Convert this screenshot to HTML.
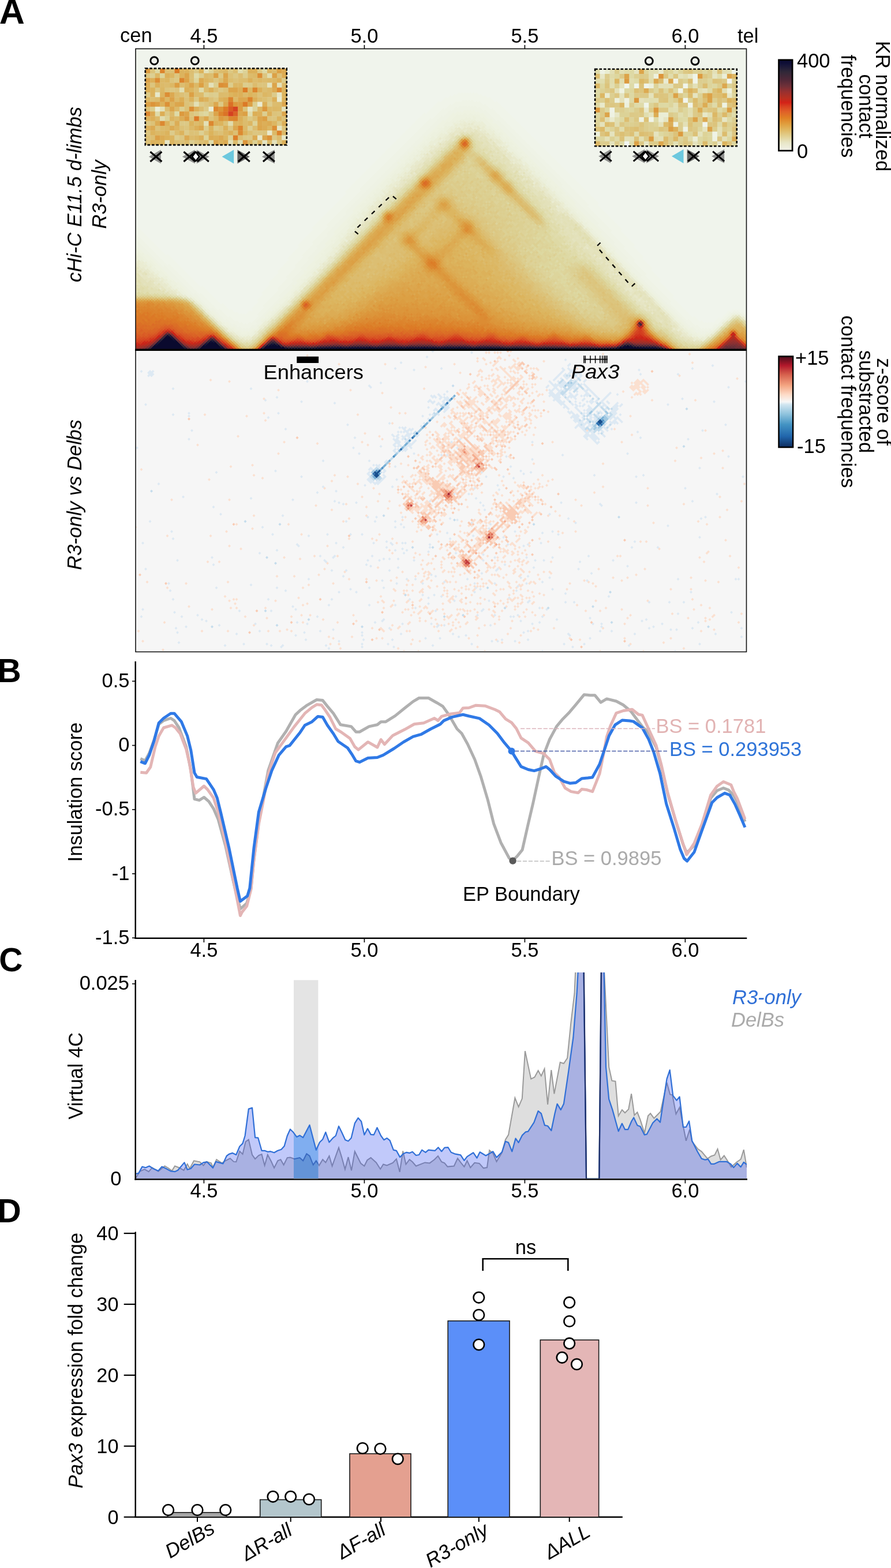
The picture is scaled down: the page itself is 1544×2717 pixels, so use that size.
<!DOCTYPE html><html><head><meta charset="utf-8"><title>Figure</title><style>html,body{margin:0;padding:0;background:#fff;}svg{display:block;}</style></head><body>
<svg width="1544" height="2717" viewBox="0 0 1544 2717" font-family="'Liberation Sans', Arial, Helvetica, sans-serif" font-size="34.5">
<defs><linearGradient id="cbA" x1="0" y1="1" x2="0" y2="0"><stop offset="0" stop-color="#f2f2ea"/><stop offset="0.09" stop-color="#e8e6c6"/><stop offset="0.16" stop-color="#e2d092"/><stop offset="0.23" stop-color="#e0b862"/><stop offset="0.29" stop-color="#e0a040"/><stop offset="0.36" stop-color="#e08024"/><stop offset="0.43" stop-color="#e06028"/><stop offset="0.49" stop-color="#d84020"/><stop offset="0.53" stop-color="#d42218"/><stop offset="0.58" stop-color="#b83020"/><stop offset="0.65" stop-color="#983030"/><stop offset="0.71" stop-color="#703038"/><stop offset="0.78" stop-color="#502838"/><stop offset="0.87" stop-color="#302838"/><stop offset="0.96" stop-color="#101038"/><stop offset="1" stop-color="#080830"/></linearGradient><linearGradient id="cbZ" x1="0" y1="1" x2="0" y2="0"><stop offset="0" stop-color="#0d2c5e"/><stop offset="0.12" stop-color="#2166ac"/><stop offset="0.25" stop-color="#4393c3"/><stop offset="0.37" stop-color="#92c5de"/><stop offset="0.47" stop-color="#d1e5f0"/><stop offset="0.5" stop-color="#f7f7f7"/><stop offset="0.58" stop-color="#fddbc7"/><stop offset="0.68" stop-color="#f4a582"/><stop offset="0.8" stop-color="#d6604d"/><stop offset="0.9" stop-color="#b2182b"/><stop offset="1" stop-color="#4a0d1c"/></linearGradient><clipPath id="clipHic"><rect x="235" y="85" width="1058" height="520"/></clipPath><clipPath id="clipZ"><rect x="235" y="608" width="1058" height="520"/></clipPath><clipPath id="clipC"><rect x="236" y="1685" width="1058" height="357"/></clipPath><clipPath id="clipEnh"><rect x="509" y="1685" width="42.4" height="357"/></clipPath></defs>
<rect width="1544" height="2717" fill="#fff"/>
<g font-weight="bold" font-size="57"><text x="-1.2" y="40.8" font-size="61">A</text><text x="-4.5" y="1182.4">B</text><text x="-1.8" y="1683">C</text><text x="-4.6" y="2117.7">D</text></g>
<g clip-path="url(#clipHic)"><g transform="matrix(0.5,0.5,0.5,-0.5,0,605.0)" shape-rendering="crispEdges"><path fill="#f0f4ec" d="M-295 750h5v10h-5zM-290 745h5v20h-5zM-285 740h5v30h-5zM-280 735h5v40h-5zM-275 730h5v50h-5zM-270 725h5v60h-5zM-265 720h5v70h-5zM-260 715h5v80h-5zM-255 710h5v90h-5zM-250 705h5v100h-5zM-245 700h5v110h-5zM-240 695h5v120h-5zM-235 690h5v130h-5zM-230 685h5v140h-5zM-225 680h5v150h-5zM-220 675h5v160h-5zM-215 670h5v170h-5zM-210 665h5v180h-5zM-205 660h5v190h-5zM-200 655h5v200h-5zM-195 650h5v210h-5zM-190 645h5v220h-5zM-185 640h5v230h-5zM-180 635h5v240h-5zM-175 630h5v250h-5zM-170 625h5v260h-5zM-165 620h5v270h-5zM-160 615h5v280h-5zM-155 610h5v290h-5zM-150 605h5v300h-5zM-145 600h5v310h-5zM-140 595h5v320h-5zM-135 590h5v330h-5zM-130 585h5v340h-5zM-125 580h5v350h-5zM-120 575h5v360h-5zM-115 570h5v370h-5zM-110 565h5v380h-5zM-105 560h5v390h-5zM-100 555h5v400h-5zM-95 550h5v410h-5zM-90 545h5v420h-5zM-85 540h5v430h-5zM-80 535h5v440h-5zM-75 530h5v450h-5zM-70 525h5v460h-5zM-65 520h5v470h-5zM-60 515h5v480h-5zM-55 510h5v490h-5zM-50 505h5v500h-5zM-45 500h5v510h-5zM-40 495h5v520h-5zM-35 490h5v530h-5zM-30 485h5v540h-5zM-25 480h5v550h-5zM-20 475h5v560h-5zM-15 470h5v570h-5zM-10 465h5v580h-5zM-5 460h5v590h-5zM0 455h5v600h-5zM5 450h5v610h-5zM10 450h5v615h-5zM15 450h5v620h-5zM20 450h5v625h-5zM25 450h5v630h-5zM30 450h5v635h-5zM35 450h5v640h-5zM40 450h5v645h-5zM45 450h5v650h-5zM50 450h5v655h-5zM55 450h5v660h-5zM60 450h5v665h-5zM65 450h5v670h-5zM70 450h5v675h-5zM75 450h5v680h-5zM80 450h5v685h-5zM85 450h5v690h-5zM90 450h5v695h-5zM95 450h5v700h-5zM100 450h5v705h-5zM105 450h5v710h-5zM110 450h5v715h-5zM115 450h5v720h-5zM120 450h5v725h-5zM125 455h5v725h-5zM130 455h5v730h-5zM135 455h5v735h-5zM140 455h5v740h-5zM145 455h5v745h-5zM150 455h5v750h-5zM155 455h5v755h-5zM160 455h5v760h-5zM165 455h5v765h-5zM170 455h5v770h-5zM175 455h5v775h-5zM180 455h5v780h-5zM185 455h5v785h-5zM190 455h5v790h-5zM195 455h5v795h-5zM200 455h5v800h-5zM205 455h5v805h-5zM210 455h5v810h-5zM215 455h5v815h-5zM220 455h5v820h-5zM225 455h5v825h-5zM230 455h5v830h-5zM235 455h5v835h-5zM240 460h5v835h-5zM245 460h5v840h-5zM250 460h5v845h-5zM255 460h5v850h-5zM260 460h5v855h-5zM265 460h5v860h-5zM270 460h5v865h-5zM275 460h5v870h-5zM280 460h5v875h-5zM285 460h5v880h-5zM290 460h5v885h-5zM295 460h5v890h-5zM300 460h5v895h-5zM305 465h5v895h-5zM310 465h5v900h-5zM315 465h5v905h-5zM320 465h5v910h-5zM325 465h5v405h-5zM325 1145h5v235h-5zM330 470h5v280h-5zM330 1190h5v195h-5zM335 470h5v225h-5zM335 1210h5v180h-5zM340 470h5v185h-5zM340 1220h5v175h-5zM345 475h5v140h-5zM345 1230h5v170h-5zM350 475h5v105h-5zM350 1240h5v165h-5zM355 480h5v70h-5zM355 1245h5v165h-5zM360 485h5v45h-5zM360 1250h5v165h-5zM365 500h5v5h-5zM365 1255h5v165h-5zM370 1260h5v165h-5zM375 1265h5v165h-5zM380 1270h5v165h-5zM385 1270h5v170h-5zM390 1275h5v170h-5zM395 1275h5v175h-5zM400 1280h5v175h-5zM405 1280h5v180h-5zM410 1285h5v180h-5zM415 1285h5v185h-5zM420 1285h5v190h-5zM425 1285h5v195h-5zM430 1290h5v195h-5zM435 1290h5v200h-5zM440 1290h5v205h-5zM445 1290h5v210h-5zM450 1290h5v215h-5zM455 1290h5v220h-5zM460 1290h5v225h-5zM465 1290h5v230h-5zM470 1290h5v235h-5zM475 1290h5v240h-5zM480 1290h5v245h-5zM485 1290h5v250h-5zM490 1290h5v255h-5zM495 1290h5v260h-5zM500 1290h5v265h-5zM505 1290h5v270h-5zM510 1290h5v275h-5zM515 1290h5v280h-5zM520 1290h5v285h-5zM525 1290h5v290h-5zM530 1290h5v295h-5zM535 1290h5v300h-5zM540 1290h5v305h-5zM545 1290h5v310h-5zM550 1290h5v315h-5zM555 1290h5v320h-5zM560 1290h5v325h-5zM565 1290h5v330h-5zM570 1290h5v335h-5zM575 1290h5v340h-5zM580 1290h5v345h-5zM585 1290h5v350h-5zM590 1290h5v355h-5zM595 1290h5v360h-5zM600 1290h5v365h-5zM605 1290h5v370h-5zM610 1290h5v375h-5zM615 1290h5v380h-5zM620 1290h5v385h-5zM625 1290h5v390h-5zM630 1290h5v395h-5zM635 1290h5v400h-5zM640 1290h5v405h-5zM645 1290h5v410h-5zM650 1290h5v415h-5zM655 1290h5v420h-5zM660 1290h5v425h-5zM665 1290h5v430h-5zM670 1290h5v435h-5zM675 1290h5v440h-5zM680 1290h5v445h-5zM685 1290h5v450h-5zM690 1290h5v455h-5zM695 1290h5v460h-5zM700 1290h5v465h-5zM705 1290h5v470h-5zM710 1290h5v475h-5zM715 1290h5v480h-5zM720 1290h5v485h-5zM725 1290h5v490h-5zM730 1290h5v495h-5zM735 1290h5v500h-5zM740 1290h5v505h-5zM745 1290h5v510h-5zM750 1290h5v515h-5zM755 1290h5v520h-5zM760 1290h5v525h-5zM765 1290h5v530h-5zM770 1290h5v535h-5zM775 1290h5v530h-5zM780 1290h5v525h-5zM785 1285h5v525h-5zM790 1285h5v520h-5zM795 1285h5v515h-5zM800 1285h5v510h-5zM805 1285h5v505h-5zM810 1285h5v500h-5zM815 1285h5v495h-5zM820 1285h5v490h-5zM825 1285h5v485h-5zM830 1285h5v480h-5zM835 1285h5v475h-5zM840 1285h5v470h-5zM845 1285h5v465h-5zM850 1285h5v460h-5zM855 1285h5v455h-5zM860 1285h5v450h-5zM865 1285h5v445h-5zM870 1280h5v445h-5zM875 1280h5v440h-5zM880 1280h5v435h-5zM885 1280h5v430h-5zM890 1280h5v425h-5zM895 1280h5v420h-5zM900 1280h5v415h-5zM905 1280h5v410h-5zM910 1280h5v405h-5zM915 1280h5v400h-5zM920 1275h5v400h-5zM925 1275h5v395h-5zM930 1275h5v390h-5zM935 1275h5v385h-5zM940 1275h5v380h-5zM945 1275h5v375h-5zM950 1275h5v370h-5zM955 1270h5v370h-5zM960 1270h5v365h-5zM965 1270h5v360h-5zM970 1270h5v355h-5zM975 1270h5v350h-5zM980 1270h5v345h-5zM985 1270h5v340h-5zM990 1265h5v340h-5zM995 1265h5v335h-5zM1000 1265h5v330h-5zM1005 1265h5v325h-5zM1010 1265h5v320h-5zM1015 1265h5v315h-5zM1020 1265h5v310h-5zM1025 1260h5v310h-5zM1030 1260h5v305h-5zM1035 1260h5v300h-5zM1040 1260h5v295h-5zM1045 1260h5v290h-5zM1050 1260h5v285h-5zM1055 1260h5v280h-5zM1060 1260h5v275h-5zM1065 1260h5v270h-5zM1070 1260h5v265h-5zM1075 1255h5v265h-5zM1080 1255h5v260h-5zM1085 1255h5v255h-5zM1090 1255h5v250h-5zM1095 1255h5v245h-5zM1100 1255h5v240h-5zM1105 1255h5v235h-5zM1110 1255h5v230h-5zM1115 1255h5v225h-5zM1120 1255h5v220h-5zM1125 1255h5v215h-5zM1130 1255h5v210h-5zM1135 1255h5v205h-5zM1140 1255h5v200h-5zM1145 1260h5v190h-5zM1150 1260h5v185h-5zM1155 1260h5v180h-5zM1160 1260h5v175h-5zM1165 1265h5v165h-5zM1170 1265h5v160h-5zM1175 1270h5v150h-5zM1180 1275h5v140h-5zM1185 1280h5v130h-5zM1190 1300h5v105h-5zM1195 1330h5v70h-5zM1200 1340h5v55h-5zM1205 1345h5v45h-5zM1210 1350h5v35h-5zM1215 1355h5v25h-5zM1220 1355h5v20h-5zM1225 1355h5v15h-5zM1230 1355h5v10h-5z"/><path fill="#f0f4e9" d="M10 445h5v5h-5zM15 440h5v10h-5zM20 435h5v15h-5zM25 430h5v20h-5zM30 430h5v20h-5zM35 435h5v15h-5zM40 435h5v15h-5zM45 435h5v15h-5zM50 435h5v15h-5zM55 435h5v15h-5zM60 435h5v15h-5zM65 435h5v15h-5zM70 435h5v15h-5zM75 435h5v15h-5zM80 435h5v15h-5zM85 435h5v15h-5zM90 435h5v15h-5zM95 435h5v15h-5zM100 435h5v15h-5zM105 435h5v15h-5zM110 435h5v15h-5zM115 435h5v15h-5zM120 435h5v15h-5zM125 435h5v20h-5zM130 435h5v20h-5zM135 435h5v20h-5zM140 435h5v20h-5zM145 440h5v15h-5zM150 440h5v15h-5zM155 440h5v15h-5zM160 440h5v15h-5zM165 440h5v15h-5zM170 440h5v15h-5zM175 440h5v15h-5zM180 440h5v15h-5zM185 440h5v15h-5zM190 440h5v15h-5zM195 440h5v15h-5zM200 440h5v15h-5zM205 440h5v15h-5zM210 440h5v15h-5zM215 440h5v15h-5zM220 440h5v15h-5zM225 440h5v15h-5zM230 440h5v15h-5zM235 440h5v15h-5zM240 440h5v20h-5zM245 440h5v20h-5zM250 445h5v15h-5zM255 445h5v15h-5zM260 445h5v15h-5zM265 445h5v15h-5zM270 445h5v15h-5zM275 445h5v15h-5zM280 445h5v15h-5zM285 445h5v15h-5zM290 445h5v15h-5zM295 445h5v15h-5zM300 445h5v15h-5zM305 445h5v20h-5zM310 450h5v15h-5zM315 450h5v15h-5zM320 450h5v15h-5zM325 450h5v15h-5zM325 870h5v275h-5zM330 450h5v20h-5zM330 750h5v440h-5zM335 450h5v20h-5zM335 695h5v515h-5zM340 455h5v15h-5zM340 655h5v565h-5zM345 455h5v20h-5zM345 615h5v285h-5zM345 1145h5v85h-5zM350 455h5v20h-5zM350 580h5v200h-5zM350 1185h5v55h-5zM355 455h5v25h-5zM355 550h5v175h-5zM355 1205h5v40h-5zM360 460h5v25h-5zM360 530h5v155h-5zM360 1220h5v30h-5zM365 460h5v40h-5zM365 505h5v150h-5zM365 1225h5v30h-5zM370 465h5v155h-5zM370 1235h5v25h-5zM375 465h5v120h-5zM375 1240h5v25h-5zM380 470h5v60h-5zM380 1245h5v25h-5zM385 480h5v25h-5zM385 1250h5v20h-5zM390 1250h5v25h-5zM395 1255h5v20h-5zM400 1260h5v20h-5zM405 1260h5v20h-5zM410 1260h5v25h-5zM415 1265h5v20h-5zM420 1265h5v20h-5zM425 1265h5v20h-5zM430 1265h5v25h-5zM435 1270h5v20h-5zM440 1270h5v20h-5zM445 1270h5v20h-5zM450 1270h5v20h-5zM455 1270h5v20h-5zM460 1270h5v20h-5zM465 1270h5v20h-5zM470 1270h5v20h-5zM475 1270h5v20h-5zM480 1270h5v20h-5zM485 1270h5v20h-5zM490 1270h5v20h-5zM495 1270h5v20h-5zM500 1270h5v20h-5zM505 1270h5v20h-5zM510 1270h5v20h-5zM515 1270h5v20h-5zM520 1270h5v20h-5zM525 1270h5v20h-5zM530 1270h5v20h-5zM535 1270h5v20h-5zM540 1270h5v20h-5zM545 1270h5v20h-5zM550 1270h5v20h-5zM555 1270h5v20h-5zM560 1270h5v20h-5zM565 1270h5v20h-5zM570 1270h5v20h-5zM575 1270h5v20h-5zM580 1270h5v20h-5zM585 1270h5v20h-5zM590 1270h5v20h-5zM595 1270h5v20h-5zM600 1270h5v20h-5zM605 1270h5v20h-5zM610 1270h5v20h-5zM615 1270h5v20h-5zM620 1270h5v20h-5zM625 1270h5v20h-5zM630 1270h5v20h-5zM635 1270h5v20h-5zM640 1270h5v20h-5zM645 1270h5v20h-5zM650 1270h5v20h-5zM655 1270h5v20h-5zM660 1270h5v20h-5zM665 1270h5v20h-5zM670 1270h5v20h-5zM675 1270h5v20h-5zM680 1270h5v20h-5zM685 1270h5v20h-5zM690 1270h5v20h-5zM695 1270h5v20h-5zM700 1270h5v20h-5zM705 1270h5v20h-5zM710 1270h5v20h-5zM715 1270h5v20h-5zM720 1270h5v20h-5zM725 1270h5v20h-5zM730 1270h5v20h-5zM735 1270h5v20h-5zM740 1270h5v20h-5zM745 1270h5v20h-5zM750 1270h5v20h-5zM755 1270h5v20h-5zM760 1270h5v20h-5zM765 1270h5v20h-5zM770 1265h5v25h-5zM775 1265h5v25h-5zM780 1265h5v25h-5zM785 1265h5v20h-5zM790 1265h5v20h-5zM795 1265h5v20h-5zM800 1265h5v20h-5zM805 1265h5v20h-5zM810 1265h5v20h-5zM815 1265h5v20h-5zM820 1265h5v20h-5zM825 1265h5v20h-5zM830 1265h5v20h-5zM835 1265h5v20h-5zM840 1265h5v20h-5zM845 1265h5v20h-5zM850 1265h5v20h-5zM855 1260h5v25h-5zM860 1260h5v25h-5zM865 1260h5v25h-5zM870 1260h5v20h-5zM875 1260h5v20h-5zM880 1260h5v20h-5zM885 1260h5v20h-5zM890 1260h5v20h-5zM895 1260h5v20h-5zM900 1260h5v20h-5zM905 1255h5v25h-5zM910 1255h5v25h-5zM915 1255h5v25h-5zM920 1255h5v20h-5zM925 1255h5v20h-5zM930 1255h5v20h-5zM935 1255h5v20h-5zM940 1255h5v20h-5zM945 1250h5v25h-5zM950 1250h5v25h-5zM955 1250h5v20h-5zM960 1250h5v20h-5zM965 1250h5v20h-5zM970 1250h5v20h-5zM975 1250h5v20h-5zM980 1250h5v20h-5zM985 1250h5v20h-5zM990 1245h5v20h-5zM995 1245h5v20h-5zM1000 1245h5v20h-5zM1005 1245h5v20h-5zM1010 1245h5v20h-5zM1015 1245h5v20h-5zM1020 1245h5v20h-5zM1025 1245h5v15h-5zM1030 1245h5v15h-5zM1035 1245h5v15h-5zM1040 1245h5v15h-5zM1045 1245h5v15h-5zM1050 1245h5v15h-5zM1055 1245h5v15h-5zM1060 1245h5v15h-5zM1065 1245h5v15h-5zM1070 1245h5v15h-5zM1075 1245h5v10h-5zM1080 1240h5v15h-5zM1085 1240h5v15h-5zM1090 1240h5v15h-5zM1095 1240h5v15h-5zM1100 1240h5v15h-5zM1105 1240h5v15h-5zM1110 1240h5v15h-5zM1115 1240h5v15h-5zM1120 1240h5v15h-5zM1125 1240h5v15h-5zM1130 1240h5v15h-5zM1135 1240h5v15h-5zM1140 1245h5v10h-5zM1145 1245h5v15h-5zM1150 1245h5v15h-5zM1155 1245h5v15h-5zM1160 1245h5v15h-5zM1165 1250h5v15h-5zM1170 1250h5v15h-5zM1175 1250h5v20h-5zM1180 1255h5v20h-5zM1185 1260h5v20h-5zM1190 1265h5v35h-5zM1195 1285h5v45h-5zM1200 1330h5v10h-5zM1205 1340h5v5h-5zM1210 1345h5v5h-5zM1215 1345h5v10h-5zM1220 1350h5v5h-5zM1225 1350h5v5h-5zM1230 1350h5v5h-5zM1235 1355h5v5h-5z"/><path fill="#eff3e6" d="M30 425h5v5h-5zM35 425h5v10h-5zM40 425h5v10h-5zM45 425h5v10h-5zM50 425h5v10h-5zM55 425h5v10h-5zM60 425h5v10h-5zM65 425h5v10h-5zM70 425h5v10h-5zM75 425h5v10h-5zM80 425h5v10h-5zM85 425h5v10h-5zM90 425h5v10h-5zM95 425h5v10h-5zM100 425h5v10h-5zM105 425h5v10h-5zM110 425h5v10h-5zM115 425h5v10h-5zM120 425h5v10h-5zM125 425h5v10h-5zM130 425h5v10h-5zM135 425h5v10h-5zM140 430h5v5h-5zM145 430h5v10h-5zM150 430h5v10h-5zM155 430h5v10h-5zM160 430h5v10h-5zM165 430h5v10h-5zM170 430h5v10h-5zM175 430h5v10h-5zM180 430h5v10h-5zM185 430h5v10h-5zM190 430h5v10h-5zM195 430h5v10h-5zM200 430h5v10h-5zM205 430h5v10h-5zM210 430h5v10h-5zM215 430h5v10h-5zM220 430h5v10h-5zM225 430h5v10h-5zM230 430h5v10h-5zM235 430h5v10h-5zM240 435h5v5h-5zM245 435h5v5h-5zM250 435h5v10h-5zM255 435h5v10h-5zM260 435h5v10h-5zM265 435h5v10h-5zM270 435h5v10h-5zM275 435h5v10h-5zM280 435h5v10h-5zM285 435h5v10h-5zM290 435h5v10h-5zM295 440h5v5h-5zM300 440h5v5h-5zM305 440h5v5h-5zM310 440h5v10h-5zM315 440h5v10h-5zM320 440h5v10h-5zM325 440h5v10h-5zM330 440h5v10h-5zM335 440h5v10h-5zM340 445h5v10h-5zM345 445h5v10h-5zM345 900h5v245h-5zM350 445h5v10h-5zM350 780h5v405h-5zM355 445h5v10h-5zM355 725h5v480h-5zM360 450h5v10h-5zM360 685h5v150h-5zM360 1170h5v50h-5zM365 450h5v10h-5zM365 655h5v110h-5zM365 1195h5v30h-5zM370 450h5v15h-5zM370 620h5v105h-5zM370 1210h5v25h-5zM375 455h5v10h-5zM375 585h5v105h-5zM375 1220h5v20h-5zM380 455h5v15h-5zM380 530h5v130h-5zM380 1225h5v20h-5zM385 460h5v20h-5zM385 505h5v120h-5zM385 1230h5v20h-5zM390 465h5v110h-5zM390 1235h5v15h-5zM395 480h5v10h-5zM395 1240h5v15h-5zM400 1245h5v15h-5zM405 1245h5v15h-5zM410 1250h5v10h-5zM415 1250h5v15h-5zM420 1250h5v15h-5zM425 1255h5v10h-5zM430 1255h5v10h-5zM435 1255h5v15h-5zM440 1255h5v15h-5zM445 1255h5v15h-5zM450 1255h5v15h-5zM455 1255h5v15h-5zM460 1255h5v15h-5zM465 1260h5v10h-5zM470 1260h5v10h-5zM475 1260h5v10h-5zM480 1260h5v10h-5zM485 1260h5v10h-5zM490 1260h5v10h-5zM495 1260h5v10h-5zM500 1260h5v10h-5zM505 1260h5v10h-5zM510 1260h5v10h-5zM515 1260h5v10h-5zM520 1260h5v10h-5zM525 1260h5v10h-5zM530 1260h5v10h-5zM535 1260h5v10h-5zM540 1260h5v10h-5zM545 1260h5v10h-5zM550 1260h5v10h-5zM555 1260h5v10h-5zM560 1260h5v10h-5zM565 1260h5v10h-5zM570 1260h5v10h-5zM575 1260h5v10h-5zM580 1260h5v10h-5zM585 1260h5v10h-5zM590 1260h5v10h-5zM595 1260h5v10h-5zM600 1260h5v10h-5zM605 1260h5v10h-5zM610 1260h5v10h-5zM615 1260h5v10h-5zM620 1260h5v10h-5zM625 1260h5v10h-5zM630 1260h5v10h-5zM635 1260h5v10h-5zM640 1260h5v10h-5zM645 1260h5v10h-5zM650 1260h5v10h-5zM655 1260h5v10h-5zM660 1260h5v10h-5zM665 1260h5v10h-5zM670 1260h5v10h-5zM675 1260h5v10h-5zM680 1260h5v10h-5zM685 1260h5v10h-5zM690 1255h5v15h-5zM695 1255h5v15h-5zM700 1255h5v15h-5zM705 1255h5v15h-5zM710 1255h5v15h-5zM715 1255h5v15h-5zM720 1255h5v15h-5zM725 1255h5v15h-5zM730 1255h5v15h-5zM735 1255h5v15h-5zM740 1255h5v15h-5zM745 1255h5v15h-5zM750 1255h5v15h-5zM755 1255h5v15h-5zM760 1255h5v15h-5zM765 1255h5v15h-5zM770 1255h5v10h-5zM775 1255h5v10h-5zM780 1255h5v10h-5zM785 1255h5v10h-5zM790 1255h5v10h-5zM795 1255h5v10h-5zM800 1255h5v10h-5zM805 1255h5v10h-5zM810 1255h5v10h-5zM815 1255h5v10h-5zM820 1250h5v15h-5zM825 1250h5v15h-5zM830 1250h5v15h-5zM835 1250h5v15h-5zM840 1250h5v15h-5zM845 1250h5v15h-5zM850 1250h5v15h-5zM855 1250h5v10h-5zM860 1250h5v10h-5zM865 1250h5v10h-5zM870 1250h5v10h-5zM875 1250h5v10h-5zM880 1245h5v15h-5zM885 1245h5v15h-5zM890 1245h5v15h-5zM895 1245h5v15h-5zM900 1245h5v15h-5zM905 1245h5v10h-5zM910 1245h5v10h-5zM915 1245h5v10h-5zM920 1245h5v10h-5zM925 1245h5v10h-5zM930 1240h5v15h-5zM935 1240h5v15h-5zM940 1240h5v15h-5zM945 1240h5v10h-5zM950 1240h5v10h-5zM955 1240h5v10h-5zM960 1240h5v10h-5zM965 1240h5v10h-5zM970 1240h5v10h-5zM975 1240h5v10h-5zM980 1240h5v10h-5zM985 1235h5v15h-5zM990 1235h5v10h-5zM995 1235h5v10h-5zM1000 1235h5v10h-5zM1005 1235h5v10h-5zM1010 1235h5v10h-5zM1015 1235h5v10h-5zM1020 1235h5v10h-5zM1025 1235h5v10h-5zM1030 1235h5v10h-5zM1035 1235h5v10h-5zM1040 1235h5v10h-5zM1045 1235h5v10h-5zM1050 1235h5v10h-5zM1055 1235h5v10h-5zM1060 1235h5v10h-5zM1065 1235h5v10h-5zM1070 1235h5v10h-5zM1075 1235h5v10h-5zM1080 1235h5v5h-5zM1085 1235h5v5h-5zM1090 1235h5v5h-5zM1095 1235h5v5h-5zM1100 1235h5v5h-5zM1105 1235h5v5h-5zM1110 1235h5v5h-5zM1115 1235h5v5h-5zM1120 1235h5v5h-5zM1125 1235h5v5h-5zM1130 1235h5v5h-5zM1135 1235h5v5h-5zM1140 1235h5v10h-5zM1145 1235h5v10h-5zM1150 1235h5v10h-5zM1155 1235h5v10h-5zM1160 1240h5v5h-5zM1165 1240h5v10h-5zM1170 1240h5v10h-5zM1175 1245h5v5h-5zM1180 1245h5v10h-5zM1185 1250h5v10h-5zM1190 1255h5v10h-5zM1195 1265h5v20h-5zM1200 1305h5v25h-5zM1205 1335h5v5h-5zM1210 1340h5v5h-5zM1220 1345h5v5h-5zM1235 1350h5v5h-5zM1240 1350h5v5h-5z"/><path fill="#eef2e4" d="M35 420h5v5h-5zM40 415h5v10h-5zM45 415h5v10h-5zM50 415h5v10h-5zM55 415h5v10h-5zM60 415h5v10h-5zM65 415h5v10h-5zM70 415h5v10h-5zM75 415h5v10h-5zM80 415h5v10h-5zM85 415h5v10h-5zM90 420h5v5h-5zM95 420h5v5h-5zM100 420h5v5h-5zM105 420h5v5h-5zM110 420h5v5h-5zM115 420h5v5h-5zM120 420h5v5h-5zM125 420h5v5h-5zM130 420h5v5h-5zM135 420h5v5h-5zM140 420h5v10h-5zM145 420h5v10h-5zM150 420h5v10h-5zM155 420h5v10h-5zM160 420h5v10h-5zM165 420h5v10h-5zM170 420h5v10h-5zM175 420h5v10h-5zM180 420h5v10h-5zM185 420h5v10h-5zM190 425h5v5h-5zM195 425h5v5h-5zM200 425h5v5h-5zM205 425h5v5h-5zM210 425h5v5h-5zM215 425h5v5h-5zM220 425h5v5h-5zM225 425h5v5h-5zM230 425h5v5h-5zM235 425h5v5h-5zM240 425h5v10h-5zM245 430h5v5h-5zM250 430h5v5h-5zM255 430h5v5h-5zM260 430h5v5h-5zM265 430h5v5h-5zM270 430h5v5h-5zM275 430h5v5h-5zM280 430h5v5h-5zM285 430h5v5h-5zM290 430h5v5h-5zM295 430h5v10h-5zM300 435h5v5h-5zM305 435h5v5h-5zM310 435h5v5h-5zM315 435h5v5h-5zM320 435h5v5h-5zM325 435h5v5h-5zM330 435h5v5h-5zM335 435h5v5h-5zM340 435h5v10h-5zM345 440h5v5h-5zM350 440h5v5h-5zM355 440h5v5h-5zM360 440h5v10h-5zM360 835h5v335h-5zM365 445h5v5h-5zM365 765h5v245h-5zM365 1015h5v5h-5zM365 1025h5v5h-5zM365 1040h5v5h-5zM365 1050h5v15h-5zM365 1070h5v30h-5zM365 1105h5v90h-5zM370 445h5v5h-5zM370 725h5v125h-5zM370 1165h5v45h-5zM375 445h5v10h-5zM375 690h5v90h-5zM375 1195h5v25h-5zM380 450h5v5h-5zM380 660h5v85h-5zM380 1205h5v20h-5zM385 450h5v10h-5zM385 625h5v75h-5zM385 1210h5v20h-5zM390 455h5v10h-5zM390 575h5v85h-5zM390 665h5v5h-5zM390 1220h5v15h-5zM395 460h5v20h-5zM395 490h5v125h-5zM395 620h5v10h-5zM395 1225h5v15h-5zM400 475h5v25h-5zM400 510h5v5h-5zM400 535h5v5h-5zM400 560h5v5h-5zM400 1230h5v15h-5zM405 1235h5v10h-5zM410 1235h5v15h-5zM415 1240h5v10h-5zM420 1240h5v10h-5zM425 1245h5v10h-5zM430 1245h5v10h-5zM435 1245h5v10h-5zM440 1245h5v10h-5zM445 1245h5v10h-5zM450 1250h5v5h-5zM455 1250h5v5h-5zM460 1245h5v10h-5zM465 1250h5v10h-5zM470 1250h5v10h-5zM475 1250h5v10h-5zM480 1250h5v10h-5zM485 1250h5v10h-5zM490 1250h5v10h-5zM495 1250h5v10h-5zM500 1250h5v10h-5zM505 1250h5v10h-5zM510 1250h5v10h-5zM515 1250h5v10h-5zM520 1250h5v10h-5zM525 1250h5v10h-5zM530 1250h5v10h-5zM535 1250h5v10h-5zM540 1250h5v10h-5zM545 1250h5v10h-5zM550 1250h5v10h-5zM555 1250h5v10h-5zM560 1250h5v10h-5zM565 1250h5v10h-5zM570 1250h5v10h-5zM575 1250h5v10h-5zM580 1250h5v10h-5zM585 1250h5v10h-5zM590 1250h5v10h-5zM595 1250h5v10h-5zM600 1250h5v10h-5zM605 1250h5v10h-5zM610 1250h5v10h-5zM615 1250h5v10h-5zM620 1250h5v10h-5zM625 1250h5v10h-5zM630 1250h5v10h-5zM635 1250h5v10h-5zM640 1250h5v10h-5zM645 1250h5v10h-5zM650 1250h5v10h-5zM655 1250h5v10h-5zM660 1250h5v10h-5zM665 1250h5v10h-5zM670 1250h5v10h-5zM675 1250h5v10h-5zM680 1250h5v10h-5zM685 1250h5v10h-5zM690 1250h5v5h-5zM695 1250h5v5h-5zM700 1250h5v5h-5zM705 1250h5v5h-5zM710 1245h5v10h-5zM715 1250h5v5h-5zM720 1250h5v5h-5zM725 1250h5v5h-5zM730 1250h5v5h-5zM735 1250h5v5h-5zM740 1250h5v5h-5zM745 1245h5v10h-5zM750 1245h5v10h-5zM755 1245h5v10h-5zM760 1245h5v10h-5zM765 1245h5v10h-5zM770 1245h5v10h-5zM775 1245h5v10h-5zM780 1245h5v10h-5zM785 1245h5v10h-5zM790 1245h5v10h-5zM795 1245h5v10h-5zM800 1245h5v10h-5zM805 1245h5v10h-5zM810 1245h5v10h-5zM815 1245h5v10h-5zM820 1245h5v5h-5zM825 1245h5v5h-5zM830 1245h5v5h-5zM835 1245h5v5h-5zM840 1240h5v10h-5zM845 1240h5v10h-5zM850 1240h5v10h-5zM855 1240h5v10h-5zM860 1240h5v10h-5zM865 1240h5v10h-5zM870 1240h5v10h-5zM875 1240h5v10h-5zM880 1240h5v5h-5zM885 1240h5v5h-5zM890 1240h5v5h-5zM895 1235h5v10h-5zM900 1235h5v10h-5zM905 1235h5v10h-5zM910 1235h5v10h-5zM915 1235h5v10h-5zM920 1235h5v10h-5zM925 1235h5v10h-5zM930 1235h5v5h-5zM935 1235h5v5h-5zM940 1235h5v5h-5zM945 1235h5v5h-5zM950 1235h5v5h-5zM955 1230h5v10h-5zM960 1230h5v10h-5zM965 1230h5v10h-5zM970 1230h5v10h-5zM975 1230h5v10h-5zM980 1230h5v10h-5zM985 1230h5v5h-5zM990 1230h5v5h-5zM995 1230h5v5h-5zM1000 1230h5v5h-5zM1005 1230h5v5h-5zM1010 1230h5v5h-5zM1015 1230h5v5h-5zM1020 1230h5v5h-5zM1025 1230h5v5h-5zM1030 1230h5v5h-5zM1035 1230h5v5h-5zM1040 1230h5v5h-5zM1045 1230h5v5h-5zM1050 1230h5v5h-5zM1055 1230h5v5h-5zM1060 1230h5v5h-5zM1065 1230h5v5h-5zM1070 1230h5v5h-5zM1075 1230h5v5h-5zM1080 1230h5v5h-5zM1085 1230h5v5h-5zM1090 1230h5v5h-5zM1095 1230h5v5h-5zM1100 1230h5v5h-5zM1105 1230h5v5h-5zM1110 1230h5v5h-5zM1115 1230h5v5h-5zM1120 1230h5v5h-5zM1125 1230h5v5h-5zM1130 1230h5v5h-5zM1135 1230h5v5h-5zM1140 1230h5v5h-5zM1145 1230h5v5h-5zM1150 1230h5v5h-5zM1155 1230h5v5h-5zM1160 1235h5v5h-5zM1165 1235h5v5h-5zM1170 1235h5v5h-5zM1175 1235h5v10h-5zM1180 1240h5v5h-5zM1185 1240h5v10h-5zM1190 1245h5v10h-5zM1195 1255h5v10h-5zM1200 1275h5v30h-5zM1205 1330h5v5h-5zM1210 1335h5v5h-5zM1215 1340h5v5h-5zM1225 1345h5v5h-5zM1230 1345h5v5h-5z"/><path fill="#eef2e1" d="M45 410h5v5h-5zM50 410h5v5h-5zM55 410h5v5h-5zM60 410h5v5h-5zM65 410h5v5h-5zM70 410h5v5h-5zM75 410h5v5h-5zM85 410h5v5h-5zM90 410h5v10h-5zM95 410h5v10h-5zM100 410h5v10h-5zM105 415h5v5h-5zM110 415h5v5h-5zM115 415h5v5h-5zM120 415h5v5h-5zM125 410h5v10h-5zM130 410h5v10h-5zM135 410h5v10h-5zM140 415h5v5h-5zM145 415h5v5h-5zM150 415h5v5h-5zM155 415h5v5h-5zM160 415h5v5h-5zM165 415h5v5h-5zM170 415h5v5h-5zM175 415h5v5h-5zM190 420h5v5h-5zM195 415h5v10h-5zM200 415h5v10h-5zM205 420h5v5h-5zM210 420h5v5h-5zM215 420h5v5h-5zM220 420h5v5h-5zM225 420h5v5h-5zM230 420h5v5h-5zM245 425h5v5h-5zM250 425h5v5h-5zM255 425h5v5h-5zM300 430h5v5h-5zM305 430h5v5h-5zM310 430h5v5h-5zM315 430h5v5h-5zM320 430h5v5h-5zM325 430h5v5h-5zM330 430h5v5h-5zM335 430h5v5h-5zM345 430h5v10h-5zM350 435h5v5h-5zM355 435h5v5h-5zM360 435h5v5h-5zM365 440h5v5h-5zM365 1010h5v5h-5zM365 1020h5v5h-5zM365 1030h5v10h-5zM365 1045h5v5h-5zM365 1065h5v5h-5zM365 1100h5v5h-5zM370 440h5v5h-5zM370 850h5v315h-5zM375 440h5v5h-5zM375 780h5v90h-5zM375 885h5v5h-5zM375 895h5v5h-5zM375 905h5v10h-5zM375 920h5v5h-5zM375 935h5v5h-5zM375 970h5v5h-5zM375 1020h5v5h-5zM375 1060h5v5h-5zM375 1070h5v5h-5zM375 1095h5v5h-5zM375 1110h5v5h-5zM375 1130h5v10h-5zM375 1145h5v50h-5zM380 445h5v5h-5zM380 745h5v75h-5zM380 830h5v5h-5zM380 850h5v5h-5zM380 860h5v5h-5zM380 1150h5v5h-5zM380 1170h5v35h-5zM385 445h5v5h-5zM385 700h5v60h-5zM385 765h5v10h-5zM385 1200h5v10h-5zM390 445h5v10h-5zM390 660h5v5h-5zM390 670h5v50h-5zM390 725h5v5h-5zM390 760h5v5h-5zM390 1205h5v15h-5zM395 450h5v10h-5zM395 615h5v5h-5zM395 630h5v65h-5zM395 1215h5v10h-5zM400 460h5v15h-5zM400 500h5v10h-5zM400 515h5v20h-5zM400 540h5v20h-5zM400 565h5v75h-5zM400 645h5v10h-5zM400 1215h5v15h-5zM405 475h5v10h-5zM405 490h5v10h-5zM405 515h5v5h-5zM405 525h5v5h-5zM405 540h5v5h-5zM405 550h5v10h-5zM405 565h5v15h-5zM405 590h5v10h-5zM405 1225h5v10h-5zM410 1225h5v10h-5zM415 1230h5v10h-5zM420 1235h5v5h-5zM425 1235h5v10h-5zM430 1235h5v10h-5zM435 1240h5v5h-5zM440 1240h5v5h-5zM445 1240h5v5h-5zM450 1240h5v10h-5zM455 1240h5v10h-5zM460 1240h5v5h-5zM465 1240h5v10h-5zM470 1240h5v10h-5zM475 1240h5v10h-5zM480 1245h5v5h-5zM485 1240h5v10h-5zM490 1245h5v5h-5zM495 1245h5v5h-5zM500 1240h5v10h-5zM505 1240h5v10h-5zM510 1245h5v5h-5zM515 1245h5v5h-5zM520 1240h5v10h-5zM525 1245h5v5h-5zM530 1245h5v5h-5zM535 1240h5v10h-5zM540 1245h5v5h-5zM545 1245h5v5h-5zM550 1240h5v10h-5zM555 1240h5v10h-5zM560 1245h5v5h-5zM565 1240h5v10h-5zM570 1240h5v10h-5zM575 1245h5v5h-5zM580 1240h5v10h-5zM585 1240h5v10h-5zM590 1245h5v5h-5zM595 1240h5v10h-5zM600 1245h5v5h-5zM605 1240h5v10h-5zM610 1245h5v5h-5zM615 1245h5v5h-5zM620 1245h5v5h-5zM625 1245h5v5h-5zM630 1240h5v10h-5zM635 1245h5v5h-5zM640 1240h5v10h-5zM645 1240h5v10h-5zM650 1245h5v5h-5zM655 1240h5v10h-5zM660 1245h5v5h-5zM665 1240h5v10h-5zM670 1240h5v10h-5zM675 1240h5v10h-5zM680 1245h5v5h-5zM685 1240h5v10h-5zM690 1240h5v10h-5zM695 1245h5v5h-5zM700 1245h5v5h-5zM705 1240h5v10h-5zM710 1240h5v5h-5zM715 1240h5v10h-5zM720 1240h5v10h-5zM725 1240h5v10h-5zM730 1240h5v10h-5zM735 1240h5v10h-5zM740 1240h5v10h-5zM745 1240h5v5h-5zM750 1240h5v5h-5zM755 1240h5v5h-5zM760 1235h5v10h-5zM765 1240h5v5h-5zM770 1240h5v5h-5zM775 1240h5v5h-5zM780 1240h5v5h-5zM785 1240h5v5h-5zM790 1235h5v10h-5zM795 1240h5v5h-5zM800 1235h5v10h-5zM805 1235h5v10h-5zM810 1235h5v10h-5zM815 1235h5v10h-5zM820 1235h5v10h-5zM825 1235h5v10h-5zM830 1235h5v10h-5zM835 1235h5v10h-5zM840 1235h5v5h-5zM845 1235h5v5h-5zM850 1235h5v5h-5zM855 1235h5v5h-5zM860 1235h5v5h-5zM865 1235h5v5h-5zM870 1235h5v5h-5zM875 1230h5v10h-5zM880 1235h5v5h-5zM885 1230h5v10h-5zM890 1235h5v5h-5zM895 1230h5v5h-5zM900 1230h5v5h-5zM905 1230h5v5h-5zM910 1230h5v5h-5zM915 1230h5v5h-5zM920 1230h5v5h-5zM925 1230h5v5h-5zM930 1230h5v5h-5zM935 1230h5v5h-5zM940 1230h5v5h-5zM945 1230h5v5h-5zM950 1230h5v5h-5zM955 1225h5v5h-5zM960 1225h5v5h-5zM970 1225h5v5h-5zM980 1225h5v5h-5zM985 1225h5v5h-5zM990 1225h5v5h-5zM995 1225h5v5h-5zM1000 1225h5v5h-5zM1005 1225h5v5h-5zM1010 1225h5v5h-5zM1015 1225h5v5h-5zM1020 1225h5v5h-5zM1025 1225h5v5h-5zM1030 1225h5v5h-5zM1035 1225h5v5h-5zM1040 1225h5v5h-5zM1045 1225h5v5h-5zM1050 1225h5v5h-5zM1055 1225h5v5h-5zM1060 1225h5v5h-5zM1065 1225h5v5h-5zM1070 1225h5v5h-5zM1075 1225h5v5h-5zM1080 1225h5v5h-5zM1085 1225h5v5h-5zM1090 1225h5v5h-5zM1095 1225h5v5h-5zM1100 1225h5v5h-5zM1105 1225h5v5h-5zM1110 1225h5v5h-5zM1115 1225h5v5h-5zM1120 1225h5v5h-5zM1125 1225h5v5h-5zM1130 1225h5v5h-5zM1135 1225h5v5h-5zM1140 1225h5v5h-5zM1145 1225h5v5h-5zM1150 1225h5v5h-5zM1155 1225h5v5h-5zM1160 1230h5v5h-5zM1165 1230h5v5h-5zM1170 1230h5v5h-5zM1180 1235h5v5h-5zM1185 1235h5v5h-5zM1190 1240h5v5h-5zM1195 1250h5v5h-5zM1200 1265h5v10h-5zM1205 1320h5v10h-5zM1235 1345h5v5h-5zM1240 1345h5v5h-5zM1245 1345h5v5h-5z"/><path fill="#edf1df" d="M50 405h5v5h-5zM55 405h5v5h-5zM60 400h5v10h-5zM65 400h5v10h-5zM70 405h5v5h-5zM75 405h5v5h-5zM80 405h5v10h-5zM85 405h5v5h-5zM90 405h5v5h-5zM95 400h5v10h-5zM100 405h5v5h-5zM105 405h5v10h-5zM110 410h5v5h-5zM115 410h5v5h-5zM120 405h5v10h-5zM130 405h5v5h-5zM140 410h5v5h-5zM145 405h5v10h-5zM150 405h5v10h-5zM155 410h5v5h-5zM165 410h5v5h-5zM170 410h5v5h-5zM180 410h5v10h-5zM185 410h5v10h-5zM190 415h5v5h-5zM195 410h5v5h-5zM205 410h5v10h-5zM210 415h5v5h-5zM215 415h5v5h-5zM220 415h5v5h-5zM225 415h5v5h-5zM230 415h5v5h-5zM235 420h5v5h-5zM240 420h5v5h-5zM260 425h5v5h-5zM265 425h5v5h-5zM270 425h5v5h-5zM275 425h5v5h-5zM280 425h5v5h-5zM285 425h5v5h-5zM300 425h5v5h-5zM305 425h5v5h-5zM315 425h5v5h-5zM340 430h5v5h-5zM350 430h5v5h-5zM365 435h5v5h-5zM370 435h5v5h-5zM375 435h5v5h-5zM375 870h5v15h-5zM375 890h5v5h-5zM375 900h5v5h-5zM375 915h5v5h-5zM375 925h5v10h-5zM375 940h5v30h-5zM375 975h5v45h-5zM375 1025h5v35h-5zM375 1065h5v5h-5zM375 1075h5v20h-5zM375 1100h5v10h-5zM375 1115h5v15h-5zM375 1140h5v5h-5zM380 440h5v5h-5zM380 820h5v10h-5zM380 835h5v15h-5zM380 855h5v5h-5zM380 865h5v50h-5zM380 920h5v40h-5zM380 965h5v5h-5zM380 990h5v15h-5zM380 1015h5v5h-5zM380 1030h5v5h-5zM380 1040h5v10h-5zM380 1055h5v10h-5zM380 1070h5v10h-5zM380 1090h5v20h-5zM380 1120h5v30h-5zM380 1155h5v15h-5zM385 440h5v5h-5zM385 760h5v5h-5zM385 775h5v60h-5zM385 845h5v5h-5zM385 860h5v5h-5zM385 895h5v10h-5zM385 1120h5v5h-5zM385 1145h5v5h-5zM385 1160h5v40h-5zM390 440h5v5h-5zM390 720h5v5h-5zM390 730h5v30h-5zM390 765h5v15h-5zM390 785h5v5h-5zM390 795h5v20h-5zM390 845h5v5h-5zM390 1165h5v10h-5zM390 1180h5v25h-5zM395 445h5v5h-5zM395 695h5v55h-5zM395 785h5v5h-5zM395 1190h5v25h-5zM400 450h5v10h-5zM400 640h5v5h-5zM400 655h5v50h-5zM400 710h5v15h-5zM400 1200h5v15h-5zM405 455h5v20h-5zM405 485h5v5h-5zM405 500h5v15h-5zM405 520h5v5h-5zM405 530h5v10h-5zM405 545h5v5h-5zM405 560h5v5h-5zM405 580h5v10h-5zM405 600h5v45h-5zM405 650h5v20h-5zM405 690h5v10h-5zM405 1210h5v15h-5zM410 585h5v5h-5zM410 1215h5v10h-5zM415 1215h5v5h-5zM415 1225h5v5h-5zM420 1225h5v10h-5zM425 1220h5v15h-5zM430 1225h5v10h-5zM435 1230h5v10h-5zM440 1230h5v10h-5zM445 1230h5v10h-5zM450 1230h5v10h-5zM455 1230h5v10h-5zM460 1235h5v5h-5zM465 1235h5v5h-5zM470 1235h5v5h-5zM475 1235h5v5h-5zM480 1235h5v10h-5zM485 1235h5v5h-5zM490 1240h5v5h-5zM495 1235h5v10h-5zM500 1235h5v5h-5zM505 1235h5v5h-5zM510 1230h5v15h-5zM515 1235h5v10h-5zM520 1230h5v5h-5zM525 1235h5v10h-5zM530 1235h5v10h-5zM535 1235h5v5h-5zM540 1235h5v10h-5zM545 1235h5v10h-5zM550 1235h5v5h-5zM555 1235h5v5h-5zM560 1235h5v10h-5zM565 1235h5v5h-5zM575 1235h5v10h-5zM580 1235h5v5h-5zM585 1235h5v5h-5zM590 1235h5v10h-5zM595 1235h5v5h-5zM600 1235h5v10h-5zM610 1240h5v5h-5zM615 1235h5v10h-5zM620 1235h5v10h-5zM625 1240h5v5h-5zM630 1235h5v5h-5zM635 1235h5v10h-5zM640 1235h5v5h-5zM645 1235h5v5h-5zM650 1240h5v5h-5zM655 1235h5v5h-5zM660 1230h5v15h-5zM665 1235h5v5h-5zM670 1235h5v5h-5zM675 1235h5v5h-5zM680 1230h5v15h-5zM685 1235h5v5h-5zM690 1235h5v5h-5zM695 1235h5v10h-5zM700 1235h5v10h-5zM705 1235h5v5h-5zM710 1235h5v5h-5zM715 1235h5v5h-5zM720 1235h5v5h-5zM725 1230h5v10h-5zM730 1235h5v5h-5zM735 1230h5v10h-5zM740 1235h5v5h-5zM745 1235h5v5h-5zM750 1235h5v5h-5zM755 1235h5v5h-5zM765 1235h5v5h-5zM770 1235h5v5h-5zM775 1230h5v10h-5zM780 1235h5v5h-5zM785 1230h5v10h-5zM790 1230h5v5h-5zM795 1235h5v5h-5zM800 1230h5v5h-5zM805 1230h5v5h-5zM810 1230h5v5h-5zM820 1230h5v5h-5zM825 1230h5v5h-5zM830 1230h5v5h-5zM835 1230h5v5h-5zM840 1230h5v5h-5zM845 1230h5v5h-5zM850 1230h5v5h-5zM855 1230h5v5h-5zM860 1230h5v5h-5zM865 1230h5v5h-5zM870 1225h5v10h-5zM880 1230h5v5h-5zM885 1225h5v5h-5zM890 1230h5v5h-5zM900 1225h5v5h-5zM905 1225h5v5h-5zM910 1225h5v5h-5zM915 1225h5v5h-5zM920 1225h5v5h-5zM925 1225h5v5h-5zM930 1225h5v5h-5zM935 1225h5v5h-5zM940 1225h5v5h-5zM945 1225h5v5h-5zM950 1225h5v5h-5zM965 1225h5v5h-5zM975 1225h5v5h-5zM1005 1220h5v5h-5zM1070 1220h5v5h-5zM1080 1220h5v5h-5zM1115 1220h5v5h-5zM1120 1220h5v5h-5zM1125 1220h5v5h-5zM1135 1220h5v5h-5zM1145 1220h5v5h-5zM1160 1225h5v5h-5zM1165 1225h5v5h-5zM1170 1225h5v5h-5zM1175 1230h5v5h-5zM1180 1230h5v5h-5zM1185 1230h5v5h-5zM1190 1235h5v5h-5zM1195 1240h5v10h-5zM1200 1255h5v10h-5zM1205 1290h5v5h-5zM1205 1305h5v15h-5zM1220 1340h5v5h-5zM1225 1340h5v5h-5z"/><path fill="#ecf0dc" d="M55 400h5v5h-5zM65 390h5v10h-5zM70 400h5v5h-5zM75 400h5v5h-5zM80 395h5v10h-5zM85 395h5v10h-5zM90 400h5v5h-5zM105 400h5v5h-5zM110 400h5v10h-5zM115 405h5v5h-5zM120 400h5v5h-5zM125 400h5v10h-5zM130 400h5v5h-5zM135 400h5v10h-5zM140 405h5v5h-5zM145 400h5v5h-5zM150 400h5v5h-5zM155 405h5v5h-5zM160 405h5v10h-5zM170 405h5v5h-5zM175 405h5v10h-5zM180 405h5v5h-5zM185 405h5v5h-5zM190 405h5v10h-5zM195 405h5v5h-5zM200 410h5v5h-5zM210 410h5v5h-5zM215 410h5v5h-5zM220 410h5v5h-5zM235 415h5v5h-5zM245 420h5v5h-5zM250 420h5v5h-5zM290 425h5v5h-5zM295 425h5v5h-5zM310 425h5v5h-5zM320 425h5v5h-5zM325 425h5v5h-5zM340 425h5v5h-5zM355 430h5v5h-5zM360 430h5v5h-5zM365 430h5v5h-5zM380 435h5v5h-5zM380 915h5v5h-5zM380 960h5v5h-5zM380 970h5v20h-5zM380 1005h5v10h-5zM380 1020h5v10h-5zM380 1035h5v5h-5zM380 1050h5v5h-5zM380 1065h5v5h-5zM380 1080h5v10h-5zM380 1110h5v10h-5zM385 435h5v5h-5zM385 835h5v10h-5zM385 850h5v10h-5zM385 865h5v30h-5zM385 905h5v30h-5zM385 940h5v10h-5zM385 955h5v15h-5zM385 975h5v15h-5zM385 995h5v15h-5zM385 1030h5v15h-5zM385 1050h5v5h-5zM385 1060h5v10h-5zM385 1075h5v5h-5zM385 1090h5v10h-5zM385 1110h5v10h-5zM385 1125h5v20h-5zM385 1150h5v10h-5zM390 780h5v5h-5zM390 790h5v5h-5zM390 815h5v25h-5zM390 850h5v10h-5zM390 870h5v10h-5zM390 890h5v10h-5zM390 905h5v5h-5zM390 920h5v5h-5zM390 930h5v5h-5zM390 975h5v5h-5zM390 1015h5v5h-5zM390 1050h5v10h-5zM390 1140h5v25h-5zM390 1175h5v5h-5zM395 440h5v5h-5zM395 750h5v35h-5zM395 790h5v15h-5zM395 815h5v5h-5zM395 855h5v5h-5zM395 1105h5v5h-5zM395 1145h5v5h-5zM395 1170h5v5h-5zM395 1180h5v10h-5zM400 445h5v5h-5zM400 705h5v5h-5zM400 725h5v25h-5zM400 755h5v20h-5zM400 820h5v5h-5zM400 1185h5v5h-5zM400 1195h5v5h-5zM405 645h5v5h-5zM405 670h5v20h-5zM405 705h5v20h-5zM405 730h5v5h-5zM405 1200h5v10h-5zM410 455h5v15h-5zM410 475h5v10h-5zM410 510h5v75h-5zM410 590h5v15h-5zM410 615h5v10h-5zM410 645h5v5h-5zM410 665h5v5h-5zM410 680h5v5h-5zM410 1200h5v15h-5zM415 1210h5v5h-5zM415 1220h5v5h-5zM420 1215h5v10h-5zM430 1220h5v5h-5zM435 1225h5v5h-5zM455 1225h5v5h-5zM460 1225h5v10h-5zM465 1230h5v5h-5zM470 1230h5v5h-5zM480 1230h5v5h-5zM485 1230h5v5h-5zM490 1230h5v10h-5zM500 1230h5v5h-5zM505 1230h5v5h-5zM520 1235h5v5h-5zM530 1225h5v10h-5zM535 1225h5v10h-5zM540 1225h5v10h-5zM545 1230h5v5h-5zM550 1230h5v5h-5zM555 1230h5v5h-5zM560 1230h5v5h-5zM565 1230h5v5h-5zM570 1235h5v5h-5zM575 1230h5v5h-5zM580 1230h5v5h-5zM585 1225h5v5h-5zM600 1230h5v5h-5zM605 1230h5v10h-5zM610 1230h5v10h-5zM615 1225h5v5h-5zM620 1230h5v5h-5zM625 1230h5v10h-5zM630 1230h5v5h-5zM640 1230h5v5h-5zM645 1230h5v5h-5zM650 1230h5v10h-5zM655 1230h5v5h-5zM665 1230h5v5h-5zM670 1230h5v5h-5zM675 1230h5v5h-5zM690 1230h5v5h-5zM695 1230h5v5h-5zM700 1230h5v5h-5zM705 1230h5v5h-5zM710 1225h5v10h-5zM715 1230h5v5h-5zM720 1230h5v5h-5zM730 1225h5v10h-5zM740 1230h5v5h-5zM745 1230h5v5h-5zM750 1225h5v10h-5zM755 1230h5v5h-5zM760 1230h5v5h-5zM765 1230h5v5h-5zM770 1230h5v5h-5zM780 1225h5v10h-5zM790 1225h5v5h-5zM795 1225h5v10h-5zM800 1225h5v5h-5zM815 1225h5v10h-5zM820 1225h5v5h-5zM825 1225h5v5h-5zM830 1225h5v5h-5zM835 1225h5v5h-5zM845 1225h5v5h-5zM850 1225h5v5h-5zM855 1225h5v5h-5zM860 1225h5v5h-5zM865 1225h5v5h-5zM875 1225h5v5h-5zM880 1220h5v10h-5zM890 1225h5v5h-5zM895 1220h5v10h-5zM915 1220h5v5h-5zM935 1220h5v5h-5zM945 1220h5v5h-5zM960 1220h5v5h-5zM965 1220h5v5h-5zM970 1220h5v5h-5zM975 1220h5v5h-5zM980 1220h5v5h-5zM985 1220h5v5h-5zM990 1220h5v5h-5zM995 1220h5v5h-5zM1010 1220h5v5h-5zM1015 1220h5v5h-5zM1020 1220h5v5h-5zM1025 1220h5v5h-5zM1030 1220h5v5h-5zM1035 1220h5v5h-5zM1040 1220h5v5h-5zM1045 1220h5v5h-5zM1050 1220h5v5h-5zM1055 1220h5v5h-5zM1060 1220h5v5h-5zM1065 1220h5v5h-5zM1075 1220h5v5h-5zM1085 1220h5v5h-5zM1090 1220h5v5h-5zM1095 1220h5v5h-5zM1100 1220h5v5h-5zM1105 1220h5v5h-5zM1110 1220h5v5h-5zM1130 1220h5v5h-5zM1140 1220h5v5h-5zM1150 1220h5v5h-5zM1155 1220h5v5h-5zM1160 1220h5v5h-5zM1165 1220h5v5h-5zM1175 1220h5v10h-5zM1180 1225h5v5h-5zM1190 1230h5v5h-5zM1200 1250h5v5h-5zM1205 1285h5v5h-5zM1205 1300h5v5h-5zM1210 1330h5v5h-5zM1215 1335h5v5h-5z"/><path fill="#ebeed7" d="M60 395h5v5h-5zM70 390h5v10h-5zM75 395h5v5h-5zM80 390h5v5h-5zM90 395h5v5h-5zM100 395h5v10h-5zM110 390h5v10h-5zM115 395h5v10h-5zM120 395h5v5h-5zM125 395h5v5h-5zM135 395h5v5h-5zM140 400h5v5h-5zM155 395h5v5h-5zM165 400h5v10h-5zM170 400h5v5h-5zM180 400h5v5h-5zM190 400h5v5h-5zM205 405h5v5h-5zM210 400h5v5h-5zM255 420h5v5h-5zM260 420h5v5h-5zM280 420h5v5h-5zM290 420h5v5h-5zM330 425h5v5h-5zM335 425h5v5h-5zM345 425h5v5h-5zM360 425h5v5h-5zM370 430h5v5h-5zM385 935h5v5h-5zM385 950h5v5h-5zM385 970h5v5h-5zM385 990h5v5h-5zM385 1010h5v20h-5zM385 1045h5v5h-5zM385 1055h5v5h-5zM385 1070h5v5h-5zM385 1080h5v10h-5zM385 1100h5v10h-5zM390 435h5v5h-5zM390 840h5v5h-5zM390 860h5v10h-5zM390 880h5v10h-5zM390 900h5v5h-5zM390 910h5v10h-5zM390 925h5v5h-5zM390 940h5v15h-5zM390 965h5v10h-5zM390 980h5v5h-5zM390 990h5v25h-5zM390 1020h5v30h-5zM390 1060h5v5h-5zM390 1070h5v25h-5zM390 1100h5v40h-5zM395 805h5v10h-5zM395 820h5v20h-5zM395 845h5v10h-5zM395 860h5v20h-5zM395 895h5v5h-5zM395 915h5v10h-5zM395 930h5v5h-5zM395 940h5v5h-5zM395 980h5v10h-5zM395 995h5v5h-5zM395 1010h5v15h-5zM395 1050h5v10h-5zM395 1065h5v5h-5zM395 1075h5v5h-5zM395 1085h5v5h-5zM395 1110h5v10h-5zM395 1130h5v15h-5zM395 1150h5v20h-5zM395 1175h5v5h-5zM400 750h5v5h-5zM400 775h5v25h-5zM400 805h5v5h-5zM400 815h5v5h-5zM400 825h5v10h-5zM400 840h5v10h-5zM400 855h5v5h-5zM400 915h5v5h-5zM400 965h5v5h-5zM400 1120h5v10h-5zM400 1145h5v5h-5zM400 1155h5v5h-5zM400 1165h5v10h-5zM400 1180h5v5h-5zM400 1190h5v5h-5zM405 450h5v5h-5zM405 700h5v5h-5zM405 725h5v5h-5zM405 735h5v20h-5zM405 760h5v5h-5zM405 785h5v5h-5zM405 815h5v5h-5zM405 1175h5v10h-5zM405 1190h5v10h-5zM410 470h5v5h-5zM410 485h5v25h-5zM410 605h5v10h-5zM410 625h5v20h-5zM410 650h5v15h-5zM410 670h5v5h-5zM410 690h5v5h-5zM410 700h5v5h-5zM410 715h5v5h-5zM410 735h5v10h-5zM410 750h5v5h-5zM410 785h5v5h-5zM410 1180h5v5h-5zM415 555h5v5h-5zM415 565h5v15h-5zM415 585h5v5h-5zM415 595h5v5h-5zM415 615h5v5h-5zM415 625h5v5h-5zM415 635h5v5h-5zM415 680h5v5h-5zM415 1200h5v10h-5zM420 1205h5v10h-5zM425 1215h5v5h-5zM430 1210h5v10h-5zM435 1215h5v10h-5zM440 1220h5v10h-5zM445 1215h5v15h-5zM450 1210h5v5h-5zM450 1225h5v5h-5zM455 1220h5v5h-5zM460 1220h5v5h-5zM465 1220h5v10h-5zM470 1220h5v10h-5zM475 1220h5v15h-5zM485 1225h5v5h-5zM490 1225h5v5h-5zM495 1225h5v10h-5zM515 1220h5v15h-5zM520 1225h5v5h-5zM525 1230h5v5h-5zM535 1220h5v5h-5zM550 1220h5v10h-5zM555 1225h5v5h-5zM560 1225h5v5h-5zM565 1225h5v5h-5zM570 1230h5v5h-5zM580 1225h5v5h-5zM585 1230h5v5h-5zM590 1230h5v5h-5zM595 1230h5v5h-5zM605 1225h5v5h-5zM615 1230h5v5h-5zM620 1225h5v5h-5zM625 1225h5v5h-5zM630 1225h5v5h-5zM635 1230h5v5h-5zM640 1225h5v5h-5zM645 1225h5v5h-5zM650 1225h5v5h-5zM655 1220h5v5h-5zM660 1225h5v5h-5zM665 1225h5v5h-5zM675 1225h5v5h-5zM680 1225h5v5h-5zM685 1225h5v10h-5zM695 1220h5v10h-5zM700 1225h5v5h-5zM705 1225h5v5h-5zM715 1225h5v5h-5zM725 1225h5v5h-5zM730 1220h5v5h-5zM735 1225h5v5h-5zM740 1225h5v5h-5zM745 1225h5v5h-5zM750 1220h5v5h-5zM755 1225h5v5h-5zM760 1225h5v5h-5zM765 1225h5v5h-5zM770 1225h5v5h-5zM775 1220h5v10h-5zM785 1225h5v5h-5zM800 1220h5v5h-5zM805 1225h5v5h-5zM810 1225h5v5h-5zM840 1225h5v5h-5zM845 1220h5v5h-5zM860 1220h5v5h-5zM865 1220h5v5h-5zM875 1220h5v5h-5zM885 1220h5v5h-5zM900 1220h5v5h-5zM905 1220h5v5h-5zM910 1220h5v5h-5zM920 1220h5v5h-5zM930 1220h5v5h-5zM940 1220h5v5h-5zM950 1220h5v5h-5zM955 1220h5v5h-5zM1000 1220h5v5h-5zM1010 1215h5v5h-5zM1115 1215h5v5h-5zM1135 1215h5v5h-5zM1140 1215h5v5h-5zM1150 1215h5v5h-5zM1155 1215h5v5h-5zM1165 1215h5v5h-5zM1170 1220h5v5h-5zM1195 1235h5v5h-5zM1200 1235h5v15h-5zM1205 1260h5v25h-5zM1205 1295h5v5h-5zM1235 1340h5v5h-5zM1245 1340h5v5h-5z"/><path fill="#e7e7c8" d="M70 385h5v5h-5zM75 380h5v5h-5zM80 375h5v5h-5zM85 380h5v5h-5zM90 370h5v5h-5zM90 380h5v5h-5zM95 380h5v5h-5zM100 375h5v5h-5zM105 380h5v5h-5zM110 370h5v5h-5zM115 370h5v5h-5zM115 385h5v5h-5zM120 385h5v5h-5zM125 380h5v10h-5zM140 385h5v5h-5zM145 385h5v10h-5zM150 385h5v5h-5zM155 380h5v5h-5zM165 385h5v5h-5zM185 385h5v5h-5zM195 390h5v10h-5zM200 395h5v5h-5zM225 405h5v5h-5zM230 410h5v5h-5zM255 415h5v5h-5zM315 420h5v5h-5zM325 420h5v5h-5zM370 425h5v5h-5zM375 425h5v5h-5zM385 430h5v5h-5zM390 430h5v5h-5zM395 430h5v5h-5zM400 435h5v5h-5zM400 945h5v5h-5zM400 960h5v5h-5zM400 985h5v5h-5zM400 1020h5v5h-5zM400 1035h5v5h-5zM400 1060h5v5h-5zM400 1085h5v5h-5zM405 435h5v5h-5zM405 820h5v5h-5zM405 870h5v5h-5zM405 895h5v15h-5zM405 920h5v10h-5zM405 935h5v10h-5zM405 955h5v5h-5zM405 965h5v5h-5zM405 975h5v15h-5zM405 995h5v5h-5zM405 1025h5v15h-5zM405 1050h5v5h-5zM405 1060h5v5h-5zM405 1070h5v10h-5zM405 1090h5v15h-5zM405 1150h5v5h-5zM410 770h5v5h-5zM410 780h5v5h-5zM410 800h5v5h-5zM410 820h5v5h-5zM410 845h5v5h-5zM410 865h5v15h-5zM410 890h5v10h-5zM410 950h5v5h-5zM410 975h5v5h-5zM410 990h5v5h-5zM410 1005h5v10h-5zM410 1040h5v10h-5zM410 1075h5v10h-5zM410 1090h5v5h-5zM410 1115h5v5h-5zM410 1125h5v5h-5zM410 1145h5v5h-5zM410 1160h5v10h-5zM410 1175h5v5h-5zM415 460h5v5h-5zM415 475h5v10h-5zM415 690h5v5h-5zM415 720h5v5h-5zM415 730h5v5h-5zM415 755h5v5h-5zM415 765h5v5h-5zM415 775h5v5h-5zM415 785h5v5h-5zM415 800h5v10h-5zM415 1155h5v5h-5zM415 1165h5v15h-5zM420 525h5v5h-5zM420 535h5v5h-5zM420 570h5v5h-5zM420 605h5v15h-5zM420 645h5v5h-5zM420 720h5v5h-5zM420 730h5v5h-5zM420 1165h5v5h-5zM420 1180h5v10h-5zM425 1190h5v5h-5zM430 1190h5v5h-5zM435 1195h5v5h-5zM440 1195h5v5h-5zM440 1210h5v5h-5zM445 1205h5v10h-5zM450 1205h5v5h-5zM455 1205h5v5h-5zM460 1200h5v5h-5zM465 1210h5v5h-5zM470 1215h5v5h-5zM485 1205h5v5h-5zM490 1205h5v10h-5zM495 1205h5v5h-5zM505 1210h5v5h-5zM515 1215h5v5h-5zM520 1210h5v5h-5zM530 1210h5v5h-5zM540 1215h5v5h-5zM545 1210h5v10h-5zM550 1210h5v10h-5zM560 1205h5v10h-5zM575 1215h5v5h-5zM580 1210h5v5h-5zM595 1210h5v10h-5zM600 1220h5v5h-5zM605 1210h5v5h-5zM610 1200h5v5h-5zM610 1210h5v5h-5zM615 1205h5v5h-5zM615 1215h5v5h-5zM645 1210h5v10h-5zM660 1210h5v5h-5zM660 1220h5v5h-5zM665 1215h5v5h-5zM675 1210h5v5h-5zM680 1210h5v10h-5zM685 1215h5v5h-5zM690 1215h5v5h-5zM695 1210h5v5h-5zM705 1215h5v5h-5zM710 1215h5v5h-5zM720 1205h5v5h-5zM725 1210h5v5h-5zM730 1210h5v10h-5zM740 1215h5v5h-5zM745 1210h5v5h-5zM750 1215h5v5h-5zM760 1215h5v5h-5zM835 1215h5v5h-5zM840 1190h5v5h-5zM845 1215h5v5h-5zM850 1215h5v5h-5zM865 1190h5v5h-5zM870 1215h5v5h-5zM890 1215h5v5h-5zM910 1215h5v5h-5zM915 1195h5v5h-5zM920 1195h5v5h-5zM930 1190h5v5h-5zM935 1215h5v5h-5zM940 1200h5v5h-5zM940 1215h5v5h-5zM950 1200h5v5h-5zM950 1215h5v5h-5zM955 1215h5v5h-5zM970 1195h5v5h-5zM975 1195h5v5h-5zM980 1185h5v10h-5zM985 1190h5v5h-5zM990 1190h5v10h-5zM995 1185h5v5h-5zM1000 1205h5v5h-5zM1005 1190h5v5h-5zM1005 1210h5v5h-5zM1010 1190h5v5h-5zM1015 1215h5v5h-5zM1020 1195h5v5h-5zM1030 1195h5v5h-5zM1035 1200h5v5h-5zM1040 1190h5v5h-5zM1040 1215h5v5h-5zM1050 1195h5v5h-5zM1055 1210h5v5h-5zM1065 1190h5v5h-5zM1090 1210h5v5h-5zM1110 1210h5v5h-5zM1120 1205h5v10h-5zM1125 1210h5v5h-5zM1130 1210h5v5h-5zM1135 1205h5v5h-5zM1155 1200h5v5h-5zM1160 1205h5v5h-5zM1170 1210h5v5h-5zM1175 1215h5v5h-5zM1180 1215h5v5h-5zM1190 1220h5v5h-5zM1215 1330h5v5h-5zM1220 1335h5v5h-5z"/><path fill="#eaecd2" d="M75 385h5v10h-5zM80 385h5v5h-5zM90 390h5v5h-5zM95 385h5v15h-5zM100 385h5v10h-5zM105 390h5v10h-5zM125 390h5v5h-5zM130 395h5v5h-5zM140 390h5v10h-5zM145 395h5v5h-5zM155 400h5v5h-5zM160 400h5v5h-5zM165 395h5v5h-5zM175 400h5v5h-5zM180 395h5v5h-5zM185 400h5v5h-5zM195 400h5v5h-5zM200 405h5v5h-5zM210 405h5v5h-5zM215 405h5v5h-5zM225 410h5v5h-5zM265 420h5v5h-5zM275 420h5v5h-5zM285 420h5v5h-5zM295 420h5v5h-5zM300 420h5v5h-5zM305 420h5v5h-5zM350 425h5v5h-5zM365 425h5v5h-5zM375 430h5v5h-5zM380 430h5v5h-5zM390 935h5v5h-5zM390 955h5v10h-5zM390 985h5v5h-5zM390 1065h5v5h-5zM390 1095h5v5h-5zM395 435h5v5h-5zM395 840h5v5h-5zM395 880h5v10h-5zM395 900h5v15h-5zM395 925h5v5h-5zM395 935h5v5h-5zM395 945h5v35h-5zM395 1000h5v5h-5zM395 1035h5v5h-5zM395 1060h5v5h-5zM395 1080h5v5h-5zM395 1090h5v5h-5zM395 1100h5v5h-5zM395 1120h5v5h-5zM400 440h5v5h-5zM400 800h5v5h-5zM400 810h5v5h-5zM400 835h5v5h-5zM400 850h5v5h-5zM400 860h5v15h-5zM400 880h5v5h-5zM400 890h5v20h-5zM400 950h5v5h-5zM400 975h5v5h-5zM400 1005h5v5h-5zM400 1080h5v5h-5zM400 1095h5v5h-5zM400 1105h5v10h-5zM400 1130h5v15h-5zM400 1150h5v5h-5zM400 1160h5v5h-5zM400 1175h5v5h-5zM405 440h5v10h-5zM405 755h5v5h-5zM405 765h5v20h-5zM405 800h5v5h-5zM405 810h5v5h-5zM405 830h5v5h-5zM405 840h5v5h-5zM405 865h5v5h-5zM405 930h5v5h-5zM405 945h5v5h-5zM405 1130h5v5h-5zM405 1160h5v10h-5zM405 1185h5v5h-5zM410 445h5v10h-5zM410 675h5v5h-5zM410 685h5v5h-5zM410 695h5v5h-5zM410 710h5v5h-5zM410 720h5v5h-5zM410 745h5v5h-5zM410 755h5v10h-5zM410 1185h5v15h-5zM415 470h5v5h-5zM415 490h5v5h-5zM415 500h5v10h-5zM415 515h5v5h-5zM415 525h5v30h-5zM415 560h5v5h-5zM415 580h5v5h-5zM415 590h5v5h-5zM415 600h5v15h-5zM415 620h5v5h-5zM415 630h5v5h-5zM415 640h5v10h-5zM415 655h5v5h-5zM415 670h5v10h-5zM415 695h5v5h-5zM415 1180h5v10h-5zM415 1195h5v5h-5zM420 575h5v5h-5zM420 1190h5v10h-5zM425 1200h5v5h-5zM425 1210h5v5h-5zM430 1200h5v10h-5zM435 1200h5v5h-5zM435 1210h5v5h-5zM440 1205h5v5h-5zM440 1215h5v5h-5zM450 1215h5v10h-5zM455 1215h5v5h-5zM465 1215h5v5h-5zM480 1215h5v15h-5zM485 1220h5v5h-5zM490 1220h5v5h-5zM495 1215h5v5h-5zM500 1225h5v5h-5zM505 1215h5v5h-5zM505 1225h5v5h-5zM510 1215h5v15h-5zM525 1220h5v10h-5zM545 1225h5v5h-5zM560 1215h5v5h-5zM565 1210h5v5h-5zM570 1220h5v5h-5zM575 1220h5v10h-5zM590 1220h5v10h-5zM595 1220h5v10h-5zM600 1225h5v5h-5zM605 1220h5v5h-5zM610 1225h5v5h-5zM615 1220h5v5h-5zM625 1215h5v10h-5zM635 1210h5v5h-5zM635 1225h5v5h-5zM650 1220h5v5h-5zM655 1225h5v5h-5zM670 1225h5v5h-5zM675 1220h5v5h-5zM680 1220h5v5h-5zM685 1220h5v5h-5zM690 1220h5v10h-5zM700 1210h5v5h-5zM705 1220h5v5h-5zM715 1210h5v5h-5zM720 1220h5v10h-5zM725 1220h5v5h-5zM735 1220h5v5h-5zM745 1220h5v5h-5zM760 1220h5v5h-5zM765 1220h5v5h-5zM770 1220h5v5h-5zM780 1220h5v5h-5zM810 1220h5v5h-5zM820 1220h5v5h-5zM825 1220h5v5h-5zM830 1220h5v5h-5zM835 1220h5v5h-5zM840 1220h5v5h-5zM850 1220h5v5h-5zM855 1220h5v5h-5zM870 1220h5v5h-5zM890 1220h5v5h-5zM925 1220h5v5h-5zM965 1215h5v5h-5zM985 1195h5v5h-5zM990 1215h5v5h-5zM1030 1215h5v5h-5zM1050 1215h5v5h-5zM1055 1215h5v5h-5zM1060 1215h5v5h-5zM1065 1215h5v5h-5zM1070 1215h5v5h-5zM1075 1215h5v5h-5zM1080 1215h5v5h-5zM1085 1215h5v5h-5zM1090 1215h5v5h-5zM1100 1215h5v5h-5zM1105 1215h5v5h-5zM1110 1215h5v5h-5zM1120 1215h5v5h-5zM1125 1215h5v5h-5zM1130 1215h5v5h-5zM1140 1205h5v10h-5zM1145 1215h5v5h-5zM1150 1210h5v5h-5zM1160 1215h5v5h-5zM1170 1215h5v5h-5zM1180 1220h5v5h-5zM1185 1215h5v15h-5zM1190 1225h5v5h-5zM1195 1230h5v5h-5zM1200 1230h5v5h-5zM1205 1250h5v5h-5zM1210 1310h5v20h-5zM1230 1340h5v5h-5zM1240 1340h5v5h-5z"/><path fill="#e8e9cd" d="M80 380h5v5h-5zM85 385h5v10h-5zM90 385h5v5h-5zM100 380h5v5h-5zM105 385h5v5h-5zM110 380h5v10h-5zM115 390h5v5h-5zM120 390h5v5h-5zM130 380h5v15h-5zM135 385h5v10h-5zM150 380h5v5h-5zM150 390h5v10h-5zM155 385h5v10h-5zM160 390h5v10h-5zM165 390h5v5h-5zM170 380h5v5h-5zM170 390h5v10h-5zM175 390h5v10h-5zM180 390h5v5h-5zM185 390h5v10h-5zM190 395h5v5h-5zM200 400h5v5h-5zM205 400h5v5h-5zM220 405h5v5h-5zM240 415h5v5h-5zM245 415h5v5h-5zM270 420h5v5h-5zM310 420h5v5h-5zM320 420h5v5h-5zM330 420h5v5h-5zM335 420h5v5h-5zM355 425h5v5h-5zM395 890h5v5h-5zM395 990h5v5h-5zM395 1005h5v5h-5zM395 1025h5v10h-5zM395 1040h5v10h-5zM395 1070h5v5h-5zM395 1095h5v5h-5zM395 1125h5v5h-5zM400 875h5v5h-5zM400 885h5v5h-5zM400 910h5v5h-5zM400 920h5v25h-5zM400 955h5v5h-5zM400 970h5v5h-5zM400 980h5v5h-5zM400 990h5v15h-5zM400 1010h5v10h-5zM400 1025h5v10h-5zM400 1040h5v20h-5zM400 1065h5v10h-5zM400 1090h5v5h-5zM400 1100h5v5h-5zM400 1115h5v5h-5zM405 790h5v10h-5zM405 805h5v5h-5zM405 825h5v5h-5zM405 835h5v5h-5zM405 845h5v20h-5zM405 875h5v20h-5zM405 910h5v10h-5zM405 950h5v5h-5zM405 970h5v5h-5zM405 1000h5v5h-5zM405 1010h5v5h-5zM405 1055h5v5h-5zM405 1080h5v5h-5zM405 1105h5v10h-5zM405 1120h5v10h-5zM405 1135h5v15h-5zM405 1155h5v5h-5zM405 1170h5v5h-5zM410 705h5v5h-5zM410 725h5v10h-5zM410 765h5v5h-5zM410 775h5v5h-5zM410 790h5v10h-5zM410 805h5v5h-5zM410 815h5v5h-5zM410 825h5v5h-5zM410 835h5v5h-5zM410 860h5v5h-5zM410 1020h5v5h-5zM410 1135h5v10h-5zM410 1170h5v5h-5zM415 450h5v5h-5zM415 465h5v5h-5zM415 485h5v5h-5zM415 495h5v5h-5zM415 510h5v5h-5zM415 520h5v5h-5zM415 650h5v5h-5zM415 660h5v10h-5zM415 685h5v5h-5zM415 700h5v20h-5zM415 725h5v5h-5zM415 735h5v10h-5zM415 750h5v5h-5zM415 795h5v5h-5zM415 825h5v5h-5zM415 1160h5v5h-5zM415 1190h5v5h-5zM420 580h5v5h-5zM420 1200h5v5h-5zM425 1180h5v10h-5zM425 1195h5v5h-5zM425 1205h5v5h-5zM435 1205h5v5h-5zM455 1210h5v5h-5zM460 1210h5v10h-5zM470 1210h5v5h-5zM475 1210h5v10h-5zM480 1210h5v5h-5zM485 1215h5v5h-5zM490 1215h5v5h-5zM495 1220h5v5h-5zM500 1215h5v10h-5zM505 1220h5v5h-5zM520 1215h5v10h-5zM525 1215h5v5h-5zM530 1220h5v5h-5zM535 1215h5v5h-5zM540 1210h5v5h-5zM540 1220h5v5h-5zM545 1220h5v5h-5zM555 1210h5v15h-5zM560 1220h5v5h-5zM565 1215h5v10h-5zM570 1215h5v5h-5zM570 1225h5v5h-5zM580 1220h5v5h-5zM585 1215h5v10h-5zM590 1205h5v5h-5zM590 1215h5v5h-5zM600 1205h5v5h-5zM600 1215h5v5h-5zM605 1215h5v5h-5zM610 1215h5v10h-5zM620 1215h5v10h-5zM630 1215h5v10h-5zM635 1215h5v10h-5zM640 1205h5v5h-5zM640 1220h5v5h-5zM645 1220h5v5h-5zM650 1215h5v5h-5zM655 1215h5v5h-5zM660 1215h5v5h-5zM665 1220h5v5h-5zM670 1215h5v10h-5zM675 1215h5v5h-5zM695 1215h5v5h-5zM700 1215h5v10h-5zM710 1220h5v5h-5zM715 1220h5v5h-5zM720 1210h5v10h-5zM725 1205h5v5h-5zM725 1215h5v5h-5zM735 1210h5v10h-5zM740 1220h5v5h-5zM755 1215h5v10h-5zM785 1220h5v5h-5zM790 1220h5v5h-5zM795 1220h5v5h-5zM805 1220h5v5h-5zM815 1220h5v5h-5zM880 1195h5v5h-5zM880 1215h5v5h-5zM885 1215h5v5h-5zM895 1215h5v5h-5zM900 1215h5v5h-5zM915 1215h5v5h-5zM925 1215h5v5h-5zM930 1215h5v5h-5zM935 1195h5v5h-5zM945 1215h5v5h-5zM960 1215h5v5h-5zM970 1215h5v5h-5zM975 1215h5v5h-5zM980 1215h5v5h-5zM985 1215h5v5h-5zM995 1210h5v10h-5zM1000 1215h5v5h-5zM1005 1215h5v5h-5zM1020 1190h5v5h-5zM1020 1215h5v5h-5zM1025 1215h5v5h-5zM1035 1215h5v5h-5zM1045 1215h5v5h-5zM1095 1215h5v5h-5zM1115 1210h5v5h-5zM1130 1200h5v5h-5zM1135 1210h5v5h-5zM1145 1210h5v5h-5zM1155 1205h5v10h-5zM1160 1210h5v5h-5zM1165 1210h5v5h-5zM1195 1225h5v5h-5zM1205 1255h5v5h-5zM1250 1340h5v5h-5z"/><path fill="#e6e5c3" d="M85 370h5v10h-5zM90 375h5v5h-5zM105 370h5v5h-5zM110 375h5v5h-5zM120 370h5v10h-5zM125 370h5v10h-5zM130 375h5v5h-5zM135 370h5v15h-5zM140 380h5v5h-5zM155 375h5v5h-5zM160 380h5v5h-5zM165 380h5v5h-5zM170 385h5v5h-5zM175 380h5v10h-5zM190 390h5v5h-5zM205 395h5v5h-5zM215 400h5v5h-5zM340 420h5v5h-5zM355 420h5v5h-5zM360 420h5v5h-5zM380 425h5v5h-5zM385 425h5v5h-5zM400 1075h5v5h-5zM405 960h5v5h-5zM405 1005h5v5h-5zM405 1020h5v5h-5zM405 1040h5v10h-5zM405 1065h5v5h-5zM410 440h5v5h-5zM410 810h5v5h-5zM410 830h5v5h-5zM410 855h5v5h-5zM410 880h5v10h-5zM410 905h5v10h-5zM410 920h5v15h-5zM410 945h5v5h-5zM410 955h5v5h-5zM410 965h5v10h-5zM410 980h5v10h-5zM410 1000h5v5h-5zM410 1015h5v5h-5zM410 1050h5v5h-5zM410 1085h5v5h-5zM410 1100h5v15h-5zM410 1120h5v5h-5zM410 1130h5v5h-5zM410 1150h5v10h-5zM415 445h5v5h-5zM415 455h5v5h-5zM415 745h5v5h-5zM415 760h5v5h-5zM415 780h5v5h-5zM415 790h5v5h-5zM415 815h5v5h-5zM415 835h5v10h-5zM415 860h5v10h-5zM415 875h5v5h-5zM415 1020h5v5h-5zM415 1070h5v5h-5zM415 1105h5v5h-5zM415 1115h5v10h-5zM420 465h5v5h-5zM420 500h5v5h-5zM420 510h5v5h-5zM420 530h5v5h-5zM420 540h5v30h-5zM420 585h5v15h-5zM420 625h5v5h-5zM420 655h5v40h-5zM420 705h5v5h-5zM420 725h5v5h-5zM420 1145h5v5h-5zM420 1175h5v5h-5zM430 1185h5v5h-5zM430 1195h5v5h-5zM435 1185h5v10h-5zM440 1200h5v5h-5zM450 1200h5v5h-5zM460 1195h5v5h-5zM460 1205h5v5h-5zM465 1205h5v5h-5zM470 1200h5v5h-5zM480 1205h5v5h-5zM500 1200h5v5h-5zM500 1210h5v5h-5zM505 1200h5v5h-5zM510 1210h5v5h-5zM515 1200h5v5h-5zM515 1210h5v5h-5zM525 1210h5v5h-5zM530 1215h5v5h-5zM535 1200h5v5h-5zM535 1210h5v5h-5zM570 1200h5v15h-5zM575 1210h5v5h-5zM580 1195h5v5h-5zM580 1215h5v5h-5zM590 1210h5v5h-5zM595 1200h5v10h-5zM610 1195h5v5h-5zM620 1210h5v5h-5zM625 1210h5v5h-5zM630 1200h5v5h-5zM640 1210h5v10h-5zM645 1205h5v5h-5zM650 1205h5v10h-5zM655 1205h5v10h-5zM670 1210h5v5h-5zM680 1200h5v5h-5zM685 1210h5v5h-5zM700 1205h5v5h-5zM705 1205h5v10h-5zM710 1195h5v5h-5zM710 1210h5v5h-5zM715 1200h5v5h-5zM715 1215h5v5h-5zM730 1200h5v10h-5zM745 1215h5v5h-5zM760 1210h5v5h-5zM765 1215h5v5h-5zM770 1215h5v5h-5zM775 1215h5v5h-5zM785 1215h5v5h-5zM800 1215h5v5h-5zM805 1215h5v5h-5zM810 1215h5v5h-5zM815 1215h5v5h-5zM820 1215h5v5h-5zM825 1215h5v5h-5zM830 1215h5v5h-5zM835 1185h5v15h-5zM840 1215h5v5h-5zM855 1215h5v5h-5zM865 1215h5v5h-5zM875 1190h5v5h-5zM875 1215h5v5h-5zM890 1190h5v5h-5zM895 1200h5v5h-5zM900 1195h5v10h-5zM905 1200h5v5h-5zM905 1215h5v5h-5zM910 1195h5v5h-5zM920 1190h5v5h-5zM920 1200h5v5h-5zM920 1215h5v5h-5zM925 1185h5v5h-5zM925 1195h5v5h-5zM930 1180h5v5h-5zM930 1200h5v5h-5zM935 1210h5v5h-5zM940 1185h5v5h-5zM940 1210h5v5h-5zM945 1190h5v10h-5zM950 1190h5v5h-5zM950 1210h5v5h-5zM955 1180h5v5h-5zM955 1190h5v15h-5zM955 1210h5v5h-5zM960 1185h5v5h-5zM960 1195h5v5h-5zM965 1195h5v5h-5zM970 1200h5v5h-5zM970 1210h5v5h-5zM975 1185h5v10h-5zM980 1195h5v10h-5zM990 1205h5v5h-5zM995 1190h5v15h-5zM1000 1210h5v5h-5zM1005 1185h5v5h-5zM1010 1195h5v10h-5zM1010 1210h5v5h-5zM1015 1185h5v10h-5zM1020 1185h5v5h-5zM1020 1200h5v10h-5zM1025 1190h5v10h-5zM1025 1210h5v5h-5zM1030 1185h5v10h-5zM1030 1210h5v5h-5zM1035 1190h5v5h-5zM1040 1210h5v5h-5zM1045 1185h5v5h-5zM1045 1200h5v5h-5zM1045 1210h5v5h-5zM1050 1185h5v5h-5zM1050 1210h5v5h-5zM1055 1190h5v5h-5zM1060 1195h5v5h-5zM1060 1210h5v5h-5zM1065 1200h5v5h-5zM1075 1210h5v5h-5zM1080 1210h5v5h-5zM1095 1190h5v5h-5zM1100 1210h5v5h-5zM1105 1210h5v5h-5zM1115 1205h5v5h-5zM1125 1200h5v5h-5zM1130 1195h5v5h-5zM1130 1205h5v5h-5zM1135 1200h5v5h-5zM1145 1200h5v10h-5zM1150 1205h5v5h-5zM1165 1205h5v5h-5zM1170 1205h5v5h-5zM1175 1210h5v5h-5zM1180 1210h5v5h-5zM1210 1275h5v5h-5zM1210 1290h5v20h-5zM1215 1325h5v5h-5zM1225 1335h5v5h-5zM1230 1335h5v5h-5z"/><path fill="#e3e1ba" d="M90 365h5v5h-5zM100 355h5v5h-5zM105 360h5v5h-5zM110 360h5v5h-5zM115 360h5v10h-5zM120 345h5v5h-5zM120 365h5v5h-5zM120 380h5v5h-5zM125 350h5v5h-5zM125 360h5v10h-5zM130 360h5v10h-5zM135 365h5v5h-5zM140 360h5v20h-5zM145 365h5v10h-5zM150 360h5v10h-5zM160 370h5v5h-5zM170 370h5v5h-5zM175 375h5v5h-5zM180 375h5v5h-5zM190 385h5v5h-5zM195 385h5v5h-5zM210 395h5v5h-5zM265 415h5v5h-5zM270 415h5v5h-5zM370 420h5v5h-5zM410 915h5v5h-5zM410 960h5v5h-5zM410 1025h5v5h-5zM410 1055h5v5h-5zM415 770h5v5h-5zM415 870h5v5h-5zM415 885h5v10h-5zM415 900h5v10h-5zM415 915h5v15h-5zM415 935h5v5h-5zM415 945h5v5h-5zM415 960h5v10h-5zM415 975h5v10h-5zM415 995h5v10h-5zM415 1010h5v5h-5zM415 1025h5v5h-5zM415 1035h5v10h-5zM415 1060h5v10h-5zM415 1075h5v15h-5zM415 1095h5v5h-5zM415 1110h5v5h-5zM420 475h5v10h-5zM420 495h5v5h-5zM420 520h5v5h-5zM420 630h5v5h-5zM420 695h5v5h-5zM420 710h5v5h-5zM420 735h5v5h-5zM420 750h5v10h-5zM420 770h5v10h-5zM420 800h5v5h-5zM420 810h5v5h-5zM420 820h5v5h-5zM420 835h5v5h-5zM420 845h5v10h-5zM420 935h5v5h-5zM420 1100h5v5h-5zM420 1110h5v5h-5zM420 1125h5v5h-5zM420 1140h5v5h-5zM420 1150h5v5h-5zM425 580h5v5h-5zM425 1175h5v5h-5zM430 1175h5v5h-5zM440 1185h5v10h-5zM450 1190h5v5h-5zM455 1190h5v10h-5zM460 1190h5v5h-5zM465 1195h5v5h-5zM470 1190h5v5h-5zM480 1185h5v5h-5zM480 1200h5v5h-5zM485 1185h5v10h-5zM485 1200h5v5h-5zM490 1195h5v5h-5zM500 1180h5v5h-5zM500 1190h5v10h-5zM510 1185h5v5h-5zM510 1205h5v5h-5zM515 1180h5v5h-5zM515 1195h5v5h-5zM515 1205h5v5h-5zM520 1190h5v5h-5zM525 1185h5v5h-5zM525 1195h5v5h-5zM540 1190h5v10h-5zM540 1205h5v5h-5zM545 1190h5v5h-5zM545 1200h5v10h-5zM550 1205h5v5h-5zM555 1195h5v10h-5zM560 1195h5v10h-5zM565 1190h5v5h-5zM565 1200h5v5h-5zM570 1195h5v5h-5zM575 1195h5v10h-5zM590 1195h5v5h-5zM595 1185h5v10h-5zM600 1195h5v5h-5zM600 1210h5v5h-5zM605 1195h5v5h-5zM620 1195h5v5h-5zM620 1205h5v5h-5zM625 1200h5v10h-5zM630 1180h5v5h-5zM635 1195h5v5h-5zM635 1205h5v5h-5zM640 1195h5v5h-5zM645 1190h5v10h-5zM650 1200h5v5h-5zM660 1200h5v10h-5zM665 1195h5v10h-5zM665 1210h5v5h-5zM675 1190h5v5h-5zM680 1195h5v5h-5zM685 1200h5v5h-5zM690 1190h5v15h-5zM695 1185h5v5h-5zM695 1195h5v15h-5zM700 1200h5v5h-5zM710 1190h5v5h-5zM720 1195h5v5h-5zM725 1195h5v5h-5zM730 1190h5v5h-5zM735 1175h5v5h-5zM735 1200h5v5h-5zM740 1195h5v5h-5zM745 1180h5v15h-5zM745 1205h5v5h-5zM750 1195h5v20h-5zM755 1190h5v5h-5zM755 1200h5v15h-5zM760 1180h5v5h-5zM760 1190h5v5h-5zM760 1200h5v5h-5zM765 1175h5v5h-5zM765 1195h5v15h-5zM770 1180h5v10h-5zM770 1195h5v5h-5zM770 1210h5v5h-5zM775 1185h5v10h-5zM775 1200h5v5h-5zM775 1210h5v5h-5zM780 1175h5v15h-5zM780 1200h5v5h-5zM785 1185h5v5h-5zM785 1210h5v5h-5zM790 1180h5v5h-5zM790 1195h5v5h-5zM790 1215h5v5h-5zM795 1190h5v5h-5zM795 1200h5v5h-5zM800 1185h5v15h-5zM805 1170h5v10h-5zM805 1185h5v5h-5zM805 1195h5v5h-5zM805 1210h5v5h-5zM810 1165h5v5h-5zM810 1185h5v25h-5zM815 1185h5v10h-5zM820 1175h5v5h-5zM820 1200h5v5h-5zM825 1185h5v10h-5zM825 1200h5v5h-5zM830 1170h5v5h-5zM830 1185h5v5h-5zM830 1210h5v5h-5zM835 1180h5v5h-5zM835 1205h5v5h-5zM840 1170h5v5h-5zM840 1180h5v10h-5zM845 1185h5v5h-5zM845 1200h5v5h-5zM845 1210h5v5h-5zM850 1185h5v5h-5zM850 1200h5v5h-5zM855 1200h5v10h-5zM860 1175h5v5h-5zM860 1190h5v10h-5zM865 1180h5v5h-5zM865 1195h5v5h-5zM870 1185h5v5h-5zM875 1200h5v5h-5zM880 1200h5v5h-5zM885 1185h5v5h-5zM885 1200h5v5h-5zM890 1200h5v5h-5zM890 1210h5v5h-5zM895 1185h5v15h-5zM900 1185h5v10h-5zM905 1180h5v5h-5zM905 1195h5v5h-5zM905 1210h5v5h-5zM910 1185h5v5h-5zM910 1210h5v5h-5zM920 1205h5v5h-5zM925 1205h5v5h-5zM930 1195h5v5h-5zM930 1205h5v5h-5zM935 1180h5v10h-5zM935 1200h5v5h-5zM940 1205h5v5h-5zM945 1180h5v10h-5zM945 1200h5v15h-5zM955 1185h5v5h-5zM960 1180h5v5h-5zM960 1200h5v5h-5zM970 1180h5v5h-5zM980 1175h5v5h-5zM985 1185h5v5h-5zM985 1200h5v10h-5zM990 1180h5v5h-5zM1000 1195h5v5h-5zM1005 1205h5v5h-5zM1010 1205h5v5h-5zM1035 1210h5v5h-5zM1040 1180h5v5h-5zM1045 1190h5v5h-5zM1050 1190h5v5h-5zM1050 1205h5v5h-5zM1055 1185h5v5h-5zM1060 1190h5v5h-5zM1065 1195h5v5h-5zM1070 1195h5v5h-5zM1070 1205h5v5h-5zM1075 1190h5v5h-5zM1085 1185h5v5h-5zM1085 1195h5v5h-5zM1085 1210h5v5h-5zM1090 1185h5v5h-5zM1090 1195h5v15h-5zM1095 1200h5v10h-5zM1100 1190h5v10h-5zM1100 1205h5v5h-5zM1105 1185h5v10h-5zM1105 1200h5v5h-5zM1110 1190h5v5h-5zM1110 1205h5v5h-5zM1115 1195h5v5h-5zM1120 1195h5v5h-5zM1145 1195h5v5h-5zM1150 1190h5v5h-5zM1155 1195h5v5h-5zM1160 1195h5v10h-5zM1175 1205h5v5h-5zM1180 1205h5v5h-5zM1185 1210h5v5h-5zM1190 1210h5v5h-5zM1195 1215h5v5h-5zM1200 1220h5v10h-5zM1205 1235h5v5h-5zM1210 1260h5v15h-5zM1245 1335h5v5h-5z"/><path fill="#e4e3be" d="M95 360h5v20h-5zM100 365h5v10h-5zM105 350h5v10h-5zM105 375h5v5h-5zM115 375h5v10h-5zM130 370h5v5h-5zM135 360h5v5h-5zM145 375h5v10h-5zM150 370h5v10h-5zM155 370h5v5h-5zM160 375h5v5h-5zM160 385h5v5h-5zM165 375h5v5h-5zM180 385h5v5h-5zM185 380h5v5h-5zM200 390h5v5h-5zM235 410h5v5h-5zM250 415h5v5h-5zM260 415h5v5h-5zM345 420h5v5h-5zM350 420h5v5h-5zM390 425h5v5h-5zM400 430h5v5h-5zM405 430h5v5h-5zM405 990h5v5h-5zM405 1015h5v5h-5zM405 1085h5v5h-5zM405 1115h5v5h-5zM410 435h5v5h-5zM410 840h5v5h-5zM410 850h5v5h-5zM410 900h5v5h-5zM410 935h5v10h-5zM410 995h5v5h-5zM410 1030h5v10h-5zM410 1060h5v15h-5zM410 1095h5v5h-5zM415 440h5v5h-5zM415 810h5v5h-5zM415 820h5v5h-5zM415 830h5v5h-5zM415 845h5v15h-5zM415 880h5v5h-5zM415 895h5v5h-5zM415 910h5v5h-5zM415 950h5v5h-5zM415 990h5v5h-5zM415 1005h5v5h-5zM415 1015h5v5h-5zM415 1030h5v5h-5zM415 1090h5v5h-5zM415 1125h5v30h-5zM420 455h5v10h-5zM420 470h5v5h-5zM420 485h5v10h-5zM420 505h5v5h-5zM420 515h5v5h-5zM420 600h5v5h-5zM420 620h5v5h-5zM420 635h5v10h-5zM420 650h5v5h-5zM420 700h5v5h-5zM420 715h5v5h-5zM420 740h5v10h-5zM420 765h5v5h-5zM420 785h5v5h-5zM420 1170h5v5h-5zM430 1180h5v5h-5zM445 1195h5v10h-5zM450 1195h5v5h-5zM455 1200h5v5h-5zM465 1190h5v5h-5zM465 1200h5v5h-5zM470 1195h5v5h-5zM470 1205h5v5h-5zM475 1195h5v15h-5zM480 1190h5v10h-5zM485 1195h5v5h-5zM485 1210h5v5h-5zM490 1200h5v5h-5zM495 1195h5v10h-5zM495 1210h5v5h-5zM500 1205h5v5h-5zM505 1195h5v5h-5zM505 1205h5v5h-5zM510 1200h5v5h-5zM515 1190h5v5h-5zM520 1195h5v5h-5zM520 1205h5v5h-5zM525 1200h5v10h-5zM530 1200h5v10h-5zM535 1195h5v5h-5zM550 1195h5v10h-5zM555 1205h5v5h-5zM565 1195h5v5h-5zM565 1205h5v5h-5zM575 1205h5v5h-5zM580 1200h5v10h-5zM585 1205h5v10h-5zM590 1200h5v5h-5zM605 1205h5v5h-5zM610 1205h5v5h-5zM615 1200h5v5h-5zM615 1210h5v5h-5zM625 1190h5v10h-5zM630 1190h5v5h-5zM630 1205h5v10h-5zM635 1200h5v5h-5zM640 1200h5v5h-5zM645 1200h5v5h-5zM650 1195h5v5h-5zM655 1195h5v10h-5zM660 1195h5v5h-5zM665 1205h5v5h-5zM670 1205h5v5h-5zM675 1205h5v5h-5zM685 1205h5v5h-5zM690 1205h5v10h-5zM700 1195h5v5h-5zM705 1200h5v5h-5zM710 1200h5v10h-5zM715 1190h5v5h-5zM715 1205h5v5h-5zM720 1200h5v5h-5zM725 1200h5v5h-5zM730 1195h5v5h-5zM735 1185h5v5h-5zM735 1205h5v5h-5zM740 1200h5v5h-5zM740 1210h5v5h-5zM745 1195h5v5h-5zM750 1190h5v5h-5zM770 1190h5v5h-5zM780 1215h5v5h-5zM785 1195h5v5h-5zM790 1190h5v5h-5zM795 1195h5v5h-5zM795 1215h5v5h-5zM800 1180h5v5h-5zM800 1210h5v5h-5zM805 1180h5v5h-5zM805 1190h5v5h-5zM820 1185h5v5h-5zM820 1195h5v5h-5zM825 1180h5v5h-5zM830 1195h5v5h-5zM835 1210h5v5h-5zM840 1195h5v5h-5zM845 1190h5v10h-5zM845 1205h5v5h-5zM850 1190h5v10h-5zM850 1210h5v5h-5zM855 1185h5v15h-5zM860 1185h5v5h-5zM860 1200h5v5h-5zM860 1215h5v5h-5zM865 1185h5v5h-5zM865 1200h5v5h-5zM865 1210h5v5h-5zM870 1195h5v10h-5zM875 1185h5v5h-5zM875 1195h5v5h-5zM880 1185h5v10h-5zM885 1180h5v5h-5zM885 1190h5v10h-5zM885 1210h5v5h-5zM890 1185h5v5h-5zM890 1195h5v5h-5zM890 1205h5v5h-5zM895 1205h5v5h-5zM905 1185h5v10h-5zM910 1190h5v5h-5zM910 1200h5v10h-5zM915 1180h5v15h-5zM915 1200h5v5h-5zM915 1210h5v5h-5zM920 1185h5v5h-5zM920 1210h5v5h-5zM925 1180h5v5h-5zM925 1190h5v5h-5zM925 1210h5v5h-5zM930 1185h5v5h-5zM930 1210h5v5h-5zM935 1190h5v5h-5zM935 1205h5v5h-5zM940 1190h5v10h-5zM950 1185h5v5h-5zM950 1195h5v5h-5zM960 1190h5v5h-5zM960 1205h5v10h-5zM965 1185h5v10h-5zM965 1200h5v15h-5zM970 1185h5v10h-5zM970 1205h5v5h-5zM975 1200h5v15h-5zM980 1180h5v5h-5zM980 1210h5v5h-5zM990 1185h5v5h-5zM990 1200h5v5h-5zM990 1210h5v5h-5zM995 1180h5v5h-5zM1000 1185h5v10h-5zM1000 1200h5v5h-5zM1005 1180h5v5h-5zM1005 1195h5v10h-5zM1010 1180h5v10h-5zM1015 1195h5v5h-5zM1015 1205h5v10h-5zM1020 1180h5v5h-5zM1020 1210h5v5h-5zM1025 1180h5v10h-5zM1025 1200h5v10h-5zM1030 1200h5v10h-5zM1035 1180h5v10h-5zM1035 1195h5v5h-5zM1035 1205h5v5h-5zM1040 1185h5v5h-5zM1040 1195h5v15h-5zM1045 1205h5v5h-5zM1050 1200h5v5h-5zM1055 1195h5v15h-5zM1060 1200h5v10h-5zM1065 1205h5v10h-5zM1070 1200h5v5h-5zM1075 1195h5v15h-5zM1080 1190h5v5h-5zM1080 1200h5v5h-5zM1085 1190h5v5h-5zM1085 1200h5v5h-5zM1090 1190h5v5h-5zM1095 1195h5v5h-5zM1095 1210h5v5h-5zM1105 1205h5v5h-5zM1110 1200h5v5h-5zM1115 1200h5v5h-5zM1125 1205h5v5h-5zM1135 1195h5v5h-5zM1140 1195h5v10h-5zM1150 1200h5v5h-5zM1165 1200h5v5h-5zM1170 1200h5v5h-5zM1190 1215h5v5h-5zM1195 1220h5v5h-5zM1205 1240h5v10h-5zM1210 1280h5v5h-5z"/><path fill="#e2e0b6" d="M100 360h5v5h-5zM105 365h5v5h-5zM110 365h5v5h-5zM115 355h5v5h-5zM120 340h5v5h-5zM120 350h5v5h-5zM120 360h5v5h-5zM130 345h5v5h-5zM130 355h5v5h-5zM135 355h5v5h-5zM155 360h5v5h-5zM160 355h5v15h-5zM165 360h5v15h-5zM170 365h5v5h-5zM175 370h5v5h-5zM180 380h5v5h-5zM205 390h5v5h-5zM240 410h5v5h-5zM275 415h5v5h-5zM290 415h5v5h-5zM295 415h5v5h-5zM305 415h5v5h-5zM365 420h5v5h-5zM415 930h5v5h-5zM415 940h5v5h-5zM415 955h5v5h-5zM415 970h5v5h-5zM415 985h5v5h-5zM415 1045h5v15h-5zM415 1100h5v5h-5zM420 445h5v5h-5zM420 760h5v5h-5zM420 790h5v10h-5zM420 805h5v5h-5zM420 830h5v5h-5zM420 840h5v5h-5zM420 880h5v5h-5zM420 925h5v5h-5zM420 995h5v5h-5zM420 1010h5v5h-5zM420 1050h5v5h-5zM420 1060h5v10h-5zM420 1090h5v5h-5zM420 1120h5v5h-5zM420 1135h5v5h-5zM420 1160h5v5h-5zM425 520h5v5h-5zM425 545h5v5h-5zM425 595h5v15h-5zM425 625h5v20h-5zM425 655h5v5h-5zM425 675h5v5h-5zM425 1165h5v5h-5zM445 1190h5v5h-5zM450 1185h5v5h-5zM455 1185h5v5h-5zM460 1185h5v5h-5zM475 1185h5v5h-5zM480 1180h5v5h-5zM485 1180h5v5h-5zM490 1190h5v5h-5zM495 1180h5v5h-5zM495 1190h5v5h-5zM500 1185h5v5h-5zM510 1190h5v10h-5zM520 1180h5v10h-5zM520 1200h5v5h-5zM525 1190h5v5h-5zM530 1190h5v10h-5zM535 1180h5v15h-5zM535 1205h5v5h-5zM540 1200h5v5h-5zM545 1195h5v5h-5zM560 1190h5v5h-5zM565 1185h5v5h-5zM570 1190h5v5h-5zM575 1190h5v5h-5zM580 1190h5v5h-5zM585 1185h5v10h-5zM600 1200h5v5h-5zM605 1185h5v10h-5zM605 1200h5v5h-5zM610 1190h5v5h-5zM615 1190h5v10h-5zM620 1190h5v5h-5zM630 1195h5v5h-5zM635 1185h5v5h-5zM640 1180h5v5h-5zM650 1185h5v5h-5zM655 1180h5v5h-5zM655 1190h5v5h-5zM665 1190h5v5h-5zM670 1190h5v15h-5zM675 1200h5v5h-5zM680 1190h5v5h-5zM680 1205h5v5h-5zM685 1185h5v15h-5zM690 1180h5v10h-5zM695 1190h5v5h-5zM700 1190h5v5h-5zM705 1180h5v5h-5zM705 1190h5v5h-5zM715 1180h5v5h-5zM715 1195h5v5h-5zM720 1180h5v5h-5zM725 1185h5v10h-5zM730 1175h5v5h-5zM730 1185h5v5h-5zM735 1190h5v10h-5zM740 1185h5v10h-5zM740 1205h5v5h-5zM745 1200h5v5h-5zM750 1185h5v5h-5zM755 1180h5v10h-5zM755 1195h5v5h-5zM760 1195h5v5h-5zM760 1205h5v5h-5zM765 1170h5v5h-5zM765 1185h5v10h-5zM765 1210h5v5h-5zM770 1170h5v5h-5zM770 1200h5v10h-5zM775 1170h5v15h-5zM775 1195h5v5h-5zM775 1205h5v5h-5zM780 1190h5v10h-5zM780 1205h5v5h-5zM785 1180h5v5h-5zM785 1190h5v5h-5zM790 1185h5v5h-5zM790 1200h5v5h-5zM795 1160h5v5h-5zM795 1170h5v20h-5zM795 1205h5v10h-5zM800 1165h5v5h-5zM800 1175h5v5h-5zM800 1200h5v5h-5zM805 1205h5v5h-5zM815 1195h5v5h-5zM815 1205h5v10h-5zM820 1180h5v5h-5zM820 1190h5v5h-5zM820 1210h5v5h-5zM825 1170h5v10h-5zM830 1190h5v5h-5zM835 1165h5v5h-5zM835 1200h5v5h-5zM840 1175h5v5h-5zM840 1205h5v10h-5zM845 1165h5v5h-5zM845 1180h5v5h-5zM850 1175h5v10h-5zM855 1175h5v5h-5zM855 1210h5v5h-5zM860 1205h5v10h-5zM865 1205h5v5h-5zM870 1180h5v5h-5zM870 1190h5v5h-5zM870 1210h5v5h-5zM875 1175h5v5h-5zM875 1210h5v5h-5zM880 1175h5v10h-5zM880 1205h5v10h-5zM885 1205h5v5h-5zM895 1180h5v5h-5zM895 1210h5v5h-5zM900 1175h5v10h-5zM900 1210h5v5h-5zM905 1205h5v5h-5zM910 1180h5v5h-5zM915 1175h5v5h-5zM915 1205h5v5h-5zM920 1175h5v5h-5zM925 1200h5v5h-5zM935 1175h5v5h-5zM940 1175h5v10h-5zM950 1180h5v5h-5zM950 1205h5v5h-5zM955 1205h5v5h-5zM960 1175h5v5h-5zM965 1180h5v5h-5zM970 1175h5v5h-5zM975 1175h5v10h-5zM980 1205h5v5h-5zM985 1175h5v10h-5zM985 1210h5v5h-5zM995 1205h5v5h-5zM1000 1175h5v10h-5zM1015 1200h5v5h-5zM1045 1180h5v5h-5zM1045 1195h5v5h-5zM1060 1185h5v5h-5zM1065 1185h5v5h-5zM1070 1185h5v10h-5zM1070 1210h5v5h-5zM1075 1185h5v5h-5zM1080 1185h5v5h-5zM1080 1195h5v5h-5zM1080 1205h5v5h-5zM1085 1205h5v5h-5zM1100 1200h5v5h-5zM1105 1195h5v5h-5zM1115 1190h5v5h-5zM1120 1200h5v5h-5zM1125 1190h5v10h-5zM1130 1190h5v5h-5zM1150 1195h5v5h-5zM1165 1195h5v5h-5zM1175 1200h5v5h-5zM1185 1205h5v5h-5zM1210 1255h5v5h-5zM1210 1285h5v5h-5zM1235 1335h5v5h-5zM1250 1335h5v5h-5z"/><path fill="#e1deb1" d="M110 345h5v15h-5zM115 340h5v15h-5zM120 355h5v5h-5zM125 335h5v10h-5zM125 355h5v5h-5zM130 350h5v5h-5zM135 335h5v5h-5zM140 340h5v5h-5zM140 355h5v5h-5zM145 350h5v15h-5zM150 345h5v15h-5zM155 355h5v5h-5zM155 365h5v5h-5zM170 375h5v5h-5zM180 370h5v5h-5zM190 380h5v5h-5zM220 400h5v5h-5zM285 415h5v5h-5zM310 415h5v5h-5zM395 425h5v5h-5zM400 425h5v5h-5zM410 430h5v5h-5zM420 440h5v5h-5zM420 450h5v5h-5zM420 780h5v5h-5zM420 815h5v5h-5zM420 825h5v5h-5zM420 855h5v10h-5zM420 870h5v10h-5zM420 905h5v5h-5zM420 940h5v10h-5zM420 965h5v5h-5zM420 1000h5v5h-5zM420 1015h5v5h-5zM420 1035h5v5h-5zM420 1045h5v5h-5zM420 1075h5v5h-5zM420 1085h5v5h-5zM420 1095h5v5h-5zM420 1115h5v5h-5zM420 1130h5v5h-5zM420 1155h5v5h-5zM425 530h5v5h-5zM425 540h5v5h-5zM425 550h5v15h-5zM425 570h5v10h-5zM425 585h5v5h-5zM425 620h5v5h-5zM425 645h5v10h-5zM425 660h5v10h-5zM425 690h5v5h-5zM425 700h5v5h-5zM425 715h5v5h-5zM425 730h5v5h-5zM425 1170h5v5h-5zM435 1180h5v5h-5zM465 1180h5v10h-5zM470 1180h5v10h-5zM475 1180h5v5h-5zM475 1190h5v5h-5zM490 1175h5v5h-5zM490 1185h5v5h-5zM495 1185h5v5h-5zM505 1185h5v5h-5zM510 1180h5v5h-5zM520 1175h5v5h-5zM525 1180h5v5h-5zM530 1175h5v5h-5zM550 1190h5v5h-5zM555 1185h5v10h-5zM560 1185h5v5h-5zM575 1185h5v5h-5zM580 1180h5v5h-5zM585 1195h5v10h-5zM590 1185h5v5h-5zM595 1195h5v5h-5zM600 1185h5v5h-5zM610 1180h5v5h-5zM620 1180h5v10h-5zM620 1200h5v5h-5zM630 1185h5v5h-5zM635 1190h5v5h-5zM640 1190h5v5h-5zM645 1180h5v10h-5zM650 1190h5v5h-5zM660 1180h5v15h-5zM665 1185h5v5h-5zM675 1175h5v5h-5zM675 1185h5v5h-5zM675 1195h5v5h-5zM680 1185h5v5h-5zM700 1185h5v5h-5zM710 1180h5v10h-5zM715 1175h5v5h-5zM720 1190h5v5h-5zM725 1180h5v5h-5zM730 1180h5v5h-5zM735 1180h5v5h-5zM740 1180h5v5h-5zM745 1165h5v5h-5zM745 1175h5v5h-5zM750 1165h5v5h-5zM750 1175h5v5h-5zM760 1175h5v5h-5zM760 1185h5v5h-5zM765 1165h5v5h-5zM770 1175h5v5h-5zM785 1165h5v15h-5zM790 1155h5v5h-5zM790 1170h5v10h-5zM790 1205h5v10h-5zM795 1165h5v5h-5zM800 1205h5v5h-5zM805 1200h5v5h-5zM810 1155h5v10h-5zM810 1170h5v15h-5zM810 1210h5v5h-5zM815 1160h5v10h-5zM815 1175h5v10h-5zM820 1170h5v5h-5zM820 1205h5v5h-5zM825 1195h5v5h-5zM825 1210h5v5h-5zM830 1165h5v5h-5zM830 1175h5v10h-5zM830 1200h5v10h-5zM835 1170h5v10h-5zM840 1160h5v5h-5zM840 1200h5v5h-5zM845 1160h5v5h-5zM850 1165h5v5h-5zM850 1205h5v5h-5zM855 1180h5v5h-5zM860 1170h5v5h-5zM860 1180h5v5h-5zM865 1165h5v5h-5zM865 1175h5v5h-5zM870 1175h5v5h-5zM875 1205h5v5h-5zM885 1175h5v5h-5zM890 1175h5v10h-5zM900 1205h5v5h-5zM905 1175h5v5h-5zM910 1175h5v5h-5zM920 1180h5v5h-5zM925 1170h5v5h-5zM945 1170h5v10h-5zM955 1175h5v5h-5zM990 1175h5v5h-5zM995 1175h5v5h-5zM1005 1175h5v5h-5zM1010 1175h5v5h-5zM1015 1175h5v10h-5zM1020 1175h5v5h-5zM1025 1175h5v5h-5zM1030 1180h5v5h-5zM1035 1175h5v5h-5zM1040 1175h5v5h-5zM1050 1180h5v5h-5zM1055 1180h5v5h-5zM1075 1180h5v5h-5zM1085 1175h5v5h-5zM1095 1180h5v5h-5zM1100 1180h5v5h-5zM1110 1185h5v5h-5zM1110 1195h5v5h-5zM1120 1190h5v5h-5zM1140 1190h5v5h-5zM1145 1190h5v5h-5zM1155 1190h5v5h-5zM1180 1200h5v5h-5zM1195 1210h5v5h-5zM1205 1230h5v5h-5zM1210 1250h5v5h-5zM1215 1305h5v5h-5zM1215 1320h5v5h-5zM1220 1330h5v5h-5z"/><path fill="#dfdba9" d="M120 335h5v5h-5zM125 330h5v5h-5zM135 330h5v5h-5zM135 340h5v5h-5zM140 350h5v5h-5zM145 340h5v5h-5zM175 365h5v5h-5zM230 405h5v5h-5zM245 410h5v5h-5zM300 415h5v5h-5zM325 415h5v5h-5zM330 415h5v5h-5zM335 415h5v5h-5zM385 420h5v5h-5zM415 430h5v10h-5zM420 435h5v5h-5zM420 885h5v5h-5zM420 895h5v5h-5zM420 955h5v5h-5zM420 975h5v5h-5zM420 1020h5v5h-5zM420 1105h5v5h-5zM425 460h5v5h-5zM425 495h5v5h-5zM425 670h5v5h-5zM425 680h5v5h-5zM425 705h5v5h-5zM425 720h5v5h-5zM425 740h5v5h-5zM425 760h5v5h-5zM425 775h5v5h-5zM425 800h5v5h-5zM425 825h5v10h-5zM425 845h5v5h-5zM425 870h5v5h-5zM425 960h5v5h-5zM425 970h5v5h-5zM425 1065h5v5h-5zM425 1095h5v5h-5zM425 1140h5v10h-5zM425 1155h5v5h-5zM450 1180h5v5h-5zM455 1180h5v5h-5zM460 1180h5v5h-5zM480 1170h5v5h-5zM490 1180h5v5h-5zM495 1170h5v5h-5zM500 1175h5v5h-5zM505 1175h5v5h-5zM510 1175h5v5h-5zM535 1175h5v5h-5zM545 1180h5v5h-5zM550 1180h5v5h-5zM560 1180h5v5h-5zM570 1180h5v5h-5zM600 1180h5v5h-5zM605 1175h5v5h-5zM625 1180h5v10h-5zM640 1185h5v5h-5zM670 1175h5v5h-5zM680 1175h5v5h-5zM685 1175h5v5h-5zM695 1175h5v5h-5zM705 1175h5v5h-5zM710 1170h5v10h-5zM715 1170h5v5h-5zM725 1170h5v10h-5zM735 1170h5v5h-5zM745 1170h5v5h-5zM750 1155h5v5h-5zM750 1170h5v5h-5zM750 1180h5v5h-5zM755 1150h5v5h-5zM755 1165h5v5h-5zM760 1155h5v10h-5zM765 1145h5v10h-5zM770 1155h5v10h-5zM775 1155h5v5h-5zM780 1155h5v20h-5zM785 1155h5v10h-5zM795 1155h5v5h-5zM800 1135h5v5h-5zM800 1145h5v5h-5zM800 1160h5v5h-5zM805 1160h5v5h-5zM810 1115h5v5h-5zM810 1150h5v5h-5zM815 1150h5v5h-5zM820 1115h5v5h-5zM820 1165h5v5h-5zM825 1145h5v5h-5zM825 1155h5v10h-5zM830 1160h5v5h-5zM840 1155h5v5h-5zM845 1155h5v5h-5zM850 1160h5v5h-5zM855 1165h5v5h-5zM860 1165h5v5h-5zM865 1170h5v5h-5zM870 1165h5v5h-5zM875 1170h5v5h-5zM895 1170h5v10h-5zM900 1170h5v5h-5zM905 1170h5v5h-5zM910 1170h5v5h-5zM920 1170h5v5h-5zM930 1170h5v5h-5zM975 1170h5v5h-5zM980 1170h5v5h-5zM985 1170h5v5h-5zM990 1170h5v5h-5zM995 1165h5v10h-5zM1005 1170h5v5h-5zM1030 1170h5v5h-5zM1035 1170h5v5h-5zM1065 1175h5v5h-5zM1080 1175h5v5h-5zM1090 1180h5v5h-5zM1105 1180h5v5h-5zM1110 1180h5v5h-5zM1115 1185h5v5h-5zM1125 1185h5v5h-5zM1140 1185h5v5h-5zM1145 1185h5v5h-5zM1170 1190h5v5h-5zM1175 1190h5v5h-5zM1185 1200h5v5h-5zM1190 1205h5v5h-5zM1205 1225h5v5h-5zM1210 1245h5v5h-5zM1215 1300h5v5h-5zM1215 1310h5v5h-5z"/><path fill="#e0dcad" d="M125 345h5v5h-5zM130 335h5v10h-5zM135 345h5v10h-5zM140 345h5v5h-5zM145 345h5v5h-5zM165 355h5v5h-5zM185 375h5v5h-5zM195 380h5v5h-5zM200 385h5v5h-5zM280 415h5v5h-5zM315 415h5v5h-5zM320 415h5v5h-5zM375 420h5v5h-5zM380 420h5v5h-5zM420 865h5v5h-5zM420 890h5v5h-5zM420 910h5v15h-5zM420 930h5v5h-5zM420 950h5v5h-5zM420 960h5v5h-5zM420 970h5v5h-5zM420 980h5v15h-5zM420 1005h5v5h-5zM420 1025h5v10h-5zM420 1040h5v5h-5zM420 1055h5v5h-5zM420 1070h5v5h-5zM420 1080h5v5h-5zM425 470h5v10h-5zM425 485h5v5h-5zM425 505h5v15h-5zM425 525h5v5h-5zM425 535h5v5h-5zM425 565h5v5h-5zM425 590h5v5h-5zM425 610h5v10h-5zM425 685h5v5h-5zM425 695h5v5h-5zM425 710h5v5h-5zM425 725h5v5h-5zM425 735h5v5h-5zM425 745h5v15h-5zM425 770h5v5h-5zM425 795h5v5h-5zM425 1120h5v5h-5zM425 1135h5v5h-5zM425 1150h5v5h-5zM445 1185h5v5h-5zM470 1175h5v5h-5zM475 1170h5v10h-5zM480 1175h5v5h-5zM485 1175h5v5h-5zM490 1170h5v5h-5zM505 1180h5v5h-5zM505 1190h5v5h-5zM515 1185h5v5h-5zM530 1180h5v10h-5zM540 1180h5v10h-5zM545 1185h5v5h-5zM550 1185h5v5h-5zM555 1180h5v5h-5zM570 1185h5v5h-5zM575 1180h5v5h-5zM580 1185h5v5h-5zM585 1180h5v5h-5zM590 1180h5v5h-5zM590 1190h5v5h-5zM595 1180h5v5h-5zM600 1190h5v5h-5zM610 1185h5v5h-5zM615 1180h5v10h-5zM635 1175h5v10h-5zM650 1180h5v5h-5zM655 1185h5v5h-5zM660 1175h5v5h-5zM665 1180h5v5h-5zM670 1180h5v10h-5zM675 1180h5v5h-5zM680 1180h5v5h-5zM685 1180h5v5h-5zM695 1180h5v5h-5zM700 1180h5v5h-5zM705 1185h5v5h-5zM705 1195h5v5h-5zM715 1185h5v5h-5zM720 1175h5v5h-5zM720 1185h5v5h-5zM730 1170h5v5h-5zM735 1165h5v5h-5zM740 1165h5v15h-5zM755 1155h5v5h-5zM755 1170h5v10h-5zM760 1170h5v5h-5zM765 1155h5v10h-5zM765 1180h5v5h-5zM770 1165h5v5h-5zM775 1165h5v5h-5zM780 1210h5v5h-5zM785 1200h5v10h-5zM790 1145h5v5h-5zM790 1165h5v5h-5zM800 1170h5v5h-5zM805 1150h5v5h-5zM805 1165h5v5h-5zM815 1170h5v5h-5zM815 1200h5v5h-5zM820 1155h5v10h-5zM825 1150h5v5h-5zM825 1165h5v5h-5zM825 1205h5v5h-5zM830 1155h5v5h-5zM835 1160h5v5h-5zM840 1165h5v5h-5zM845 1170h5v10h-5zM850 1170h5v5h-5zM855 1170h5v5h-5zM870 1205h5v5h-5zM875 1180h5v5h-5zM890 1170h5v5h-5zM915 1170h5v5h-5zM925 1175h5v5h-5zM930 1175h5v5h-5zM940 1170h5v5h-5zM950 1175h5v5h-5zM955 1170h5v5h-5zM960 1170h5v5h-5zM965 1170h5v10h-5zM970 1170h5v5h-5zM1000 1170h5v5h-5zM1030 1175h5v5h-5zM1045 1175h5v5h-5zM1050 1175h5v5h-5zM1060 1180h5v5h-5zM1065 1180h5v5h-5zM1070 1180h5v5h-5zM1080 1180h5v5h-5zM1085 1180h5v5h-5zM1090 1175h5v5h-5zM1095 1185h5v5h-5zM1100 1185h5v5h-5zM1130 1185h5v5h-5zM1135 1190h5v5h-5zM1160 1190h5v5h-5zM1165 1190h5v5h-5zM1170 1195h5v5h-5zM1200 1215h5v5h-5zM1215 1295h5v5h-5zM1215 1315h5v5h-5zM1240 1335h5v5h-5zM1255 1335h5v5h-5z"/><path fill="#ded9a5" d="M130 325h5v10h-5zM140 330h5v5h-5zM145 335h5v5h-5zM155 345h5v10h-5zM160 350h5v5h-5zM170 360h5v5h-5zM185 370h5v5h-5zM210 390h5v5h-5zM215 395h5v5h-5zM345 415h5v5h-5zM390 420h5v5h-5zM405 425h5v5h-5zM420 900h5v5h-5zM425 450h5v10h-5zM425 465h5v5h-5zM425 480h5v5h-5zM425 490h5v5h-5zM425 500h5v5h-5zM425 765h5v5h-5zM425 780h5v15h-5zM425 805h5v20h-5zM425 835h5v10h-5zM425 850h5v15h-5zM425 920h5v5h-5zM425 940h5v10h-5zM425 965h5v5h-5zM425 975h5v5h-5zM425 985h5v10h-5zM425 1010h5v5h-5zM425 1035h5v10h-5zM425 1050h5v10h-5zM425 1070h5v10h-5zM425 1085h5v10h-5zM425 1105h5v15h-5zM425 1125h5v10h-5zM425 1160h5v5h-5zM435 1175h5v5h-5zM440 1180h5v5h-5zM445 1180h5v5h-5zM480 1165h5v5h-5zM485 1170h5v5h-5zM495 1175h5v5h-5zM515 1175h5v5h-5zM525 1175h5v5h-5zM540 1175h5v5h-5zM565 1180h5v5h-5zM575 1175h5v5h-5zM580 1175h5v5h-5zM605 1180h5v5h-5zM615 1175h5v5h-5zM620 1175h5v5h-5zM625 1175h5v5h-5zM630 1175h5v5h-5zM645 1175h5v5h-5zM650 1175h5v5h-5zM655 1175h5v5h-5zM665 1175h5v5h-5zM690 1175h5v5h-5zM720 1170h5v5h-5zM725 1165h5v5h-5zM730 1160h5v5h-5zM740 1150h5v5h-5zM740 1160h5v5h-5zM745 1160h5v5h-5zM750 1135h5v10h-5zM750 1150h5v5h-5zM750 1160h5v5h-5zM755 1160h5v5h-5zM760 1135h5v5h-5zM760 1150h5v5h-5zM760 1165h5v5h-5zM770 1145h5v10h-5zM775 1145h5v10h-5zM775 1160h5v5h-5zM780 1120h5v5h-5zM780 1135h5v5h-5zM780 1145h5v10h-5zM785 1140h5v15h-5zM790 1125h5v5h-5zM790 1160h5v5h-5zM795 1145h5v10h-5zM800 1120h5v5h-5zM800 1130h5v5h-5zM800 1150h5v5h-5zM805 1100h5v5h-5zM805 1140h5v10h-5zM805 1155h5v5h-5zM810 1145h5v5h-5zM815 1105h5v5h-5zM815 1135h5v5h-5zM815 1145h5v5h-5zM820 1135h5v20h-5zM825 1080h5v10h-5zM825 1100h5v5h-5zM825 1110h5v5h-5zM825 1125h5v10h-5zM825 1140h5v5h-5zM835 1110h5v5h-5zM835 1130h5v5h-5zM835 1145h5v5h-5zM840 1100h5v5h-5zM840 1140h5v15h-5zM845 1075h5v5h-5zM845 1100h5v5h-5zM845 1150h5v5h-5zM855 1100h5v5h-5zM855 1160h5v5h-5zM860 1155h5v10h-5zM870 1170h5v5h-5zM880 1165h5v10h-5zM885 1085h5v5h-5zM885 1170h5v5h-5zM895 1165h5v5h-5zM915 1165h5v5h-5zM935 1170h5v5h-5zM945 1165h5v5h-5zM970 1165h5v5h-5zM975 1165h5v5h-5zM985 1165h5v5h-5zM1005 1165h5v5h-5zM1015 1170h5v5h-5zM1020 1165h5v10h-5zM1025 1170h5v5h-5zM1055 1175h5v5h-5zM1060 1175h5v5h-5zM1095 1175h5v5h-5zM1100 1175h5v5h-5zM1105 1175h5v5h-5zM1115 1180h5v5h-5zM1120 1180h5v10h-5zM1135 1185h5v5h-5zM1150 1185h5v5h-5zM1160 1185h5v5h-5zM1175 1195h5v5h-5zM1180 1195h5v5h-5zM1185 1195h5v5h-5zM1210 1240h5v5h-5zM1220 1325h5v5h-5zM1225 1330h5v5h-5z"/><path fill="#dcce8f" d="M135 320h5v5h-5zM140 320h5v5h-5zM180 360h5v5h-5zM185 365h5v5h-5zM195 375h5v5h-5zM200 380h5v5h-5zM220 395h5v5h-5zM235 405h5v5h-5zM290 410h5v5h-5zM295 410h5v5h-5zM375 415h5v5h-5zM410 420h5v5h-5zM425 435h5v5h-5zM430 460h5v10h-5zM430 495h5v5h-5zM430 750h5v10h-5zM430 820h5v5h-5zM430 845h5v5h-5zM430 865h5v15h-5zM430 940h5v5h-5zM430 950h5v15h-5zM430 985h5v5h-5zM430 995h5v5h-5zM430 1050h5v10h-5zM430 1065h5v15h-5zM430 1095h5v5h-5zM430 1110h5v5h-5zM430 1145h5v10h-5zM440 1175h5v5h-5zM455 1175h5v5h-5zM470 1160h5v5h-5zM475 1130h5v5h-5zM475 1155h5v5h-5zM480 1115h5v5h-5zM480 1140h5v5h-5zM480 1160h5v5h-5zM485 1070h5v5h-5zM485 1085h5v5h-5zM485 1095h5v5h-5zM485 1110h5v5h-5zM485 1120h5v5h-5zM485 1145h5v10h-5zM485 1160h5v5h-5zM490 1075h5v5h-5zM490 1095h5v15h-5zM490 1115h5v5h-5zM490 1140h5v5h-5zM490 1160h5v5h-5zM495 1040h5v5h-5zM495 1050h5v5h-5zM495 1075h5v5h-5zM495 1085h5v5h-5zM495 1095h5v5h-5zM495 1125h5v15h-5zM500 1065h5v5h-5zM500 1085h5v15h-5zM500 1105h5v5h-5zM500 1115h5v5h-5zM500 1165h5v5h-5zM505 1065h5v5h-5zM505 1075h5v5h-5zM505 1085h5v10h-5zM505 1100h5v15h-5zM510 1065h5v5h-5zM510 1095h5v10h-5zM510 1115h5v5h-5zM510 1135h5v10h-5zM515 1065h5v5h-5zM515 1100h5v5h-5zM520 1055h5v5h-5zM520 1075h5v10h-5zM520 1090h5v10h-5zM520 1140h5v5h-5zM520 1165h5v5h-5zM525 1075h5v5h-5zM525 1090h5v5h-5zM525 1110h5v10h-5zM525 1135h5v10h-5zM525 1165h5v5h-5zM530 1085h5v5h-5zM530 1095h5v10h-5zM530 1115h5v5h-5zM535 1050h5v5h-5zM535 1060h5v5h-5zM535 1075h5v5h-5zM535 1100h5v5h-5zM535 1110h5v5h-5zM535 1135h5v5h-5zM540 1065h5v5h-5zM540 1105h5v5h-5zM540 1170h5v5h-5zM545 1055h5v5h-5zM545 1070h5v10h-5zM545 1085h5v5h-5zM545 1095h5v5h-5zM545 1110h5v5h-5zM545 1125h5v15h-5zM550 1075h5v10h-5zM550 1090h5v5h-5zM550 1105h5v5h-5zM550 1115h5v5h-5zM555 1090h5v10h-5zM555 1135h5v5h-5zM560 1065h5v5h-5zM560 1090h5v5h-5zM560 1105h5v10h-5zM560 1120h5v5h-5zM560 1130h5v10h-5zM565 1080h5v5h-5zM565 1090h5v5h-5zM565 1100h5v5h-5zM565 1120h5v5h-5zM565 1135h5v5h-5zM570 1070h5v10h-5zM570 1085h5v5h-5zM570 1095h5v5h-5zM570 1105h5v5h-5zM570 1115h5v5h-5zM570 1130h5v5h-5zM575 1075h5v10h-5zM575 1095h5v5h-5zM575 1105h5v5h-5zM580 1060h5v5h-5zM580 1075h5v5h-5zM580 1090h5v25h-5zM585 1080h5v5h-5zM585 1100h5v5h-5zM585 1110h5v5h-5zM585 1170h5v5h-5zM590 1085h5v5h-5zM590 1105h5v5h-5zM590 1120h5v15h-5zM595 1115h5v5h-5zM595 1125h5v5h-5zM600 1075h5v10h-5zM600 1105h5v5h-5zM600 1170h5v5h-5zM605 1070h5v5h-5zM605 1085h5v15h-5zM605 1105h5v5h-5zM605 1170h5v5h-5zM610 1090h5v10h-5zM610 1105h5v5h-5zM610 1115h5v10h-5zM610 1135h5v5h-5zM615 1080h5v5h-5zM615 1100h5v5h-5zM615 1110h5v10h-5zM615 1130h5v5h-5zM620 1085h5v5h-5zM620 1105h5v10h-5zM620 1135h5v5h-5zM625 1060h5v5h-5zM625 1075h5v10h-5zM625 1090h5v5h-5zM625 1105h5v10h-5zM625 1120h5v10h-5zM625 1135h5v5h-5zM630 1080h5v5h-5zM630 1100h5v5h-5zM630 1110h5v10h-5zM630 1135h5v5h-5zM635 1080h5v10h-5zM635 1095h5v5h-5zM635 1105h5v5h-5zM640 1080h5v20h-5zM640 1135h5v5h-5zM645 1085h5v5h-5zM645 1095h5v10h-5zM645 1140h5v5h-5zM650 1055h5v5h-5zM650 1080h5v5h-5zM650 1090h5v5h-5zM650 1105h5v5h-5zM650 1130h5v5h-5zM655 1090h5v5h-5zM655 1100h5v10h-5zM655 1140h5v5h-5zM660 1075h5v20h-5zM660 1120h5v10h-5zM665 1080h5v5h-5zM665 1110h5v5h-5zM670 1080h5v5h-5zM670 1100h5v5h-5zM670 1120h5v5h-5zM670 1140h5v5h-5zM675 1055h5v5h-5zM675 1065h5v5h-5zM675 1085h5v5h-5zM675 1130h5v5h-5zM680 1075h5v10h-5zM680 1090h5v5h-5zM680 1105h5v10h-5zM680 1135h5v5h-5zM685 1085h5v5h-5zM685 1095h5v5h-5zM685 1125h5v5h-5zM690 1085h5v5h-5zM690 1095h5v10h-5zM690 1140h5v5h-5zM690 1165h5v5h-5zM695 1065h5v10h-5zM695 1085h5v5h-5zM695 1140h5v5h-5zM700 1055h5v5h-5zM700 1070h5v10h-5zM700 1100h5v5h-5zM700 1165h5v5h-5zM705 1080h5v5h-5zM705 1090h5v5h-5zM705 1100h5v5h-5zM710 1060h5v5h-5zM710 1075h5v15h-5zM715 1145h5v5h-5zM715 1160h5v5h-5zM720 1060h5v5h-5zM720 1070h5v5h-5zM720 1095h5v5h-5zM720 1140h5v5h-5zM720 1150h5v5h-5zM725 1075h5v10h-5zM725 1095h5v5h-5zM725 1150h5v5h-5zM730 1055h5v10h-5zM745 1060h5v5h-5zM745 1080h5v5h-5zM750 1055h5v5h-5zM750 1080h5v5h-5zM755 1055h5v5h-5zM760 1055h5v5h-5zM760 1095h5v5h-5zM765 1060h5v5h-5zM770 1055h5v5h-5zM775 1060h5v5h-5zM775 1075h5v5h-5zM780 1055h5v10h-5zM795 1050h5v5h-5zM795 1080h5v5h-5zM800 1050h5v10h-5zM805 1045h5v5h-5zM805 1055h5v5h-5zM805 1065h5v5h-5zM810 1055h5v10h-5zM815 1050h5v5h-5zM815 1065h5v5h-5zM820 1055h5v5h-5zM825 1070h5v5h-5zM830 1055h5v10h-5zM835 1060h5v10h-5zM840 1050h5v5h-5zM845 1060h5v5h-5zM855 1060h5v5h-5zM855 1135h5v5h-5zM860 1055h5v5h-5zM860 1065h5v5h-5zM860 1125h5v5h-5zM860 1145h5v5h-5zM865 1055h5v10h-5zM865 1135h5v5h-5zM870 1055h5v5h-5zM870 1065h5v5h-5zM870 1120h5v10h-5zM875 1060h5v5h-5zM880 1050h5v5h-5zM880 1065h5v5h-5zM880 1105h5v5h-5zM880 1160h5v5h-5zM885 1120h5v5h-5zM885 1155h5v5h-5zM890 1115h5v10h-5zM890 1155h5v10h-5zM895 1055h5v10h-5zM895 1120h5v5h-5zM895 1155h5v5h-5zM900 1115h5v5h-5zM905 1065h5v5h-5zM910 1120h5v5h-5zM915 1070h5v10h-5zM915 1120h5v5h-5zM920 1060h5v5h-5zM920 1110h5v15h-5zM925 1075h5v5h-5zM925 1090h5v5h-5zM925 1110h5v15h-5zM930 1095h5v5h-5zM930 1110h5v15h-5zM940 1110h5v10h-5zM940 1155h5v5h-5zM945 1120h5v5h-5zM950 1075h5v5h-5zM950 1115h5v5h-5zM955 1065h5v15h-5zM955 1110h5v5h-5zM960 1085h5v5h-5zM960 1155h5v5h-5zM965 1075h5v5h-5zM965 1090h5v5h-5zM965 1155h5v5h-5zM970 1105h5v5h-5zM975 1095h5v5h-5zM975 1155h5v5h-5zM980 1080h5v5h-5zM980 1095h5v10h-5zM985 1095h5v10h-5zM990 1095h5v5h-5zM990 1105h5v10h-5zM990 1155h5v5h-5zM995 1100h5v5h-5zM1000 1155h5v5h-5zM1015 1155h5v5h-5zM1030 1160h5v5h-5zM1035 1160h5v5h-5zM1060 1170h5v5h-5zM1065 1170h5v5h-5zM1100 1165h5v5h-5zM1120 1175h5v5h-5zM1125 1175h5v5h-5zM1135 1175h5v5h-5zM1160 1180h5v5h-5zM1205 1210h5v5h-5zM1210 1230h5v5h-5zM1220 1315h5v5h-5zM1225 1325h5v5h-5zM1250 1330h5v5h-5zM1255 1330h5v5h-5zM1260 1330h5v5h-5z"/><path fill="#ddd8a1" d="M135 325h5v5h-5zM140 335h5v5h-5zM150 340h5v5h-5zM170 355h5v5h-5zM180 365h5v5h-5zM190 375h5v5h-5zM205 385h5v5h-5zM340 415h5v5h-5zM425 445h5v5h-5zM425 865h5v5h-5zM425 875h5v10h-5zM425 915h5v5h-5zM425 925h5v5h-5zM425 935h5v5h-5zM425 955h5v5h-5zM425 995h5v15h-5zM425 1015h5v5h-5zM425 1030h5v5h-5zM425 1045h5v5h-5zM425 1060h5v5h-5zM425 1100h5v5h-5zM430 540h5v5h-5zM430 560h5v5h-5zM430 605h5v5h-5zM430 665h5v5h-5zM430 690h5v5h-5zM430 705h5v5h-5zM430 730h5v5h-5zM430 1130h5v5h-5zM460 1175h5v5h-5zM465 1175h5v5h-5zM470 1170h5v5h-5zM475 1165h5v5h-5zM500 1170h5v5h-5zM505 1170h5v5h-5zM510 1170h5v5h-5zM520 1170h5v5h-5zM585 1175h5v5h-5zM610 1175h5v5h-5zM625 1130h5v5h-5zM625 1170h5v5h-5zM640 1175h5v5h-5zM665 1170h5v5h-5zM670 1170h5v5h-5zM690 1170h5v5h-5zM695 1170h5v5h-5zM700 1175h5v5h-5zM705 1170h5v5h-5zM715 1130h5v5h-5zM720 1145h5v5h-5zM720 1165h5v5h-5zM730 1115h5v5h-5zM730 1130h5v5h-5zM735 1120h5v5h-5zM740 1100h5v5h-5zM740 1120h5v10h-5zM740 1135h5v5h-5zM740 1155h5v5h-5zM745 1150h5v5h-5zM750 1085h5v5h-5zM750 1095h5v10h-5zM750 1110h5v5h-5zM755 1125h5v5h-5zM755 1135h5v5h-5zM760 1100h5v5h-5zM760 1145h5v5h-5zM765 1100h5v5h-5zM765 1110h5v5h-5zM765 1135h5v5h-5zM770 1100h5v10h-5zM770 1115h5v5h-5zM775 1120h5v5h-5zM775 1130h5v5h-5zM775 1140h5v5h-5zM780 1125h5v5h-5zM785 1120h5v5h-5zM785 1135h5v5h-5zM790 1075h5v10h-5zM790 1105h5v5h-5zM790 1150h5v5h-5zM795 1110h5v5h-5zM795 1130h5v5h-5zM795 1140h5v5h-5zM800 1085h5v5h-5zM800 1100h5v5h-5zM800 1110h5v10h-5zM800 1125h5v5h-5zM800 1155h5v5h-5zM805 1090h5v5h-5zM805 1125h5v5h-5zM805 1135h5v5h-5zM810 1080h5v5h-5zM810 1110h5v5h-5zM810 1125h5v15h-5zM815 1125h5v5h-5zM815 1140h5v5h-5zM815 1155h5v5h-5zM820 1085h5v15h-5zM820 1130h5v5h-5zM825 1075h5v5h-5zM825 1095h5v5h-5zM825 1115h5v5h-5zM830 1100h5v20h-5zM830 1125h5v5h-5zM830 1135h5v20h-5zM835 1100h5v5h-5zM835 1115h5v5h-5zM835 1125h5v5h-5zM835 1140h5v5h-5zM840 1120h5v5h-5zM840 1130h5v5h-5zM845 1085h5v5h-5zM850 1090h5v25h-5zM850 1150h5v10h-5zM855 1085h5v10h-5zM860 1090h5v10h-5zM865 1085h5v5h-5zM865 1100h5v5h-5zM870 1090h5v5h-5zM875 1080h5v5h-5zM875 1100h5v5h-5zM875 1165h5v5h-5zM885 1080h5v5h-5zM885 1160h5v5h-5zM890 1100h5v5h-5zM895 1090h5v5h-5zM900 1095h5v10h-5zM900 1165h5v5h-5zM905 1085h5v10h-5zM905 1100h5v5h-5zM910 1075h5v5h-5zM910 1165h5v5h-5zM915 1085h5v10h-5zM915 1100h5v5h-5zM920 1095h5v5h-5zM920 1165h5v5h-5zM925 1085h5v5h-5zM925 1165h5v5h-5zM930 1165h5v5h-5zM935 1095h5v5h-5zM935 1165h5v5h-5zM950 1165h5v10h-5zM955 1165h5v5h-5zM960 1165h5v5h-5zM990 1165h5v5h-5zM1010 1170h5v5h-5zM1035 1165h5v5h-5zM1040 1170h5v5h-5zM1045 1170h5v5h-5zM1070 1175h5v5h-5zM1075 1175h5v5h-5zM1090 1170h5v5h-5zM1095 1170h5v5h-5zM1125 1180h5v5h-5zM1135 1180h5v5h-5zM1155 1185h5v5h-5zM1190 1200h5v5h-5zM1195 1205h5v5h-5zM1215 1290h5v5h-5zM1230 1330h5v5h-5z"/><path fill="#dcb661" d="M140 315h5v5h-5zM230 395h5v5h-5zM285 405h5v5h-5zM370 410h5v5h-5zM400 415h5v5h-5zM405 415h5v5h-5zM430 430h5v5h-5zM435 450h5v5h-5zM435 885h5v5h-5zM435 915h5v5h-5zM435 1010h5v5h-5zM435 1035h5v5h-5zM440 565h5v5h-5zM440 580h5v15h-5zM440 620h5v5h-5zM440 635h5v5h-5zM440 645h5v5h-5zM440 675h5v10h-5zM440 690h5v10h-5zM440 710h5v10h-5zM440 725h5v5h-5zM440 740h5v5h-5zM440 775h5v5h-5zM440 800h5v10h-5zM440 815h5v5h-5zM440 825h5v5h-5zM440 845h5v5h-5zM440 860h5v5h-5zM440 870h5v5h-5zM440 925h5v5h-5zM440 935h5v5h-5zM440 965h5v10h-5zM440 980h5v10h-5zM440 1050h5v10h-5zM440 1080h5v5h-5zM445 1120h5v5h-5zM445 1130h5v10h-5zM450 1120h5v5h-5zM450 1135h5v5h-5zM460 1105h5v10h-5zM460 1125h5v5h-5zM460 1135h5v5h-5zM465 930h5v5h-5zM465 1045h5v15h-5zM465 1065h5v5h-5zM465 1075h5v5h-5zM465 1085h5v10h-5zM470 810h5v5h-5zM470 890h5v5h-5zM470 900h5v5h-5zM470 910h5v10h-5zM470 925h5v5h-5zM470 970h5v5h-5zM470 1000h5v5h-5zM470 1025h5v5h-5zM475 695h5v5h-5zM475 725h5v5h-5zM475 745h5v5h-5zM475 755h5v5h-5zM475 765h5v5h-5zM475 815h5v5h-5zM475 835h5v5h-5zM475 860h5v5h-5zM480 675h5v5h-5zM480 685h5v10h-5zM480 725h5v5h-5zM480 735h5v5h-5zM485 655h5v5h-5zM485 665h5v10h-5zM485 680h5v10h-5zM485 700h5v5h-5zM490 650h5v5h-5zM490 660h5v5h-5zM490 670h5v5h-5zM490 685h5v10h-5zM495 660h5v5h-5zM495 675h5v5h-5zM495 685h5v15h-5zM495 900h5v5h-5zM500 660h5v5h-5zM500 685h5v5h-5zM500 710h5v5h-5zM500 880h5v10h-5zM500 1020h5v5h-5zM505 665h5v5h-5zM505 675h5v10h-5zM505 695h5v5h-5zM505 705h5v5h-5zM505 735h5v5h-5zM505 910h5v5h-5zM510 675h5v5h-5zM510 695h5v15h-5zM510 720h5v5h-5zM510 995h5v5h-5zM510 1030h5v5h-5zM515 690h5v5h-5zM515 725h5v5h-5zM515 735h5v5h-5zM515 875h5v5h-5zM515 925h5v10h-5zM515 995h5v5h-5zM520 700h5v5h-5zM520 715h5v5h-5zM520 875h5v5h-5zM520 920h5v20h-5zM520 995h5v5h-5zM525 690h5v5h-5zM525 720h5v5h-5zM525 735h5v5h-5zM525 800h5v5h-5zM525 875h5v5h-5zM525 920h5v5h-5zM525 945h5v5h-5zM530 695h5v10h-5zM530 710h5v5h-5zM530 730h5v10h-5zM530 875h5v5h-5zM530 1005h5v5h-5zM535 730h5v5h-5zM535 745h5v5h-5zM535 785h5v5h-5zM540 720h5v5h-5zM540 750h5v15h-5zM540 770h5v5h-5zM540 780h5v10h-5zM540 805h5v10h-5zM540 910h5v5h-5zM540 1010h5v15h-5zM540 1155h5v5h-5zM545 770h5v5h-5zM545 780h5v20h-5zM545 805h5v5h-5zM545 820h5v5h-5zM545 860h5v5h-5zM545 1010h5v20h-5zM550 805h5v10h-5zM550 820h5v5h-5zM550 830h5v20h-5zM550 865h5v5h-5zM550 1010h5v10h-5zM555 805h5v5h-5zM555 825h5v5h-5zM555 835h5v10h-5zM555 850h5v10h-5zM555 865h5v10h-5zM555 1165h5v5h-5zM560 810h5v5h-5zM560 835h5v5h-5zM560 850h5v5h-5zM560 865h5v5h-5zM560 910h5v10h-5zM560 935h5v5h-5zM565 865h5v5h-5zM565 915h5v5h-5zM565 1005h5v5h-5zM570 930h5v5h-5zM570 940h5v10h-5zM570 1005h5v5h-5zM570 1025h5v5h-5zM575 935h5v10h-5zM575 950h5v5h-5zM575 980h5v5h-5zM580 950h5v5h-5zM580 960h5v5h-5zM580 980h5v10h-5zM580 995h5v5h-5zM580 1160h5v5h-5zM585 955h5v5h-5zM585 965h5v10h-5zM585 985h5v5h-5zM585 1150h5v5h-5zM610 1160h5v5h-5zM615 960h5v5h-5zM615 990h5v10h-5zM620 965h5v5h-5zM620 980h5v5h-5zM620 1030h5v10h-5zM625 945h5v5h-5zM625 960h5v10h-5zM625 980h5v5h-5zM625 990h5v10h-5zM625 1030h5v5h-5zM630 950h5v5h-5zM630 970h5v5h-5zM630 995h5v15h-5zM635 940h5v5h-5zM635 950h5v10h-5zM635 965h5v10h-5zM635 980h5v15h-5zM640 950h5v10h-5zM640 1000h5v5h-5zM645 975h5v5h-5zM645 1005h5v5h-5zM645 1025h5v5h-5zM650 960h5v5h-5zM650 975h5v5h-5zM650 985h5v5h-5zM650 1005h5v5h-5zM655 970h5v5h-5zM655 1000h5v5h-5zM655 1025h5v5h-5zM660 965h5v5h-5zM660 975h5v5h-5zM660 985h5v15h-5zM665 975h5v5h-5zM665 1025h5v5h-5zM670 965h5v10h-5zM670 995h5v5h-5zM670 1025h5v5h-5zM675 1005h5v5h-5zM680 965h5v20h-5zM680 995h5v10h-5zM680 1020h5v5h-5zM685 960h5v5h-5zM685 970h5v5h-5zM685 980h5v5h-5zM685 1000h5v5h-5zM685 1010h5v5h-5zM685 1020h5v5h-5zM690 970h5v15h-5zM695 960h5v5h-5zM695 970h5v5h-5zM700 975h5v20h-5zM700 1015h5v5h-5zM705 980h5v10h-5zM705 995h5v5h-5zM710 985h5v5h-5zM715 995h5v10h-5zM720 970h5v5h-5zM720 995h5v5h-5zM730 975h5v10h-5zM730 995h5v5h-5zM735 975h5v15h-5zM740 960h5v5h-5zM740 985h5v10h-5zM745 960h5v5h-5zM745 985h5v5h-5zM745 1005h5v5h-5zM750 975h5v5h-5zM750 995h5v5h-5zM755 980h5v10h-5zM755 1000h5v5h-5zM760 985h5v10h-5zM765 975h5v5h-5zM765 985h5v5h-5zM765 1005h5v10h-5zM770 995h5v10h-5zM775 975h5v10h-5zM780 995h5v5h-5zM785 975h5v10h-5zM785 995h5v5h-5zM790 980h5v5h-5zM795 975h5v5h-5zM800 985h5v5h-5zM800 995h5v5h-5zM805 985h5v5h-5zM810 980h5v5h-5zM815 990h5v5h-5zM820 985h5v5h-5zM825 995h5v5h-5zM835 980h5v5h-5zM840 1005h5v5h-5zM845 1005h5v10h-5zM850 1000h5v10h-5zM855 995h5v5h-5zM860 995h5v5h-5zM860 1005h5v5h-5zM865 1005h5v5h-5zM870 1000h5v10h-5zM875 1005h5v5h-5zM880 1010h5v10h-5zM885 1015h5v5h-5zM895 1015h5v10h-5zM905 1015h5v5h-5zM910 1025h5v5h-5zM915 1020h5v5h-5zM920 1020h5v5h-5zM925 1020h5v5h-5zM935 1025h5v5h-5zM950 1035h5v5h-5zM960 1040h5v5h-5zM980 1050h5v5h-5zM985 1055h5v5h-5zM1020 1075h5v5h-5zM1035 1090h5v5h-5zM1045 1105h5v15h-5zM1045 1125h5v5h-5zM1115 1160h5v5h-5zM1130 1165h5v5h-5zM1210 1210h5v5h-5zM1215 1225h5v5h-5zM1225 1275h5v5h-5zM1225 1295h5v5h-5z"/><path fill="#dcd093" d="M140 325h5v5h-5zM160 345h5v5h-5zM190 370h5v5h-5zM250 410h5v5h-5zM260 410h5v5h-5zM265 410h5v5h-5zM275 410h5v5h-5zM365 415h5v5h-5zM400 420h5v5h-5zM415 425h5v5h-5zM425 885h5v5h-5zM425 910h5v5h-5zM430 455h5v5h-5zM430 470h5v5h-5zM430 485h5v5h-5zM430 505h5v10h-5zM430 535h5v5h-5zM430 550h5v5h-5zM430 565h5v10h-5zM430 610h5v5h-5zM430 640h5v5h-5zM430 670h5v5h-5zM430 725h5v5h-5zM430 745h5v5h-5zM430 770h5v5h-5zM430 790h5v10h-5zM430 805h5v5h-5zM430 815h5v5h-5zM430 830h5v15h-5zM430 850h5v5h-5zM430 930h5v5h-5zM430 990h5v5h-5zM430 1045h5v5h-5zM430 1080h5v10h-5zM430 1100h5v10h-5zM430 1115h5v5h-5zM430 1135h5v5h-5zM475 1140h5v5h-5zM475 1160h5v5h-5zM480 1135h5v5h-5zM485 1060h5v5h-5zM485 1125h5v10h-5zM485 1140h5v5h-5zM490 1080h5v10h-5zM490 1125h5v5h-5zM495 1065h5v5h-5zM495 1080h5v5h-5zM495 1090h5v5h-5zM495 1120h5v5h-5zM495 1140h5v5h-5zM500 1100h5v5h-5zM500 1110h5v5h-5zM505 1120h5v5h-5zM505 1135h5v5h-5zM505 1165h5v5h-5zM510 1080h5v10h-5zM510 1110h5v5h-5zM510 1120h5v5h-5zM515 1105h5v40h-5zM520 1085h5v5h-5zM520 1100h5v25h-5zM520 1135h5v5h-5zM525 1080h5v5h-5zM525 1095h5v5h-5zM530 1090h5v5h-5zM530 1105h5v10h-5zM530 1135h5v5h-5zM535 1090h5v5h-5zM535 1105h5v5h-5zM535 1115h5v15h-5zM535 1170h5v5h-5zM540 1075h5v5h-5zM540 1090h5v15h-5zM540 1115h5v5h-5zM540 1125h5v15h-5zM545 1080h5v5h-5zM545 1105h5v5h-5zM545 1115h5v5h-5zM550 1120h5v15h-5zM555 1075h5v5h-5zM555 1100h5v20h-5zM555 1125h5v10h-5zM560 1100h5v5h-5zM560 1115h5v5h-5zM565 1105h5v5h-5zM565 1125h5v5h-5zM570 1090h5v5h-5zM570 1100h5v5h-5zM570 1110h5v5h-5zM570 1120h5v5h-5zM575 1100h5v5h-5zM575 1110h5v15h-5zM575 1130h5v10h-5zM575 1170h5v5h-5zM580 1115h5v5h-5zM585 1085h5v5h-5zM585 1135h5v5h-5zM590 1090h5v5h-5zM590 1110h5v10h-5zM595 1085h5v5h-5zM595 1095h5v5h-5zM595 1110h5v5h-5zM600 1115h5v5h-5zM600 1125h5v15h-5zM605 1075h5v5h-5zM605 1120h5v5h-5zM605 1130h5v10h-5zM610 1080h5v5h-5zM610 1100h5v5h-5zM610 1110h5v5h-5zM610 1125h5v5h-5zM615 1095h5v5h-5zM615 1105h5v5h-5zM615 1120h5v10h-5zM620 1125h5v5h-5zM625 1100h5v5h-5zM625 1115h5v5h-5zM630 1095h5v5h-5zM630 1105h5v5h-5zM635 1100h5v5h-5zM635 1110h5v5h-5zM635 1130h5v5h-5zM640 1100h5v20h-5zM640 1125h5v5h-5zM645 1105h5v5h-5zM645 1120h5v15h-5zM650 1140h5v5h-5zM655 1070h5v5h-5zM655 1095h5v5h-5zM655 1110h5v15h-5zM655 1130h5v10h-5zM660 1110h5v10h-5zM665 1075h5v5h-5zM665 1100h5v5h-5zM665 1115h5v5h-5zM665 1125h5v5h-5zM665 1135h5v10h-5zM670 1075h5v5h-5zM670 1085h5v10h-5zM670 1110h5v10h-5zM670 1130h5v10h-5zM675 1070h5v10h-5zM675 1090h5v15h-5zM675 1115h5v5h-5zM675 1140h5v5h-5zM680 1095h5v10h-5zM680 1115h5v10h-5zM680 1130h5v5h-5zM685 1065h5v5h-5zM685 1080h5v5h-5zM685 1090h5v5h-5zM685 1110h5v15h-5zM690 1090h5v5h-5zM690 1105h5v15h-5zM695 1075h5v5h-5zM695 1095h5v5h-5zM695 1110h5v5h-5zM700 1080h5v10h-5zM700 1115h5v5h-5zM700 1125h5v5h-5zM700 1135h5v5h-5zM705 1140h5v5h-5zM710 1090h5v5h-5zM710 1100h5v5h-5zM710 1115h5v15h-5zM715 1075h5v5h-5zM715 1090h5v5h-5zM715 1105h5v10h-5zM715 1140h5v5h-5zM720 1085h5v5h-5zM720 1100h5v5h-5zM720 1110h5v10h-5zM720 1160h5v5h-5zM725 1065h5v10h-5zM725 1085h5v5h-5zM725 1100h5v10h-5zM725 1125h5v10h-5zM725 1155h5v5h-5zM730 1075h5v5h-5zM730 1085h5v5h-5zM730 1095h5v5h-5zM730 1110h5v5h-5zM735 1070h5v5h-5zM735 1095h5v5h-5zM740 1065h5v15h-5zM740 1090h5v5h-5zM740 1105h5v5h-5zM740 1145h5v5h-5zM745 1075h5v5h-5zM745 1090h5v10h-5zM745 1105h5v20h-5zM750 1060h5v5h-5zM750 1070h5v10h-5zM750 1105h5v5h-5zM755 1085h5v10h-5zM760 1075h5v5h-5zM760 1085h5v5h-5zM765 1050h5v5h-5zM765 1065h5v5h-5zM765 1075h5v5h-5zM770 1060h5v5h-5zM770 1080h5v5h-5zM775 1065h5v5h-5zM775 1090h5v5h-5zM775 1125h5v5h-5zM780 1050h5v5h-5zM780 1070h5v5h-5zM780 1085h5v5h-5zM785 1065h5v5h-5zM785 1075h5v5h-5zM790 1060h5v5h-5zM790 1070h5v5h-5zM790 1110h5v5h-5zM795 1060h5v15h-5zM795 1105h5v5h-5zM795 1120h5v5h-5zM800 1065h5v5h-5zM805 1080h5v10h-5zM810 1065h5v5h-5zM810 1085h5v5h-5zM815 1055h5v5h-5zM825 1060h5v10h-5zM830 1065h5v5h-5zM835 1070h5v5h-5zM840 1060h5v10h-5zM840 1075h5v5h-5zM840 1125h5v5h-5zM845 1125h5v5h-5zM850 1065h5v10h-5zM850 1125h5v10h-5zM855 1055h5v5h-5zM855 1120h5v15h-5zM855 1145h5v5h-5zM860 1140h5v5h-5zM865 1065h5v10h-5zM865 1110h5v10h-5zM870 1060h5v5h-5zM870 1070h5v5h-5zM870 1095h5v5h-5zM875 1115h5v10h-5zM880 1055h5v5h-5zM880 1070h5v5h-5zM880 1115h5v5h-5zM880 1155h5v5h-5zM885 1060h5v5h-5zM885 1075h5v5h-5zM890 1070h5v5h-5zM890 1105h5v5h-5zM895 1065h5v5h-5zM895 1105h5v5h-5zM895 1115h5v5h-5zM895 1160h5v5h-5zM900 1065h5v5h-5zM900 1080h5v5h-5zM900 1120h5v5h-5zM900 1160h5v5h-5zM905 1070h5v15h-5zM905 1095h5v5h-5zM905 1115h5v5h-5zM905 1155h5v5h-5zM910 1090h5v10h-5zM910 1115h5v5h-5zM910 1155h5v10h-5zM915 1115h5v5h-5zM920 1155h5v10h-5zM925 1070h5v5h-5zM925 1080h5v5h-5zM925 1100h5v5h-5zM925 1160h5v5h-5zM930 1075h5v10h-5zM930 1155h5v10h-5zM935 1070h5v10h-5zM935 1105h5v10h-5zM940 1065h5v5h-5zM940 1075h5v5h-5zM940 1100h5v10h-5zM945 1070h5v5h-5zM945 1090h5v10h-5zM945 1105h5v10h-5zM945 1155h5v5h-5zM950 1080h5v5h-5zM950 1095h5v5h-5zM950 1110h5v5h-5zM955 1085h5v5h-5zM960 1090h5v25h-5zM960 1160h5v5h-5zM965 1080h5v10h-5zM965 1095h5v20h-5zM965 1160h5v5h-5zM970 1080h5v5h-5zM970 1090h5v10h-5zM970 1155h5v10h-5zM980 1155h5v5h-5zM985 1090h5v5h-5zM985 1155h5v5h-5zM995 1160h5v5h-5zM1000 1160h5v5h-5zM1005 1160h5v5h-5zM1010 1160h5v5h-5zM1020 1160h5v5h-5zM1025 1160h5v5h-5zM1055 1170h5v5h-5zM1075 1170h5v5h-5zM1080 1170h5v5h-5zM1110 1175h5v5h-5zM1170 1185h5v5h-5zM1195 1200h5v5h-5zM1215 1260h5v5h-5zM1235 1330h5v5h-5z"/><path fill="#dc973c" d="M145 310h5v5h-5zM170 335h5v5h-5zM175 340h5v5h-5zM185 345h5v5h-5zM195 355h5v5h-5zM210 365h5v5h-5zM220 375h5v5h-5zM230 375h5v5h-5zM245 385h5v5h-5zM270 390h5v5h-5zM280 395h5v5h-5zM285 390h5v10h-5zM300 395h5v5h-5zM355 405h5v5h-5zM395 410h5v5h-5zM435 895h5v5h-5zM440 465h5v5h-5zM440 475h5v10h-5zM440 1150h5v5h-5zM445 520h5v5h-5zM450 545h5v5h-5zM450 560h5v5h-5zM450 570h5v5h-5zM450 580h5v5h-5zM455 560h5v5h-5zM455 575h5v15h-5zM455 620h5v5h-5zM460 1020h5v5h-5zM465 585h5v5h-5zM470 565h5v5h-5zM470 575h5v5h-5zM475 550h5v5h-5zM475 560h5v5h-5zM480 550h5v10h-5zM510 580h5v5h-5zM515 900h5v5h-5zM520 590h5v5h-5zM520 600h5v5h-5zM520 895h5v5h-5zM525 895h5v5h-5zM530 610h5v5h-5zM540 625h5v5h-5zM540 635h5v5h-5zM545 625h5v10h-5zM560 675h5v5h-5zM560 685h5v5h-5zM565 665h5v5h-5zM565 680h5v5h-5zM570 690h5v15h-5zM570 720h5v5h-5zM575 700h5v5h-5zM575 710h5v5h-5zM580 705h5v5h-5zM580 890h5v5h-5zM585 715h5v5h-5zM585 905h5v5h-5zM590 720h5v5h-5zM595 740h5v10h-5zM600 770h5v5h-5zM600 910h5v5h-5zM600 1025h5v5h-5zM605 735h5v5h-5zM605 755h5v10h-5zM605 1020h5v5h-5zM610 745h5v15h-5zM610 880h5v5h-5zM610 1015h5v5h-5zM615 750h5v10h-5zM615 765h5v5h-5zM615 885h5v5h-5zM620 745h5v10h-5zM620 760h5v10h-5zM620 890h5v5h-5zM625 745h5v5h-5zM625 780h5v5h-5zM630 760h5v5h-5zM630 890h5v5h-5zM635 895h5v5h-5zM640 775h5v10h-5zM640 795h5v5h-5zM645 780h5v10h-5zM645 795h5v5h-5zM645 890h5v10h-5zM650 785h5v5h-5zM650 895h5v5h-5zM655 810h5v5h-5zM660 815h5v5h-5zM665 800h5v15h-5zM665 895h5v5h-5zM670 795h5v10h-5zM670 890h5v5h-5zM670 900h5v5h-5zM675 810h5v5h-5zM675 820h5v5h-5zM675 880h5v5h-5zM685 820h5v10h-5zM685 885h5v10h-5zM690 815h5v10h-5zM695 820h5v5h-5zM695 830h5v5h-5zM695 840h5v5h-5zM700 820h5v15h-5zM705 835h5v5h-5zM705 850h5v5h-5zM705 880h5v10h-5zM710 835h5v5h-5zM710 875h5v5h-5zM720 840h5v5h-5zM720 850h5v5h-5zM720 885h5v5h-5zM725 840h5v10h-5zM735 855h5v10h-5zM735 875h5v10h-5zM740 845h5v5h-5zM740 860h5v5h-5zM740 870h5v5h-5zM740 905h5v5h-5zM745 865h5v5h-5zM745 880h5v5h-5zM750 870h5v5h-5zM755 875h5v5h-5zM760 870h5v5h-5zM760 880h5v5h-5zM765 905h5v5h-5zM775 905h5v5h-5zM795 910h5v5h-5zM800 900h5v10h-5zM805 905h5v5h-5zM810 900h5v10h-5zM815 910h5v10h-5zM820 915h5v5h-5zM825 910h5v5h-5zM830 915h5v10h-5zM835 915h5v5h-5zM835 925h5v5h-5zM840 920h5v5h-5zM840 930h5v5h-5zM845 925h5v5h-5zM845 935h5v5h-5zM860 935h5v5h-5zM865 935h5v5h-5zM880 950h5v10h-5zM895 965h5v5h-5zM905 965h5v5h-5zM905 975h5v5h-5zM910 975h5v5h-5zM915 985h5v5h-5zM920 980h5v5h-5zM925 990h5v5h-5zM940 1000h5v5h-5zM955 1010h5v5h-5zM970 1020h5v5h-5zM975 1025h5v5h-5zM985 1035h5v5h-5zM1015 1050h5v5h-5zM1055 1095h5v5h-5zM1135 1160h5v5h-5zM1220 1225h5v5h-5zM1280 1310h5v5h-5z"/><path fill="#dcaa51" d="M145 315h5v5h-5zM150 320h5v5h-5zM155 325h5v5h-5zM160 330h5v5h-5zM165 335h5v5h-5zM170 340h5v5h-5zM175 345h5v5h-5zM185 355h5v5h-5zM230 390h5v5h-5zM240 395h5v5h-5zM255 400h5v5h-5zM265 400h5v5h-5zM270 400h5v5h-5zM275 400h5v5h-5zM280 400h5v5h-5zM290 400h5v5h-5zM330 405h5v5h-5zM335 405h5v5h-5zM435 1155h5v5h-5zM440 515h5v5h-5zM440 595h5v5h-5zM440 610h5v5h-5zM445 630h5v5h-5zM445 670h5v5h-5zM445 685h5v5h-5zM445 695h5v5h-5zM445 715h5v5h-5zM445 735h5v5h-5zM445 745h5v10h-5zM445 765h5v5h-5zM445 790h5v5h-5zM445 805h5v10h-5zM445 825h5v5h-5zM445 835h5v5h-5zM445 845h5v10h-5zM445 860h5v5h-5zM445 925h5v5h-5zM445 955h5v5h-5zM445 970h5v5h-5zM445 1000h5v5h-5zM450 745h5v5h-5zM450 810h5v5h-5zM450 830h5v5h-5zM450 940h5v10h-5zM450 965h5v10h-5zM450 980h5v5h-5zM450 990h5v15h-5zM450 1050h5v5h-5zM450 1080h5v15h-5zM455 955h5v5h-5zM455 975h5v10h-5zM455 995h5v10h-5zM455 1050h5v5h-5zM455 1075h5v5h-5zM455 1115h5v5h-5zM460 865h5v15h-5zM460 965h5v5h-5zM460 975h5v5h-5zM460 995h5v5h-5zM465 675h5v10h-5zM465 705h5v5h-5zM465 720h5v10h-5zM465 770h5v5h-5zM465 815h5v5h-5zM465 825h5v5h-5zM465 835h5v5h-5zM465 845h5v10h-5zM465 860h5v10h-5zM465 875h5v5h-5zM465 885h5v5h-5zM465 915h5v5h-5zM470 635h5v5h-5zM470 655h5v5h-5zM475 600h5v5h-5zM475 615h5v15h-5zM475 645h5v5h-5zM480 585h5v5h-5zM480 605h5v5h-5zM485 605h5v5h-5zM490 610h5v5h-5zM500 595h5v5h-5zM500 610h5v5h-5zM505 625h5v5h-5zM510 625h5v5h-5zM510 905h5v5h-5zM515 605h5v5h-5zM515 620h5v5h-5zM515 1005h5v5h-5zM515 1025h5v5h-5zM520 635h5v5h-5zM520 880h5v5h-5zM520 910h5v5h-5zM520 1025h5v5h-5zM525 635h5v10h-5zM525 650h5v5h-5zM525 885h5v5h-5zM525 905h5v5h-5zM530 650h5v15h-5zM530 1020h5v5h-5zM535 645h5v5h-5zM535 665h5v5h-5zM535 675h5v5h-5zM535 695h5v5h-5zM540 695h5v5h-5zM540 885h5v5h-5zM540 900h5v5h-5zM545 675h5v10h-5zM545 690h5v5h-5zM545 700h5v5h-5zM545 710h5v5h-5zM545 725h5v5h-5zM550 715h5v5h-5zM550 745h5v5h-5zM550 885h5v5h-5zM550 1160h5v5h-5zM555 700h5v5h-5zM555 730h5v5h-5zM555 740h5v5h-5zM555 885h5v5h-5zM555 1160h5v5h-5zM560 885h5v5h-5zM560 1160h5v5h-5zM565 770h5v10h-5zM565 785h5v10h-5zM565 1155h5v5h-5zM570 790h5v15h-5zM570 820h5v5h-5zM570 1020h5v5h-5zM575 795h5v5h-5zM575 805h5v10h-5zM575 825h5v5h-5zM575 870h5v10h-5zM575 1015h5v5h-5zM580 800h5v5h-5zM580 840h5v5h-5zM580 875h5v5h-5zM580 910h5v10h-5zM585 825h5v5h-5zM585 835h5v5h-5zM585 850h5v5h-5zM585 915h5v5h-5zM585 1005h5v5h-5zM590 835h5v5h-5zM590 845h5v5h-5zM590 870h5v5h-5zM590 930h5v10h-5zM590 945h5v5h-5zM590 990h5v5h-5zM595 825h5v5h-5zM595 845h5v5h-5zM595 925h5v5h-5zM595 950h5v5h-5zM595 960h5v5h-5zM595 975h5v5h-5zM595 1155h5v5h-5zM600 805h5v5h-5zM600 825h5v10h-5zM600 840h5v5h-5zM600 860h5v10h-5zM600 940h5v10h-5zM600 990h5v5h-5zM605 835h5v15h-5zM605 855h5v10h-5zM605 930h5v5h-5zM605 940h5v5h-5zM605 950h5v5h-5zM605 990h5v5h-5zM605 1030h5v5h-5zM610 920h5v5h-5zM610 1000h5v10h-5zM615 845h5v5h-5zM615 855h5v10h-5zM615 915h5v5h-5zM615 1025h5v5h-5zM620 835h5v5h-5zM620 845h5v10h-5zM620 860h5v5h-5zM625 835h5v10h-5zM625 855h5v5h-5zM625 865h5v10h-5zM625 910h5v5h-5zM630 860h5v15h-5zM635 855h5v5h-5zM635 910h5v5h-5zM640 865h5v5h-5zM640 915h5v5h-5zM645 860h5v5h-5zM650 1015h5v5h-5zM655 915h5v5h-5zM660 875h5v5h-5zM670 910h5v10h-5zM675 915h5v5h-5zM680 925h5v5h-5zM690 910h5v5h-5zM690 920h5v5h-5zM695 915h5v5h-5zM705 920h5v10h-5zM710 915h5v5h-5zM715 935h5v5h-5zM720 915h5v5h-5zM725 915h5v5h-5zM735 950h5v5h-5zM740 925h5v10h-5zM750 930h5v5h-5zM755 915h5v5h-5zM755 925h5v5h-5zM760 925h5v10h-5zM760 940h5v5h-5zM765 940h5v10h-5zM770 930h5v10h-5zM770 950h5v5h-5zM775 925h5v20h-5zM780 930h5v10h-5zM780 950h5v10h-5zM790 930h5v5h-5zM790 950h5v5h-5zM795 930h5v5h-5zM800 965h5v5h-5zM805 940h5v10h-5zM810 945h5v5h-5zM820 940h5v5h-5zM820 950h5v5h-5zM825 965h5v5h-5zM830 945h5v5h-5zM830 955h5v10h-5zM835 955h5v5h-5zM845 965h5v5h-5zM850 970h5v5h-5zM855 955h5v15h-5zM860 970h5v5h-5zM865 965h5v5h-5zM870 975h5v5h-5zM875 975h5v5h-5zM880 980h5v5h-5zM885 985h5v5h-5zM890 985h5v10h-5zM900 995h5v5h-5zM905 990h5v15h-5zM915 1000h5v5h-5zM930 1010h5v5h-5zM935 1015h5v5h-5zM940 1020h5v5h-5zM950 1025h5v5h-5zM955 1025h5v5h-5zM960 1030h5v5h-5zM965 1030h5v5h-5zM975 1035h5v5h-5zM980 1040h5v5h-5zM995 1050h5v5h-5zM1015 1060h5v5h-5zM1020 1065h5v5h-5zM1050 1130h5v5h-5zM1050 1155h5v5h-5zM1140 1165h5v5h-5zM1170 1170h5v5h-5zM1225 1260h5v5h-5zM1260 1315h5v5h-5zM1265 1320h5v5h-5z"/><path fill="#dcba6a" d="M145 320h5v5h-5zM150 325h5v5h-5zM155 330h5v5h-5zM160 335h5v5h-5zM165 340h5v5h-5zM275 405h5v5h-5zM280 405h5v5h-5zM295 405h5v5h-5zM360 410h5v5h-5zM420 420h5v5h-5zM435 445h5v5h-5zM435 465h5v10h-5zM435 1000h5v10h-5zM435 1165h5v5h-5zM440 730h5v5h-5zM440 745h5v5h-5zM440 755h5v5h-5zM440 785h5v5h-5zM440 1070h5v10h-5zM440 1085h5v10h-5zM440 1115h5v5h-5zM440 1130h5v5h-5zM440 1140h5v5h-5zM455 1170h5v5h-5zM460 1140h5v5h-5zM465 1100h5v10h-5zM465 1120h5v5h-5zM465 1135h5v5h-5zM470 965h5v5h-5zM470 975h5v5h-5zM470 985h5v10h-5zM470 1020h5v5h-5zM470 1030h5v5h-5zM470 1045h5v10h-5zM470 1070h5v15h-5zM475 775h5v5h-5zM475 785h5v5h-5zM475 795h5v5h-5zM475 820h5v10h-5zM475 845h5v15h-5zM475 865h5v5h-5zM475 875h5v30h-5zM475 930h5v10h-5zM475 960h5v5h-5zM480 740h5v5h-5zM480 750h5v5h-5zM480 770h5v5h-5zM480 780h5v5h-5zM480 830h5v5h-5zM480 840h5v5h-5zM480 860h5v5h-5zM480 880h5v10h-5zM480 895h5v10h-5zM485 690h5v10h-5zM485 720h5v10h-5zM485 755h5v5h-5zM485 775h5v5h-5zM485 785h5v5h-5zM485 835h5v5h-5zM485 890h5v5h-5zM490 695h5v5h-5zM490 705h5v10h-5zM490 720h5v15h-5zM490 780h5v5h-5zM490 885h5v15h-5zM495 700h5v10h-5zM495 715h5v5h-5zM495 735h5v5h-5zM495 760h5v15h-5zM495 880h5v10h-5zM495 905h5v5h-5zM500 680h5v5h-5zM500 690h5v10h-5zM500 715h5v15h-5zM500 750h5v5h-5zM500 775h5v5h-5zM500 875h5v5h-5zM500 910h5v5h-5zM500 1005h5v15h-5zM505 710h5v15h-5zM505 730h5v5h-5zM505 740h5v5h-5zM505 755h5v5h-5zM505 800h5v5h-5zM505 930h5v5h-5zM505 995h5v5h-5zM505 1030h5v5h-5zM510 690h5v5h-5zM510 710h5v5h-5zM510 725h5v25h-5zM510 835h5v5h-5zM510 870h5v5h-5zM510 925h5v10h-5zM510 940h5v5h-5zM510 950h5v5h-5zM510 965h5v5h-5zM510 980h5v10h-5zM515 740h5v15h-5zM515 760h5v5h-5zM515 770h5v5h-5zM515 780h5v10h-5zM515 845h5v5h-5zM515 940h5v5h-5zM515 950h5v5h-5zM515 980h5v5h-5zM515 1155h5v5h-5zM520 720h5v5h-5zM520 745h5v5h-5zM520 765h5v15h-5zM520 805h5v5h-5zM520 940h5v5h-5zM520 950h5v10h-5zM520 990h5v5h-5zM520 1035h5v5h-5zM525 750h5v5h-5zM525 765h5v25h-5zM525 795h5v5h-5zM525 810h5v5h-5zM525 830h5v5h-5zM525 840h5v5h-5zM525 930h5v5h-5zM525 940h5v5h-5zM525 980h5v5h-5zM525 1000h5v5h-5zM530 790h5v10h-5zM530 820h5v5h-5zM530 980h5v5h-5zM530 1000h5v5h-5zM530 1030h5v5h-5zM535 775h5v5h-5zM535 800h5v10h-5zM535 815h5v5h-5zM535 835h5v5h-5zM535 850h5v5h-5zM535 860h5v10h-5zM535 915h5v5h-5zM535 1005h5v5h-5zM540 800h5v5h-5zM540 815h5v10h-5zM540 835h5v5h-5zM540 870h5v10h-5zM540 1150h5v5h-5zM545 830h5v5h-5zM545 840h5v5h-5zM545 855h5v5h-5zM545 1005h5v5h-5zM545 1145h5v5h-5zM550 800h5v5h-5zM550 860h5v5h-5zM550 910h5v10h-5zM550 945h5v5h-5zM550 1005h5v5h-5zM555 830h5v5h-5zM555 920h5v5h-5zM555 935h5v5h-5zM555 965h5v10h-5zM555 1020h5v5h-5zM555 1145h5v5h-5zM560 920h5v5h-5zM560 945h5v5h-5zM560 955h5v15h-5zM560 1165h5v5h-5zM565 935h5v5h-5zM565 945h5v10h-5zM565 960h5v5h-5zM565 975h5v5h-5zM565 985h5v5h-5zM565 995h5v5h-5zM565 1030h5v5h-5zM565 1145h5v5h-5zM565 1165h5v5h-5zM570 935h5v5h-5zM570 950h5v5h-5zM570 975h5v5h-5zM570 985h5v10h-5zM570 1000h5v5h-5zM570 1030h5v5h-5zM575 960h5v10h-5zM575 985h5v10h-5zM575 1000h5v5h-5zM575 1030h5v5h-5zM580 990h5v5h-5zM585 1035h5v5h-5zM595 1040h5v5h-5zM595 1165h5v5h-5zM615 1150h5v5h-5zM620 985h5v5h-5zM620 1150h5v10h-5zM625 1035h5v5h-5zM625 1155h5v5h-5zM635 975h5v5h-5zM635 995h5v5h-5zM635 1030h5v5h-5zM640 965h5v5h-5zM645 970h5v5h-5zM645 1000h5v5h-5zM645 1030h5v5h-5zM645 1155h5v5h-5zM655 965h5v5h-5zM655 985h5v5h-5zM655 1030h5v10h-5zM655 1150h5v5h-5zM660 1000h5v5h-5zM665 995h5v5h-5zM665 1030h5v5h-5zM665 1150h5v10h-5zM670 985h5v10h-5zM670 1005h5v5h-5zM675 985h5v10h-5zM675 1030h5v5h-5zM685 985h5v5h-5zM685 1030h5v5h-5zM690 985h5v5h-5zM690 1005h5v5h-5zM690 1030h5v5h-5zM700 995h5v5h-5zM700 1010h5v5h-5zM700 1020h5v10h-5zM705 1005h5v5h-5zM710 1005h5v5h-5zM715 990h5v5h-5zM715 1005h5v5h-5zM715 1015h5v5h-5zM720 965h5v5h-5zM720 985h5v5h-5zM730 1000h5v15h-5zM735 995h5v5h-5zM740 1005h5v5h-5zM745 980h5v5h-5zM745 990h5v5h-5zM745 1010h5v10h-5zM750 1000h5v5h-5zM755 990h5v10h-5zM760 995h5v5h-5zM760 1010h5v5h-5zM765 995h5v10h-5zM770 990h5v5h-5zM770 1005h5v5h-5zM775 1000h5v5h-5zM785 1015h5v5h-5zM795 985h5v15h-5zM795 1005h5v5h-5zM800 1000h5v5h-5zM805 1005h5v5h-5zM810 1010h5v5h-5zM815 1015h5v5h-5zM820 1010h5v5h-5zM825 1010h5v10h-5zM830 1005h5v5h-5zM835 1010h5v5h-5zM840 1010h5v10h-5zM845 1015h5v5h-5zM850 1010h5v5h-5zM855 1020h5v5h-5zM860 1010h5v5h-5zM860 1020h5v5h-5zM865 1015h5v10h-5zM875 1020h5v5h-5zM890 1020h5v5h-5zM895 1030h5v5h-5zM900 1020h5v5h-5zM900 1030h5v5h-5zM905 1020h5v5h-5zM915 1030h5v5h-5zM920 1030h5v10h-5zM935 1030h5v5h-5zM945 1040h5v5h-5zM950 1040h5v5h-5zM955 1040h5v10h-5zM965 1045h5v5h-5zM970 1045h5v5h-5zM995 1060h5v5h-5zM1000 1065h5v5h-5zM1025 1090h5v5h-5zM1035 1110h5v5h-5zM1035 1120h5v5h-5zM1035 1145h5v5h-5zM1040 1105h5v5h-5zM1040 1120h5v5h-5zM1040 1130h5v5h-5zM1040 1150h5v5h-5zM1045 1155h5v5h-5zM1210 1215h5v5h-5zM1215 1230h5v5h-5zM1225 1300h5v5h-5zM1230 1315h5v5h-5z"/><path fill="#dcc986" d="M145 325h5v5h-5zM150 330h5v5h-5zM160 340h5v5h-5zM285 410h5v5h-5zM300 410h5v5h-5zM320 410h5v5h-5zM380 415h5v5h-5zM385 415h5v5h-5zM425 430h5v5h-5zM430 445h5v5h-5zM430 490h5v5h-5zM430 920h5v5h-5zM430 935h5v5h-5zM430 970h5v5h-5zM430 1005h5v10h-5zM430 1155h5v5h-5zM435 665h5v5h-5zM435 690h5v5h-5zM435 740h5v5h-5zM435 1130h5v5h-5zM450 1175h5v5h-5zM460 1170h5v5h-5zM475 1090h5v5h-5zM475 1100h5v5h-5zM475 1115h5v5h-5zM475 1135h5v5h-5zM475 1145h5v5h-5zM480 1045h5v5h-5zM480 1070h5v5h-5zM480 1095h5v5h-5zM480 1150h5v10h-5zM485 1025h5v5h-5zM485 1045h5v5h-5zM485 1090h5v5h-5zM490 980h5v5h-5zM490 990h5v5h-5zM490 1040h5v5h-5zM490 1055h5v5h-5zM490 1155h5v5h-5zM495 1035h5v5h-5zM495 1145h5v5h-5zM500 1040h5v10h-5zM500 1055h5v5h-5zM500 1080h5v5h-5zM505 1045h5v5h-5zM505 1140h5v10h-5zM510 1060h5v5h-5zM510 1165h5v5h-5zM515 1055h5v5h-5zM515 1075h5v5h-5zM515 1085h5v5h-5zM515 1145h5v5h-5zM525 1055h5v10h-5zM525 1105h5v5h-5zM530 1060h5v5h-5zM530 1140h5v5h-5zM530 1165h5v5h-5zM535 1045h5v5h-5zM535 1055h5v5h-5zM535 1065h5v10h-5zM535 1085h5v5h-5zM540 1050h5v5h-5zM540 1070h5v5h-5zM550 1055h5v5h-5zM550 1065h5v5h-5zM550 1085h5v5h-5zM550 1095h5v5h-5zM550 1135h5v5h-5zM550 1170h5v5h-5zM555 1045h5v5h-5zM555 1055h5v10h-5zM555 1080h5v5h-5zM555 1170h5v5h-5zM560 1070h5v5h-5zM565 1040h5v5h-5zM565 1050h5v30h-5zM570 1125h5v5h-5zM575 1060h5v15h-5zM580 1065h5v5h-5zM585 1055h5v10h-5zM585 1075h5v5h-5zM585 1140h5v5h-5zM590 1065h5v10h-5zM590 1080h5v5h-5zM595 1060h5v5h-5zM595 1070h5v10h-5zM595 1170h5v5h-5zM600 1055h5v10h-5zM600 1085h5v15h-5zM605 1080h5v5h-5zM610 1085h5v5h-5zM615 1065h5v5h-5zM620 1055h5v5h-5zM620 1065h5v15h-5zM620 1095h5v5h-5zM625 1065h5v5h-5zM625 1085h5v5h-5zM630 1085h5v5h-5zM635 1060h5v5h-5zM635 1075h5v5h-5zM635 1120h5v5h-5zM640 1060h5v5h-5zM640 1070h5v5h-5zM640 1140h5v5h-5zM640 1165h5v5h-5zM645 1050h5v5h-5zM645 1065h5v5h-5zM645 1080h5v5h-5zM650 1070h5v5h-5zM655 1055h5v5h-5zM655 1065h5v5h-5zM655 1075h5v5h-5zM655 1145h5v5h-5zM655 1165h5v5h-5zM660 1060h5v15h-5zM665 1060h5v5h-5zM665 1165h5v5h-5zM670 1070h5v5h-5zM680 1055h5v5h-5zM680 1065h5v5h-5zM685 1050h5v5h-5zM685 1075h5v5h-5zM685 1165h5v5h-5zM695 1055h5v10h-5zM700 1060h5v5h-5zM705 1045h5v30h-5zM705 1160h5v5h-5zM710 1055h5v5h-5zM710 1065h5v5h-5zM710 1150h5v5h-5zM710 1160h5v5h-5zM715 1050h5v5h-5zM715 1065h5v5h-5zM720 1050h5v5h-5zM725 1040h5v5h-5zM725 1060h5v5h-5zM735 1045h5v5h-5zM740 1050h5v5h-5zM745 1050h5v5h-5zM745 1065h5v5h-5zM750 1050h5v5h-5zM760 1040h5v5h-5zM775 1045h5v10h-5zM785 1040h5v20h-5zM790 1045h5v5h-5zM795 1040h5v10h-5zM795 1055h5v5h-5zM800 1040h5v5h-5zM805 1040h5v5h-5zM810 1045h5v10h-5zM835 1045h5v5h-5zM840 1040h5v5h-5zM840 1055h5v5h-5zM845 1045h5v5h-5zM860 1045h5v10h-5zM865 1120h5v5h-5zM870 1045h5v5h-5zM870 1130h5v5h-5zM875 1125h5v5h-5zM875 1145h5v5h-5zM880 1140h5v5h-5zM885 1125h5v5h-5zM890 1045h5v5h-5zM890 1055h5v5h-5zM890 1125h5v5h-5zM890 1145h5v10h-5zM895 1050h5v5h-5zM895 1130h5v5h-5zM895 1150h5v5h-5zM900 1050h5v15h-5zM900 1125h5v5h-5zM900 1150h5v5h-5zM905 1050h5v10h-5zM905 1120h5v10h-5zM910 1055h5v5h-5zM910 1150h5v5h-5zM915 1065h5v5h-5zM915 1130h5v5h-5zM920 1050h5v5h-5zM925 1130h5v5h-5zM925 1140h5v5h-5zM930 1055h5v5h-5zM930 1125h5v5h-5zM930 1150h5v5h-5zM935 1065h5v5h-5zM935 1120h5v10h-5zM935 1150h5v5h-5zM940 1055h5v5h-5zM940 1120h5v10h-5zM950 1130h5v5h-5zM950 1145h5v10h-5zM955 1115h5v15h-5zM955 1150h5v10h-5zM960 1065h5v5h-5zM960 1115h5v5h-5zM965 1065h5v10h-5zM965 1115h5v10h-5zM970 1115h5v5h-5zM970 1125h5v5h-5zM975 1065h5v5h-5zM975 1075h5v5h-5zM975 1120h5v10h-5zM975 1150h5v5h-5zM980 1110h5v5h-5zM980 1150h5v5h-5zM985 1070h5v5h-5zM985 1105h5v10h-5zM985 1125h5v5h-5zM990 1075h5v5h-5zM995 1080h5v5h-5zM995 1090h5v10h-5zM995 1105h5v5h-5zM1000 1100h5v15h-5zM1000 1150h5v5h-5zM1005 1100h5v5h-5zM1005 1155h5v5h-5zM1010 1100h5v20h-5zM1015 1100h5v10h-5zM1020 1110h5v5h-5zM1020 1155h5v5h-5zM1025 1150h5v5h-5zM1030 1155h5v5h-5zM1040 1160h5v5h-5zM1045 1165h5v5h-5zM1050 1165h5v5h-5zM1095 1165h5v5h-5zM1115 1170h5v5h-5zM1130 1175h5v5h-5zM1140 1175h5v5h-5zM1175 1180h5v5h-5zM1180 1185h5v5h-5zM1195 1190h5v5h-5zM1215 1250h5v5h-5zM1220 1295h5v10h-5z"/><path fill="#ddd59c" d="M145 330h5v5h-5zM175 360h5v5h-5zM225 400h5v5h-5zM350 415h5v5h-5zM410 425h5v5h-5zM420 430h5v5h-5zM425 440h5v5h-5zM425 930h5v5h-5zM425 950h5v5h-5zM425 980h5v5h-5zM425 1080h5v5h-5zM430 545h5v5h-5zM430 555h5v5h-5zM430 580h5v15h-5zM430 615h5v25h-5zM430 645h5v10h-5zM430 685h5v5h-5zM430 710h5v10h-5zM430 740h5v5h-5zM430 800h5v5h-5zM430 810h5v5h-5zM430 1120h5v5h-5zM430 1140h5v5h-5zM430 1170h5v5h-5zM465 1170h5v5h-5zM470 1165h5v5h-5zM485 1135h5v5h-5zM485 1165h5v5h-5zM500 1125h5v5h-5zM505 1115h5v5h-5zM515 1170h5v5h-5zM520 1130h5v5h-5zM525 1125h5v5h-5zM530 1125h5v5h-5zM530 1170h5v5h-5zM535 1130h5v5h-5zM545 1175h5v5h-5zM555 1175h5v5h-5zM560 1175h5v5h-5zM580 1170h5v5h-5zM585 1120h5v5h-5zM590 1175h5v5h-5zM595 1175h5v5h-5zM600 1175h5v5h-5zM605 1125h5v5h-5zM610 1130h5v5h-5zM620 1170h5v5h-5zM630 1170h5v5h-5zM640 1120h5v5h-5zM640 1170h5v5h-5zM645 1170h5v5h-5zM650 1120h5v5h-5zM675 1170h5v5h-5zM685 1135h5v5h-5zM685 1170h5v5h-5zM695 1100h5v5h-5zM695 1120h5v5h-5zM695 1130h5v5h-5zM700 1170h5v5h-5zM705 1115h5v10h-5zM705 1135h5v5h-5zM710 1105h5v10h-5zM710 1140h5v5h-5zM720 1105h5v5h-5zM720 1125h5v5h-5zM725 1135h5v5h-5zM730 1080h5v5h-5zM730 1125h5v5h-5zM730 1135h5v10h-5zM730 1165h5v5h-5zM735 1125h5v25h-5zM735 1155h5v10h-5zM740 1080h5v10h-5zM740 1095h5v5h-5zM740 1110h5v10h-5zM740 1130h5v5h-5zM740 1140h5v5h-5zM745 1100h5v5h-5zM745 1125h5v5h-5zM745 1140h5v10h-5zM745 1155h5v5h-5zM750 1115h5v5h-5zM750 1125h5v5h-5zM750 1145h5v5h-5zM755 1100h5v20h-5zM755 1130h5v5h-5zM755 1140h5v10h-5zM760 1120h5v15h-5zM760 1140h5v5h-5zM765 1085h5v5h-5zM765 1095h5v5h-5zM765 1105h5v5h-5zM765 1115h5v5h-5zM765 1130h5v5h-5zM765 1140h5v5h-5zM770 1110h5v5h-5zM770 1125h5v15h-5zM775 1100h5v5h-5zM775 1115h5v5h-5zM775 1135h5v5h-5zM780 1095h5v10h-5zM780 1110h5v10h-5zM780 1130h5v5h-5zM780 1140h5v5h-5zM785 1070h5v5h-5zM785 1080h5v10h-5zM785 1095h5v5h-5zM785 1105h5v5h-5zM785 1115h5v5h-5zM785 1125h5v10h-5zM790 1065h5v5h-5zM790 1085h5v5h-5zM790 1115h5v10h-5zM790 1130h5v5h-5zM790 1140h5v5h-5zM795 1085h5v20h-5zM795 1115h5v5h-5zM795 1135h5v5h-5zM800 1080h5v5h-5zM800 1090h5v10h-5zM800 1105h5v5h-5zM805 1075h5v5h-5zM805 1105h5v20h-5zM805 1130h5v5h-5zM810 1090h5v20h-5zM810 1120h5v5h-5zM810 1140h5v5h-5zM815 1075h5v5h-5zM815 1085h5v10h-5zM815 1100h5v5h-5zM815 1110h5v15h-5zM820 1070h5v5h-5zM820 1105h5v5h-5zM820 1120h5v10h-5zM825 1090h5v5h-5zM825 1105h5v5h-5zM825 1120h5v5h-5zM825 1135h5v5h-5zM830 1075h5v25h-5zM830 1120h5v5h-5zM830 1130h5v5h-5zM835 1080h5v20h-5zM835 1105h5v5h-5zM835 1135h5v5h-5zM835 1150h5v10h-5zM840 1085h5v5h-5zM840 1095h5v5h-5zM840 1105h5v10h-5zM845 1070h5v5h-5zM845 1090h5v10h-5zM845 1135h5v5h-5zM845 1145h5v5h-5zM850 1075h5v15h-5zM850 1115h5v5h-5zM855 1070h5v5h-5zM855 1095h5v5h-5zM855 1105h5v10h-5zM855 1150h5v10h-5zM860 1075h5v5h-5zM860 1085h5v5h-5zM860 1105h5v10h-5zM865 1090h5v5h-5zM865 1160h5v5h-5zM870 1085h5v5h-5zM870 1160h5v5h-5zM875 1085h5v15h-5zM875 1105h5v5h-5zM875 1160h5v5h-5zM880 1080h5v10h-5zM885 1165h5v5h-5zM890 1065h5v5h-5zM890 1080h5v5h-5zM890 1095h5v5h-5zM890 1165h5v5h-5zM895 1070h5v5h-5zM895 1080h5v10h-5zM895 1100h5v5h-5zM895 1110h5v5h-5zM900 1075h5v5h-5zM900 1085h5v10h-5zM905 1165h5v5h-5zM910 1100h5v5h-5zM915 1080h5v5h-5zM915 1110h5v5h-5zM920 1075h5v5h-5zM920 1105h5v5h-5zM925 1095h5v5h-5zM925 1105h5v5h-5zM930 1085h5v10h-5zM930 1100h5v5h-5zM935 1080h5v5h-5zM940 1090h5v10h-5zM940 1160h5v10h-5zM950 1105h5v5h-5zM950 1160h5v5h-5zM955 1105h5v5h-5zM965 1165h5v5h-5zM980 1165h5v5h-5zM990 1160h5v5h-5zM1000 1165h5v5h-5zM1010 1165h5v5h-5zM1015 1165h5v5h-5zM1025 1165h5v5h-5zM1040 1165h5v5h-5zM1100 1170h5v5h-5zM1130 1180h5v5h-5zM1145 1180h5v5h-5zM1150 1180h5v5h-5zM1165 1185h5v5h-5zM1180 1190h5v5h-5zM1200 1210h5v5h-5zM1205 1215h5v10h-5zM1210 1235h5v5h-5zM1215 1280h5v10h-5z"/><path fill="#dc8931" d="M150 305h5v5h-5zM155 300h5v5h-5zM160 315h5v5h-5zM165 305h5v5h-5zM185 330h5v5h-5zM185 340h5v5h-5zM190 335h5v5h-5zM195 335h5v5h-5zM195 345h5v5h-5zM210 355h5v5h-5zM215 350h5v5h-5zM220 360h5v5h-5zM225 355h5v5h-5zM230 360h5v5h-5zM235 370h5v5h-5zM255 375h5v5h-5zM260 375h5v5h-5zM265 375h5v5h-5zM275 375h5v10h-5zM285 380h5v10h-5zM290 385h5v5h-5zM295 385h5v5h-5zM300 390h5v5h-5zM310 390h5v5h-5zM320 395h5v5h-5zM340 400h5v5h-5zM405 410h5v5h-5zM440 450h5v10h-5zM440 905h5v5h-5zM440 1015h5v5h-5zM440 1025h5v5h-5zM445 905h5v5h-5zM445 1150h5v5h-5zM450 520h5v5h-5zM450 1165h5v5h-5zM455 545h5v10h-5zM460 550h5v5h-5zM460 595h5v5h-5zM465 540h5v5h-5zM475 535h5v5h-5zM485 540h5v5h-5zM490 545h5v5h-5zM500 560h5v5h-5zM510 565h5v10h-5zM520 575h5v5h-5zM530 590h5v5h-5zM535 600h5v5h-5zM545 620h5v5h-5zM550 620h5v15h-5zM555 625h5v10h-5zM560 645h5v5h-5zM565 655h5v5h-5zM580 675h5v5h-5zM585 675h5v5h-5zM590 690h5v5h-5zM590 885h5v5h-5zM595 690h5v10h-5zM600 705h5v5h-5zM600 885h5v5h-5zM605 695h5v10h-5zM605 710h5v10h-5zM605 885h5v5h-5zM610 705h5v15h-5zM620 730h5v5h-5zM625 735h5v5h-5zM650 750h5v5h-5zM655 750h5v5h-5zM660 760h5v5h-5zM670 780h5v5h-5zM675 780h5v5h-5zM680 775h5v10h-5zM680 790h5v5h-5zM685 775h5v5h-5zM685 785h5v5h-5zM700 805h5v5h-5zM710 805h5v5h-5zM715 815h5v5h-5zM720 815h5v5h-5zM740 830h5v10h-5zM740 895h5v5h-5zM745 830h5v5h-5zM745 840h5v5h-5zM750 845h5v5h-5zM750 895h5v5h-5zM755 835h5v5h-5zM755 845h5v5h-5zM760 845h5v5h-5zM760 885h5v15h-5zM765 900h5v5h-5zM770 855h5v5h-5zM775 865h5v5h-5zM775 895h5v5h-5zM780 865h5v5h-5zM785 890h5v10h-5zM790 875h5v5h-5zM795 880h5v5h-5zM800 880h5v5h-5zM805 880h5v5h-5zM810 890h5v5h-5zM825 895h5v5h-5zM830 900h5v5h-5zM850 915h5v5h-5zM855 920h5v5h-5zM860 920h5v5h-5zM890 940h5v10h-5zM895 945h5v5h-5zM900 950h5v5h-5zM910 965h5v5h-5zM925 980h5v5h-5zM955 1000h5v5h-5zM970 1010h5v10h-5zM990 1035h5v5h-5zM1000 1040h5v5h-5zM1040 1070h5v5h-5zM1060 1110h5v10h-5zM1065 1160h5v5h-5zM1220 1215h5v5h-5zM1230 1245h5v5h-5zM1235 1270h5v10h-5zM1250 1300h5v5h-5z"/><path fill="#dc9238" d="M150 310h5v5h-5zM155 315h5v5h-5zM160 320h5v5h-5zM165 325h5v5h-5zM190 345h5v5h-5zM200 360h5v5h-5zM210 360h5v5h-5zM215 365h5v5h-5zM225 365h5v5h-5zM240 375h5v5h-5zM245 370h5v5h-5zM250 380h5v5h-5zM255 385h5v5h-5zM260 380h5v5h-5zM265 385h5v5h-5zM305 395h5v5h-5zM310 395h5v5h-5zM330 400h5v5h-5zM400 410h5v5h-5zM435 900h5v5h-5zM440 460h5v5h-5zM445 1010h5v5h-5zM450 525h5v5h-5zM450 535h5v10h-5zM450 890h5v10h-5zM455 565h5v5h-5zM455 615h5v5h-5zM455 1155h5v5h-5zM460 580h5v15h-5zM460 615h5v5h-5zM465 555h5v10h-5zM465 570h5v10h-5zM480 545h5v5h-5zM485 545h5v5h-5zM505 565h5v10h-5zM510 575h5v5h-5zM515 575h5v10h-5zM520 585h5v5h-5zM535 605h5v5h-5zM550 635h5v5h-5zM555 645h5v5h-5zM555 655h5v5h-5zM560 655h5v5h-5zM565 670h5v5h-5zM570 680h5v5h-5zM575 680h5v20h-5zM580 695h5v5h-5zM580 895h5v5h-5zM585 695h5v5h-5zM585 885h5v5h-5zM585 900h5v5h-5zM590 715h5v5h-5zM590 730h5v5h-5zM595 710h5v5h-5zM595 720h5v5h-5zM595 730h5v5h-5zM595 1010h5v5h-5zM595 1020h5v5h-5zM600 715h5v5h-5zM600 735h5v5h-5zM605 730h5v5h-5zM605 740h5v5h-5zM605 905h5v10h-5zM610 735h5v5h-5zM610 905h5v5h-5zM615 745h5v5h-5zM615 890h5v5h-5zM620 895h5v10h-5zM625 750h5v5h-5zM630 740h5v5h-5zM630 750h5v5h-5zM635 750h5v10h-5zM640 760h5v10h-5zM645 760h5v5h-5zM650 790h5v5h-5zM655 775h5v5h-5zM655 895h5v5h-5zM660 775h5v5h-5zM660 785h5v5h-5zM665 765h5v5h-5zM665 780h5v5h-5zM670 785h5v5h-5zM675 795h5v5h-5zM680 895h5v5h-5zM685 800h5v10h-5zM690 805h5v5h-5zM690 885h5v5h-5zM695 815h5v5h-5zM695 895h5v5h-5zM700 810h5v5h-5zM700 895h5v5h-5zM705 810h5v5h-5zM710 825h5v10h-5zM710 885h5v5h-5zM710 895h5v5h-5zM715 885h5v5h-5zM720 830h5v5h-5zM725 835h5v5h-5zM725 885h5v10h-5zM730 885h5v20h-5zM735 885h5v5h-5zM735 900h5v5h-5zM740 840h5v5h-5zM740 850h5v5h-5zM740 880h5v5h-5zM740 890h5v5h-5zM740 900h5v5h-5zM745 850h5v5h-5zM745 900h5v5h-5zM750 855h5v10h-5zM755 855h5v5h-5zM755 900h5v5h-5zM760 875h5v5h-5zM760 900h5v5h-5zM765 875h5v10h-5zM770 875h5v10h-5zM805 895h5v5h-5zM820 910h5v5h-5zM825 905h5v5h-5zM830 905h5v5h-5zM855 930h5v5h-5zM860 930h5v5h-5zM865 940h5v5h-5zM890 950h5v5h-5zM915 975h5v5h-5zM935 990h5v5h-5zM940 995h5v5h-5zM945 995h5v5h-5zM950 1000h5v5h-5zM965 1010h5v5h-5zM980 1025h5v5h-5zM995 1040h5v5h-5zM1010 1045h5v5h-5zM1055 1135h5v5h-5z"/><path fill="#dc9a3f" d="M150 315h5v5h-5zM165 330h5v5h-5zM215 375h5v5h-5zM230 385h5v5h-5zM240 385h5v5h-5zM265 395h5v5h-5zM270 395h5v5h-5zM295 395h5v5h-5zM440 605h5v5h-5zM445 510h5v10h-5zM445 525h5v5h-5zM445 885h5v5h-5zM445 1035h5v5h-5zM450 575h5v5h-5zM450 1035h5v5h-5zM455 900h5v5h-5zM455 1010h5v5h-5zM460 620h5v5h-5zM460 690h5v5h-5zM465 590h5v10h-5zM470 570h5v5h-5zM470 580h5v5h-5zM475 565h5v10h-5zM485 555h5v5h-5zM490 565h5v5h-5zM500 570h5v15h-5zM505 575h5v10h-5zM510 585h5v10h-5zM515 890h5v5h-5zM520 605h5v5h-5zM520 900h5v5h-5zM525 610h5v5h-5zM525 900h5v5h-5zM530 615h5v10h-5zM540 630h5v5h-5zM550 650h5v10h-5zM555 650h5v5h-5zM560 665h5v10h-5zM565 685h5v10h-5zM570 710h5v5h-5zM575 705h5v5h-5zM575 890h5v5h-5zM575 900h5v5h-5zM580 725h5v5h-5zM580 735h5v5h-5zM580 885h5v5h-5zM585 730h5v10h-5zM585 1020h5v5h-5zM590 725h5v5h-5zM590 735h5v10h-5zM590 760h5v5h-5zM590 880h5v5h-5zM595 735h5v5h-5zM595 750h5v5h-5zM595 910h5v5h-5zM595 1005h5v5h-5zM595 1025h5v5h-5zM600 730h5v5h-5zM600 745h5v5h-5zM600 755h5v5h-5zM600 1005h5v5h-5zM605 765h5v5h-5zM605 875h5v5h-5zM610 765h5v5h-5zM615 760h5v5h-5zM615 770h5v5h-5zM620 775h5v5h-5zM620 805h5v5h-5zM625 900h5v5h-5zM630 780h5v5h-5zM630 790h5v5h-5zM630 895h5v5h-5zM635 780h5v10h-5zM635 800h5v10h-5zM635 890h5v5h-5zM640 785h5v10h-5zM640 800h5v5h-5zM640 890h5v5h-5zM645 790h5v5h-5zM645 885h5v5h-5zM645 900h5v5h-5zM650 795h5v20h-5zM650 900h5v5h-5zM655 795h5v10h-5zM655 815h5v5h-5zM660 800h5v10h-5zM660 830h5v10h-5zM660 890h5v10h-5zM665 880h5v5h-5zM670 790h5v5h-5zM670 810h5v20h-5zM670 835h5v5h-5zM670 885h5v5h-5zM675 815h5v5h-5zM675 885h5v5h-5zM675 900h5v5h-5zM680 815h5v10h-5zM680 885h5v5h-5zM685 810h5v5h-5zM685 830h5v5h-5zM685 840h5v10h-5zM685 865h5v5h-5zM685 900h5v5h-5zM690 845h5v5h-5zM695 825h5v5h-5zM695 835h5v5h-5zM695 880h5v5h-5zM700 840h5v10h-5zM700 860h5v5h-5zM705 840h5v10h-5zM705 900h5v10h-5zM710 850h5v10h-5zM710 900h5v5h-5zM715 845h5v5h-5zM715 855h5v5h-5zM715 880h5v5h-5zM715 905h5v5h-5zM720 845h5v5h-5zM720 860h5v5h-5zM720 875h5v5h-5zM725 850h5v5h-5zM725 865h5v5h-5zM725 900h5v10h-5zM730 860h5v5h-5zM730 875h5v5h-5zM730 905h5v5h-5zM735 845h5v5h-5zM735 865h5v10h-5zM740 865h5v5h-5zM745 870h5v10h-5zM745 905h5v5h-5zM750 875h5v5h-5zM750 905h5v5h-5zM755 905h5v5h-5zM760 905h5v5h-5zM770 905h5v5h-5zM775 910h5v5h-5zM780 905h5v10h-5zM790 905h5v5h-5zM800 910h5v5h-5zM805 910h5v5h-5zM810 910h5v5h-5zM815 920h5v5h-5zM850 930h5v10h-5zM860 945h5v10h-5zM870 945h5v5h-5zM875 945h5v5h-5zM885 955h5v10h-5zM890 960h5v10h-5zM900 965h5v5h-5zM905 970h5v5h-5zM915 980h5v5h-5zM920 985h5v5h-5zM930 995h5v5h-5zM935 995h5v5h-5zM950 1010h5v5h-5zM955 1015h5v5h-5zM960 1015h5v5h-5zM980 1030h5v5h-5zM1005 1045h5v5h-5zM1025 1060h5v5h-5zM1045 1075h5v5h-5zM1050 1085h5v5h-5zM1050 1145h5v5h-5zM1080 1155h5v5h-5zM1115 1155h5v5h-5zM1155 1165h5v5h-5zM1225 1240h5v10h-5zM1230 1265h5v5h-5zM1260 1305h5v5h-5zM1270 1305h5v10h-5zM1275 1310h5v5h-5z"/><path fill="#ddd298" d="M150 335h5v5h-5zM155 340h5v5h-5zM165 350h5v5h-5zM255 410h5v5h-5zM355 415h5v5h-5zM360 415h5v5h-5zM370 415h5v5h-5zM395 420h5v5h-5zM425 890h5v5h-5zM425 1020h5v10h-5zM430 515h5v20h-5zM430 575h5v5h-5zM430 595h5v10h-5zM430 655h5v10h-5zM430 675h5v10h-5zM430 695h5v10h-5zM430 720h5v5h-5zM430 735h5v5h-5zM430 760h5v5h-5zM430 780h5v10h-5zM430 825h5v5h-5zM430 860h5v5h-5zM430 1090h5v5h-5zM430 1125h5v5h-5zM430 1165h5v5h-5zM485 1100h5v5h-5zM485 1115h5v5h-5zM490 1090h5v5h-5zM490 1110h5v5h-5zM490 1120h5v5h-5zM490 1130h5v10h-5zM490 1165h5v5h-5zM495 1100h5v10h-5zM495 1115h5v5h-5zM495 1165h5v5h-5zM500 1120h5v5h-5zM500 1130h5v5h-5zM505 1095h5v5h-5zM505 1125h5v10h-5zM510 1125h5v10h-5zM520 1125h5v5h-5zM525 1120h5v5h-5zM525 1130h5v5h-5zM525 1170h5v5h-5zM530 1130h5v5h-5zM535 1095h5v5h-5zM545 1120h5v5h-5zM550 1175h5v5h-5zM555 1120h5v5h-5zM560 1085h5v5h-5zM565 1115h5v5h-5zM565 1175h5v5h-5zM570 1175h5v5h-5zM575 1125h5v5h-5zM580 1120h5v15h-5zM585 1095h5v5h-5zM585 1125h5v5h-5zM590 1100h5v5h-5zM595 1120h5v5h-5zM595 1130h5v5h-5zM600 1110h5v5h-5zM600 1120h5v5h-5zM605 1110h5v10h-5zM610 1170h5v5h-5zM615 1170h5v5h-5zM620 1115h5v10h-5zM620 1130h5v5h-5zM625 1095h5v5h-5zM630 1120h5v10h-5zM635 1115h5v5h-5zM635 1125h5v5h-5zM635 1135h5v5h-5zM635 1170h5v5h-5zM640 1075h5v5h-5zM640 1130h5v5h-5zM650 1110h5v5h-5zM650 1125h5v5h-5zM650 1135h5v5h-5zM650 1170h5v5h-5zM655 1125h5v5h-5zM655 1170h5v5h-5zM660 1095h5v10h-5zM660 1130h5v10h-5zM660 1170h5v5h-5zM665 1105h5v5h-5zM665 1120h5v5h-5zM665 1130h5v5h-5zM670 1105h5v5h-5zM670 1125h5v5h-5zM675 1105h5v10h-5zM675 1120h5v10h-5zM675 1135h5v5h-5zM680 1085h5v5h-5zM680 1125h5v5h-5zM680 1170h5v5h-5zM685 1100h5v10h-5zM685 1130h5v5h-5zM690 1120h5v20h-5zM695 1105h5v5h-5zM695 1115h5v5h-5zM695 1125h5v5h-5zM695 1135h5v5h-5zM700 1090h5v10h-5zM700 1105h5v10h-5zM700 1120h5v5h-5zM700 1130h5v5h-5zM700 1140h5v5h-5zM705 1095h5v5h-5zM705 1105h5v10h-5zM705 1125h5v10h-5zM710 1095h5v5h-5zM710 1130h5v10h-5zM710 1165h5v5h-5zM715 1085h5v5h-5zM715 1095h5v10h-5zM715 1115h5v15h-5zM715 1135h5v5h-5zM715 1165h5v5h-5zM720 1075h5v10h-5zM720 1090h5v5h-5zM720 1120h5v5h-5zM720 1130h5v10h-5zM725 1090h5v5h-5zM725 1110h5v15h-5zM725 1140h5v10h-5zM725 1160h5v5h-5zM730 1070h5v5h-5zM730 1090h5v5h-5zM730 1100h5v10h-5zM730 1120h5v5h-5zM730 1145h5v15h-5zM735 1065h5v5h-5zM735 1075h5v5h-5zM735 1085h5v10h-5zM735 1100h5v20h-5zM735 1150h5v5h-5zM745 1085h5v5h-5zM745 1130h5v10h-5zM750 1090h5v5h-5zM750 1120h5v5h-5zM750 1130h5v5h-5zM755 1065h5v20h-5zM755 1095h5v5h-5zM755 1120h5v5h-5zM760 1060h5v15h-5zM760 1080h5v5h-5zM760 1090h5v5h-5zM760 1105h5v15h-5zM765 1055h5v5h-5zM765 1080h5v5h-5zM765 1090h5v5h-5zM765 1120h5v10h-5zM770 1065h5v15h-5zM770 1085h5v5h-5zM770 1095h5v5h-5zM770 1120h5v5h-5zM770 1140h5v5h-5zM775 1070h5v5h-5zM775 1080h5v10h-5zM775 1095h5v5h-5zM775 1105h5v10h-5zM780 1065h5v5h-5zM780 1075h5v10h-5zM780 1090h5v5h-5zM780 1105h5v5h-5zM785 1090h5v5h-5zM785 1100h5v5h-5zM785 1110h5v5h-5zM790 1090h5v15h-5zM790 1135h5v5h-5zM795 1075h5v5h-5zM795 1125h5v5h-5zM800 1070h5v10h-5zM800 1140h5v5h-5zM805 1060h5v5h-5zM805 1070h5v5h-5zM805 1095h5v5h-5zM810 1070h5v10h-5zM815 1060h5v5h-5zM815 1070h5v5h-5zM815 1080h5v5h-5zM815 1095h5v5h-5zM815 1130h5v5h-5zM820 1060h5v10h-5zM820 1075h5v10h-5zM820 1100h5v5h-5zM820 1110h5v5h-5zM830 1070h5v5h-5zM835 1075h5v5h-5zM835 1120h5v5h-5zM840 1070h5v5h-5zM840 1080h5v5h-5zM840 1090h5v5h-5zM840 1115h5v5h-5zM840 1135h5v5h-5zM845 1065h5v5h-5zM845 1080h5v5h-5zM845 1105h5v20h-5zM845 1130h5v5h-5zM845 1140h5v5h-5zM850 1120h5v5h-5zM850 1135h5v15h-5zM855 1065h5v5h-5zM855 1075h5v10h-5zM855 1115h5v5h-5zM855 1140h5v5h-5zM860 1060h5v5h-5zM860 1070h5v5h-5zM860 1080h5v5h-5zM860 1100h5v5h-5zM860 1115h5v10h-5zM860 1130h5v5h-5zM860 1150h5v5h-5zM865 1075h5v10h-5zM865 1095h5v5h-5zM865 1105h5v5h-5zM865 1125h5v5h-5zM865 1155h5v5h-5zM870 1075h5v10h-5zM870 1100h5v20h-5zM870 1155h5v5h-5zM875 1065h5v15h-5zM875 1110h5v5h-5zM875 1155h5v5h-5zM880 1075h5v5h-5zM880 1090h5v15h-5zM880 1110h5v5h-5zM885 1065h5v10h-5zM885 1090h5v25h-5zM890 1060h5v5h-5zM890 1075h5v5h-5zM890 1085h5v10h-5zM890 1110h5v5h-5zM895 1075h5v5h-5zM895 1095h5v5h-5zM900 1070h5v5h-5zM900 1105h5v10h-5zM900 1155h5v5h-5zM905 1105h5v10h-5zM905 1160h5v5h-5zM910 1070h5v5h-5zM910 1080h5v10h-5zM910 1105h5v10h-5zM915 1095h5v5h-5zM915 1105h5v5h-5zM915 1160h5v5h-5zM920 1070h5v5h-5zM920 1080h5v15h-5zM920 1100h5v5h-5zM930 1070h5v5h-5zM930 1105h5v5h-5zM935 1085h5v10h-5zM935 1100h5v5h-5zM935 1160h5v5h-5zM940 1070h5v5h-5zM940 1080h5v10h-5zM945 1085h5v5h-5zM945 1100h5v5h-5zM945 1160h5v5h-5zM950 1085h5v10h-5zM950 1100h5v5h-5zM955 1080h5v5h-5zM955 1090h5v10h-5zM955 1160h5v5h-5zM970 1100h5v5h-5zM970 1110h5v5h-5zM975 1090h5v5h-5zM975 1100h5v10h-5zM975 1160h5v5h-5zM980 1090h5v5h-5zM980 1105h5v5h-5zM980 1160h5v5h-5zM985 1160h5v5h-5zM1015 1160h5v5h-5zM1030 1165h5v5h-5zM1050 1170h5v5h-5zM1085 1170h5v5h-5zM1105 1170h5v5h-5zM1115 1175h5v5h-5zM1140 1180h5v5h-5zM1155 1180h5v5h-5zM1165 1180h5v5h-5zM1175 1185h5v5h-5zM1190 1195h5v5h-5zM1200 1205h5v5h-5zM1215 1265h5v15h-5zM1220 1320h5v5h-5zM1240 1330h5v5h-5zM1245 1330h5v5h-5z"/><path fill="#dc862e" d="M155 305h5v5h-5zM160 310h5v5h-5zM170 310h5v10h-5zM175 305h5v5h-5zM175 315h5v5h-5zM175 330h5v5h-5zM180 320h5v15h-5zM190 330h5v5h-5zM195 340h5v5h-5zM200 335h5v10h-5zM205 345h5v5h-5zM210 340h5v5h-5zM215 345h5v5h-5zM215 355h5v5h-5zM220 350h5v10h-5zM225 360h5v5h-5zM235 365h5v5h-5zM240 360h5v5h-5zM250 370h5v5h-5zM260 370h5v5h-5zM270 370h5v5h-5zM305 385h5v10h-5zM315 390h5v5h-5zM325 395h5v5h-5zM440 895h5v5h-5zM445 495h5v5h-5zM445 610h5v5h-5zM450 515h5v5h-5zM455 535h5v10h-5zM460 545h5v5h-5zM460 600h5v5h-5zM470 535h5v10h-5zM480 535h5v5h-5zM495 545h5v5h-5zM500 550h5v5h-5zM505 555h5v10h-5zM515 570h5v5h-5zM525 580h5v5h-5zM545 610h5v10h-5zM560 640h5v5h-5zM565 650h5v5h-5zM570 650h5v5h-5zM570 660h5v5h-5zM575 660h5v10h-5zM580 670h5v5h-5zM585 895h5v5h-5zM590 685h5v5h-5zM590 900h5v5h-5zM595 885h5v5h-5zM595 900h5v5h-5zM600 700h5v5h-5zM605 705h5v5h-5zM605 890h5v5h-5zM610 890h5v5h-5zM615 710h5v5h-5zM620 715h5v5h-5zM625 715h5v5h-5zM625 725h5v5h-5zM630 720h5v10h-5zM635 725h5v10h-5zM640 735h5v10h-5zM645 745h5v15h-5zM650 745h5v5h-5zM655 740h5v5h-5zM660 755h5v5h-5zM670 760h5v5h-5zM675 770h5v10h-5zM680 765h5v5h-5zM690 780h5v5h-5zM690 790h5v5h-5zM695 785h5v15h-5zM700 795h5v10h-5zM715 805h5v5h-5zM730 815h5v10h-5zM735 830h5v5h-5zM740 825h5v5h-5zM750 830h5v10h-5zM760 840h5v5h-5zM765 855h5v5h-5zM770 850h5v5h-5zM770 890h5v5h-5zM775 860h5v5h-5zM785 860h5v5h-5zM790 870h5v5h-5zM795 875h5v5h-5zM800 885h5v5h-5zM805 870h5v10h-5zM810 885h5v5h-5zM815 885h5v5h-5zM830 895h5v5h-5zM835 900h5v10h-5zM840 900h5v5h-5zM845 905h5v10h-5zM855 915h5v5h-5zM865 920h5v5h-5zM875 930h5v5h-5zM880 935h5v5h-5zM885 940h5v5h-5zM905 955h5v5h-5zM920 970h5v5h-5zM925 975h5v5h-5zM930 985h5v5h-5zM940 990h5v5h-5zM975 1015h5v5h-5zM980 1020h5v5h-5zM985 1025h5v5h-5zM1060 1125h5v5h-5zM1090 1150h5v5h-5zM1095 1150h5v5h-5zM1220 1220h5v5h-5zM1225 1230h5v5h-5zM1285 1305h5v5h-5z"/><path fill="#dc8c33" d="M155 310h5v5h-5zM165 315h5v5h-5zM170 320h5v10h-5zM175 325h5v5h-5zM175 335h5v5h-5zM180 335h5v5h-5zM185 335h5v5h-5zM195 350h5v5h-5zM200 345h5v5h-5zM205 350h5v5h-5zM210 350h5v5h-5zM225 370h5v5h-5zM230 365h5v5h-5zM240 370h5v5h-5zM245 375h5v5h-5zM270 385h5v5h-5zM280 380h5v5h-5zM300 385h5v5h-5zM315 395h5v5h-5zM370 405h5v5h-5zM440 1165h5v5h-5zM450 530h5v5h-5zM450 900h5v5h-5zM450 1150h5v5h-5zM455 1015h5v5h-5zM455 1030h5v5h-5zM455 1160h5v5h-5zM460 555h5v5h-5zM465 550h5v5h-5zM470 550h5v5h-5zM475 540h5v5h-5zM490 550h5v5h-5zM495 550h5v10h-5zM500 555h5v5h-5zM520 580h5v5h-5zM525 585h5v5h-5zM540 605h5v5h-5zM540 615h5v5h-5zM570 655h5v5h-5zM570 665h5v5h-5zM575 670h5v10h-5zM580 680h5v5h-5zM585 680h5v15h-5zM585 890h5v5h-5zM590 700h5v5h-5zM595 700h5v5h-5zM595 905h5v5h-5zM600 1010h5v10h-5zM605 720h5v5h-5zM610 720h5v5h-5zM615 720h5v15h-5zM615 895h5v5h-5zM620 735h5v10h-5zM625 720h5v5h-5zM630 730h5v10h-5zM630 745h5v5h-5zM635 735h5v15h-5zM640 750h5v10h-5zM650 770h5v5h-5zM655 760h5v10h-5zM660 765h5v5h-5zM665 775h5v5h-5zM670 770h5v5h-5zM680 785h5v5h-5zM680 795h5v5h-5zM685 790h5v10h-5zM690 795h5v5h-5zM695 800h5v5h-5zM700 890h5v5h-5zM710 800h5v5h-5zM710 820h5v5h-5zM715 820h5v10h-5zM720 820h5v5h-5zM725 815h5v20h-5zM730 825h5v5h-5zM735 835h5v5h-5zM735 890h5v10h-5zM750 840h5v5h-5zM750 890h5v5h-5zM755 890h5v10h-5zM760 850h5v5h-5zM765 845h5v5h-5zM765 860h5v10h-5zM765 895h5v5h-5zM770 860h5v5h-5zM775 870h5v5h-5zM775 885h5v10h-5zM780 875h5v25h-5zM785 875h5v15h-5zM790 880h5v15h-5zM795 885h5v5h-5zM800 875h5v5h-5zM805 885h5v10h-5zM815 890h5v10h-5zM820 895h5v5h-5zM825 900h5v5h-5zM865 925h5v10h-5zM870 935h5v5h-5zM875 935h5v5h-5zM880 940h5v5h-5zM885 945h5v5h-5zM895 950h5v10h-5zM900 955h5v5h-5zM910 960h5v5h-5zM915 965h5v5h-5zM960 1005h5v5h-5zM975 1020h5v5h-5zM1020 1050h5v5h-5zM1025 1055h5v5h-5zM1030 1060h5v5h-5zM1050 1080h5v5h-5zM1055 1090h5v5h-5zM1075 1155h5v5h-5zM1230 1250h5v5h-5zM1235 1285h5v5h-5zM1280 1305h5v5h-5z"/><path fill="#dc9d41" d="M155 320h5v5h-5zM160 325h5v5h-5zM180 345h5v5h-5zM185 350h5v5h-5zM190 355h5v5h-5zM205 365h5v5h-5zM210 370h5v5h-5zM225 380h5v5h-5zM230 380h5v5h-5zM235 385h5v10h-5zM250 385h5v5h-5zM255 390h5v5h-5zM260 390h5v10h-5zM320 400h5v5h-5zM350 405h5v5h-5zM360 405h5v5h-5zM435 905h5v5h-5zM440 485h5v5h-5zM440 1010h5v5h-5zM445 540h5v5h-5zM445 615h5v5h-5zM450 565h5v5h-5zM450 910h5v5h-5zM455 625h5v5h-5zM455 635h5v5h-5zM455 670h5v5h-5zM455 890h5v10h-5zM455 1150h5v5h-5zM460 635h5v10h-5zM460 650h5v20h-5zM460 1015h5v5h-5zM465 610h5v5h-5zM470 585h5v5h-5zM470 605h5v5h-5zM480 560h5v5h-5zM485 560h5v10h-5zM490 575h5v5h-5zM495 565h5v15h-5zM505 585h5v5h-5zM515 595h5v10h-5zM520 610h5v5h-5zM525 615h5v5h-5zM525 890h5v5h-5zM530 900h5v5h-5zM535 625h5v5h-5zM545 645h5v5h-5zM545 660h5v5h-5zM550 660h5v5h-5zM555 670h5v5h-5zM560 690h5v5h-5zM565 675h5v5h-5zM565 700h5v5h-5zM570 890h5v10h-5zM575 720h5v5h-5zM575 730h5v5h-5zM575 740h5v5h-5zM575 895h5v5h-5zM580 720h5v5h-5zM580 740h5v5h-5zM580 755h5v5h-5zM580 905h5v5h-5zM585 720h5v5h-5zM585 740h5v5h-5zM585 765h5v5h-5zM585 1010h5v10h-5zM590 765h5v5h-5zM590 875h5v5h-5zM590 910h5v5h-5zM595 755h5v10h-5zM595 770h5v5h-5zM595 875h5v5h-5zM600 740h5v5h-5zM600 760h5v10h-5zM600 790h5v5h-5zM605 750h5v5h-5zM605 790h5v5h-5zM610 760h5v5h-5zM610 770h5v15h-5zM610 910h5v5h-5zM610 1020h5v5h-5zM615 775h5v10h-5zM615 905h5v5h-5zM620 770h5v5h-5zM620 780h5v5h-5zM620 800h5v5h-5zM620 885h5v5h-5zM625 775h5v5h-5zM625 785h5v5h-5zM625 800h5v5h-5zM625 885h5v5h-5zM625 905h5v5h-5zM630 785h5v5h-5zM630 810h5v5h-5zM630 885h5v5h-5zM630 900h5v5h-5zM635 795h5v5h-5zM635 885h5v5h-5zM635 900h5v5h-5zM640 810h5v5h-5zM640 885h5v5h-5zM640 900h5v5h-5zM645 800h5v5h-5zM645 815h5v5h-5zM655 805h5v5h-5zM655 830h5v5h-5zM655 885h5v5h-5zM660 820h5v5h-5zM660 850h5v5h-5zM660 880h5v10h-5zM660 900h5v5h-5zM665 815h5v10h-5zM665 830h5v5h-5zM665 855h5v5h-5zM665 885h5v5h-5zM670 830h5v5h-5zM670 845h5v5h-5zM675 825h5v10h-5zM675 840h5v5h-5zM680 825h5v10h-5zM680 850h5v5h-5zM680 880h5v5h-5zM680 900h5v5h-5zM685 850h5v10h-5zM685 875h5v10h-5zM685 905h5v5h-5zM690 840h5v5h-5zM690 875h5v5h-5zM695 850h5v5h-5zM700 855h5v5h-5zM700 875h5v10h-5zM705 855h5v5h-5zM705 865h5v5h-5zM705 875h5v5h-5zM710 860h5v10h-5zM710 905h5v5h-5zM715 860h5v15h-5zM720 855h5v5h-5zM720 880h5v5h-5zM720 905h5v5h-5zM725 875h5v5h-5zM730 850h5v5h-5zM730 865h5v10h-5zM770 910h5v5h-5zM785 905h5v10h-5zM795 920h5v5h-5zM800 915h5v5h-5zM800 925h5v5h-5zM810 915h5v5h-5zM820 920h5v5h-5zM830 930h5v10h-5zM845 930h5v5h-5zM850 940h5v5h-5zM855 940h5v5h-5zM860 940h5v5h-5zM865 945h5v5h-5zM870 950h5v5h-5zM895 970h5v5h-5zM900 970h5v5h-5zM905 980h5v5h-5zM930 1000h5v5h-5zM945 1005h5v5h-5zM970 1025h5v5h-5zM990 1040h5v5h-5zM1015 1055h5v5h-5zM1030 1065h5v5h-5zM1055 1100h5v10h-5zM1055 1125h5v5h-5zM1255 1305h5v5h-5z"/><path fill="#dcc782" d="M155 335h5v5h-5zM165 345h5v5h-5zM170 350h5v5h-5zM240 405h5v5h-5zM310 410h5v5h-5zM315 410h5v5h-5zM420 425h5v5h-5zM425 895h5v5h-5zM430 1035h5v5h-5zM435 595h5v5h-5zM435 630h5v20h-5zM435 655h5v10h-5zM435 670h5v5h-5zM435 685h5v5h-5zM435 755h5v10h-5zM435 1090h5v10h-5zM435 1125h5v5h-5zM470 1140h5v10h-5zM470 1155h5v5h-5zM475 1065h5v5h-5zM475 1075h5v10h-5zM475 1110h5v5h-5zM480 1030h5v5h-5zM480 1040h5v5h-5zM480 1060h5v10h-5zM480 1075h5v15h-5zM485 950h5v5h-5zM485 970h5v5h-5zM485 995h5v5h-5zM485 1015h5v5h-5zM485 1030h5v5h-5zM485 1040h5v5h-5zM490 965h5v10h-5zM490 985h5v5h-5zM490 995h5v5h-5zM490 1030h5v10h-5zM490 1045h5v10h-5zM495 970h5v5h-5zM495 980h5v5h-5zM495 1160h5v5h-5zM505 1050h5v10h-5zM510 1145h5v5h-5zM520 1050h5v5h-5zM525 1045h5v5h-5zM525 1070h5v5h-5zM525 1145h5v5h-5zM530 1050h5v5h-5zM535 1165h5v5h-5zM540 1045h5v5h-5zM540 1055h5v5h-5zM540 1140h5v5h-5zM540 1165h5v5h-5zM550 1040h5v15h-5zM555 1035h5v5h-5zM570 1045h5v5h-5zM570 1055h5v5h-5zM570 1065h5v5h-5zM575 1045h5v15h-5zM575 1140h5v5h-5zM580 1140h5v5h-5zM585 1050h5v5h-5zM585 1065h5v5h-5zM590 1055h5v5h-5zM595 1055h5v5h-5zM595 1140h5v5h-5zM600 1070h5v5h-5zM605 1055h5v10h-5zM605 1140h5v5h-5zM610 1060h5v10h-5zM615 1050h5v5h-5zM615 1060h5v5h-5zM620 1050h5v5h-5zM625 1140h5v5h-5zM630 1055h5v10h-5zM630 1145h5v5h-5zM630 1165h5v5h-5zM635 1050h5v10h-5zM635 1065h5v10h-5zM640 1050h5v5h-5zM640 1145h5v5h-5zM645 1055h5v10h-5zM650 1045h5v5h-5zM650 1060h5v5h-5zM650 1145h5v5h-5zM655 1060h5v5h-5zM660 1050h5v10h-5zM660 1140h5v5h-5zM665 1045h5v5h-5zM665 1055h5v5h-5zM665 1145h5v5h-5zM670 1050h5v10h-5zM670 1145h5v5h-5zM675 1050h5v5h-5zM675 1145h5v5h-5zM675 1165h5v5h-5zM680 1045h5v5h-5zM680 1060h5v5h-5zM680 1145h5v5h-5zM685 1055h5v5h-5zM685 1145h5v5h-5zM690 1065h5v10h-5zM695 1045h5v10h-5zM695 1145h5v5h-5zM700 1045h5v10h-5zM705 1040h5v5h-5zM705 1145h5v10h-5zM710 1050h5v5h-5zM710 1145h5v5h-5zM715 1045h5v5h-5zM715 1060h5v5h-5zM715 1150h5v5h-5zM720 1040h5v5h-5zM725 1050h5v10h-5zM730 1045h5v10h-5zM735 1050h5v5h-5zM740 1045h5v5h-5zM745 1045h5v5h-5zM755 1040h5v10h-5zM760 1045h5v10h-5zM770 1040h5v10h-5zM775 1040h5v5h-5zM790 1040h5v5h-5zM800 1045h5v5h-5zM810 1040h5v5h-5zM815 1045h5v5h-5zM820 1045h5v5h-5zM825 1040h5v10h-5zM835 1040h5v5h-5zM840 1045h5v5h-5zM845 1040h5v5h-5zM850 1050h5v5h-5zM855 1035h5v5h-5zM865 1045h5v5h-5zM870 1040h5v5h-5zM870 1145h5v5h-5zM875 1045h5v10h-5zM880 1125h5v5h-5zM880 1135h5v5h-5zM890 1050h5v5h-5zM890 1135h5v5h-5zM900 1045h5v5h-5zM900 1130h5v5h-5zM900 1145h5v5h-5zM905 1045h5v5h-5zM905 1060h5v5h-5zM905 1130h5v5h-5zM905 1140h5v5h-5zM910 1045h5v10h-5zM910 1130h5v10h-5zM915 1050h5v5h-5zM915 1125h5v5h-5zM920 1125h5v10h-5zM920 1140h5v10h-5zM925 1050h5v5h-5zM925 1065h5v5h-5zM925 1125h5v5h-5zM930 1060h5v5h-5zM930 1130h5v5h-5zM930 1145h5v5h-5zM935 1060h5v5h-5zM935 1130h5v5h-5zM940 1050h5v5h-5zM940 1135h5v5h-5zM945 1060h5v5h-5zM945 1125h5v5h-5zM945 1150h5v5h-5zM950 1055h5v10h-5zM950 1125h5v5h-5zM950 1155h5v5h-5zM955 1135h5v5h-5zM960 1070h5v5h-5zM960 1120h5v10h-5zM960 1140h5v5h-5zM960 1150h5v5h-5zM965 1125h5v5h-5zM965 1150h5v5h-5zM975 1070h5v5h-5zM980 1065h5v10h-5zM980 1115h5v10h-5zM985 1075h5v5h-5zM985 1120h5v5h-5zM990 1080h5v10h-5zM990 1100h5v5h-5zM990 1115h5v5h-5zM990 1125h5v5h-5zM990 1150h5v5h-5zM995 1085h5v5h-5zM995 1120h5v5h-5zM1000 1115h5v10h-5zM1005 1085h5v5h-5zM1005 1110h5v5h-5zM1010 1095h5v5h-5zM1010 1150h5v5h-5zM1015 1095h5v5h-5zM1015 1110h5v5h-5zM1020 1100h5v10h-5zM1020 1115h5v5h-5zM1055 1165h5v5h-5zM1085 1165h5v5h-5zM1155 1175h5v5h-5zM1215 1245h5v5h-5zM1220 1305h5v5h-5zM1225 1315h5v5h-5z"/><path fill="#dc832c" d="M160 295h5v15h-5zM165 310h5v5h-5zM170 295h5v5h-5zM175 320h5v5h-5zM180 315h5v5h-5zM185 325h5v5h-5zM190 325h5v5h-5zM195 330h5v5h-5zM200 325h5v10h-5zM205 330h5v10h-5zM210 345h5v5h-5zM220 345h5v5h-5zM225 345h5v10h-5zM230 345h5v15h-5zM235 355h5v10h-5zM240 365h5v5h-5zM250 365h5v5h-5zM255 365h5v10h-5zM260 360h5v10h-5zM265 370h5v5h-5zM280 375h5v5h-5zM295 380h5v5h-5zM320 390h5v5h-5zM380 405h5v5h-5zM410 410h5v5h-5zM445 900h5v5h-5zM445 1030h5v5h-5zM455 1020h5v5h-5zM460 535h5v5h-5zM460 610h5v5h-5zM470 530h5v5h-5zM525 575h5v5h-5zM550 615h5v5h-5zM560 625h5v10h-5zM565 645h5v5h-5zM580 660h5v5h-5zM580 685h5v5h-5zM585 670h5v5h-5zM590 680h5v5h-5zM590 890h5v10h-5zM595 685h5v5h-5zM600 685h5v5h-5zM600 695h5v5h-5zM600 890h5v5h-5zM605 685h5v5h-5zM605 900h5v5h-5zM610 695h5v5h-5zM610 895h5v5h-5zM615 700h5v10h-5zM615 715h5v5h-5zM620 710h5v5h-5zM620 720h5v5h-5zM630 710h5v5h-5zM645 725h5v5h-5zM645 735h5v10h-5zM650 740h5v5h-5zM655 745h5v5h-5zM655 755h5v5h-5zM660 750h5v5h-5zM665 755h5v10h-5zM670 765h5v5h-5zM675 765h5v5h-5zM680 770h5v5h-5zM685 780h5v5h-5zM690 785h5v5h-5zM695 780h5v5h-5zM700 790h5v5h-5zM705 795h5v15h-5zM710 795h5v5h-5zM715 800h5v5h-5zM715 810h5v5h-5zM720 805h5v5h-5zM725 810h5v5h-5zM730 810h5v5h-5zM735 825h5v5h-5zM745 835h5v5h-5zM755 840h5v5h-5zM765 840h5v5h-5zM765 850h5v5h-5zM775 855h5v5h-5zM780 870h5v5h-5zM790 865h5v5h-5zM810 880h5v5h-5zM830 890h5v5h-5zM840 905h5v5h-5zM915 960h5v5h-5zM920 965h5v5h-5zM950 995h5v5h-5zM1015 1045h5v5h-5zM1055 1085h5v5h-5zM1055 1140h5v5h-5zM1060 1120h5v5h-5zM1100 1150h5v5h-5zM1125 1155h5v5h-5zM1140 1160h5v5h-5zM1235 1265h5v5h-5zM1265 1300h5v5h-5z"/><path fill="#dc7b26" d="M165 290h5v5h-5zM170 300h5v5h-5zM180 280h5v5h-5zM180 295h5v10h-5zM185 310h5v5h-5zM190 300h5v5h-5zM195 300h5v5h-5zM195 315h5v5h-5zM200 310h5v5h-5zM205 325h5v5h-5zM210 315h5v10h-5zM215 315h5v5h-5zM215 330h5v5h-5zM220 325h5v5h-5zM220 335h5v5h-5zM225 335h5v5h-5zM240 345h5v5h-5zM245 350h5v5h-5zM250 355h5v10h-5zM260 355h5v5h-5zM270 360h5v10h-5zM275 365h5v5h-5zM285 370h5v5h-5zM290 370h5v5h-5zM295 375h5v5h-5zM300 375h5v5h-5zM310 380h5v5h-5zM320 385h5v5h-5zM330 395h5v5h-5zM350 400h5v5h-5zM440 1020h5v5h-5zM445 600h5v5h-5zM445 1165h5v5h-5zM450 1015h5v5h-5zM465 525h5v5h-5zM480 525h5v5h-5zM510 555h5v5h-5zM530 575h5v5h-5zM535 590h5v5h-5zM550 605h5v10h-5zM565 630h5v5h-5zM570 635h5v10h-5zM575 640h5v5h-5zM580 650h5v10h-5zM585 650h5v5h-5zM585 660h5v5h-5zM595 675h5v5h-5zM595 895h5v5h-5zM600 680h5v5h-5zM605 680h5v5h-5zM610 680h5v10h-5zM610 700h5v5h-5zM620 700h5v5h-5zM630 705h5v5h-5zM635 715h5v5h-5zM645 710h5v5h-5zM645 720h5v5h-5zM665 735h5v5h-5zM665 745h5v5h-5zM670 745h5v10h-5zM675 750h5v5h-5zM685 755h5v10h-5zM700 785h5v5h-5zM715 785h5v10h-5zM720 800h5v5h-5zM730 800h5v5h-5zM740 805h5v10h-5zM760 830h5v5h-5zM770 835h5v5h-5zM785 850h5v10h-5zM790 855h5v5h-5zM805 865h5v5h-5zM825 885h5v5h-5zM835 890h5v5h-5zM840 890h5v5h-5zM850 900h5v5h-5zM855 905h5v10h-5zM860 905h5v5h-5zM895 940h5v5h-5zM900 945h5v5h-5zM905 950h5v5h-5zM920 960h5v5h-5zM930 980h5v5h-5zM935 985h5v5h-5zM965 1000h5v5h-5zM1030 1055h5v5h-5zM1040 1065h5v5h-5zM1105 1150h5v5h-5zM1235 1290h5v5h-5z"/><path fill="#dc7e27" d="M165 295h5v5h-5zM170 290h5v5h-5zM170 305h5v5h-5zM175 295h5v10h-5zM195 320h5v5h-5zM200 300h5v5h-5zM200 315h5v5h-5zM210 330h5v5h-5zM215 325h5v5h-5zM215 340h5v5h-5zM220 330h5v5h-5zM225 340h5v5h-5zM230 340h5v5h-5zM240 355h5v5h-5zM245 355h5v5h-5zM255 355h5v5h-5zM265 360h5v5h-5zM275 370h5v5h-5zM280 370h5v5h-5zM290 380h5v5h-5zM305 380h5v5h-5zM315 385h5v5h-5zM325 390h5v5h-5zM415 410h5v5h-5zM440 900h5v5h-5zM445 895h5v5h-5zM450 500h5v15h-5zM450 1030h5v5h-5zM455 520h5v5h-5zM455 530h5v5h-5zM455 595h5v5h-5zM460 525h5v5h-5zM470 525h5v5h-5zM485 535h5v5h-5zM490 540h5v5h-5zM500 545h5v5h-5zM510 560h5v5h-5zM520 570h5v5h-5zM530 585h5v5h-5zM545 605h5v5h-5zM555 615h5v5h-5zM560 620h5v5h-5zM585 665h5v5h-5zM590 675h5v5h-5zM595 670h5v5h-5zM600 675h5v5h-5zM600 690h5v5h-5zM600 895h5v10h-5zM605 895h5v5h-5zM625 705h5v10h-5zM645 730h5v5h-5zM650 730h5v5h-5zM660 740h5v10h-5zM665 740h5v5h-5zM670 740h5v5h-5zM675 755h5v10h-5zM685 770h5v5h-5zM690 765h5v5h-5zM690 775h5v5h-5zM695 770h5v5h-5zM700 775h5v5h-5zM705 785h5v5h-5zM710 785h5v5h-5zM715 795h5v5h-5zM720 795h5v5h-5zM725 800h5v5h-5zM730 805h5v5h-5zM735 810h5v5h-5zM740 815h5v5h-5zM745 820h5v5h-5zM750 820h5v5h-5zM755 830h5v5h-5zM765 835h5v5h-5zM770 840h5v5h-5zM775 840h5v10h-5zM780 850h5v5h-5zM785 845h5v5h-5zM790 860h5v5h-5zM800 870h5v5h-5zM815 880h5v5h-5zM820 880h5v5h-5zM840 895h5v5h-5zM845 895h5v10h-5zM850 905h5v5h-5zM860 910h5v5h-5zM870 920h5v5h-5zM875 925h5v5h-5zM880 930h5v5h-5zM885 935h5v5h-5zM910 955h5v5h-5zM955 995h5v5h-5zM970 1005h5v5h-5zM990 1030h5v5h-5zM1005 1040h5v5h-5zM1060 1100h5v5h-5zM1110 1150h5v5h-5zM1235 1260h5v5h-5zM1270 1300h5v5h-5z"/><path fill="#dc812a" d="M165 300h5v5h-5zM170 285h5v5h-5zM175 310h5v5h-5zM180 305h5v10h-5zM185 315h5v10h-5zM190 310h5v5h-5zM190 320h5v5h-5zM195 325h5v5h-5zM200 320h5v5h-5zM205 340h5v5h-5zM210 325h5v5h-5zM210 335h5v5h-5zM215 335h5v5h-5zM220 340h5v5h-5zM230 335h5v5h-5zM235 345h5v10h-5zM240 350h5v5h-5zM245 360h5v10h-5zM255 360h5v5h-5zM265 365h5v5h-5zM270 375h5v5h-5zM280 365h5v5h-5zM285 375h5v5h-5zM290 375h5v5h-5zM300 380h5v5h-5zM310 385h5v5h-5zM375 405h5v5h-5zM440 435h5v5h-5zM440 445h5v5h-5zM440 1155h5v10h-5zM450 595h5v5h-5zM455 525h5v5h-5zM455 1025h5v5h-5zM460 530h5v5h-5zM460 540h5v5h-5zM460 605h5v5h-5zM465 530h5v10h-5zM475 525h5v10h-5zM480 530h5v5h-5zM505 550h5v5h-5zM515 565h5v5h-5zM530 580h5v5h-5zM535 595h5v5h-5zM540 600h5v5h-5zM555 620h5v5h-5zM560 635h5v5h-5zM565 635h5v10h-5zM570 645h5v5h-5zM575 645h5v5h-5zM575 655h5v5h-5zM580 665h5v5h-5zM590 670h5v5h-5zM595 680h5v5h-5zM595 890h5v5h-5zM605 690h5v5h-5zM610 690h5v5h-5zM615 695h5v5h-5zM620 705h5v5h-5zM630 715h5v5h-5zM635 720h5v5h-5zM640 720h5v15h-5zM650 735h5v5h-5zM655 735h5v5h-5zM660 735h5v5h-5zM665 750h5v5h-5zM670 755h5v5h-5zM680 760h5v5h-5zM685 765h5v5h-5zM690 760h5v5h-5zM690 770h5v5h-5zM695 775h5v5h-5zM700 780h5v5h-5zM705 790h5v5h-5zM710 790h5v5h-5zM720 810h5v5h-5zM725 805h5v5h-5zM735 815h5v10h-5zM740 820h5v5h-5zM745 825h5v5h-5zM750 825h5v5h-5zM760 835h5v5h-5zM770 845h5v5h-5zM775 850h5v5h-5zM780 845h5v5h-5zM780 855h5v10h-5zM785 865h5v5h-5zM795 860h5v15h-5zM820 885h5v10h-5zM825 890h5v5h-5zM835 895h5v5h-5zM850 910h5v5h-5zM860 915h5v5h-5zM870 925h5v5h-5zM945 990h5v5h-5zM960 1000h5v5h-5zM965 1005h5v5h-5zM995 1035h5v5h-5zM1045 1070h5v5h-5zM1060 1105h5v5h-5zM1060 1130h5v5h-5zM1145 1160h5v5h-5zM1165 1165h5v5h-5zM1230 1240h5v5h-5z"/><path fill="#dc8f35" d="M165 320h5v5h-5zM180 340h5v5h-5zM190 340h5v5h-5zM200 350h5v5h-5zM205 355h5v10h-5zM215 360h5v5h-5zM220 365h5v5h-5zM230 370h5v5h-5zM245 380h5v5h-5zM250 375h5v5h-5zM265 380h5v5h-5zM270 380h5v5h-5zM275 385h5v5h-5zM280 385h5v5h-5zM290 390h5v5h-5zM295 390h5v5h-5zM335 400h5v5h-5zM445 500h5v5h-5zM445 595h5v5h-5zM450 615h5v5h-5zM450 1010h5v5h-5zM455 555h5v5h-5zM455 590h5v5h-5zM460 560h5v10h-5zM460 575h5v5h-5zM465 545h5v5h-5zM465 565h5v5h-5zM470 545h5v5h-5zM475 545h5v5h-5zM480 540h5v5h-5zM485 550h5v5h-5zM500 565h5v5h-5zM525 590h5v5h-5zM530 595h5v10h-5zM540 610h5v5h-5zM550 640h5v5h-5zM555 635h5v10h-5zM565 660h5v5h-5zM570 670h5v10h-5zM590 695h5v5h-5zM590 705h5v5h-5zM595 705h5v5h-5zM595 715h5v5h-5zM595 1015h5v5h-5zM600 710h5v5h-5zM600 720h5v10h-5zM600 905h5v5h-5zM605 725h5v5h-5zM610 725h5v10h-5zM610 900h5v5h-5zM615 735h5v5h-5zM620 725h5v5h-5zM625 730h5v5h-5zM625 740h5v5h-5zM635 760h5v5h-5zM635 770h5v5h-5zM640 745h5v5h-5zM645 765h5v5h-5zM650 755h5v10h-5zM660 770h5v5h-5zM660 780h5v5h-5zM665 770h5v5h-5zM665 785h5v5h-5zM670 775h5v5h-5zM675 785h5v10h-5zM680 810h5v5h-5zM690 800h5v5h-5zM695 805h5v5h-5zM705 815h5v10h-5zM705 890h5v10h-5zM710 810h5v10h-5zM710 890h5v5h-5zM715 835h5v5h-5zM715 890h5v10h-5zM720 825h5v5h-5zM720 835h5v5h-5zM720 890h5v10h-5zM725 895h5v5h-5zM730 830h5v10h-5zM735 840h5v5h-5zM735 850h5v5h-5zM740 885h5v5h-5zM745 845h5v5h-5zM745 885h5v5h-5zM745 895h5v5h-5zM750 885h5v5h-5zM750 900h5v5h-5zM755 850h5v5h-5zM755 885h5v5h-5zM760 855h5v5h-5zM765 885h5v10h-5zM770 870h5v5h-5zM770 885h5v5h-5zM770 895h5v5h-5zM775 875h5v10h-5zM775 900h5v5h-5zM780 900h5v5h-5zM785 870h5v5h-5zM790 895h5v5h-5zM795 890h5v15h-5zM800 890h5v5h-5zM810 895h5v5h-5zM820 900h5v5h-5zM830 910h5v5h-5zM840 910h5v10h-5zM845 915h5v5h-5zM850 920h5v5h-5zM855 925h5v5h-5zM860 925h5v5h-5zM870 930h5v5h-5zM885 950h5v5h-5zM900 960h5v5h-5zM905 960h5v5h-5zM915 970h5v5h-5zM925 985h5v5h-5zM955 1005h5v5h-5zM985 1030h5v5h-5zM1035 1065h5v5h-5zM1120 1155h5v5h-5zM1160 1165h5v5h-5zM1170 1165h5v5h-5zM1225 1235h5v5h-5zM1235 1280h5v5h-5zM1235 1300h5v5h-5zM1255 1300h5v5h-5zM1260 1300h5v5h-5z"/><path fill="#dc953a" d="M170 330h5v5h-5zM190 350h5v5h-5zM200 355h5v5h-5zM215 370h5v5h-5zM220 370h5v5h-5zM225 375h5v5h-5zM235 375h5v10h-5zM240 380h5v5h-5zM255 380h5v5h-5zM260 385h5v5h-5zM265 390h5v5h-5zM275 390h5v5h-5zM280 390h5v5h-5zM290 395h5v5h-5zM325 400h5v5h-5zM365 405h5v5h-5zM440 470h5v5h-5zM440 890h5v5h-5zM440 1030h5v5h-5zM445 505h5v5h-5zM445 890h5v5h-5zM445 910h5v5h-5zM450 550h5v10h-5zM450 590h5v5h-5zM450 905h5v5h-5zM455 570h5v5h-5zM460 570h5v5h-5zM460 1025h5v5h-5zM465 580h5v5h-5zM465 605h5v5h-5zM470 555h5v10h-5zM475 555h5v5h-5zM490 555h5v10h-5zM495 560h5v5h-5zM515 585h5v10h-5zM515 895h5v5h-5zM520 595h5v5h-5zM520 890h5v5h-5zM525 595h5v10h-5zM530 605h5v5h-5zM535 610h5v15h-5zM540 620h5v5h-5zM545 635h5v10h-5zM550 645h5v5h-5zM555 665h5v5h-5zM555 675h5v5h-5zM560 650h5v5h-5zM560 660h5v5h-5zM570 685h5v5h-5zM580 690h5v5h-5zM580 700h5v5h-5zM580 710h5v5h-5zM580 730h5v5h-5zM580 900h5v5h-5zM585 700h5v15h-5zM585 725h5v5h-5zM590 710h5v5h-5zM590 905h5v5h-5zM590 1015h5v10h-5zM595 725h5v5h-5zM595 880h5v5h-5zM600 750h5v5h-5zM600 880h5v5h-5zM600 1020h5v5h-5zM605 745h5v5h-5zM605 880h5v5h-5zM605 1010h5v10h-5zM610 740h5v5h-5zM610 885h5v5h-5zM615 740h5v5h-5zM615 900h5v5h-5zM620 755h5v5h-5zM625 755h5v20h-5zM625 890h5v10h-5zM630 755h5v5h-5zM630 765h5v15h-5zM635 765h5v5h-5zM635 775h5v5h-5zM635 790h5v5h-5zM640 770h5v5h-5zM640 895h5v5h-5zM645 770h5v10h-5zM650 765h5v5h-5zM650 775h5v10h-5zM650 890h5v5h-5zM655 770h5v5h-5zM655 780h5v15h-5zM655 890h5v5h-5zM660 790h5v10h-5zM665 790h5v10h-5zM665 890h5v5h-5zM670 805h5v5h-5zM670 895h5v5h-5zM675 800h5v10h-5zM675 890h5v10h-5zM680 800h5v10h-5zM680 890h5v5h-5zM685 815h5v5h-5zM685 835h5v5h-5zM685 895h5v5h-5zM690 810h5v5h-5zM690 825h5v15h-5zM690 880h5v5h-5zM690 890h5v15h-5zM695 810h5v5h-5zM695 885h5v10h-5zM695 900h5v5h-5zM700 815h5v5h-5zM700 835h5v5h-5zM700 885h5v5h-5zM700 900h5v5h-5zM705 825h5v10h-5zM710 840h5v10h-5zM710 880h5v5h-5zM715 830h5v5h-5zM715 840h5v5h-5zM715 850h5v5h-5zM715 900h5v5h-5zM720 900h5v5h-5zM725 855h5v10h-5zM725 880h5v5h-5zM730 840h5v10h-5zM730 855h5v5h-5zM730 880h5v5h-5zM740 855h5v5h-5zM745 855h5v10h-5zM745 890h5v5h-5zM750 850h5v5h-5zM750 865h5v5h-5zM750 880h5v5h-5zM755 860h5v15h-5zM755 880h5v5h-5zM760 860h5v10h-5zM765 870h5v5h-5zM770 865h5v5h-5zM770 900h5v5h-5zM785 900h5v5h-5zM790 900h5v5h-5zM795 905h5v5h-5zM800 895h5v5h-5zM805 900h5v5h-5zM815 900h5v10h-5zM820 905h5v5h-5zM825 915h5v5h-5zM835 910h5v5h-5zM835 920h5v5h-5zM840 925h5v5h-5zM845 920h5v5h-5zM850 925h5v5h-5zM855 935h5v5h-5zM870 940h5v5h-5zM875 940h5v5h-5zM880 945h5v5h-5zM890 955h5v5h-5zM895 960h5v5h-5zM910 970h5v5h-5zM920 975h5v5h-5zM930 990h5v5h-5zM945 1000h5v5h-5zM950 1005h5v5h-5zM960 1010h5v5h-5zM965 1015h5v5h-5zM1020 1055h5v5h-5zM1055 1130h5v5h-5zM1060 1160h5v5h-5zM1230 1255h5v10h-5zM1265 1305h5v5h-5zM1275 1305h5v5h-5z"/><path fill="#dcbc6e" d="M170 345h5v5h-5zM180 355h5v5h-5zM235 400h5v5h-5zM245 405h5v5h-5zM255 405h5v5h-5zM270 405h5v5h-5zM350 410h5v5h-5zM395 415h5v5h-5zM425 425h5v5h-5zM430 890h5v5h-5zM435 505h5v5h-5zM435 600h5v5h-5zM435 1040h5v5h-5zM440 735h5v5h-5zM440 1120h5v5h-5zM470 995h5v5h-5zM470 1035h5v5h-5zM470 1055h5v15h-5zM470 1085h5v5h-5zM475 870h5v5h-5zM475 950h5v5h-5zM475 970h5v5h-5zM475 980h5v5h-5zM475 1020h5v5h-5zM480 730h5v5h-5zM480 760h5v5h-5zM480 775h5v5h-5zM480 785h5v20h-5zM480 810h5v15h-5zM480 845h5v10h-5zM485 715h5v5h-5zM485 730h5v25h-5zM485 760h5v15h-5zM485 790h5v5h-5zM485 800h5v5h-5zM485 825h5v10h-5zM485 840h5v15h-5zM485 865h5v10h-5zM485 885h5v5h-5zM490 715h5v5h-5zM490 735h5v10h-5zM490 750h5v15h-5zM490 775h5v5h-5zM490 790h5v5h-5zM490 825h5v5h-5zM495 730h5v5h-5zM495 740h5v20h-5zM495 775h5v5h-5zM495 810h5v5h-5zM495 910h5v5h-5zM495 1010h5v10h-5zM500 700h5v5h-5zM500 735h5v15h-5zM500 760h5v15h-5zM500 865h5v5h-5zM500 1000h5v5h-5zM500 1025h5v5h-5zM505 725h5v5h-5zM505 745h5v10h-5zM505 775h5v10h-5zM505 855h5v5h-5zM505 870h5v5h-5zM505 925h5v5h-5zM505 940h5v5h-5zM510 715h5v5h-5zM510 750h5v10h-5zM510 765h5v10h-5zM510 785h5v5h-5zM510 795h5v20h-5zM510 825h5v5h-5zM510 840h5v5h-5zM510 935h5v5h-5zM510 945h5v5h-5zM510 960h5v5h-5zM510 975h5v5h-5zM510 1150h5v5h-5zM515 790h5v15h-5zM515 835h5v10h-5zM515 855h5v5h-5zM515 865h5v5h-5zM515 960h5v20h-5zM515 1035h5v5h-5zM520 740h5v5h-5zM520 760h5v5h-5zM520 790h5v15h-5zM520 840h5v5h-5zM520 855h5v5h-5zM520 870h5v5h-5zM520 965h5v5h-5zM525 745h5v5h-5zM525 790h5v5h-5zM525 805h5v5h-5zM525 820h5v5h-5zM525 835h5v5h-5zM525 850h5v5h-5zM525 860h5v5h-5zM525 955h5v10h-5zM525 970h5v5h-5zM525 985h5v10h-5zM525 1150h5v10h-5zM530 785h5v5h-5zM530 800h5v5h-5zM530 825h5v10h-5zM530 840h5v10h-5zM530 860h5v5h-5zM530 870h5v5h-5zM530 920h5v5h-5zM530 935h5v10h-5zM530 950h5v5h-5zM530 960h5v5h-5zM530 1150h5v5h-5zM530 1160h5v5h-5zM535 795h5v5h-5zM535 810h5v5h-5zM535 820h5v5h-5zM535 920h5v15h-5zM535 1000h5v5h-5zM535 1030h5v10h-5zM535 1150h5v15h-5zM540 790h5v5h-5zM540 825h5v10h-5zM540 845h5v25h-5zM540 945h5v5h-5zM540 985h5v5h-5zM540 1000h5v5h-5zM540 1030h5v5h-5zM545 865h5v5h-5zM545 875h5v5h-5zM545 915h5v15h-5zM545 950h5v5h-5zM545 960h5v5h-5zM545 975h5v5h-5zM545 1000h5v5h-5zM545 1030h5v5h-5zM550 870h5v5h-5zM550 920h5v10h-5zM550 935h5v10h-5zM550 960h5v10h-5zM550 990h5v5h-5zM550 1030h5v5h-5zM550 1145h5v5h-5zM555 925h5v5h-5zM555 945h5v20h-5zM555 980h5v10h-5zM555 1005h5v5h-5zM555 1030h5v5h-5zM560 925h5v5h-5zM560 950h5v5h-5zM560 970h5v10h-5zM565 925h5v5h-5zM565 965h5v5h-5zM565 980h5v5h-5zM565 990h5v5h-5zM570 965h5v10h-5zM570 980h5v5h-5zM570 1145h5v5h-5zM575 1145h5v5h-5zM580 975h5v5h-5zM580 1040h5v5h-5zM590 1165h5v5h-5zM595 1145h5v5h-5zM600 1040h5v5h-5zM600 1145h5v5h-5zM605 1145h5v5h-5zM610 1040h5v5h-5zM610 1145h5v5h-5zM615 1160h5v5h-5zM620 1160h5v5h-5zM630 985h5v5h-5zM630 1155h5v5h-5zM635 1035h5v5h-5zM635 1155h5v5h-5zM640 985h5v5h-5zM640 1155h5v5h-5zM645 1150h5v5h-5zM650 1030h5v5h-5zM650 1150h5v5h-5zM655 990h5v5h-5zM660 1155h5v5h-5zM670 1030h5v5h-5zM670 1150h5v10h-5zM675 1150h5v5h-5zM680 990h5v5h-5zM680 1155h5v5h-5zM685 1155h5v5h-5zM690 1025h5v5h-5zM690 1150h5v5h-5zM695 1000h5v5h-5zM695 1015h5v5h-5zM695 1025h5v5h-5zM695 1155h5v5h-5zM705 1020h5v5h-5zM715 1010h5v5h-5zM715 1020h5v5h-5zM720 1005h5v5h-5zM720 1015h5v10h-5zM720 1030h5v5h-5zM725 1000h5v20h-5zM730 1015h5v10h-5zM735 1010h5v5h-5zM735 1030h5v5h-5zM740 1000h5v5h-5zM740 1015h5v5h-5zM745 995h5v5h-5zM750 990h5v5h-5zM750 1005h5v5h-5zM755 1010h5v15h-5zM760 1020h5v5h-5zM765 1015h5v5h-5zM770 1010h5v5h-5zM775 1010h5v20h-5zM780 1015h5v5h-5zM785 1010h5v5h-5zM790 1010h5v10h-5zM795 1015h5v5h-5zM800 1010h5v10h-5zM805 995h5v5h-5zM805 1015h5v15h-5zM810 1015h5v10h-5zM815 1005h5v5h-5zM830 1010h5v10h-5zM835 1015h5v5h-5zM840 1020h5v5h-5zM845 1000h5v5h-5zM850 1015h5v5h-5zM850 1030h5v5h-5zM855 1025h5v5h-5zM860 1015h5v5h-5zM865 1010h5v5h-5zM865 1025h5v5h-5zM875 1025h5v5h-5zM880 1020h5v10h-5zM885 1025h5v5h-5zM895 1025h5v5h-5zM900 1025h5v5h-5zM905 1030h5v5h-5zM925 1030h5v10h-5zM930 1040h5v5h-5zM940 1040h5v5h-5zM950 1045h5v5h-5zM970 1050h5v5h-5zM975 1050h5v5h-5zM980 1055h5v5h-5zM985 1060h5v5h-5zM1005 1070h5v5h-5zM1010 1075h5v5h-5zM1015 1080h5v5h-5zM1020 1080h5v5h-5zM1025 1085h5v5h-5zM1025 1130h5v5h-5zM1030 1125h5v5h-5zM1030 1140h5v5h-5zM1035 1115h5v5h-5zM1035 1130h5v5h-5zM1040 1110h5v5h-5zM1045 1120h5v5h-5zM1050 1160h5v5h-5zM1065 1165h5v5h-5zM1070 1165h5v5h-5zM1100 1160h5v5h-5zM1145 1170h5v5h-5zM1155 1170h5v5h-5zM1170 1175h5v5h-5zM1220 1265h5v5h-5zM1250 1325h5v5h-5zM1260 1325h5v5h-5zM1265 1325h5v5h-5z"/><path fill="#dc7626" d="M175 280h5v10h-5zM185 280h5v10h-5zM190 270h5v5h-5zM195 305h5v5h-5zM200 290h5v5h-5zM200 305h5v5h-5zM210 305h5v5h-5zM215 300h5v10h-5zM220 310h5v5h-5zM230 325h5v10h-5zM245 335h5v5h-5zM245 345h5v5h-5zM260 350h5v5h-5zM265 350h5v5h-5zM270 355h5v5h-5zM275 355h5v10h-5zM285 360h5v10h-5zM290 360h5v5h-5zM295 365h5v5h-5zM305 375h5v5h-5zM335 395h5v5h-5zM355 400h5v5h-5zM440 440h5v5h-5zM445 605h5v5h-5zM445 1015h5v5h-5zM450 610h5v5h-5zM470 520h5v5h-5zM475 520h5v5h-5zM495 540h5v5h-5zM505 545h5v5h-5zM510 550h5v5h-5zM520 565h5v5h-5zM525 570h5v5h-5zM540 595h5v5h-5zM545 600h5v5h-5zM560 615h5v5h-5zM565 625h5v5h-5zM580 645h5v5h-5zM590 655h5v5h-5zM595 660h5v5h-5zM600 670h5v5h-5zM605 670h5v5h-5zM615 685h5v5h-5zM620 685h5v5h-5zM635 710h5v5h-5zM645 715h5v5h-5zM655 725h5v5h-5zM660 725h5v10h-5zM670 735h5v5h-5zM680 745h5v5h-5zM695 765h5v5h-5zM700 765h5v5h-5zM705 775h5v5h-5zM710 775h5v10h-5zM715 780h5v5h-5zM720 785h5v5h-5zM725 795h5v5h-5zM730 795h5v5h-5zM735 800h5v5h-5zM745 810h5v10h-5zM765 825h5v5h-5zM775 835h5v5h-5zM780 840h5v5h-5zM790 850h5v5h-5zM795 850h5v10h-5zM870 915h5v5h-5zM885 930h5v5h-5zM900 940h5v5h-5zM915 955h5v5h-5zM930 975h5v5h-5zM940 985h5v5h-5zM960 995h5v5h-5zM995 1030h5v5h-5zM1000 1035h5v5h-5zM1025 1050h5v5h-5zM1225 1225h5v5h-5zM1275 1300h5v5h-5z"/><path fill="#dc7826" d="M175 290h5v5h-5zM180 285h5v10h-5zM185 275h5v5h-5zM185 290h5v20h-5zM190 285h5v15h-5zM190 305h5v5h-5zM190 315h5v5h-5zM195 290h5v5h-5zM195 310h5v5h-5zM205 300h5v5h-5zM205 310h5v15h-5zM210 310h5v5h-5zM215 310h5v5h-5zM215 320h5v5h-5zM220 320h5v5h-5zM225 330h5v5h-5zM235 335h5v10h-5zM240 340h5v5h-5zM250 345h5v10h-5zM255 350h5v5h-5zM265 355h5v5h-5zM270 350h5v5h-5zM290 365h5v5h-5zM295 370h5v5h-5zM300 370h5v5h-5zM310 375h5v5h-5zM315 380h5v5h-5zM345 400h5v5h-5zM385 405h5v5h-5zM445 490h5v5h-5zM455 515h5v5h-5zM455 610h5v5h-5zM460 520h5v5h-5zM485 530h5v5h-5zM515 555h5v10h-5zM535 585h5v5h-5zM555 610h5v5h-5zM575 650h5v5h-5zM585 655h5v5h-5zM590 660h5v10h-5zM605 675h5v5h-5zM615 690h5v5h-5zM620 695h5v5h-5zM625 700h5v5h-5zM635 705h5v5h-5zM640 710h5v10h-5zM650 720h5v10h-5zM655 730h5v5h-5zM675 745h5v5h-5zM680 750h5v10h-5zM700 770h5v5h-5zM705 780h5v5h-5zM720 790h5v5h-5zM735 805h5v5h-5zM755 820h5v10h-5zM765 830h5v5h-5zM800 860h5v10h-5zM805 860h5v5h-5zM810 870h5v10h-5zM815 875h5v5h-5zM830 885h5v5h-5zM865 910h5v10h-5zM890 935h5v5h-5zM905 945h5v5h-5zM910 950h5v5h-5zM925 965h5v10h-5zM950 990h5v5h-5zM975 1010h5v5h-5zM980 1015h5v5h-5zM985 1020h5v5h-5zM1010 1040h5v5h-5zM1035 1060h5v5h-5zM1050 1075h5v5h-5zM1055 1155h5v5h-5zM1080 1150h5v5h-5zM1085 1150h5v5h-5zM1130 1155h5v5h-5zM1225 1220h5v5h-5zM1230 1235h5v5h-5zM1235 1255h5v5h-5z"/><path fill="#dcbe72" d="M175 350h5v5h-5zM185 360h5v5h-5zM190 365h5v5h-5zM220 390h5v5h-5zM225 395h5v5h-5zM260 405h5v5h-5zM345 410h5v5h-5zM355 410h5v5h-5zM390 415h5v5h-5zM430 1020h5v5h-5zM435 495h5v10h-5zM435 610h5v5h-5zM435 825h5v5h-5zM435 840h5v5h-5zM435 850h5v5h-5zM435 870h5v5h-5zM435 880h5v5h-5zM435 920h5v5h-5zM435 955h5v10h-5zM435 975h5v5h-5zM435 985h5v5h-5zM435 1045h5v15h-5zM435 1100h5v5h-5zM440 1135h5v5h-5zM465 1130h5v5h-5zM470 1090h5v10h-5zM470 1105h5v5h-5zM470 1130h5v5h-5zM475 915h5v5h-5zM475 945h5v5h-5zM475 955h5v5h-5zM475 965h5v5h-5zM475 985h5v5h-5zM475 1010h5v5h-5zM475 1025h5v5h-5zM475 1040h5v5h-5zM480 805h5v5h-5zM480 825h5v5h-5zM480 835h5v5h-5zM480 870h5v10h-5zM480 890h5v5h-5zM480 905h5v30h-5zM480 985h5v5h-5zM485 705h5v5h-5zM485 780h5v5h-5zM485 795h5v5h-5zM485 805h5v5h-5zM485 860h5v5h-5zM485 875h5v10h-5zM485 895h5v5h-5zM485 910h5v10h-5zM485 925h5v5h-5zM485 955h5v5h-5zM485 980h5v5h-5zM490 770h5v5h-5zM490 785h5v5h-5zM490 800h5v10h-5zM490 830h5v15h-5zM490 850h5v5h-5zM490 865h5v5h-5zM490 880h5v5h-5zM490 900h5v20h-5zM495 785h5v5h-5zM495 795h5v15h-5zM495 825h5v15h-5zM495 850h5v5h-5zM495 860h5v5h-5zM495 875h5v5h-5zM495 935h5v5h-5zM495 1020h5v5h-5zM500 755h5v5h-5zM500 780h5v35h-5zM500 820h5v5h-5zM500 830h5v5h-5zM500 845h5v10h-5zM500 860h5v5h-5zM500 870h5v5h-5zM500 970h5v5h-5zM500 985h5v5h-5zM505 760h5v5h-5zM505 770h5v5h-5zM505 785h5v5h-5zM505 795h5v5h-5zM505 805h5v10h-5zM505 830h5v10h-5zM505 845h5v5h-5zM505 860h5v10h-5zM505 955h5v10h-5zM505 975h5v5h-5zM505 985h5v10h-5zM510 775h5v10h-5zM510 790h5v5h-5zM510 830h5v5h-5zM510 845h5v25h-5zM510 955h5v5h-5zM510 970h5v5h-5zM510 990h5v5h-5zM510 1035h5v5h-5zM510 1155h5v5h-5zM515 765h5v5h-5zM515 805h5v5h-5zM515 815h5v15h-5zM515 850h5v5h-5zM515 860h5v5h-5zM515 985h5v5h-5zM515 1160h5v5h-5zM520 780h5v10h-5zM520 815h5v10h-5zM520 830h5v10h-5zM520 845h5v10h-5zM520 860h5v10h-5zM520 985h5v5h-5zM525 825h5v5h-5zM525 845h5v5h-5zM525 865h5v5h-5zM525 950h5v5h-5zM525 965h5v5h-5zM525 975h5v5h-5zM525 1035h5v5h-5zM530 805h5v10h-5zM530 850h5v10h-5zM530 865h5v5h-5zM530 925h5v10h-5zM530 945h5v5h-5zM530 955h5v5h-5zM530 990h5v10h-5zM530 1035h5v5h-5zM535 830h5v5h-5zM535 845h5v5h-5zM535 935h5v5h-5zM535 950h5v10h-5zM540 920h5v10h-5zM540 935h5v5h-5zM540 965h5v10h-5zM540 980h5v5h-5zM540 1035h5v5h-5zM545 850h5v5h-5zM545 935h5v5h-5zM550 930h5v5h-5zM550 950h5v10h-5zM550 970h5v5h-5zM550 985h5v5h-5zM550 995h5v10h-5zM555 975h5v5h-5zM555 990h5v15h-5zM560 980h5v25h-5zM560 1030h5v10h-5zM560 1140h5v5h-5zM570 1035h5v5h-5zM580 1035h5v5h-5zM580 1145h5v5h-5zM585 1040h5v5h-5zM585 1145h5v5h-5zM585 1165h5v5h-5zM590 1145h5v5h-5zM600 1165h5v5h-5zM605 1040h5v5h-5zM610 1035h5v5h-5zM620 1040h5v5h-5zM625 1150h5v5h-5zM630 1035h5v10h-5zM630 1160h5v5h-5zM635 1150h5v5h-5zM640 1035h5v5h-5zM640 1150h5v5h-5zM640 1160h5v5h-5zM645 1035h5v5h-5zM650 1035h5v5h-5zM650 1155h5v5h-5zM655 1155h5v5h-5zM660 1035h5v5h-5zM660 1150h5v5h-5zM665 1035h5v5h-5zM675 1155h5v5h-5zM680 1035h5v5h-5zM680 1150h5v5h-5zM690 1035h5v5h-5zM690 1155h5v5h-5zM695 1030h5v10h-5zM700 1030h5v5h-5zM700 1155h5v5h-5zM705 1030h5v5h-5zM710 1015h5v15h-5zM720 1025h5v5h-5zM725 1020h5v5h-5zM735 1005h5v5h-5zM735 1015h5v10h-5zM745 1020h5v15h-5zM750 1015h5v15h-5zM760 1000h5v5h-5zM760 1015h5v5h-5zM765 1025h5v5h-5zM770 1015h5v5h-5zM770 1025h5v5h-5zM775 1005h5v5h-5zM780 1020h5v5h-5zM785 1025h5v5h-5zM785 1035h5v5h-5zM790 1020h5v5h-5zM795 1010h5v5h-5zM795 1020h5v5h-5zM800 1020h5v10h-5zM810 1025h5v5h-5zM815 1020h5v5h-5zM820 1015h5v5h-5zM825 1020h5v5h-5zM835 1025h5v5h-5zM845 1020h5v10h-5zM850 1020h5v10h-5zM870 1020h5v5h-5zM870 1035h5v5h-5zM880 1030h5v5h-5zM900 1035h5v5h-5zM905 1025h5v5h-5zM905 1035h5v5h-5zM910 1030h5v15h-5zM915 1035h5v5h-5zM920 1040h5v5h-5zM925 1040h5v5h-5zM930 1035h5v5h-5zM930 1045h5v5h-5zM935 1040h5v5h-5zM940 1045h5v5h-5zM960 1050h5v5h-5zM980 1060h5v5h-5zM990 1060h5v5h-5zM995 1070h5v5h-5zM1000 1070h5v5h-5zM1000 1130h5v5h-5zM1005 1075h5v5h-5zM1015 1075h5v5h-5zM1015 1130h5v5h-5zM1020 1140h5v5h-5zM1025 1125h5v5h-5zM1025 1135h5v5h-5zM1030 1110h5v5h-5zM1030 1130h5v10h-5zM1035 1100h5v10h-5zM1040 1100h5v5h-5zM1040 1115h5v5h-5zM1085 1160h5v5h-5zM1095 1160h5v5h-5zM1140 1170h5v5h-5zM1175 1175h5v5h-5zM1180 1175h5v5h-5zM1220 1270h5v5h-5zM1225 1305h5v5h-5zM1255 1325h5v5h-5z"/><path fill="#dccb8a" d="M175 355h5v5h-5zM270 410h5v5h-5zM280 410h5v5h-5zM305 410h5v5h-5zM405 420h5v5h-5zM425 900h5v10h-5zM430 450h5v5h-5zM430 475h5v10h-5zM430 500h5v5h-5zM430 765h5v5h-5zM430 775h5v5h-5zM430 855h5v5h-5zM430 880h5v5h-5zM430 915h5v5h-5zM430 925h5v5h-5zM430 945h5v5h-5zM430 965h5v5h-5zM430 975h5v10h-5zM430 1000h5v5h-5zM430 1040h5v5h-5zM430 1060h5v5h-5zM430 1160h5v5h-5zM475 1150h5v5h-5zM480 1055h5v5h-5zM480 1090h5v5h-5zM480 1100h5v15h-5zM480 1120h5v15h-5zM480 1145h5v5h-5zM485 1050h5v10h-5zM485 1065h5v5h-5zM485 1075h5v10h-5zM485 1105h5v5h-5zM485 1155h5v5h-5zM490 1060h5v15h-5zM490 1145h5v10h-5zM495 1045h5v5h-5zM495 1055h5v10h-5zM495 1070h5v5h-5zM495 1110h5v5h-5zM500 1050h5v5h-5zM500 1060h5v5h-5zM500 1070h5v10h-5zM500 1135h5v15h-5zM505 1060h5v5h-5zM505 1070h5v5h-5zM505 1080h5v5h-5zM510 1055h5v5h-5zM510 1070h5v10h-5zM510 1090h5v5h-5zM510 1105h5v5h-5zM515 1050h5v5h-5zM515 1060h5v5h-5zM515 1070h5v5h-5zM515 1080h5v5h-5zM515 1090h5v10h-5zM515 1165h5v5h-5zM520 1060h5v15h-5zM525 1065h5v5h-5zM525 1085h5v5h-5zM525 1100h5v5h-5zM530 1045h5v5h-5zM530 1055h5v5h-5zM530 1065h5v20h-5zM530 1120h5v5h-5zM535 1080h5v5h-5zM535 1140h5v5h-5zM540 1060h5v5h-5zM540 1080h5v10h-5zM540 1110h5v5h-5zM540 1120h5v5h-5zM545 1060h5v10h-5zM545 1090h5v5h-5zM545 1100h5v5h-5zM545 1140h5v5h-5zM545 1170h5v5h-5zM550 1060h5v5h-5zM550 1070h5v5h-5zM550 1100h5v5h-5zM550 1110h5v5h-5zM555 1050h5v5h-5zM555 1065h5v10h-5zM555 1085h5v5h-5zM560 1055h5v10h-5zM560 1075h5v10h-5zM560 1095h5v5h-5zM560 1125h5v5h-5zM560 1170h5v5h-5zM565 1085h5v5h-5zM565 1095h5v5h-5zM565 1110h5v5h-5zM565 1130h5v5h-5zM565 1170h5v5h-5zM570 1080h5v5h-5zM570 1135h5v5h-5zM570 1170h5v5h-5zM575 1085h5v10h-5zM580 1055h5v5h-5zM580 1070h5v5h-5zM580 1080h5v10h-5zM580 1135h5v5h-5zM585 1070h5v5h-5zM585 1090h5v5h-5zM585 1105h5v5h-5zM585 1115h5v5h-5zM585 1130h5v5h-5zM590 1075h5v5h-5zM590 1095h5v5h-5zM590 1135h5v5h-5zM590 1170h5v5h-5zM595 1065h5v5h-5zM595 1080h5v5h-5zM595 1090h5v5h-5zM595 1100h5v10h-5zM595 1135h5v5h-5zM600 1065h5v5h-5zM600 1100h5v5h-5zM605 1065h5v5h-5zM605 1100h5v5h-5zM610 1070h5v10h-5zM610 1140h5v5h-5zM615 1070h5v10h-5zM615 1085h5v10h-5zM615 1135h5v10h-5zM620 1080h5v5h-5zM620 1090h5v5h-5zM620 1100h5v5h-5zM620 1140h5v5h-5zM625 1070h5v5h-5zM625 1165h5v5h-5zM630 1065h5v15h-5zM630 1090h5v5h-5zM630 1130h5v5h-5zM630 1140h5v5h-5zM635 1090h5v5h-5zM635 1140h5v5h-5zM635 1165h5v5h-5zM640 1055h5v5h-5zM640 1065h5v5h-5zM645 1070h5v10h-5zM645 1090h5v5h-5zM645 1110h5v10h-5zM645 1135h5v5h-5zM645 1165h5v5h-5zM650 1065h5v5h-5zM650 1075h5v5h-5zM650 1085h5v5h-5zM650 1095h5v10h-5zM650 1115h5v5h-5zM650 1165h5v5h-5zM655 1050h5v5h-5zM655 1080h5v10h-5zM660 1105h5v5h-5zM660 1165h5v5h-5zM665 1065h5v10h-5zM665 1085h5v15h-5zM670 1060h5v10h-5zM670 1095h5v5h-5zM670 1165h5v5h-5zM675 1060h5v5h-5zM675 1080h5v5h-5zM680 1070h5v5h-5zM680 1140h5v5h-5zM680 1165h5v5h-5zM685 1060h5v5h-5zM685 1070h5v5h-5zM685 1140h5v5h-5zM690 1045h5v20h-5zM690 1075h5v10h-5zM695 1080h5v5h-5zM695 1090h5v5h-5zM695 1165h5v5h-5zM700 1065h5v5h-5zM700 1145h5v5h-5zM705 1075h5v5h-5zM705 1085h5v5h-5zM705 1165h5v5h-5zM710 1070h5v5h-5zM715 1055h5v5h-5zM715 1070h5v5h-5zM715 1080h5v5h-5zM720 1055h5v5h-5zM720 1065h5v5h-5zM720 1155h5v5h-5zM730 1065h5v5h-5zM735 1055h5v10h-5zM735 1080h5v5h-5zM740 1055h5v10h-5zM745 1055h5v5h-5zM745 1070h5v5h-5zM750 1065h5v5h-5zM755 1050h5v5h-5zM755 1060h5v5h-5zM765 1070h5v5h-5zM770 1050h5v5h-5zM770 1090h5v5h-5zM775 1055h5v5h-5zM780 1045h5v5h-5zM785 1060h5v5h-5zM790 1050h5v10h-5zM800 1060h5v5h-5zM805 1050h5v5h-5zM820 1050h5v5h-5zM825 1050h5v10h-5zM830 1045h5v10h-5zM835 1050h5v10h-5zM845 1050h5v10h-5zM850 1045h5v5h-5zM850 1055h5v10h-5zM855 1045h5v10h-5zM860 1135h5v5h-5zM865 1050h5v5h-5zM865 1130h5v5h-5zM865 1140h5v15h-5zM870 1050h5v5h-5zM870 1135h5v10h-5zM870 1150h5v5h-5zM875 1055h5v5h-5zM875 1130h5v10h-5zM875 1150h5v5h-5zM880 1060h5v5h-5zM880 1120h5v5h-5zM880 1150h5v5h-5zM885 1055h5v5h-5zM885 1115h5v5h-5zM885 1135h5v5h-5zM885 1150h5v5h-5zM890 1130h5v5h-5zM895 1125h5v5h-5zM895 1135h5v5h-5zM905 1150h5v5h-5zM910 1060h5v10h-5zM910 1125h5v5h-5zM915 1055h5v10h-5zM915 1150h5v10h-5zM920 1055h5v5h-5zM920 1065h5v5h-5zM920 1150h5v5h-5zM925 1060h5v5h-5zM925 1150h5v10h-5zM930 1065h5v5h-5zM935 1115h5v5h-5zM935 1155h5v5h-5zM940 1150h5v5h-5zM945 1065h5v5h-5zM945 1075h5v10h-5zM945 1115h5v5h-5zM950 1065h5v10h-5zM950 1120h5v5h-5zM955 1100h5v5h-5zM960 1075h5v10h-5zM970 1070h5v10h-5zM970 1085h5v5h-5zM970 1120h5v5h-5zM970 1150h5v5h-5zM975 1080h5v10h-5zM975 1110h5v10h-5zM980 1085h5v5h-5zM985 1080h5v10h-5zM985 1115h5v5h-5zM990 1090h5v5h-5zM995 1110h5v5h-5zM995 1155h5v5h-5zM1005 1095h5v5h-5zM1005 1105h5v5h-5zM1005 1150h5v5h-5zM1010 1155h5v5h-5zM1025 1155h5v5h-5zM1070 1170h5v5h-5zM1090 1165h5v5h-5zM1105 1165h5v5h-5zM1110 1170h5v5h-5zM1120 1170h5v5h-5zM1145 1175h5v5h-5zM1150 1175h5v5h-5zM1170 1180h5v5h-5zM1185 1185h5v10h-5zM1190 1190h5v5h-5zM1195 1195h5v5h-5zM1200 1200h5v5h-5zM1210 1225h5v5h-5zM1215 1255h5v5h-5zM1220 1310h5v5h-5zM1230 1325h5v5h-5z"/><path fill="#db7326" d="M180 275h5v5h-5zM185 270h5v5h-5zM190 280h5v5h-5zM195 295h5v5h-5zM200 295h5v5h-5zM205 295h5v5h-5zM205 305h5v5h-5zM210 295h5v10h-5zM225 315h5v5h-5zM225 325h5v5h-5zM230 320h5v5h-5zM235 325h5v10h-5zM240 330h5v10h-5zM245 340h5v5h-5zM250 340h5v5h-5zM255 345h5v5h-5zM275 350h5v5h-5zM280 360h5v5h-5zM300 365h5v5h-5zM305 370h5v5h-5zM325 385h5v5h-5zM360 400h5v5h-5zM450 1025h5v5h-5zM455 510h5v5h-5zM460 515h5v5h-5zM465 520h5v5h-5zM490 535h5v5h-5zM520 560h5v5h-5zM535 580h5v5h-5zM555 605h5v5h-5zM560 610h5v5h-5zM565 620h5v5h-5zM570 625h5v10h-5zM595 665h5v5h-5zM610 675h5v5h-5zM615 680h5v5h-5zM625 690h5v10h-5zM630 695h5v10h-5zM635 700h5v5h-5zM640 700h5v5h-5zM665 730h5v5h-5zM690 755h5v5h-5zM695 760h5v5h-5zM725 790h5v5h-5zM735 795h5v5h-5zM750 815h5v5h-5zM760 825h5v5h-5zM770 830h5v5h-5zM790 845h5v5h-5zM800 855h5v5h-5zM810 865h5v5h-5zM835 885h5v5h-5zM840 885h5v5h-5zM855 900h5v5h-5zM875 920h5v5h-5zM895 935h5v5h-5zM970 1000h5v5h-5zM975 1005h5v5h-5zM1020 1045h5v5h-5zM1055 1080h5v5h-5zM1060 1135h5v5h-5zM1235 1250h5v5h-5zM1280 1300h5v5h-5z"/><path fill="#dcb15a" d="M180 350h5v5h-5zM190 360h5v5h-5zM195 365h5v5h-5zM205 375h5v5h-5zM240 400h5v5h-5zM430 900h5v5h-5zM440 535h5v15h-5zM440 555h5v10h-5zM440 570h5v10h-5zM440 615h5v5h-5zM440 685h5v5h-5zM440 835h5v10h-5zM440 995h5v10h-5zM440 1145h5v5h-5zM445 975h5v5h-5zM445 995h5v5h-5zM445 1065h5v5h-5zM445 1090h5v10h-5zM445 1105h5v5h-5zM445 1115h5v5h-5zM450 1115h5v5h-5zM450 1125h5v5h-5zM450 1170h5v5h-5zM455 1105h5v5h-5zM455 1125h5v5h-5zM455 1140h5v5h-5zM460 1050h5v5h-5zM460 1060h5v5h-5zM460 1070h5v10h-5zM460 1085h5v5h-5zM460 1115h5v10h-5zM460 1150h5v5h-5zM460 1160h5v5h-5zM465 840h5v5h-5zM465 895h5v5h-5zM465 945h5v10h-5zM465 960h5v10h-5zM465 980h5v5h-5zM465 1000h5v5h-5zM465 1010h5v5h-5zM465 1040h5v5h-5zM470 725h5v15h-5zM470 745h5v10h-5zM470 760h5v5h-5zM470 785h5v5h-5zM470 800h5v10h-5zM470 815h5v5h-5zM470 845h5v10h-5zM470 870h5v5h-5zM470 880h5v5h-5zM470 905h5v5h-5zM475 635h5v10h-5zM475 650h5v5h-5zM475 665h5v5h-5zM475 680h5v5h-5zM475 715h5v5h-5zM480 635h5v5h-5zM480 650h5v10h-5zM480 715h5v5h-5zM485 615h5v15h-5zM485 635h5v15h-5zM490 625h5v20h-5zM495 615h5v15h-5zM495 635h5v5h-5zM500 630h5v5h-5zM500 640h5v5h-5zM500 650h5v10h-5zM500 900h5v10h-5zM505 645h5v15h-5zM505 670h5v5h-5zM505 1010h5v5h-5zM505 1020h5v5h-5zM510 645h5v5h-5zM510 655h5v5h-5zM510 1000h5v5h-5zM515 655h5v15h-5zM515 680h5v5h-5zM515 695h5v5h-5zM515 920h5v5h-5zM520 660h5v5h-5zM520 670h5v5h-5zM520 680h5v15h-5zM520 730h5v5h-5zM520 1000h5v5h-5zM525 670h5v5h-5zM525 880h5v5h-5zM525 915h5v5h-5zM530 680h5v5h-5zM530 705h5v5h-5zM530 880h5v5h-5zM535 690h5v5h-5zM535 705h5v10h-5zM535 905h5v10h-5zM535 1015h5v5h-5zM545 740h5v5h-5zM545 775h5v5h-5zM545 1150h5v5h-5zM545 1160h5v5h-5zM550 755h5v5h-5zM550 785h5v5h-5zM550 795h5v5h-5zM555 780h5v10h-5zM555 795h5v5h-5zM555 845h5v5h-5zM555 880h5v5h-5zM560 800h5v10h-5zM560 820h5v5h-5zM560 840h5v5h-5zM560 870h5v5h-5zM560 880h5v5h-5zM565 805h5v5h-5zM565 820h5v25h-5zM565 850h5v10h-5zM565 870h5v10h-5zM565 910h5v5h-5zM565 1150h5v5h-5zM565 1160h5v5h-5zM570 835h5v10h-5zM570 870h5v10h-5zM570 910h5v5h-5zM570 920h5v5h-5zM570 1010h5v5h-5zM570 1160h5v5h-5zM575 820h5v5h-5zM575 835h5v5h-5zM575 855h5v5h-5zM575 1155h5v5h-5zM580 850h5v5h-5zM580 920h5v5h-5zM580 1030h5v5h-5zM585 935h5v5h-5zM585 945h5v5h-5zM585 1000h5v5h-5zM590 955h5v5h-5zM590 975h5v5h-5zM590 985h5v5h-5zM590 1160h5v5h-5zM600 1150h5v5h-5zM600 1160h5v5h-5zM605 1150h5v5h-5zM605 1160h5v5h-5zM610 955h5v15h-5zM610 975h5v10h-5zM615 925h5v10h-5zM615 955h5v5h-5zM615 1000h5v10h-5zM620 930h5v5h-5zM620 940h5v5h-5zM620 950h5v5h-5zM620 960h5v5h-5zM620 970h5v5h-5zM625 925h5v5h-5zM625 935h5v5h-5zM625 970h5v5h-5zM625 1000h5v5h-5zM625 1025h5v5h-5zM630 935h5v5h-5zM630 1025h5v5h-5zM635 920h5v5h-5zM635 930h5v5h-5zM635 945h5v5h-5zM635 1005h5v5h-5zM635 1020h5v5h-5zM640 930h5v10h-5zM640 945h5v5h-5zM640 960h5v5h-5zM640 1010h5v5h-5zM645 920h5v5h-5zM645 945h5v5h-5zM650 945h5v5h-5zM650 955h5v5h-5zM650 1010h5v5h-5zM650 1020h5v10h-5zM655 930h5v5h-5zM655 945h5v5h-5zM655 955h5v10h-5zM660 925h5v5h-5zM660 935h5v5h-5zM660 960h5v5h-5zM665 925h5v5h-5zM665 940h5v10h-5zM665 960h5v5h-5zM665 970h5v5h-5zM665 1015h5v5h-5zM670 930h5v10h-5zM670 950h5v5h-5zM670 975h5v5h-5zM670 1000h5v5h-5zM670 1020h5v5h-5zM675 995h5v5h-5zM675 1010h5v5h-5zM685 940h5v15h-5zM685 965h5v5h-5zM695 940h5v10h-5zM700 945h5v5h-5zM700 965h5v10h-5zM705 945h5v5h-5zM705 965h5v10h-5zM710 930h5v5h-5zM710 940h5v5h-5zM710 950h5v5h-5zM710 965h5v20h-5zM715 940h5v5h-5zM715 950h5v10h-5zM720 940h5v10h-5zM720 975h5v5h-5zM725 955h5v5h-5zM730 930h5v5h-5zM730 955h5v10h-5zM735 945h5v5h-5zM735 955h5v5h-5zM740 955h5v5h-5zM745 970h5v5h-5zM750 950h5v10h-5zM750 965h5v5h-5zM755 970h5v5h-5zM760 955h5v5h-5zM760 970h5v5h-5zM760 980h5v5h-5zM765 950h5v5h-5zM765 965h5v5h-5zM770 955h5v10h-5zM770 970h5v5h-5zM780 965h5v5h-5zM780 975h5v5h-5zM785 950h5v15h-5zM785 970h5v5h-5zM790 955h5v5h-5zM795 965h5v5h-5zM800 970h5v10h-5zM805 990h5v5h-5zM810 960h5v5h-5zM810 975h5v5h-5zM815 970h5v5h-5zM815 980h5v5h-5zM820 970h5v5h-5zM825 975h5v5h-5zM825 990h5v5h-5zM830 970h5v5h-5zM830 1000h5v5h-5zM835 970h5v10h-5zM840 980h5v5h-5zM845 975h5v5h-5zM845 995h5v5h-5zM855 980h5v10h-5zM855 1000h5v5h-5zM860 990h5v5h-5zM870 990h5v5h-5zM875 990h5v10h-5zM880 1005h5v5h-5zM890 995h5v5h-5zM895 1005h5v5h-5zM900 1000h5v5h-5zM905 1005h5v10h-5zM920 1015h5v5h-5zM930 1015h5v5h-5zM945 1030h5v5h-5zM965 1035h5v5h-5zM970 1040h5v5h-5zM985 1045h5v10h-5zM995 1055h5v5h-5zM1000 1055h5v5h-5zM1005 1060h5v5h-5zM1010 1060h5v5h-5zM1015 1065h5v10h-5zM1020 1070h5v5h-5zM1030 1080h5v5h-5zM1035 1085h5v5h-5zM1040 1090h5v5h-5zM1045 1130h5v5h-5zM1045 1145h5v5h-5zM1055 1160h5v5h-5zM1120 1160h5v5h-5zM1165 1170h5v5h-5zM1220 1245h5v5h-5zM1225 1270h5v5h-5zM1240 1310h5v10h-5zM1245 1315h5v10h-5zM1255 1320h5v5h-5z"/><path fill="#db6e26" d="M190 265h5v5h-5zM195 280h5v5h-5zM200 280h5v5h-5zM215 295h5v5h-5zM220 290h5v10h-5zM225 295h5v5h-5zM225 310h5v5h-5zM230 310h5v5h-5zM235 310h5v5h-5zM255 340h5v5h-5zM260 340h5v10h-5zM265 345h5v5h-5zM270 345h5v5h-5zM290 350h5v5h-5zM295 355h5v5h-5zM300 360h5v5h-5zM305 365h5v5h-5zM310 365h5v10h-5zM315 375h5v5h-5zM445 1025h5v5h-5zM450 1020h5v5h-5zM450 1160h5v5h-5zM455 500h5v10h-5zM455 605h5v5h-5zM460 510h5v5h-5zM465 510h5v5h-5zM470 510h5v5h-5zM490 530h5v5h-5zM510 545h5v5h-5zM515 550h5v5h-5zM525 565h5v5h-5zM545 595h5v5h-5zM550 600h5v5h-5zM570 620h5v5h-5zM575 625h5v5h-5zM580 640h5v5h-5zM585 645h5v5h-5zM590 650h5v5h-5zM615 675h5v5h-5zM620 680h5v5h-5zM625 685h5v5h-5zM630 690h5v5h-5zM645 705h5v5h-5zM650 710h5v10h-5zM670 725h5v5h-5zM680 740h5v5h-5zM685 740h5v5h-5zM685 750h5v5h-5zM695 755h5v5h-5zM720 775h5v5h-5zM725 785h5v5h-5zM730 785h5v10h-5zM740 800h5v5h-5zM745 800h5v5h-5zM755 815h5v5h-5zM760 820h5v5h-5zM775 830h5v5h-5zM780 835h5v5h-5zM795 845h5v5h-5zM805 855h5v5h-5zM810 855h5v10h-5zM815 870h5v5h-5zM825 880h5v5h-5zM870 910h5v5h-5zM900 935h5v5h-5zM915 950h5v5h-5zM920 955h5v5h-5zM935 980h5v5h-5zM980 1010h5v5h-5zM985 1015h5v5h-5zM1230 1225h5v5h-5zM1235 1295h5v5h-5zM1285 1300h5v5h-5zM1290 1300h5v5h-5z"/><path fill="#db7026" d="M190 275h5v5h-5zM195 285h5v5h-5zM200 275h5v5h-5zM200 285h5v5h-5zM205 290h5v5h-5zM210 285h5v5h-5zM215 290h5v5h-5zM220 300h5v5h-5zM220 315h5v5h-5zM225 300h5v10h-5zM225 320h5v5h-5zM230 315h5v5h-5zM235 320h5v5h-5zM245 330h5v5h-5zM280 350h5v10h-5zM285 350h5v10h-5zM295 360h5v5h-5zM320 380h5v5h-5zM330 390h5v5h-5zM390 405h5v5h-5zM450 1155h5v5h-5zM455 600h5v5h-5zM465 515h5v5h-5zM470 515h5v5h-5zM475 515h5v5h-5zM480 520h5v5h-5zM485 525h5v5h-5zM530 570h5v5h-5zM575 635h5v5h-5zM595 655h5v5h-5zM600 660h5v10h-5zM605 665h5v5h-5zM620 690h5v5h-5zM635 695h5v5h-5zM640 705h5v5h-5zM655 715h5v10h-5zM660 720h5v5h-5zM670 730h5v5h-5zM675 735h5v10h-5zM705 770h5v5h-5zM710 770h5v5h-5zM715 775h5v5h-5zM720 780h5v5h-5zM740 795h5v5h-5zM745 805h5v5h-5zM750 810h5v5h-5zM785 840h5v5h-5zM845 890h5v5h-5zM850 895h5v5h-5zM855 895h5v5h-5zM880 925h5v5h-5zM910 945h5v5h-5zM945 985h5v5h-5zM955 990h5v5h-5zM990 1025h5v5h-5zM1060 1095h5v5h-5zM1115 1150h5v5h-5zM1230 1230h5v5h-5zM1245 1300h5v5h-5z"/><path fill="#db6b26" d="M195 260h5v20h-5zM200 265h5v5h-5zM205 270h5v5h-5zM205 280h5v10h-5zM210 280h5v5h-5zM210 290h5v5h-5zM215 285h5v5h-5zM220 305h5v5h-5zM230 305h5v5h-5zM235 315h5v5h-5zM240 325h5v5h-5zM250 335h5v5h-5zM275 345h5v5h-5zM290 355h5v5h-5zM325 380h5v5h-5zM330 385h5v5h-5zM445 1020h5v5h-5zM450 495h5v5h-5zM460 505h5v5h-5zM495 535h5v5h-5zM500 540h5v5h-5zM520 555h5v5h-5zM565 615h5v5h-5zM575 630h5v5h-5zM610 670h5v5h-5zM620 675h5v5h-5zM625 680h5v5h-5zM630 685h5v5h-5zM655 710h5v5h-5zM665 725h5v5h-5zM680 735h5v5h-5zM690 745h5v10h-5zM705 765h5v5h-5zM715 770h5v5h-5zM735 790h5v5h-5zM750 805h5v5h-5zM770 825h5v5h-5zM785 835h5v5h-5zM790 835h5v10h-5zM800 850h5v5h-5zM815 865h5v5h-5zM820 875h5v5h-5zM830 880h5v5h-5zM860 900h5v5h-5zM865 905h5v5h-5zM890 930h5v5h-5zM930 970h5v5h-5zM1055 1145h5v5h-5zM1135 1155h5v5h-5zM1150 1160h5v5h-5zM1240 1300h5v5h-5z"/><path fill="#dca044" d="M195 360h5v5h-5zM220 380h5v5h-5zM240 390h5v5h-5zM245 390h5v5h-5zM250 390h5v10h-5zM275 395h5v5h-5zM310 400h5v5h-5zM315 400h5v5h-5zM340 405h5v5h-5zM345 405h5v5h-5zM390 410h5v5h-5zM440 490h5v5h-5zM440 600h5v5h-5zM440 910h5v5h-5zM445 530h5v10h-5zM445 545h5v5h-5zM445 590h5v5h-5zM445 915h5v5h-5zM445 1005h5v5h-5zM450 585h5v5h-5zM450 625h5v5h-5zM450 885h5v5h-5zM450 1005h5v5h-5zM455 630h5v5h-5zM455 640h5v5h-5zM455 650h5v5h-5zM455 675h5v5h-5zM455 685h5v10h-5zM455 710h5v10h-5zM455 730h5v10h-5zM455 760h5v5h-5zM455 800h5v10h-5zM455 815h5v10h-5zM455 905h5v5h-5zM455 920h5v5h-5zM455 945h5v5h-5zM455 1035h5v5h-5zM460 625h5v5h-5zM460 645h5v5h-5zM460 670h5v5h-5zM460 695h5v10h-5zM460 730h5v5h-5zM460 755h5v10h-5zM460 770h5v5h-5zM460 795h5v5h-5zM460 895h5v5h-5zM460 910h5v5h-5zM465 600h5v5h-5zM465 615h5v5h-5zM470 590h5v15h-5zM475 575h5v15h-5zM480 570h5v5h-5zM480 590h5v5h-5zM500 585h5v5h-5zM505 600h5v5h-5zM510 595h5v5h-5zM510 895h5v10h-5zM515 1015h5v5h-5zM520 625h5v5h-5zM525 605h5v5h-5zM525 620h5v10h-5zM530 625h5v10h-5zM530 890h5v10h-5zM540 640h5v5h-5zM555 660h5v5h-5zM555 680h5v10h-5zM560 680h5v5h-5zM560 695h5v5h-5zM560 705h5v5h-5zM565 695h5v5h-5zM565 705h5v5h-5zM565 890h5v5h-5zM570 705h5v5h-5zM570 730h5v5h-5zM575 715h5v5h-5zM575 725h5v5h-5zM575 735h5v5h-5zM575 750h5v5h-5zM580 715h5v5h-5zM580 745h5v10h-5zM580 760h5v5h-5zM585 750h5v5h-5zM590 745h5v15h-5zM590 1005h5v10h-5zM590 1025h5v5h-5zM595 775h5v5h-5zM595 795h5v5h-5zM595 915h5v5h-5zM600 775h5v10h-5zM600 810h5v5h-5zM600 875h5v5h-5zM605 770h5v20h-5zM605 805h5v10h-5zM605 915h5v5h-5zM605 1005h5v5h-5zM605 1025h5v5h-5zM610 785h5v10h-5zM610 810h5v5h-5zM610 835h5v5h-5zM610 1010h5v5h-5zM615 785h5v20h-5zM615 880h5v5h-5zM620 790h5v10h-5zM620 820h5v5h-5zM620 880h5v5h-5zM625 790h5v10h-5zM625 805h5v15h-5zM625 825h5v5h-5zM625 880h5v5h-5zM630 795h5v10h-5zM630 815h5v5h-5zM635 815h5v5h-5zM640 805h5v5h-5zM640 840h5v5h-5zM645 810h5v5h-5zM645 820h5v5h-5zM645 840h5v5h-5zM645 880h5v5h-5zM650 815h5v10h-5zM650 830h5v10h-5zM650 845h5v5h-5zM655 820h5v10h-5zM655 835h5v5h-5zM655 875h5v10h-5zM655 900h5v5h-5zM660 810h5v5h-5zM660 825h5v5h-5zM660 840h5v10h-5zM665 825h5v5h-5zM665 835h5v10h-5zM665 900h5v10h-5zM670 840h5v5h-5zM670 880h5v5h-5zM670 905h5v5h-5zM675 835h5v5h-5zM675 845h5v15h-5zM680 835h5v10h-5zM680 860h5v10h-5zM680 875h5v5h-5zM685 860h5v5h-5zM690 850h5v5h-5zM690 870h5v5h-5zM690 905h5v5h-5zM695 845h5v5h-5zM695 855h5v10h-5zM695 870h5v10h-5zM700 850h5v5h-5zM700 870h5v5h-5zM700 905h5v5h-5zM705 910h5v5h-5zM710 870h5v5h-5zM715 875h5v5h-5zM720 865h5v10h-5zM720 910h5v5h-5zM725 870h5v5h-5zM725 910h5v5h-5zM730 910h5v5h-5zM735 905h5v10h-5zM740 875h5v5h-5zM740 910h5v5h-5zM745 910h5v10h-5zM750 910h5v5h-5zM755 910h5v5h-5zM760 910h5v5h-5zM765 910h5v5h-5zM770 920h5v5h-5zM780 915h5v5h-5zM790 910h5v10h-5zM795 915h5v5h-5zM800 920h5v5h-5zM805 915h5v10h-5zM810 920h5v5h-5zM815 925h5v5h-5zM820 925h5v5h-5zM820 935h5v5h-5zM825 920h5v10h-5zM825 935h5v5h-5zM830 925h5v5h-5zM835 935h5v5h-5zM835 945h5v5h-5zM840 935h5v5h-5zM845 940h5v5h-5zM850 945h5v5h-5zM855 945h5v5h-5zM865 950h5v5h-5zM870 955h5v5h-5zM875 950h5v10h-5zM875 965h5v5h-5zM885 965h5v5h-5zM895 975h5v5h-5zM910 980h5v5h-5zM920 990h5v5h-5zM925 995h5v10h-5zM935 1000h5v5h-5zM940 1005h5v5h-5zM965 1020h5v5h-5zM970 1030h5v5h-5zM975 1030h5v5h-5zM995 1045h5v5h-5zM1010 1050h5v5h-5zM1035 1070h5v5h-5zM1045 1080h5v5h-5zM1050 1090h5v5h-5zM1050 1150h5v5h-5zM1070 1160h5v5h-5zM1085 1155h5v5h-5zM1110 1155h5v5h-5zM1225 1250h5v5h-5zM1230 1270h5v10h-5zM1240 1305h5v5h-5zM1245 1305h5v5h-5zM1255 1310h5v5h-5zM1260 1310h5v5h-5zM1265 1310h5v5h-5zM1275 1315h5v5h-5z"/><path fill="#dcc37a" d="M195 370h5v5h-5zM205 380h5v5h-5zM325 410h5v5h-5zM430 1015h5v5h-5zM435 510h5v15h-5zM435 550h5v10h-5zM435 570h5v5h-5zM435 580h5v15h-5zM435 620h5v10h-5zM435 680h5v5h-5zM435 705h5v10h-5zM435 730h5v10h-5zM435 750h5v5h-5zM435 765h5v5h-5zM435 780h5v5h-5zM435 800h5v5h-5zM435 815h5v10h-5zM435 865h5v5h-5zM435 925h5v5h-5zM435 935h5v15h-5zM435 980h5v5h-5zM435 990h5v5h-5zM435 1065h5v5h-5zM435 1075h5v5h-5zM435 1085h5v5h-5zM435 1115h5v5h-5zM435 1145h5v5h-5zM465 1140h5v5h-5zM470 1100h5v5h-5zM470 1120h5v5h-5zM470 1135h5v5h-5zM475 1015h5v5h-5zM475 1030h5v5h-5zM475 1055h5v5h-5zM475 1105h5v5h-5zM475 1120h5v10h-5zM480 960h5v15h-5zM480 995h5v10h-5zM480 1015h5v5h-5zM480 1035h5v5h-5zM485 810h5v5h-5zM485 975h5v5h-5zM485 990h5v5h-5zM485 1000h5v10h-5zM490 845h5v5h-5zM490 855h5v5h-5zM490 875h5v5h-5zM490 925h5v5h-5zM490 935h5v10h-5zM490 950h5v5h-5zM490 1025h5v5h-5zM495 780h5v5h-5zM495 870h5v5h-5zM495 930h5v5h-5zM495 950h5v10h-5zM495 965h5v5h-5zM495 985h5v5h-5zM495 1155h5v5h-5zM500 815h5v5h-5zM500 925h5v5h-5zM500 935h5v5h-5zM500 955h5v5h-5zM500 975h5v5h-5zM500 1030h5v10h-5zM500 1155h5v10h-5zM505 765h5v5h-5zM505 965h5v10h-5zM505 1150h5v10h-5zM515 830h5v5h-5zM515 1040h5v10h-5zM520 1045h5v5h-5zM520 1150h5v5h-5zM525 1050h5v5h-5zM530 975h5v5h-5zM530 1040h5v5h-5zM530 1145h5v5h-5zM535 945h5v5h-5zM535 985h5v5h-5zM535 995h5v5h-5zM540 930h5v5h-5zM540 975h5v5h-5zM540 990h5v10h-5zM545 945h5v5h-5zM545 990h5v10h-5zM555 1040h5v5h-5zM560 1045h5v10h-5zM565 1140h5v5h-5zM575 1165h5v5h-5zM580 1165h5v5h-5zM590 1050h5v5h-5zM590 1060h5v5h-5zM595 1045h5v5h-5zM600 1050h5v5h-5zM610 1050h5v5h-5zM610 1165h5v5h-5zM615 1045h5v5h-5zM615 1145h5v5h-5zM620 1045h5v5h-5zM620 1145h5v5h-5zM625 1040h5v5h-5zM630 1045h5v10h-5zM635 1160h5v5h-5zM640 1045h5v5h-5zM645 1045h5v5h-5zM650 1160h5v5h-5zM660 1040h5v5h-5zM670 1040h5v5h-5zM675 1040h5v5h-5zM675 1160h5v5h-5zM680 1040h5v5h-5zM685 1160h5v5h-5zM690 1160h5v5h-5zM695 1040h5v5h-5zM695 1150h5v5h-5zM695 1160h5v5h-5zM700 1150h5v5h-5zM710 1035h5v5h-5zM720 1035h5v5h-5zM725 1025h5v10h-5zM725 1045h5v5h-5zM730 1025h5v5h-5zM730 1035h5v5h-5zM735 1035h5v5h-5zM740 1030h5v5h-5zM760 1025h5v15h-5zM765 1020h5v5h-5zM765 1030h5v5h-5zM770 1035h5v5h-5zM775 1030h5v5h-5zM780 1030h5v10h-5zM785 1030h5v5h-5zM790 1035h5v5h-5zM795 1025h5v10h-5zM800 1030h5v10h-5zM810 1035h5v5h-5zM815 1030h5v5h-5zM820 1025h5v10h-5zM825 1035h5v5h-5zM830 1025h5v5h-5zM830 1035h5v5h-5zM835 1030h5v5h-5zM840 1035h5v5h-5zM845 1030h5v10h-5zM850 1035h5v5h-5zM860 1030h5v15h-5zM865 1035h5v10h-5zM875 1035h5v5h-5zM890 1030h5v15h-5zM895 1040h5v10h-5zM895 1140h5v10h-5zM905 1040h5v5h-5zM905 1135h5v5h-5zM915 1040h5v5h-5zM915 1145h5v5h-5zM925 1045h5v5h-5zM925 1135h5v5h-5zM935 1135h5v10h-5zM950 1135h5v10h-5zM955 1050h5v5h-5zM955 1060h5v5h-5zM955 1130h5v5h-5zM960 1055h5v10h-5zM965 1060h5v5h-5zM965 1130h5v5h-5zM965 1145h5v5h-5zM970 1060h5v5h-5zM975 1060h5v5h-5zM975 1135h5v5h-5zM975 1145h5v5h-5zM980 1125h5v10h-5zM985 1130h5v15h-5zM985 1150h5v5h-5zM990 1070h5v5h-5zM990 1120h5v5h-5zM990 1135h5v5h-5zM995 1125h5v20h-5zM1000 1080h5v5h-5zM1000 1125h5v5h-5zM1000 1135h5v15h-5zM1005 1080h5v5h-5zM1005 1125h5v5h-5zM1010 1085h5v5h-5zM1010 1140h5v5h-5zM1015 1090h5v5h-5zM1015 1115h5v5h-5zM1015 1140h5v10h-5zM1020 1085h5v5h-5zM1020 1120h5v10h-5zM1025 1110h5v10h-5zM1025 1145h5v5h-5zM1030 1095h5v5h-5zM1030 1150h5v5h-5zM1035 1155h5v5h-5zM1040 1155h5v5h-5zM1045 1160h5v5h-5zM1080 1165h5v5h-5zM1120 1165h5v5h-5zM1130 1170h5v5h-5zM1135 1170h5v5h-5zM1180 1180h5v5h-5zM1210 1220h5v5h-5zM1215 1235h5v10h-5zM1220 1275h5v5h-5zM1235 1325h5v5h-5zM1245 1325h5v5h-5z"/><path fill="#da6026" d="M200 255h5v10h-5zM205 260h5v5h-5zM210 275h5v5h-5zM215 265h5v5h-5zM225 275h5v10h-5zM230 285h5v5h-5zM235 290h5v5h-5zM240 310h5v5h-5zM255 330h5v5h-5zM270 335h5v5h-5zM275 335h5v5h-5zM300 350h5v5h-5zM315 360h5v5h-5zM445 485h5v5h-5zM460 500h5v5h-5zM465 505h5v5h-5zM505 540h5v5h-5zM535 570h5v5h-5zM570 610h5v10h-5zM580 625h5v5h-5zM610 660h5v5h-5zM630 680h5v5h-5zM640 690h5v5h-5zM675 725h5v5h-5zM680 725h5v5h-5zM690 740h5v5h-5zM720 765h5v5h-5zM725 770h5v5h-5zM735 780h5v5h-5zM745 790h5v5h-5zM790 830h5v5h-5zM800 840h5v5h-5zM805 845h5v5h-5zM840 880h5v5h-5zM875 910h5v5h-5zM880 920h5v5h-5zM885 925h5v5h-5zM905 935h5v5h-5zM920 950h5v5h-5zM1040 1060h5v5h-5zM1065 1130h5v5h-5zM1085 1145h5v5h-5z"/><path fill="#da6626" d="M200 270h5v5h-5zM210 265h5v5h-5zM215 270h5v10h-5zM225 290h5v5h-5zM230 290h5v15h-5zM235 300h5v10h-5zM260 335h5v5h-5zM275 340h5v5h-5zM280 345h5v5h-5zM300 355h5v5h-5zM320 365h5v5h-5zM325 375h5v5h-5zM335 390h5v5h-5zM395 405h5v5h-5zM445 1160h5v5h-5zM530 565h5v5h-5zM560 605h5v5h-5zM565 610h5v5h-5zM595 650h5v5h-5zM640 695h5v5h-5zM645 700h5v5h-5zM650 705h5v5h-5zM695 750h5v5h-5zM710 765h5v5h-5zM720 770h5v5h-5zM725 775h5v5h-5zM735 785h5v5h-5zM760 815h5v5h-5zM770 820h5v5h-5zM780 830h5v5h-5zM785 830h5v5h-5zM835 880h5v5h-5zM850 890h5v5h-5zM860 895h5v5h-5zM865 900h5v5h-5zM870 905h5v5h-5zM895 930h5v5h-5zM915 945h5v5h-5zM935 975h5v5h-5zM940 980h5v5h-5zM950 985h5v5h-5zM1030 1050h5v5h-5zM1035 1055h5v5h-5zM1050 1070h5v5h-5zM1090 1145h5v5h-5zM1120 1150h5v5h-5z"/><path fill="#dca247" d="M200 365h5v5h-5zM225 385h5v5h-5zM255 395h5v5h-5zM305 400h5v5h-5zM420 415h5v5h-5zM435 435h5v5h-5zM435 890h5v5h-5zM435 1160h5v5h-5zM440 885h5v5h-5zM440 1035h5v5h-5zM445 555h5v5h-5zM445 880h5v5h-5zM450 620h5v5h-5zM450 630h5v10h-5zM450 650h5v5h-5zM450 675h5v5h-5zM450 695h5v5h-5zM450 750h5v10h-5zM450 780h5v10h-5zM450 800h5v5h-5zM450 880h5v5h-5zM450 975h5v5h-5zM450 1145h5v5h-5zM455 655h5v10h-5zM455 680h5v5h-5zM455 695h5v5h-5zM455 705h5v5h-5zM455 720h5v10h-5zM455 740h5v5h-5zM455 750h5v10h-5zM455 770h5v20h-5zM455 810h5v5h-5zM455 830h5v10h-5zM455 850h5v15h-5zM455 880h5v10h-5zM455 910h5v5h-5zM455 985h5v5h-5zM460 630h5v5h-5zM460 675h5v15h-5zM460 715h5v15h-5zM460 735h5v5h-5zM460 750h5v5h-5zM460 765h5v5h-5zM460 780h5v5h-5zM460 820h5v5h-5zM460 905h5v5h-5zM460 915h5v5h-5zM460 930h5v5h-5zM460 1030h5v5h-5zM465 620h5v15h-5zM465 640h5v10h-5zM465 665h5v5h-5zM465 685h5v5h-5zM470 610h5v10h-5zM475 590h5v5h-5zM480 565h5v5h-5zM485 570h5v15h-5zM490 570h5v5h-5zM490 580h5v5h-5zM495 580h5v10h-5zM500 590h5v5h-5zM505 590h5v10h-5zM510 600h5v5h-5zM510 890h5v5h-5zM510 1015h5v5h-5zM515 885h5v5h-5zM515 905h5v5h-5zM515 1020h5v5h-5zM520 615h5v10h-5zM520 885h5v5h-5zM520 1015h5v10h-5zM530 640h5v5h-5zM535 630h5v15h-5zM535 890h5v10h-5zM540 645h5v5h-5zM540 890h5v5h-5zM545 650h5v10h-5zM545 665h5v5h-5zM550 665h5v20h-5zM555 690h5v5h-5zM555 1155h5v5h-5zM560 700h5v5h-5zM560 710h5v20h-5zM560 735h5v5h-5zM560 890h5v5h-5zM565 710h5v5h-5zM565 720h5v5h-5zM565 735h5v5h-5zM565 750h5v5h-5zM570 715h5v5h-5zM570 725h5v5h-5zM570 735h5v5h-5zM570 745h5v5h-5zM575 755h5v5h-5zM575 770h5v5h-5zM575 885h5v5h-5zM575 905h5v5h-5zM580 775h5v5h-5zM580 1020h5v5h-5zM585 745h5v5h-5zM585 755h5v10h-5zM585 775h5v5h-5zM585 880h5v5h-5zM585 910h5v5h-5zM590 770h5v15h-5zM590 800h5v5h-5zM590 915h5v5h-5zM595 765h5v5h-5zM595 785h5v10h-5zM595 920h5v5h-5zM600 785h5v5h-5zM600 795h5v5h-5zM600 870h5v5h-5zM600 915h5v5h-5zM605 795h5v10h-5zM605 870h5v5h-5zM605 925h5v5h-5zM610 795h5v10h-5zM610 875h5v5h-5zM615 810h5v10h-5zM615 830h5v5h-5zM615 875h5v5h-5zM615 1015h5v10h-5zM620 785h5v5h-5zM620 815h5v5h-5zM620 905h5v5h-5zM630 825h5v10h-5zM630 850h5v5h-5zM630 880h5v5h-5zM630 905h5v5h-5zM635 810h5v5h-5zM635 820h5v15h-5zM635 880h5v5h-5zM640 815h5v10h-5zM640 835h5v5h-5zM640 905h5v5h-5zM645 805h5v5h-5zM645 835h5v5h-5zM650 825h5v5h-5zM650 850h5v10h-5zM650 885h5v5h-5zM650 905h5v5h-5zM655 840h5v5h-5zM655 905h5v5h-5zM660 865h5v10h-5zM665 845h5v5h-5zM665 870h5v10h-5zM670 850h5v5h-5zM670 860h5v20h-5zM680 845h5v5h-5zM680 855h5v5h-5zM680 905h5v5h-5zM690 855h5v5h-5zM695 905h5v5h-5zM700 865h5v5h-5zM705 860h5v5h-5zM705 870h5v5h-5zM750 915h5v5h-5zM765 915h5v5h-5zM770 915h5v5h-5zM775 915h5v5h-5zM785 915h5v10h-5zM790 920h5v5h-5zM795 935h5v5h-5zM800 935h5v5h-5zM805 925h5v15h-5zM810 925h5v5h-5zM820 930h5v5h-5zM820 945h5v5h-5zM825 945h5v5h-5zM835 930h5v5h-5zM835 940h5v5h-5zM840 940h5v10h-5zM840 955h5v5h-5zM845 945h5v5h-5zM865 955h5v5h-5zM870 960h5v5h-5zM875 960h5v5h-5zM880 960h5v15h-5zM885 970h5v5h-5zM890 970h5v5h-5zM900 975h5v10h-5zM905 985h5v5h-5zM915 990h5v5h-5zM920 995h5v5h-5zM935 1005h5v5h-5zM940 1010h5v5h-5zM950 1015h5v10h-5zM955 1020h5v5h-5zM960 1020h5v5h-5zM980 1035h5v5h-5zM1005 1050h5v5h-5zM1010 1055h5v5h-5zM1020 1060h5v5h-5zM1045 1085h5v5h-5zM1055 1110h5v5h-5zM1055 1120h5v5h-5zM1130 1160h5v5h-5zM1150 1165h5v5h-5zM1215 1210h5v10h-5zM1220 1230h5v10h-5zM1230 1290h5v5h-5zM1250 1305h5v5h-5z"/><path fill="#dcb865" d="M200 370h5v5h-5zM215 385h5v5h-5zM265 405h5v5h-5zM365 410h5v5h-5zM425 420h5v5h-5zM435 455h5v10h-5zM435 475h5v20h-5zM440 630h5v5h-5zM440 640h5v5h-5zM440 650h5v25h-5zM440 705h5v5h-5zM440 750h5v5h-5zM440 760h5v10h-5zM440 795h5v5h-5zM440 990h5v5h-5zM440 1060h5v10h-5zM440 1095h5v20h-5zM440 1125h5v5h-5zM465 1060h5v5h-5zM465 1070h5v5h-5zM465 1095h5v5h-5zM465 1110h5v10h-5zM465 1125h5v5h-5zM470 920h5v5h-5zM470 935h5v15h-5zM470 980h5v5h-5zM470 1005h5v15h-5zM470 1040h5v5h-5zM475 730h5v10h-5zM475 770h5v5h-5zM475 780h5v5h-5zM475 790h5v5h-5zM475 800h5v5h-5zM475 810h5v5h-5zM475 840h5v5h-5zM475 910h5v5h-5zM475 920h5v10h-5zM475 940h5v5h-5zM480 665h5v5h-5zM480 680h5v5h-5zM480 695h5v20h-5zM480 745h5v5h-5zM480 755h5v5h-5zM480 765h5v5h-5zM485 675h5v5h-5zM485 710h5v5h-5zM490 665h5v5h-5zM490 680h5v5h-5zM490 700h5v5h-5zM490 745h5v5h-5zM495 670h5v5h-5zM495 680h5v5h-5zM495 710h5v5h-5zM495 720h5v10h-5zM495 890h5v5h-5zM500 670h5v10h-5zM500 705h5v5h-5zM500 730h5v5h-5zM500 915h5v5h-5zM505 690h5v5h-5zM505 700h5v5h-5zM505 875h5v5h-5zM505 915h5v10h-5zM505 1000h5v10h-5zM510 670h5v5h-5zM510 680h5v5h-5zM510 920h5v5h-5zM515 700h5v5h-5zM515 710h5v15h-5zM515 730h5v5h-5zM515 755h5v5h-5zM515 870h5v5h-5zM515 935h5v5h-5zM515 945h5v5h-5zM515 955h5v5h-5zM515 990h5v5h-5zM520 695h5v5h-5zM520 710h5v5h-5zM520 725h5v5h-5zM520 735h5v5h-5zM520 750h5v10h-5zM520 810h5v5h-5zM520 945h5v5h-5zM520 960h5v5h-5zM520 975h5v10h-5zM525 710h5v5h-5zM525 730h5v5h-5zM525 740h5v5h-5zM525 755h5v10h-5zM525 870h5v5h-5zM525 925h5v5h-5zM525 935h5v5h-5zM525 995h5v5h-5zM525 1030h5v5h-5zM530 740h5v5h-5zM530 750h5v35h-5zM530 815h5v5h-5zM530 915h5v5h-5zM530 1155h5v5h-5zM535 755h5v5h-5zM535 780h5v5h-5zM535 790h5v5h-5zM535 825h5v5h-5zM535 840h5v5h-5zM535 870h5v10h-5zM535 1025h5v5h-5zM540 795h5v5h-5zM540 840h5v5h-5zM540 915h5v5h-5zM540 1005h5v5h-5zM540 1025h5v5h-5zM540 1160h5v5h-5zM545 745h5v5h-5zM545 800h5v5h-5zM545 810h5v5h-5zM545 825h5v5h-5zM545 835h5v5h-5zM545 845h5v5h-5zM545 870h5v5h-5zM545 910h5v5h-5zM550 815h5v5h-5zM550 825h5v5h-5zM550 850h5v10h-5zM550 1025h5v5h-5zM550 1165h5v5h-5zM555 875h5v5h-5zM555 915h5v5h-5zM555 930h5v5h-5zM555 940h5v5h-5zM555 1010h5v5h-5zM555 1025h5v5h-5zM560 860h5v5h-5zM560 930h5v5h-5zM560 940h5v5h-5zM560 1005h5v5h-5zM560 1025h5v5h-5zM560 1145h5v5h-5zM565 920h5v5h-5zM565 930h5v5h-5zM565 955h5v5h-5zM565 970h5v5h-5zM565 1000h5v5h-5zM565 1025h5v5h-5zM570 925h5v5h-5zM570 955h5v10h-5zM570 995h5v5h-5zM575 970h5v10h-5zM575 995h5v5h-5zM575 1150h5v5h-5zM575 1160h5v5h-5zM580 945h5v5h-5zM605 1035h5v5h-5zM610 1150h5v5h-5zM615 975h5v5h-5zM615 985h5v5h-5zM615 1035h5v5h-5zM615 1155h5v5h-5zM620 975h5v5h-5zM625 975h5v5h-5zM625 985h5v5h-5zM630 960h5v5h-5zM630 990h5v5h-5zM630 1030h5v5h-5zM630 1150h5v5h-5zM640 975h5v5h-5zM640 1025h5v10h-5zM645 960h5v5h-5zM645 980h5v20h-5zM650 980h5v5h-5zM650 990h5v15h-5zM655 995h5v5h-5zM655 1005h5v5h-5zM660 980h5v5h-5zM660 1025h5v10h-5zM665 980h5v15h-5zM670 980h5v5h-5zM675 975h5v10h-5zM675 1000h5v5h-5zM680 1005h5v5h-5zM685 990h5v10h-5zM685 1005h5v5h-5zM685 1025h5v5h-5zM690 995h5v10h-5zM690 1015h5v10h-5zM695 980h5v5h-5zM695 990h5v10h-5zM695 1005h5v10h-5zM695 1020h5v5h-5zM700 1000h5v10h-5zM705 975h5v5h-5zM705 990h5v5h-5zM705 1000h5v5h-5zM705 1010h5v10h-5zM710 990h5v15h-5zM710 1010h5v5h-5zM720 980h5v5h-5zM720 990h5v5h-5zM720 1000h5v5h-5zM720 1010h5v5h-5zM725 975h5v5h-5zM725 985h5v15h-5zM730 985h5v10h-5zM735 990h5v5h-5zM735 1000h5v5h-5zM740 970h5v5h-5zM740 980h5v5h-5zM740 995h5v5h-5zM740 1010h5v5h-5zM745 1000h5v5h-5zM750 980h5v10h-5zM750 1010h5v5h-5zM755 1005h5v5h-5zM760 1005h5v5h-5zM765 990h5v5h-5zM770 975h5v5h-5zM775 985h5v10h-5zM780 990h5v5h-5zM780 1000h5v15h-5zM785 985h5v10h-5zM785 1000h5v10h-5zM790 995h5v15h-5zM795 1000h5v5h-5zM800 1005h5v5h-5zM805 1000h5v5h-5zM805 1010h5v5h-5zM810 985h5v5h-5zM810 1000h5v10h-5zM815 985h5v5h-5zM815 1000h5v5h-5zM815 1010h5v5h-5zM820 995h5v15h-5zM825 1000h5v10h-5zM830 985h5v5h-5zM830 995h5v5h-5zM835 995h5v10h-5zM835 1020h5v5h-5zM840 1000h5v5h-5zM855 1010h5v10h-5zM870 1010h5v10h-5zM875 1010h5v10h-5zM885 1020h5v5h-5zM890 1010h5v10h-5zM890 1025h5v5h-5zM900 1010h5v5h-5zM910 1020h5v5h-5zM915 1025h5v5h-5zM920 1025h5v5h-5zM930 1030h5v5h-5zM935 1035h5v5h-5zM940 1035h5v5h-5zM945 1035h5v5h-5zM960 1045h5v5h-5zM990 1055h5v5h-5zM1000 1060h5v5h-5zM1005 1065h5v5h-5zM1010 1065h5v5h-5zM1025 1080h5v5h-5zM1030 1085h5v5h-5zM1035 1095h5v5h-5zM1035 1135h5v10h-5zM1040 1095h5v5h-5zM1040 1125h5v5h-5zM1040 1135h5v5h-5zM1040 1145h5v5h-5zM1105 1160h5v5h-5zM1110 1160h5v5h-5zM1125 1165h5v5h-5zM1150 1170h5v5h-5zM1210 1205h5v5h-5zM1220 1255h5v10h-5zM1225 1285h5v10h-5zM1230 1310h5v5h-5zM1235 1320h5v5h-5zM1240 1320h5v5h-5z"/><path fill="#dcc076" d="M200 375h5v5h-5zM250 405h5v5h-5zM335 410h5v5h-5zM340 410h5v5h-5zM415 420h5v5h-5zM430 435h5v5h-5zM430 910h5v5h-5zM430 1025h5v5h-5zM435 525h5v5h-5zM435 535h5v15h-5zM435 605h5v5h-5zM435 785h5v5h-5zM435 795h5v5h-5zM435 810h5v5h-5zM435 830h5v10h-5zM435 855h5v10h-5zM435 875h5v5h-5zM435 930h5v5h-5zM435 950h5v5h-5zM435 995h5v5h-5zM435 1060h5v5h-5zM435 1105h5v5h-5zM460 1165h5v5h-5zM465 1145h5v15h-5zM470 1110h5v10h-5zM470 1125h5v5h-5zM475 975h5v5h-5zM475 990h5v20h-5zM475 1035h5v5h-5zM475 1045h5v5h-5zM480 855h5v5h-5zM480 865h5v5h-5zM480 935h5v20h-5zM480 975h5v5h-5zM480 1010h5v5h-5zM485 815h5v10h-5zM485 855h5v5h-5zM485 900h5v10h-5zM485 920h5v5h-5zM485 940h5v10h-5zM490 765h5v5h-5zM490 795h5v5h-5zM490 810h5v15h-5zM490 860h5v5h-5zM490 920h5v5h-5zM490 960h5v5h-5zM490 1005h5v10h-5zM495 790h5v5h-5zM495 815h5v10h-5zM495 840h5v10h-5zM495 855h5v5h-5zM495 865h5v5h-5zM495 915h5v10h-5zM495 940h5v5h-5zM495 1005h5v5h-5zM495 1025h5v10h-5zM500 825h5v5h-5zM500 835h5v10h-5zM500 855h5v5h-5zM500 920h5v5h-5zM500 930h5v5h-5zM500 940h5v10h-5zM500 960h5v5h-5zM500 995h5v5h-5zM505 790h5v5h-5zM505 815h5v15h-5zM505 840h5v5h-5zM505 850h5v5h-5zM505 935h5v5h-5zM505 945h5v10h-5zM505 980h5v5h-5zM510 760h5v5h-5zM510 815h5v10h-5zM510 1160h5v5h-5zM515 775h5v5h-5zM515 810h5v5h-5zM515 1150h5v5h-5zM520 825h5v5h-5zM520 970h5v5h-5zM520 1040h5v5h-5zM520 1155h5v5h-5zM525 815h5v5h-5zM525 855h5v5h-5zM525 1040h5v5h-5zM525 1160h5v5h-5zM530 835h5v5h-5zM530 965h5v10h-5zM530 985h5v5h-5zM535 855h5v5h-5zM535 940h5v5h-5zM535 960h5v25h-5zM535 990h5v5h-5zM540 940h5v5h-5zM540 950h5v15h-5zM540 1145h5v5h-5zM545 930h5v5h-5zM545 940h5v5h-5zM545 955h5v5h-5zM545 965h5v10h-5zM545 980h5v5h-5zM550 975h5v10h-5zM550 1035h5v5h-5zM555 1140h5v5h-5zM565 1035h5v5h-5zM570 1040h5v5h-5zM570 1165h5v5h-5zM575 1035h5v10h-5zM585 1045h5v5h-5zM590 1040h5v10h-5zM600 1045h5v5h-5zM605 1045h5v5h-5zM605 1165h5v5h-5zM610 1045h5v5h-5zM615 1040h5v5h-5zM625 1160h5v5h-5zM635 1040h5v5h-5zM640 1040h5v5h-5zM645 1040h5v5h-5zM645 1160h5v5h-5zM650 1040h5v5h-5zM655 1160h5v5h-5zM660 1160h5v5h-5zM665 1040h5v5h-5zM665 1160h5v5h-5zM670 1035h5v5h-5zM670 1160h5v5h-5zM675 1035h5v5h-5zM680 1030h5v5h-5zM680 1160h5v5h-5zM685 1150h5v5h-5zM700 1035h5v5h-5zM705 1025h5v5h-5zM705 1035h5v5h-5zM705 1155h5v5h-5zM710 1030h5v5h-5zM710 1040h5v5h-5zM715 1025h5v15h-5zM730 1030h5v5h-5zM735 1025h5v5h-5zM740 1020h5v10h-5zM740 1035h5v5h-5zM745 1035h5v5h-5zM755 1025h5v5h-5zM755 1035h5v5h-5zM765 1040h5v5h-5zM770 1020h5v5h-5zM770 1030h5v5h-5zM780 1025h5v5h-5zM785 1020h5v5h-5zM790 1025h5v5h-5zM805 1030h5v10h-5zM810 1030h5v5h-5zM815 1025h5v5h-5zM820 1020h5v5h-5zM825 1025h5v5h-5zM830 1020h5v5h-5zM830 1030h5v5h-5zM840 1025h5v10h-5zM850 1040h5v5h-5zM855 1030h5v5h-5zM860 1025h5v5h-5zM865 1030h5v5h-5zM870 1025h5v10h-5zM875 1030h5v5h-5zM880 1040h5v5h-5zM885 1030h5v10h-5zM895 1035h5v5h-5zM915 1045h5v5h-5zM920 1045h5v5h-5zM935 1045h5v10h-5zM945 1045h5v5h-5zM945 1140h5v5h-5zM950 1050h5v5h-5zM955 1055h5v5h-5zM960 1130h5v5h-5zM965 1050h5v5h-5zM970 1055h5v5h-5zM975 1055h5v5h-5zM980 1135h5v5h-5zM985 1065h5v5h-5zM990 1065h5v5h-5zM990 1130h5v5h-5zM990 1145h5v5h-5zM995 1065h5v5h-5zM995 1075h5v5h-5zM1000 1075h5v5h-5zM1005 1135h5v10h-5zM1010 1070h5v5h-5zM1010 1080h5v5h-5zM1010 1130h5v10h-5zM1015 1085h5v5h-5zM1015 1125h5v5h-5zM1015 1135h5v5h-5zM1020 1090h5v5h-5zM1020 1130h5v10h-5zM1020 1145h5v5h-5zM1025 1100h5v10h-5zM1025 1120h5v5h-5zM1025 1140h5v5h-5zM1030 1090h5v5h-5zM1030 1100h5v10h-5zM1030 1120h5v5h-5zM1030 1145h5v5h-5zM1035 1125h5v5h-5zM1035 1150h5v5h-5zM1060 1165h5v5h-5zM1090 1160h5v5h-5zM1205 1200h5v5h-5zM1220 1280h5v5h-5zM1220 1290h5v5h-5zM1225 1310h5v5h-5zM1230 1320h5v5h-5zM1240 1325h5v5h-5z"/><path fill="#da5d26" d="M205 250h5v10h-5zM210 260h5v5h-5zM220 265h5v5h-5zM220 275h5v5h-5zM240 300h5v10h-5zM245 315h5v10h-5zM250 325h5v5h-5zM260 330h5v5h-5zM285 340h5v5h-5zM305 350h5v5h-5zM325 370h5v5h-5zM350 395h5v5h-5zM375 400h5v5h-5zM450 605h5v5h-5zM520 550h5v5h-5zM525 555h5v5h-5zM540 580h5v10h-5zM585 630h5v5h-5zM590 635h5v5h-5zM595 645h5v5h-5zM610 655h5v5h-5zM615 660h5v5h-5zM620 665h5v5h-5zM645 690h5v5h-5zM660 705h5v5h-5zM670 715h5v5h-5zM690 735h5v5h-5zM710 760h5v5h-5zM730 775h5v5h-5zM750 795h5v5h-5zM850 885h5v5h-5zM855 890h5v5h-5zM925 955h5v5h-5zM930 965h5v5h-5zM935 970h5v5h-5zM945 980h5v5h-5zM970 995h5v5h-5zM980 1005h5v5h-5zM985 1010h5v5h-5zM995 1025h5v5h-5zM1010 1035h5v5h-5zM1025 1045h5v5h-5zM1055 1075h5v5h-5zM1060 1140h5v5h-5zM1065 1135h5v5h-5zM1100 1145h5v5h-5zM1105 1145h5v5h-5z"/><path fill="#db6826" d="M205 265h5v5h-5zM205 275h5v5h-5zM215 280h5v5h-5zM220 280h5v10h-5zM240 320h5v5h-5zM265 340h5v5h-5zM270 340h5v5h-5zM285 345h5v5h-5zM295 350h5v5h-5zM305 360h5v5h-5zM315 365h5v10h-5zM320 375h5v5h-5zM340 395h5v5h-5zM345 395h5v5h-5zM365 400h5v5h-5zM445 1155h5v5h-5zM475 510h5v5h-5zM480 515h5v5h-5zM485 520h5v5h-5zM525 560h5v5h-5zM535 575h5v5h-5zM540 590h5v5h-5zM580 630h5v10h-5zM585 635h5v10h-5zM590 645h5v5h-5zM600 655h5v5h-5zM605 660h5v5h-5zM610 665h5v5h-5zM615 670h5v5h-5zM635 690h5v5h-5zM660 715h5v5h-5zM665 715h5v5h-5zM675 730h5v5h-5zM685 735h5v5h-5zM685 745h5v5h-5zM700 760h5v5h-5zM725 780h5v5h-5zM745 795h5v5h-5zM755 810h5v5h-5zM765 820h5v5h-5zM775 825h5v5h-5zM795 840h5v5h-5zM800 845h5v5h-5zM805 850h5v5h-5zM815 860h5v5h-5zM845 885h5v5h-5zM875 915h5v5h-5zM905 940h5v5h-5zM910 940h5v5h-5zM925 960h5v5h-5zM965 995h5v5h-5zM990 1020h5v5h-5zM1005 1035h5v5h-5zM1015 1040h5v5h-5zM1045 1065h5v5h-5zM1065 1110h5v15h-5zM1075 1150h5v5h-5zM1095 1145h5v5h-5zM1235 1245h5v5h-5z"/><path fill="#dca44b" d="M205 370h5v5h-5zM210 375h5v5h-5zM285 400h5v5h-5zM385 410h5v5h-5zM435 1015h5v10h-5zM440 1005h5v5h-5zM445 550h5v5h-5zM445 560h5v10h-5zM445 575h5v15h-5zM445 720h5v5h-5zM445 920h5v5h-5zM445 1145h5v5h-5zM450 640h5v10h-5zM450 655h5v10h-5zM450 670h5v5h-5zM450 680h5v5h-5zM450 690h5v5h-5zM450 710h5v15h-5zM450 735h5v10h-5zM450 760h5v10h-5zM450 775h5v5h-5zM450 805h5v5h-5zM450 820h5v10h-5zM450 855h5v5h-5zM450 870h5v5h-5zM450 915h5v10h-5zM450 960h5v5h-5zM450 1040h5v5h-5zM455 645h5v5h-5zM455 700h5v5h-5zM455 745h5v5h-5zM455 765h5v5h-5zM455 790h5v5h-5zM455 825h5v5h-5zM455 840h5v10h-5zM455 865h5v5h-5zM455 875h5v5h-5zM455 925h5v5h-5zM455 935h5v10h-5zM455 950h5v5h-5zM455 960h5v10h-5zM455 1005h5v5h-5zM460 705h5v10h-5zM460 740h5v10h-5zM460 775h5v5h-5zM460 790h5v5h-5zM460 805h5v15h-5zM460 845h5v5h-5zM460 920h5v5h-5zM465 635h5v5h-5zM465 650h5v5h-5zM465 690h5v5h-5zM465 700h5v5h-5zM470 620h5v5h-5zM470 630h5v5h-5zM470 640h5v5h-5zM480 575h5v10h-5zM480 600h5v5h-5zM485 585h5v10h-5zM495 590h5v5h-5zM500 605h5v5h-5zM505 605h5v10h-5zM510 605h5v5h-5zM510 620h5v5h-5zM510 885h5v5h-5zM515 610h5v10h-5zM520 905h5v5h-5zM530 635h5v5h-5zM530 645h5v5h-5zM530 885h5v5h-5zM535 900h5v5h-5zM540 650h5v10h-5zM540 665h5v10h-5zM540 895h5v5h-5zM545 670h5v5h-5zM545 685h5v5h-5zM545 695h5v5h-5zM545 890h5v10h-5zM550 700h5v5h-5zM550 890h5v10h-5zM555 695h5v5h-5zM555 720h5v5h-5zM555 890h5v5h-5zM560 895h5v5h-5zM565 715h5v5h-5zM565 725h5v5h-5zM565 740h5v10h-5zM565 885h5v5h-5zM565 895h5v5h-5zM570 755h5v15h-5zM570 885h5v5h-5zM570 900h5v5h-5zM575 765h5v5h-5zM575 775h5v5h-5zM575 880h5v5h-5zM580 765h5v5h-5zM580 790h5v10h-5zM580 880h5v5h-5zM580 1015h5v5h-5zM585 770h5v5h-5zM585 785h5v15h-5zM585 810h5v5h-5zM585 875h5v5h-5zM585 1025h5v5h-5zM590 790h5v10h-5zM590 805h5v5h-5zM590 820h5v5h-5zM590 855h5v5h-5zM590 920h5v5h-5zM595 780h5v5h-5zM595 800h5v15h-5zM595 830h5v5h-5zM595 865h5v10h-5zM595 955h5v5h-5zM595 1000h5v5h-5zM600 800h5v5h-5zM600 820h5v5h-5zM600 920h5v5h-5zM600 930h5v5h-5zM600 1000h5v5h-5zM610 805h5v5h-5zM610 820h5v5h-5zM610 830h5v5h-5zM610 845h5v5h-5zM610 865h5v10h-5zM610 915h5v5h-5zM615 805h5v5h-5zM615 820h5v10h-5zM615 835h5v10h-5zM615 850h5v5h-5zM615 865h5v10h-5zM615 910h5v5h-5zM620 830h5v5h-5zM620 1015h5v5h-5zM625 875h5v5h-5zM630 805h5v5h-5zM630 820h5v5h-5zM630 835h5v5h-5zM630 875h5v5h-5zM630 910h5v5h-5zM635 840h5v15h-5zM635 865h5v5h-5zM635 905h5v5h-5zM640 825h5v10h-5zM640 845h5v15h-5zM640 870h5v15h-5zM645 825h5v10h-5zM645 845h5v15h-5zM645 870h5v5h-5zM645 905h5v5h-5zM650 840h5v5h-5zM650 870h5v5h-5zM655 845h5v10h-5zM655 865h5v10h-5zM660 855h5v10h-5zM660 905h5v5h-5zM665 850h5v5h-5zM665 860h5v10h-5zM665 910h5v5h-5zM670 855h5v5h-5zM675 860h5v10h-5zM675 875h5v5h-5zM675 905h5v5h-5zM680 870h5v5h-5zM680 910h5v5h-5zM685 910h5v5h-5zM690 865h5v5h-5zM695 865h5v5h-5zM695 910h5v5h-5zM700 910h5v5h-5zM715 910h5v5h-5zM725 925h5v5h-5zM735 915h5v5h-5zM760 915h5v5h-5zM765 925h5v5h-5zM775 920h5v5h-5zM780 920h5v5h-5zM785 925h5v10h-5zM785 940h5v5h-5zM810 935h5v10h-5zM815 930h5v10h-5zM825 930h5v5h-5zM825 940h5v5h-5zM825 950h5v5h-5zM830 940h5v5h-5zM830 950h5v5h-5zM845 960h5v5h-5zM850 950h5v5h-5zM855 950h5v5h-5zM860 955h5v10h-5zM865 960h5v5h-5zM865 970h5v5h-5zM875 970h5v5h-5zM885 975h5v5h-5zM895 980h5v5h-5zM900 985h5v5h-5zM910 985h5v10h-5zM915 995h5v5h-5zM935 1010h5v5h-5zM940 1015h5v5h-5zM945 1010h5v5h-5zM965 1025h5v5h-5zM985 1040h5v5h-5zM1000 1045h5v5h-5zM1025 1065h5v5h-5zM1035 1075h5v5h-5zM1040 1075h5v10h-5zM1050 1140h5v5h-5zM1055 1115h5v5h-5zM1105 1155h5v5h-5zM1145 1165h5v5h-5zM1225 1255h5v5h-5zM1230 1280h5v5h-5zM1230 1295h5v5h-5zM1265 1315h5v5h-5z"/><path fill="#d75023" d="M210 245h5v5h-5zM215 250h5v5h-5zM225 265h5v5h-5zM285 335h5v5h-5zM320 360h5v5h-5zM340 390h5v5h-5zM445 470h5v10h-5zM455 495h5v5h-5zM480 505h5v5h-5zM525 550h5v5h-5zM535 565h5v5h-5zM570 605h5v5h-5zM575 610h5v5h-5zM580 615h5v5h-5zM595 635h5v5h-5zM600 645h5v5h-5zM605 650h5v5h-5zM615 655h5v5h-5zM625 665h5v5h-5zM635 675h5v5h-5zM685 725h5v5h-5zM700 745h5v5h-5zM740 780h5v5h-5zM745 780h5v10h-5zM805 840h5v5h-5zM820 860h5v5h-5zM885 920h5v5h-5zM910 935h5v5h-5zM990 1015h5v5h-5zM995 1020h5v5h-5zM1005 1030h5v5h-5zM1055 1150h5v5h-5zM1065 1100h5v5h-5zM1070 1120h5v5h-5zM1090 1140h5v5h-5zM1235 1230h5v5h-5zM1240 1270h5v5h-5zM1250 1295h5v5h-5z"/><path fill="#d85324" d="M210 250h5v5h-5zM220 260h5v5h-5zM230 270h5v5h-5zM235 280h5v5h-5zM240 290h5v5h-5zM245 310h5v5h-5zM250 320h5v5h-5zM270 330h5v5h-5zM300 340h5v5h-5zM305 345h5v5h-5zM310 345h5v10h-5zM330 375h5v5h-5zM380 400h5v5h-5zM410 405h5v5h-5zM490 520h5v5h-5zM495 530h5v5h-5zM560 600h5v5h-5zM575 615h5v5h-5zM580 620h5v5h-5zM585 625h5v5h-5zM620 660h5v5h-5zM640 680h5v5h-5zM650 695h5v5h-5zM670 710h5v5h-5zM675 715h5v5h-5zM680 720h5v5h-5zM700 750h5v5h-5zM705 755h5v5h-5zM715 760h5v5h-5zM730 770h5v5h-5zM735 775h5v5h-5zM780 820h5v5h-5zM930 960h5v5h-5zM950 980h5v5h-5zM1080 1145h5v5h-5zM1125 1150h5v5h-5zM1140 1155h5v5h-5zM1165 1160h5v5h-5zM1240 1285h5v5h-5z"/><path fill="#d95725" d="M210 255h5v5h-5zM215 255h5v5h-5zM230 280h5v5h-5zM280 335h5v5h-5zM295 340h5v5h-5zM335 385h5v5h-5zM355 395h5v5h-5zM405 405h5v5h-5zM445 480h5v5h-5zM500 535h5v5h-5zM530 560h5v5h-5zM545 590h5v5h-5zM590 630h5v5h-5zM595 640h5v5h-5zM630 670h5v10h-5zM675 720h5v5h-5zM695 740h5v5h-5zM750 790h5v5h-5zM755 800h5v5h-5zM760 810h5v5h-5zM765 815h5v5h-5zM785 825h5v5h-5zM795 835h5v5h-5zM800 835h5v5h-5zM810 845h5v5h-5zM825 870h5v5h-5zM830 875h5v5h-5zM835 875h5v5h-5zM845 880h5v5h-5zM855 885h5v5h-5zM865 895h5v5h-5zM870 900h5v5h-5zM880 915h5v5h-5zM890 925h5v5h-5zM920 945h5v5h-5zM940 975h5v5h-5zM955 985h5v5h-5zM965 990h5v5h-5zM1240 1275h5v5h-5zM1255 1295h5v5h-5z"/><path fill="#da6326" d="M210 270h5v5h-5zM225 285h5v5h-5zM235 295h5v5h-5zM240 315h5v5h-5zM245 325h5v5h-5zM250 330h5v5h-5zM255 335h5v5h-5zM265 335h5v5h-5zM280 340h5v5h-5zM290 345h5v5h-5zM305 355h5v5h-5zM310 355h5v10h-5zM320 370h5v5h-5zM370 400h5v5h-5zM450 600h5v5h-5zM470 505h5v5h-5zM490 525h5v5h-5zM555 600h5v5h-5zM575 620h5v5h-5zM590 640h5v5h-5zM605 655h5v5h-5zM615 665h5v5h-5zM620 670h5v5h-5zM625 675h5v5h-5zM635 685h5v5h-5zM655 705h5v5h-5zM660 710h5v5h-5zM665 720h5v5h-5zM670 720h5v5h-5zM680 730h5v5h-5zM700 755h5v5h-5zM705 760h5v5h-5zM715 765h5v5h-5zM730 780h5v5h-5zM740 790h5v5h-5zM750 800h5v5h-5zM755 805h5v5h-5zM780 825h5v5h-5zM820 870h5v5h-5zM825 875h5v5h-5zM960 990h5v5h-5zM975 1000h5v5h-5zM1000 1030h5v5h-5zM1060 1090h5v5h-5zM1065 1105h5v5h-5zM1065 1125h5v5h-5zM1235 1240h5v5h-5z"/><path fill="#dcb45d" d="M210 380h5v5h-5zM290 405h5v5h-5zM300 405h5v5h-5zM305 405h5v5h-5zM310 405h5v5h-5zM320 405h5v5h-5zM430 425h5v5h-5zM430 895h5v5h-5zM430 905h5v5h-5zM435 1150h5v5h-5zM440 525h5v5h-5zM440 625h5v5h-5zM440 700h5v5h-5zM440 720h5v5h-5zM440 770h5v5h-5zM440 780h5v5h-5zM440 790h5v5h-5zM440 810h5v5h-5zM440 820h5v5h-5zM440 830h5v5h-5zM440 850h5v10h-5zM440 875h5v5h-5zM440 920h5v5h-5zM440 930h5v5h-5zM440 940h5v25h-5zM440 975h5v5h-5zM440 1045h5v5h-5zM440 1170h5v5h-5zM445 1070h5v10h-5zM445 1100h5v5h-5zM445 1110h5v5h-5zM450 1070h5v5h-5zM450 1140h5v5h-5zM455 1110h5v5h-5zM455 1120h5v5h-5zM455 1130h5v10h-5zM460 1080h5v5h-5zM460 1130h5v5h-5zM460 1145h5v5h-5zM465 970h5v10h-5zM465 990h5v10h-5zM465 1005h5v5h-5zM465 1035h5v5h-5zM465 1080h5v5h-5zM470 765h5v5h-5zM470 780h5v5h-5zM470 790h5v5h-5zM470 840h5v5h-5zM470 855h5v10h-5zM470 875h5v5h-5zM470 895h5v5h-5zM470 930h5v5h-5zM470 950h5v10h-5zM475 670h5v5h-5zM475 690h5v5h-5zM475 700h5v15h-5zM475 720h5v5h-5zM475 740h5v5h-5zM475 750h5v5h-5zM475 760h5v5h-5zM475 805h5v5h-5zM475 830h5v5h-5zM475 905h5v5h-5zM480 640h5v10h-5zM480 670h5v5h-5zM480 720h5v5h-5zM485 650h5v5h-5zM485 660h5v5h-5zM490 645h5v5h-5zM490 655h5v5h-5zM490 675h5v5h-5zM495 630h5v5h-5zM495 650h5v10h-5zM495 665h5v5h-5zM495 895h5v5h-5zM500 635h5v5h-5zM500 645h5v5h-5zM500 665h5v5h-5zM500 890h5v5h-5zM505 685h5v5h-5zM505 880h5v5h-5zM505 1025h5v5h-5zM510 660h5v10h-5zM510 685h5v5h-5zM510 875h5v5h-5zM510 915h5v5h-5zM515 650h5v5h-5zM515 675h5v5h-5zM515 685h5v5h-5zM515 705h5v5h-5zM515 1030h5v5h-5zM520 665h5v5h-5zM520 675h5v5h-5zM520 705h5v5h-5zM520 915h5v5h-5zM520 1030h5v5h-5zM525 695h5v15h-5zM525 715h5v5h-5zM525 725h5v5h-5zM530 715h5v10h-5zM530 745h5v5h-5zM535 720h5v10h-5zM535 735h5v10h-5zM535 750h5v5h-5zM535 760h5v15h-5zM535 1010h5v5h-5zM535 1020h5v5h-5zM540 735h5v10h-5zM540 765h5v5h-5zM540 775h5v5h-5zM540 880h5v5h-5zM545 735h5v5h-5zM545 750h5v5h-5zM545 765h5v5h-5zM545 815h5v5h-5zM545 880h5v5h-5zM545 905h5v5h-5zM550 770h5v15h-5zM550 790h5v5h-5zM550 875h5v10h-5zM550 905h5v5h-5zM550 1020h5v5h-5zM555 800h5v5h-5zM555 810h5v15h-5zM555 860h5v5h-5zM555 910h5v5h-5zM560 815h5v5h-5zM560 825h5v10h-5zM560 845h5v5h-5zM560 855h5v5h-5zM560 875h5v5h-5zM560 1010h5v15h-5zM565 810h5v5h-5zM565 845h5v5h-5zM565 860h5v5h-5zM565 940h5v5h-5zM565 1010h5v5h-5zM565 1020h5v5h-5zM570 855h5v5h-5zM570 865h5v5h-5zM570 915h5v5h-5zM570 1150h5v5h-5zM575 860h5v5h-5zM575 915h5v20h-5zM575 945h5v5h-5zM575 955h5v5h-5zM575 1005h5v5h-5zM580 930h5v15h-5zM580 955h5v5h-5zM580 965h5v10h-5zM580 1000h5v5h-5zM580 1150h5v5h-5zM585 940h5v5h-5zM585 950h5v5h-5zM585 960h5v5h-5zM585 975h5v10h-5zM585 990h5v5h-5zM585 1160h5v5h-5zM590 965h5v5h-5zM590 1035h5v5h-5zM595 1035h5v5h-5zM600 1035h5v5h-5zM605 970h5v5h-5zM605 985h5v5h-5zM610 985h5v10h-5zM615 950h5v5h-5zM615 965h5v10h-5zM615 980h5v5h-5zM615 1030h5v5h-5zM620 925h5v5h-5zM620 945h5v5h-5zM620 955h5v5h-5zM620 990h5v15h-5zM625 920h5v5h-5zM625 950h5v10h-5zM630 930h5v5h-5zM630 940h5v10h-5zM630 965h5v5h-5zM630 975h5v10h-5zM635 935h5v5h-5zM635 960h5v5h-5zM635 1000h5v5h-5zM635 1025h5v5h-5zM640 980h5v5h-5zM640 990h5v10h-5zM645 935h5v5h-5zM645 955h5v5h-5zM645 965h5v5h-5zM650 940h5v5h-5zM650 950h5v5h-5zM650 965h5v10h-5zM655 950h5v5h-5zM655 975h5v10h-5zM655 1010h5v5h-5zM660 945h5v15h-5zM660 970h5v5h-5zM665 950h5v10h-5zM665 965h5v5h-5zM665 1000h5v15h-5zM670 955h5v10h-5zM670 1010h5v5h-5zM675 925h5v5h-5zM675 940h5v5h-5zM675 955h5v5h-5zM675 965h5v10h-5zM675 1015h5v15h-5zM680 930h5v5h-5zM680 950h5v5h-5zM680 960h5v5h-5zM680 985h5v5h-5zM680 1010h5v10h-5zM680 1025h5v5h-5zM685 975h5v5h-5zM685 1015h5v5h-5zM690 940h5v10h-5zM690 960h5v10h-5zM690 990h5v5h-5zM690 1010h5v5h-5zM695 950h5v10h-5zM695 965h5v5h-5zM695 975h5v5h-5zM695 985h5v5h-5zM700 955h5v10h-5zM705 950h5v5h-5zM705 960h5v5h-5zM710 945h5v5h-5zM710 955h5v10h-5zM715 945h5v5h-5zM715 960h5v15h-5zM715 980h5v10h-5zM720 950h5v10h-5zM725 960h5v15h-5zM725 980h5v5h-5zM730 965h5v10h-5zM735 965h5v10h-5zM740 965h5v5h-5zM740 975h5v5h-5zM745 950h5v5h-5zM745 965h5v5h-5zM745 975h5v5h-5zM750 960h5v5h-5zM750 970h5v5h-5zM755 965h5v5h-5zM755 975h5v5h-5zM760 965h5v5h-5zM760 975h5v5h-5zM765 980h5v5h-5zM770 980h5v10h-5zM775 965h5v10h-5zM775 995h5v5h-5zM780 980h5v10h-5zM790 960h5v5h-5zM790 975h5v5h-5zM790 985h5v10h-5zM795 980h5v5h-5zM800 980h5v5h-5zM800 990h5v5h-5zM805 965h5v5h-5zM805 975h5v10h-5zM810 990h5v10h-5zM815 975h5v5h-5zM815 995h5v5h-5zM820 975h5v5h-5zM820 990h5v5h-5zM825 970h5v5h-5zM825 985h5v5h-5zM830 980h5v5h-5zM830 990h5v5h-5zM835 985h5v10h-5zM835 1005h5v5h-5zM840 985h5v15h-5zM845 990h5v5h-5zM850 985h5v15h-5zM855 990h5v5h-5zM855 1005h5v5h-5zM860 980h5v5h-5zM860 1000h5v5h-5zM865 990h5v5h-5zM865 1000h5v5h-5zM875 1000h5v5h-5zM880 1000h5v5h-5zM885 995h5v20h-5zM895 1010h5v5h-5zM900 1015h5v5h-5zM910 1015h5v5h-5zM915 1010h5v5h-5zM925 1025h5v5h-5zM930 1025h5v5h-5zM940 1030h5v5h-5zM950 1030h5v5h-5zM955 1035h5v5h-5zM960 1035h5v5h-5zM965 1040h5v5h-5zM975 1045h5v5h-5zM980 1045h5v5h-5zM990 1050h5v5h-5zM1025 1075h5v5h-5zM1040 1140h5v5h-5zM1045 1095h5v10h-5zM1050 1125h5v5h-5zM1080 1160h5v5h-5zM1135 1165h5v5h-5zM1160 1170h5v5h-5zM1175 1170h5v5h-5zM1220 1250h5v5h-5zM1230 1305h5v5h-5zM1235 1310h5v10h-5z"/><path fill="#dcc57e" d="M210 385h5v5h-5zM215 390h5v5h-5zM230 400h5v5h-5zM330 410h5v5h-5zM430 440h5v5h-5zM430 885h5v5h-5zM430 1030h5v5h-5zM435 530h5v5h-5zM435 560h5v10h-5zM435 575h5v5h-5zM435 615h5v5h-5zM435 650h5v5h-5zM435 675h5v5h-5zM435 695h5v10h-5zM435 715h5v15h-5zM435 745h5v5h-5zM435 770h5v10h-5zM435 790h5v5h-5zM435 805h5v5h-5zM435 845h5v5h-5zM435 965h5v10h-5zM435 1070h5v5h-5zM435 1080h5v5h-5zM435 1110h5v5h-5zM435 1120h5v5h-5zM435 1135h5v10h-5zM435 1170h5v5h-5zM445 1175h5v5h-5zM465 1160h5v10h-5zM470 1150h5v5h-5zM475 1050h5v5h-5zM475 1060h5v5h-5zM475 1070h5v5h-5zM475 1085h5v5h-5zM475 1095h5v5h-5zM480 955h5v5h-5zM480 980h5v5h-5zM480 990h5v5h-5zM480 1005h5v5h-5zM480 1020h5v10h-5zM480 1050h5v5h-5zM485 930h5v10h-5zM485 960h5v10h-5zM485 985h5v5h-5zM485 1010h5v5h-5zM485 1020h5v5h-5zM485 1035h5v5h-5zM490 870h5v5h-5zM490 930h5v5h-5zM490 945h5v5h-5zM490 955h5v5h-5zM490 975h5v5h-5zM490 1000h5v5h-5zM490 1015h5v10h-5zM495 925h5v5h-5zM495 945h5v5h-5zM495 960h5v5h-5zM495 975h5v5h-5zM495 990h5v15h-5zM495 1150h5v5h-5zM500 950h5v5h-5zM500 965h5v5h-5zM500 980h5v5h-5zM500 990h5v5h-5zM500 1150h5v5h-5zM505 1035h5v10h-5zM505 1160h5v5h-5zM510 1040h5v15h-5zM520 1145h5v5h-5zM520 1160h5v5h-5zM535 1040h5v5h-5zM535 1145h5v5h-5zM540 1040h5v5h-5zM545 985h5v5h-5zM545 1035h5v20h-5zM545 1165h5v5h-5zM550 1140h5v5h-5zM560 1040h5v5h-5zM565 1045h5v5h-5zM570 1050h5v5h-5zM570 1060h5v5h-5zM570 1140h5v5h-5zM580 1045h5v10h-5zM590 1140h5v5h-5zM595 1050h5v5h-5zM600 1140h5v5h-5zM605 1050h5v5h-5zM610 1055h5v5h-5zM615 1055h5v5h-5zM615 1165h5v5h-5zM620 1060h5v5h-5zM620 1165h5v5h-5zM625 1045h5v15h-5zM625 1145h5v5h-5zM635 1045h5v5h-5zM635 1145h5v5h-5zM645 1145h5v5h-5zM650 1050h5v5h-5zM655 1040h5v10h-5zM660 1045h5v5h-5zM660 1145h5v5h-5zM665 1050h5v5h-5zM670 1045h5v5h-5zM675 1045h5v5h-5zM680 1050h5v5h-5zM685 1035h5v15h-5zM690 1040h5v5h-5zM690 1145h5v5h-5zM700 1040h5v5h-5zM700 1160h5v5h-5zM710 1045h5v5h-5zM710 1155h5v5h-5zM715 1040h5v5h-5zM715 1155h5v5h-5zM720 1045h5v5h-5zM725 1035h5v5h-5zM730 1040h5v5h-5zM735 1040h5v5h-5zM740 1040h5v5h-5zM745 1040h5v5h-5zM750 1030h5v20h-5zM755 1030h5v5h-5zM765 1035h5v5h-5zM765 1045h5v5h-5zM775 1035h5v5h-5zM780 1040h5v5h-5zM790 1030h5v5h-5zM795 1035h5v5h-5zM815 1035h5v10h-5zM820 1035h5v10h-5zM825 1030h5v5h-5zM830 1040h5v5h-5zM835 1035h5v5h-5zM855 1040h5v5h-5zM875 1040h5v5h-5zM875 1140h5v5h-5zM880 1035h5v5h-5zM880 1045h5v5h-5zM880 1130h5v5h-5zM880 1145h5v5h-5zM885 1040h5v15h-5zM885 1130h5v5h-5zM885 1140h5v10h-5zM890 1140h5v5h-5zM900 1040h5v5h-5zM900 1135h5v10h-5zM905 1145h5v5h-5zM910 1140h5v10h-5zM915 1135h5v10h-5zM920 1135h5v5h-5zM925 1055h5v5h-5zM925 1145h5v5h-5zM930 1050h5v5h-5zM930 1135h5v10h-5zM935 1055h5v5h-5zM935 1145h5v5h-5zM940 1060h5v5h-5zM940 1130h5v5h-5zM940 1140h5v10h-5zM945 1050h5v10h-5zM945 1130h5v10h-5zM945 1145h5v5h-5zM955 1140h5v10h-5zM960 1135h5v5h-5zM960 1145h5v5h-5zM965 1055h5v5h-5zM965 1135h5v10h-5zM970 1065h5v5h-5zM970 1130h5v20h-5zM975 1130h5v5h-5zM975 1140h5v5h-5zM980 1075h5v5h-5zM980 1140h5v10h-5zM985 1145h5v5h-5zM990 1140h5v5h-5zM995 1115h5v5h-5zM995 1145h5v10h-5zM1000 1085h5v15h-5zM1005 1090h5v5h-5zM1005 1115h5v10h-5zM1005 1130h5v5h-5zM1005 1145h5v5h-5zM1010 1090h5v5h-5zM1010 1120h5v10h-5zM1010 1145h5v5h-5zM1015 1120h5v5h-5zM1015 1150h5v5h-5zM1020 1095h5v5h-5zM1020 1150h5v5h-5zM1025 1095h5v5h-5zM1030 1115h5v5h-5zM1075 1165h5v5h-5zM1110 1165h5v5h-5zM1115 1165h5v5h-5zM1125 1170h5v5h-5zM1160 1175h5v5h-5zM1165 1175h5v5h-5zM1185 1180h5v5h-5zM1190 1185h5v5h-5zM1200 1195h5v5h-5zM1205 1205h5v5h-5zM1220 1285h5v5h-5zM1225 1320h5v5h-5z"/><path fill="#d33c1f" d="M215 240h5v5h-5zM225 250h5v5h-5zM230 255h5v5h-5zM250 305h5v5h-5zM305 335h5v5h-5zM310 340h5v5h-5zM390 400h5v5h-5zM490 515h5v5h-5zM535 560h5v5h-5zM555 590h5v5h-5zM570 600h5v5h-5zM600 640h5v5h-5zM615 650h5v5h-5zM645 680h5v5h-5zM650 690h5v5h-5zM665 700h5v5h-5zM700 740h5v5h-5zM705 745h5v5h-5zM710 750h5v5h-5zM750 780h5v5h-5zM765 805h5v5h-5zM815 845h5v5h-5zM845 875h5v5h-5zM855 880h5v5h-5zM860 885h5v5h-5zM875 900h5v5h-5zM885 915h5v5h-5zM915 935h5v5h-5zM920 940h5v5h-5zM935 960h5v5h-5zM945 970h5v5h-5zM950 975h5v5h-5zM970 990h5v5h-5zM990 1010h5v5h-5zM1035 1050h5v5h-5zM1055 1070h5v5h-5zM1065 1095h5v5h-5zM1070 1140h5v5h-5zM1075 1135h5v10h-5zM1080 1135h5v5h-5zM1085 1135h5v5h-5zM1240 1260h5v5h-5z"/><path fill="#d64622" d="M215 245h5v5h-5zM220 250h5v5h-5zM225 255h5v5h-5zM235 270h5v5h-5zM240 280h5v5h-5zM245 295h5v10h-5zM300 335h5v5h-5zM475 500h5v5h-5zM515 540h5v5h-5zM545 580h5v5h-5zM565 600h5v5h-5zM620 655h5v5h-5zM630 665h5v5h-5zM640 675h5v5h-5zM675 710h5v5h-5zM690 725h5v5h-5zM705 750h5v5h-5zM710 755h5v5h-5zM795 825h5v5h-5zM805 835h5v5h-5zM810 840h5v5h-5zM890 920h5v5h-5zM960 985h5v5h-5zM1015 1035h5v5h-5zM1070 1115h5v5h-5zM1070 1130h5v10h-5zM1085 1140h5v5h-5zM1240 1265h5v5h-5z"/><path fill="#d95a25" d="M215 260h5v5h-5zM220 270h5v5h-5zM225 270h5v5h-5zM230 275h5v5h-5zM235 285h5v5h-5zM240 295h5v5h-5zM290 340h5v5h-5zM295 345h5v5h-5zM300 345h5v5h-5zM315 355h5v5h-5zM325 365h5v5h-5zM330 380h5v5h-5zM400 405h5v5h-5zM465 500h5v5h-5zM475 505h5v5h-5zM480 510h5v5h-5zM485 515h5v5h-5zM510 540h5v5h-5zM515 545h5v5h-5zM550 595h5v5h-5zM565 605h5v5h-5zM600 650h5v5h-5zM625 670h5v5h-5zM635 680h5v5h-5zM640 685h5v5h-5zM645 695h5v5h-5zM650 700h5v5h-5zM655 700h5v5h-5zM665 710h5v5h-5zM685 730h5v5h-5zM695 745h5v5h-5zM725 765h5v5h-5zM740 785h5v5h-5zM775 820h5v5h-5zM810 850h5v5h-5zM815 855h5v5h-5zM820 865h5v5h-5zM900 930h5v5h-5zM915 940h5v5h-5zM1020 1040h5v5h-5zM1060 1085h5v5h-5zM1070 1155h5v5h-5zM1155 1160h5v5h-5zM1235 1235h5v5h-5zM1240 1280h5v5h-5zM1260 1295h5v5h-5z"/><path fill="#dca74e" d="M215 380h5v5h-5zM245 395h5v5h-5zM295 400h5v5h-5zM300 400h5v5h-5zM415 415h5v5h-5zM435 430h5v5h-5zM435 1025h5v5h-5zM440 495h5v10h-5zM445 570h5v5h-5zM445 620h5v5h-5zM445 660h5v5h-5zM445 675h5v5h-5zM445 690h5v5h-5zM445 855h5v5h-5zM445 1040h5v5h-5zM445 1170h5v5h-5zM450 665h5v5h-5zM450 685h5v5h-5zM450 700h5v10h-5zM450 725h5v10h-5zM450 770h5v5h-5zM450 790h5v10h-5zM450 815h5v5h-5zM450 835h5v20h-5zM450 860h5v10h-5zM450 875h5v5h-5zM450 925h5v15h-5zM450 955h5v5h-5zM450 985h5v5h-5zM450 1045h5v5h-5zM455 665h5v5h-5zM455 795h5v5h-5zM455 870h5v5h-5zM455 915h5v5h-5zM455 930h5v5h-5zM455 970h5v5h-5zM455 990h5v5h-5zM455 1055h5v5h-5zM455 1145h5v5h-5zM455 1165h5v5h-5zM460 785h5v5h-5zM460 800h5v5h-5zM460 825h5v20h-5zM460 850h5v15h-5zM460 880h5v15h-5zM460 900h5v5h-5zM460 925h5v5h-5zM460 935h5v10h-5zM460 950h5v10h-5zM460 970h5v5h-5zM460 990h5v5h-5zM460 1005h5v10h-5zM460 1035h5v5h-5zM465 655h5v10h-5zM465 670h5v5h-5zM465 695h5v5h-5zM465 710h5v10h-5zM465 730h5v5h-5zM465 740h5v10h-5zM465 805h5v5h-5zM465 830h5v5h-5zM470 625h5v5h-5zM470 645h5v5h-5zM470 675h5v5h-5zM475 595h5v5h-5zM475 605h5v10h-5zM480 595h5v5h-5zM485 595h5v5h-5zM490 585h5v15h-5zM495 595h5v10h-5zM500 600h5v5h-5zM505 615h5v10h-5zM505 890h5v5h-5zM505 900h5v5h-5zM510 615h5v5h-5zM510 1010h5v5h-5zM515 625h5v5h-5zM515 1010h5v5h-5zM520 630h5v5h-5zM520 1010h5v5h-5zM525 630h5v5h-5zM525 645h5v5h-5zM525 1010h5v10h-5zM530 665h5v5h-5zM530 905h5v5h-5zM535 650h5v15h-5zM535 670h5v5h-5zM535 885h5v5h-5zM540 660h5v5h-5zM540 675h5v10h-5zM540 700h5v5h-5zM550 685h5v15h-5zM550 705h5v5h-5zM550 900h5v5h-5zM550 1155h5v5h-5zM555 705h5v15h-5zM555 725h5v5h-5zM555 735h5v5h-5zM555 745h5v10h-5zM555 895h5v5h-5zM560 730h5v5h-5zM560 740h5v15h-5zM560 1155h5v5h-5zM565 755h5v10h-5zM565 780h5v5h-5zM565 900h5v5h-5zM570 740h5v5h-5zM570 750h5v5h-5zM570 770h5v15h-5zM570 905h5v5h-5zM570 1015h5v5h-5zM575 745h5v5h-5zM575 760h5v5h-5zM575 780h5v15h-5zM575 800h5v5h-5zM580 770h5v5h-5zM580 780h5v10h-5zM580 805h5v10h-5zM580 1005h5v10h-5zM585 780h5v5h-5zM585 800h5v10h-5zM585 815h5v5h-5zM585 840h5v5h-5zM585 870h5v5h-5zM585 920h5v5h-5zM590 785h5v5h-5zM590 810h5v10h-5zM590 1000h5v5h-5zM590 1030h5v5h-5zM595 815h5v5h-5zM595 835h5v10h-5zM595 855h5v5h-5zM595 930h5v20h-5zM595 995h5v5h-5zM595 1030h5v5h-5zM600 815h5v5h-5zM600 835h5v5h-5zM600 850h5v10h-5zM600 925h5v5h-5zM600 935h5v5h-5zM600 970h5v5h-5zM600 995h5v5h-5zM600 1030h5v5h-5zM605 815h5v20h-5zM605 850h5v5h-5zM605 865h5v5h-5zM605 920h5v5h-5zM605 945h5v5h-5zM605 1000h5v5h-5zM610 815h5v5h-5zM610 825h5v5h-5zM610 850h5v10h-5zM610 1025h5v5h-5zM615 1010h5v5h-5zM620 810h5v5h-5zM620 825h5v5h-5zM620 840h5v5h-5zM620 865h5v5h-5zM620 875h5v5h-5zM620 910h5v5h-5zM620 1020h5v5h-5zM625 820h5v5h-5zM625 830h5v5h-5zM625 845h5v10h-5zM625 860h5v5h-5zM630 840h5v10h-5zM630 855h5v5h-5zM635 835h5v5h-5zM635 860h5v5h-5zM635 870h5v10h-5zM640 860h5v5h-5zM645 875h5v5h-5zM645 910h5v5h-5zM650 860h5v10h-5zM650 875h5v10h-5zM650 910h5v5h-5zM655 855h5v10h-5zM655 910h5v5h-5zM660 910h5v5h-5zM675 870h5v5h-5zM675 910h5v5h-5zM685 870h5v5h-5zM685 915h5v5h-5zM690 860h5v5h-5zM700 915h5v5h-5zM705 915h5v5h-5zM710 910h5v5h-5zM715 915h5v10h-5zM715 930h5v5h-5zM730 915h5v10h-5zM730 940h5v5h-5zM735 920h5v10h-5zM740 915h5v5h-5zM745 920h5v15h-5zM750 935h5v5h-5zM755 930h5v10h-5zM760 920h5v5h-5zM765 920h5v5h-5zM770 925h5v5h-5zM770 945h5v5h-5zM780 925h5v5h-5zM785 935h5v5h-5zM790 925h5v5h-5zM795 925h5v5h-5zM800 930h5v5h-5zM800 940h5v5h-5zM810 930h5v5h-5zM810 950h5v5h-5zM815 940h5v10h-5zM835 950h5v5h-5zM840 950h5v5h-5zM845 950h5v10h-5zM850 955h5v15h-5zM855 970h5v5h-5zM860 965h5v5h-5zM870 965h5v10h-5zM880 975h5v5h-5zM890 975h5v10h-5zM895 985h5v5h-5zM900 990h5v5h-5zM910 995h5v5h-5zM920 1000h5v10h-5zM925 1005h5v5h-5zM930 1005h5v5h-5zM945 1015h5v10h-5zM960 1025h5v5h-5zM990 1045h5v5h-5zM1000 1050h5v5h-5zM1030 1070h5v5h-5zM1050 1095h5v5h-5zM1050 1135h5v5h-5zM1090 1155h5v5h-5zM1095 1155h5v5h-5zM1100 1155h5v5h-5zM1225 1265h5v5h-5zM1230 1285h5v5h-5zM1235 1305h5v5h-5zM1255 1315h5v5h-5zM1270 1315h5v5h-5z"/><path fill="#cb2418" d="M220 235h5v5h-5zM235 255h5v5h-5zM250 295h5v5h-5zM270 325h5v5h-5zM300 330h5v5h-5zM530 550h5v5h-5zM555 585h5v5h-5zM560 590h5v5h-5zM575 600h5v5h-5zM580 605h5v5h-5zM590 615h5v5h-5zM600 630h5v5h-5zM635 660h5v5h-5zM640 665h5v5h-5zM785 815h5v5h-5zM795 820h5v5h-5zM930 950h5v5h-5zM1075 1110h5v5h-5zM1080 1120h5v5h-5zM1090 1130h5v5h-5zM1100 1135h5v5h-5zM1240 1245h5v5h-5zM1245 1295h5v5h-5zM1290 1295h5v5h-5z"/><path fill="#d02f1c" d="M220 240h5v5h-5zM245 275h5v5h-5zM295 330h5v5h-5zM315 340h5v5h-5zM335 370h5v5h-5zM445 460h5v5h-5zM480 500h5v5h-5zM505 530h5v5h-5zM525 545h5v5h-5zM545 575h5v5h-5zM565 595h5v5h-5zM600 635h5v5h-5zM605 640h5v5h-5zM620 650h5v5h-5zM630 660h5v5h-5zM650 685h5v5h-5zM670 700h5v5h-5zM680 710h5v5h-5zM700 735h5v5h-5zM745 770h5v5h-5zM755 785h5v5h-5zM765 800h5v5h-5zM770 805h5v5h-5zM810 835h5v5h-5zM835 865h5v5h-5zM840 870h5v5h-5zM880 905h5v5h-5zM890 915h5v5h-5zM910 930h5v5h-5zM995 1015h5v5h-5zM1000 1020h5v5h-5zM1080 1125h5v5h-5zM1095 1135h5v5h-5z"/><path fill="#d54321" d="M220 245h5v5h-5zM230 260h5v5h-5zM245 290h5v5h-5zM250 315h5v5h-5zM315 345h5v5h-5zM325 355h5v5h-5zM445 465h5v5h-5zM585 615h5v5h-5zM670 705h5v5h-5zM685 720h5v5h-5zM715 755h5v5h-5zM730 765h5v5h-5zM735 765h5v5h-5zM755 790h5v5h-5zM760 800h5v5h-5zM865 890h5v5h-5zM870 895h5v5h-5zM880 910h5v5h-5zM930 955h5v5h-5zM985 1005h5v5h-5zM1030 1045h5v5h-5zM1065 1140h5v5h-5zM1080 1140h5v5h-5zM1115 1145h5v5h-5zM1270 1295h5v5h-5z"/><path fill="#d74d23" d="M220 255h5v5h-5zM225 260h5v5h-5zM235 275h5v5h-5zM240 285h5v5h-5zM245 305h5v5h-5zM255 325h5v5h-5zM265 330h5v5h-5zM275 330h5v5h-5zM290 335h5v5h-5zM305 340h5v5h-5zM315 350h5v5h-5zM320 350h5v10h-5zM325 360h5v5h-5zM470 500h5v5h-5zM505 535h5v5h-5zM530 555h5v5h-5zM540 575h5v5h-5zM555 595h5v5h-5zM585 620h5v5h-5zM645 685h5v5h-5zM660 700h5v5h-5zM665 705h5v5h-5zM690 730h5v5h-5zM695 735h5v5h-5zM720 760h5v5h-5zM740 775h5v5h-5zM755 795h5v5h-5zM760 805h5v5h-5zM770 815h5v5h-5zM790 825h5v5h-5zM795 830h5v5h-5zM825 865h5v5h-5zM840 875h5v5h-5zM860 890h5v5h-5zM895 925h5v5h-5zM935 965h5v5h-5zM945 975h5v5h-5zM975 995h5v5h-5zM1000 1025h5v5h-5zM1075 1145h5v5h-5zM1110 1145h5v5h-5zM1265 1295h5v5h-5z"/><path fill="#dcac54" d="M220 385h5v5h-5zM245 400h5v5h-5zM250 400h5v5h-5zM260 400h5v5h-5zM325 405h5v5h-5zM375 410h5v5h-5zM380 410h5v5h-5zM410 415h5v5h-5zM435 440h5v5h-5zM435 910h5v5h-5zM440 505h5v10h-5zM440 520h5v5h-5zM440 915h5v5h-5zM445 635h5v15h-5zM445 665h5v5h-5zM445 680h5v5h-5zM445 700h5v5h-5zM445 710h5v5h-5zM445 730h5v5h-5zM445 755h5v10h-5zM445 775h5v5h-5zM445 795h5v10h-5zM445 815h5v10h-5zM445 830h5v5h-5zM445 840h5v5h-5zM445 865h5v5h-5zM445 930h5v10h-5zM445 960h5v5h-5zM445 980h5v10h-5zM445 1045h5v5h-5zM445 1055h5v5h-5zM445 1080h5v10h-5zM450 950h5v5h-5zM450 1055h5v5h-5zM450 1065h5v5h-5zM450 1075h5v5h-5zM455 1040h5v10h-5zM455 1065h5v10h-5zM455 1080h5v10h-5zM455 1095h5v10h-5zM460 945h5v5h-5zM460 960h5v5h-5zM460 980h5v10h-5zM460 1000h5v5h-5zM460 1040h5v5h-5zM460 1055h5v5h-5zM460 1100h5v5h-5zM465 735h5v5h-5zM465 750h5v10h-5zM465 765h5v5h-5zM465 780h5v25h-5zM465 810h5v5h-5zM465 855h5v5h-5zM465 870h5v5h-5zM465 880h5v5h-5zM465 890h5v5h-5zM465 900h5v5h-5zM465 1020h5v5h-5zM470 650h5v5h-5zM470 660h5v10h-5zM470 680h5v5h-5zM470 690h5v5h-5zM470 705h5v15h-5zM470 820h5v5h-5zM475 630h5v5h-5zM475 655h5v5h-5zM480 610h5v5h-5zM480 620h5v5h-5zM485 610h5v5h-5zM485 630h5v5h-5zM490 600h5v10h-5zM495 605h5v10h-5zM495 640h5v5h-5zM500 620h5v10h-5zM505 635h5v10h-5zM505 895h5v5h-5zM505 905h5v5h-5zM510 610h5v5h-5zM510 630h5v15h-5zM510 880h5v5h-5zM510 1020h5v5h-5zM515 630h5v15h-5zM515 670h5v5h-5zM515 880h5v5h-5zM515 910h5v10h-5zM520 640h5v5h-5zM520 1005h5v5h-5zM525 660h5v5h-5zM525 675h5v5h-5zM525 1020h5v5h-5zM530 675h5v5h-5zM530 1015h5v5h-5zM535 685h5v5h-5zM540 685h5v10h-5zM540 705h5v5h-5zM540 715h5v5h-5zM540 905h5v5h-5zM545 705h5v5h-5zM545 720h5v5h-5zM545 730h5v5h-5zM545 885h5v5h-5zM550 710h5v5h-5zM550 720h5v20h-5zM550 1150h5v5h-5zM555 755h5v15h-5zM555 900h5v10h-5zM555 1150h5v5h-5zM560 755h5v20h-5zM560 780h5v5h-5zM560 795h5v5h-5zM560 905h5v5h-5zM560 1150h5v5h-5zM565 730h5v5h-5zM565 765h5v5h-5zM565 795h5v5h-5zM565 905h5v5h-5zM570 785h5v5h-5zM570 810h5v5h-5zM570 830h5v5h-5zM570 1155h5v5h-5zM575 830h5v5h-5zM575 840h5v10h-5zM575 910h5v5h-5zM575 1010h5v5h-5zM575 1020h5v5h-5zM580 820h5v10h-5zM580 845h5v5h-5zM580 855h5v10h-5zM580 1025h5v5h-5zM585 820h5v5h-5zM585 830h5v5h-5zM585 855h5v15h-5zM585 925h5v5h-5zM585 1030h5v5h-5zM585 1155h5v5h-5zM590 825h5v10h-5zM590 840h5v5h-5zM590 850h5v5h-5zM590 865h5v5h-5zM590 925h5v5h-5zM590 950h5v5h-5zM595 820h5v5h-5zM595 850h5v5h-5zM595 860h5v5h-5zM595 965h5v10h-5zM595 985h5v10h-5zM600 845h5v5h-5zM600 950h5v5h-5zM600 960h5v10h-5zM600 975h5v5h-5zM600 985h5v5h-5zM600 1155h5v5h-5zM605 935h5v5h-5zM605 955h5v15h-5zM605 975h5v5h-5zM605 995h5v5h-5zM605 1155h5v5h-5zM610 840h5v5h-5zM610 860h5v5h-5zM610 940h5v5h-5zM610 950h5v5h-5zM615 940h5v5h-5zM620 855h5v5h-5zM620 870h5v5h-5zM620 915h5v5h-5zM620 1010h5v5h-5zM625 940h5v5h-5zM625 1005h5v5h-5zM625 1015h5v10h-5zM630 1010h5v10h-5zM635 915h5v5h-5zM635 1015h5v5h-5zM640 910h5v5h-5zM640 925h5v5h-5zM640 1015h5v10h-5zM645 865h5v5h-5zM645 915h5v5h-5zM645 925h5v5h-5zM645 1015h5v5h-5zM650 915h5v10h-5zM650 935h5v5h-5zM655 935h5v5h-5zM660 915h5v10h-5zM660 1015h5v5h-5zM665 920h5v5h-5zM665 930h5v5h-5zM670 925h5v5h-5zM670 940h5v5h-5zM675 920h5v5h-5zM680 915h5v5h-5zM685 920h5v15h-5zM685 955h5v5h-5zM690 915h5v5h-5zM690 955h5v5h-5zM695 920h5v5h-5zM695 935h5v5h-5zM700 920h5v15h-5zM705 930h5v10h-5zM710 920h5v10h-5zM710 935h5v5h-5zM720 925h5v5h-5zM720 960h5v5h-5zM725 935h5v5h-5zM725 945h5v5h-5zM730 925h5v5h-5zM735 930h5v5h-5zM740 920h5v5h-5zM740 935h5v10h-5zM745 935h5v10h-5zM750 925h5v5h-5zM750 945h5v5h-5zM755 920h5v5h-5zM755 940h5v10h-5zM760 935h5v5h-5zM760 945h5v5h-5zM765 930h5v5h-5zM775 945h5v5h-5zM780 945h5v5h-5zM785 945h5v5h-5zM785 965h5v5h-5zM790 935h5v15h-5zM795 940h5v5h-5zM795 955h5v5h-5zM800 950h5v5h-5zM805 955h5v5h-5zM810 955h5v5h-5zM810 970h5v5h-5zM815 950h5v10h-5zM820 955h5v15h-5zM825 955h5v5h-5zM825 980h5v5h-5zM830 965h5v5h-5zM835 960h5v5h-5zM840 960h5v5h-5zM840 975h5v5h-5zM845 985h5v5h-5zM850 975h5v5h-5zM855 975h5v5h-5zM860 975h5v5h-5zM865 975h5v10h-5zM865 995h5v5h-5zM870 995h5v5h-5zM875 980h5v10h-5zM885 980h5v5h-5zM885 990h5v5h-5zM890 1000h5v5h-5zM895 990h5v10h-5zM900 1005h5v5h-5zM910 1000h5v5h-5zM915 1005h5v5h-5zM920 1010h5v5h-5zM925 1010h5v5h-5zM930 1020h5v5h-5zM945 1025h5v5h-5zM1005 1055h5v5h-5zM1025 1070h5v5h-5zM1035 1080h5v5h-5zM1040 1085h5v5h-5zM1045 1135h5v10h-5zM1075 1160h5v5h-5zM1125 1160h5v5h-5zM1215 1220h5v5h-5zM1220 1240h5v5h-5zM1230 1300h5v5h-5zM1245 1310h5v5h-5zM1250 1310h5v10h-5zM1270 1320h5v5h-5z"/><path fill="#a72f26" d="M225 230h5v5h-5zM240 250h5v5h-5zM315 330h5v5h-5zM335 355h5v5h-5zM340 380h5v5h-5zM360 390h5v5h-5zM535 550h5v5h-5zM575 595h5v5h-5zM610 635h5v5h-5zM645 665h5v5h-5zM825 845h5v5h-5zM830 850h5v5h-5zM845 865h5v5h-5zM875 890h5v5h-5zM960 975h5v5h-5zM965 980h5v5h-5zM1100 1125h5v5h-5zM1105 1130h5v5h-5zM1245 1270h5v5h-5z"/><path fill="#b62c20" d="M225 235h5v5h-5zM250 280h5v5h-5zM260 320h5v5h-5zM310 330h5v5h-5zM355 390h5v5h-5zM540 560h5v5h-5zM565 590h5v5h-5zM570 595h5v5h-5zM670 695h5v5h-5zM825 850h5v5h-5zM880 900h5v5h-5zM885 905h5v5h-5zM890 910h5v5h-5zM925 940h5v5h-5zM1090 1120h5v5h-5zM1095 1125h5v5h-5zM1245 1280h5v5h-5z"/><path fill="#c82519" d="M225 240h5v5h-5zM240 260h5v5h-5zM250 290h5v5h-5zM275 325h5v5h-5zM315 335h5v5h-5zM585 610h5v5h-5zM610 640h5v5h-5zM615 645h5v5h-5zM630 655h5v5h-5zM700 730h5v5h-5zM725 755h5v5h-5zM740 765h5v5h-5zM850 875h5v5h-5zM875 895h5v5h-5zM935 955h5v5h-5zM945 965h5v5h-5zM980 995h5v5h-5zM1020 1035h5v5h-5zM1065 1090h5v5h-5zM1070 1145h5v5h-5zM1135 1150h5v5h-5z"/><path fill="#ce2b1a" d="M225 245h5v5h-5zM235 260h5v5h-5zM240 265h5v5h-5zM265 325h5v5h-5zM310 335h5v5h-5zM345 390h5v5h-5zM395 400h5v5h-5zM520 540h5v5h-5zM540 565h5v5h-5zM655 690h5v5h-5zM685 710h5v5h-5zM695 725h5v5h-5zM705 740h5v5h-5zM715 750h5v5h-5zM800 825h5v5h-5zM830 860h5v5h-5zM870 890h5v5h-5zM885 910h5v5h-5zM895 920h5v5h-5zM965 985h5v5h-5zM1085 1130h5v5h-5zM1160 1160h5v5h-5zM1240 1250h5v5h-5zM1285 1295h5v5h-5z"/><path fill="#dcae57" d="M225 390h5v5h-5zM235 395h5v5h-5zM315 405h5v5h-5zM435 1030h5v5h-5zM440 530h5v5h-5zM440 550h5v5h-5zM440 865h5v5h-5zM440 880h5v5h-5zM440 1040h5v5h-5zM445 625h5v5h-5zM445 650h5v10h-5zM445 705h5v5h-5zM445 725h5v5h-5zM445 740h5v5h-5zM445 770h5v5h-5zM445 780h5v10h-5zM445 870h5v10h-5zM445 940h5v15h-5zM445 965h5v5h-5zM445 990h5v5h-5zM445 1050h5v5h-5zM445 1060h5v5h-5zM445 1125h5v5h-5zM445 1140h5v5h-5zM450 1060h5v5h-5zM450 1095h5v20h-5zM450 1130h5v5h-5zM455 1060h5v5h-5zM455 1090h5v5h-5zM460 1045h5v5h-5zM460 1065h5v5h-5zM460 1090h5v10h-5zM460 1155h5v5h-5zM465 760h5v5h-5zM465 775h5v5h-5zM465 820h5v5h-5zM465 905h5v10h-5zM465 920h5v10h-5zM465 935h5v10h-5zM465 955h5v5h-5zM465 985h5v5h-5zM465 1015h5v5h-5zM465 1025h5v10h-5zM470 670h5v5h-5zM470 685h5v5h-5zM470 695h5v10h-5zM470 720h5v5h-5zM470 740h5v5h-5zM470 755h5v5h-5zM470 770h5v10h-5zM470 795h5v5h-5zM470 825h5v15h-5zM470 865h5v5h-5zM470 885h5v5h-5zM470 960h5v5h-5zM475 660h5v5h-5zM475 675h5v5h-5zM475 685h5v5h-5zM480 615h5v5h-5zM480 625h5v10h-5zM480 660h5v5h-5zM485 600h5v5h-5zM490 615h5v10h-5zM495 645h5v5h-5zM500 615h5v5h-5zM500 895h5v5h-5zM505 630h5v5h-5zM505 660h5v5h-5zM505 885h5v5h-5zM505 1015h5v5h-5zM510 650h5v5h-5zM510 910h5v5h-5zM510 1005h5v5h-5zM510 1025h5v5h-5zM515 645h5v5h-5zM515 1000h5v5h-5zM520 645h5v15h-5zM525 655h5v5h-5zM525 665h5v5h-5zM525 680h5v10h-5zM525 910h5v5h-5zM525 1005h5v5h-5zM525 1025h5v5h-5zM530 670h5v5h-5zM530 685h5v10h-5zM530 725h5v5h-5zM530 910h5v5h-5zM530 1010h5v5h-5zM530 1025h5v5h-5zM535 680h5v5h-5zM535 700h5v5h-5zM535 715h5v5h-5zM535 880h5v5h-5zM540 710h5v5h-5zM540 725h5v10h-5zM540 745h5v5h-5zM545 715h5v5h-5zM545 755h5v10h-5zM545 900h5v5h-5zM545 1155h5v5h-5zM550 740h5v5h-5zM550 750h5v5h-5zM550 760h5v10h-5zM555 770h5v10h-5zM555 790h5v5h-5zM555 1015h5v5h-5zM560 775h5v5h-5zM560 785h5v10h-5zM560 900h5v5h-5zM565 800h5v5h-5zM565 815h5v5h-5zM565 880h5v5h-5zM565 1015h5v5h-5zM570 805h5v5h-5zM570 815h5v5h-5zM570 825h5v5h-5zM570 845h5v10h-5zM570 860h5v5h-5zM570 880h5v5h-5zM575 815h5v5h-5zM575 850h5v5h-5zM575 865h5v5h-5zM575 1025h5v5h-5zM580 815h5v5h-5zM580 830h5v10h-5zM580 865h5v10h-5zM580 925h5v5h-5zM580 1155h5v5h-5zM585 845h5v5h-5zM585 930h5v5h-5zM585 995h5v5h-5zM590 860h5v5h-5zM590 940h5v5h-5zM590 960h5v5h-5zM590 970h5v5h-5zM590 980h5v5h-5zM590 995h5v5h-5zM590 1150h5v10h-5zM595 980h5v5h-5zM595 1150h5v5h-5zM595 1160h5v5h-5zM600 955h5v5h-5zM600 980h5v5h-5zM605 980h5v5h-5zM610 925h5v15h-5zM610 945h5v5h-5zM610 970h5v5h-5zM610 995h5v5h-5zM610 1030h5v5h-5zM610 1155h5v5h-5zM615 920h5v5h-5zM615 935h5v5h-5zM615 945h5v5h-5zM620 920h5v5h-5zM620 935h5v5h-5zM620 1005h5v5h-5zM620 1025h5v5h-5zM625 915h5v5h-5zM625 930h5v5h-5zM625 1010h5v5h-5zM630 915h5v15h-5zM630 955h5v5h-5zM630 1020h5v5h-5zM635 925h5v5h-5zM635 1010h5v5h-5zM640 920h5v5h-5zM640 940h5v5h-5zM640 970h5v5h-5zM640 1005h5v5h-5zM645 930h5v5h-5zM645 940h5v5h-5zM645 950h5v5h-5zM645 1010h5v5h-5zM645 1020h5v5h-5zM650 925h5v10h-5zM655 920h5v10h-5zM655 940h5v5h-5zM655 1015h5v10h-5zM660 930h5v5h-5zM660 940h5v5h-5zM660 1005h5v10h-5zM660 1020h5v5h-5zM665 915h5v5h-5zM665 935h5v5h-5zM665 1020h5v5h-5zM670 920h5v5h-5zM670 945h5v5h-5zM670 1015h5v5h-5zM675 930h5v10h-5zM675 945h5v10h-5zM675 960h5v5h-5zM680 920h5v5h-5zM680 935h5v15h-5zM680 955h5v5h-5zM685 935h5v5h-5zM690 925h5v15h-5zM690 950h5v5h-5zM695 925h5v10h-5zM700 935h5v10h-5zM700 950h5v5h-5zM705 940h5v5h-5zM705 955h5v5h-5zM715 925h5v5h-5zM715 975h5v5h-5zM720 920h5v5h-5zM720 930h5v10h-5zM725 920h5v5h-5zM725 930h5v5h-5zM725 940h5v5h-5zM725 950h5v5h-5zM730 935h5v5h-5zM730 945h5v10h-5zM735 935h5v10h-5zM735 960h5v5h-5zM740 945h5v10h-5zM745 945h5v5h-5zM745 955h5v5h-5zM750 920h5v5h-5zM750 940h5v5h-5zM755 950h5v15h-5zM760 950h5v5h-5zM760 960h5v5h-5zM765 935h5v5h-5zM765 955h5v10h-5zM765 970h5v5h-5zM770 940h5v5h-5zM770 965h5v5h-5zM775 950h5v15h-5zM780 940h5v5h-5zM780 960h5v5h-5zM780 970h5v5h-5zM790 965h5v10h-5zM795 945h5v10h-5zM795 960h5v5h-5zM795 970h5v5h-5zM800 945h5v5h-5zM800 955h5v10h-5zM805 950h5v5h-5zM805 960h5v5h-5zM805 970h5v5h-5zM810 965h5v5h-5zM815 960h5v10h-5zM820 980h5v5h-5zM825 960h5v5h-5zM830 975h5v5h-5zM835 965h5v5h-5zM840 965h5v10h-5zM845 970h5v5h-5zM845 980h5v5h-5zM850 980h5v5h-5zM860 985h5v5h-5zM865 985h5v5h-5zM870 980h5v10h-5zM880 985h5v15h-5zM890 1005h5v5h-5zM895 1000h5v5h-5zM910 1005h5v10h-5zM915 1015h5v5h-5zM925 1015h5v5h-5zM935 1020h5v5h-5zM940 1025h5v5h-5zM955 1030h5v5h-5zM970 1035h5v5h-5zM975 1040h5v5h-5zM1030 1075h5v5h-5zM1045 1090h5v5h-5zM1045 1150h5v5h-5zM1050 1100h5v25h-5zM1225 1280h5v5h-5zM1250 1320h5v5h-5zM1260 1320h5v5h-5z"/><path fill="#97302d" d="M230 230h5v5h-5zM320 330h5v5h-5zM370 390h5v5h-5zM460 490h5v5h-5zM590 605h5v5h-5zM605 625h5v5h-5zM665 685h5v5h-5zM765 785h5v5h-5zM775 795h5v5h-5zM860 875h5v5h-5zM890 905h5v5h-5zM980 990h5v5h-5zM1070 1095h5v5h-5zM1075 1100h5v5h-5zM1110 1130h5v5h-5zM1160 1155h5v5h-5zM1245 1255h5v5h-5zM1250 1275h5v5h-5zM1260 1285h5v5h-5zM1280 1290h5v5h-5z"/><path fill="#a22f29" d="M230 235h5v5h-5zM235 240h5v5h-5zM255 305h5v5h-5zM300 325h5v5h-5zM555 575h5v5h-5zM565 585h5v5h-5zM760 780h5v5h-5zM935 950h5v5h-5zM1050 1060h5v5h-5zM1060 1145h5v5h-5zM1065 1155h5v5h-5zM1080 1105h5v5h-5zM1120 1140h5v5h-5zM1130 1145h5v5h-5zM1270 1290h5v5h-5z"/><path fill="#b32d21" d="M230 240h5v5h-5zM290 325h5v5h-5zM325 340h5v5h-5zM335 360h5v5h-5zM545 565h5v5h-5zM560 585h5v5h-5zM585 605h5v5h-5zM620 645h5v5h-5zM650 675h5v5h-5zM700 725h5v5h-5zM730 755h5v5h-5zM750 770h5v5h-5zM760 785h5v5h-5zM765 790h5v5h-5zM770 795h5v5h-5zM800 820h5v5h-5zM815 835h5v5h-5zM855 875h5v5h-5zM895 915h5v5h-5zM1010 1025h5v5h-5zM1085 1115h5v5h-5z"/><path fill="#c4271b" d="M230 245h5v5h-5zM245 270h5v5h-5zM280 325h5v5h-5zM325 345h5v5h-5zM340 385h5v5h-5zM380 395h5v5h-5zM495 515h5v5h-5zM515 535h5v5h-5zM545 570h5v5h-5zM595 620h5v5h-5zM605 635h5v5h-5zM625 650h5v5h-5zM665 695h5v5h-5zM675 700h5v5h-5zM680 705h5v5h-5zM690 715h5v5h-5zM720 750h5v5h-5zM735 760h5v5h-5zM760 790h5v5h-5zM765 795h5v5h-5zM770 800h5v5h-5zM780 810h5v5h-5zM810 830h5v5h-5zM820 845h5v5h-5zM840 865h5v5h-5zM845 870h5v5h-5zM860 880h5v5h-5zM955 975h5v5h-5zM1085 1120h5v5h-5zM1090 1125h5v5h-5z"/><path fill="#d1331d" d="M230 250h5v5h-5zM245 280h5v5h-5zM250 300h5v5h-5zM255 320h5v5h-5zM325 350h5v5h-5zM375 395h5v5h-5zM485 505h5v5h-5zM495 520h5v5h-5zM500 525h5v5h-5zM550 580h5v5h-5zM595 625h5v5h-5zM610 645h5v5h-5zM635 665h5v5h-5zM640 670h5v5h-5zM660 695h5v5h-5zM675 705h5v5h-5zM685 715h5v5h-5zM775 810h5v5h-5zM780 815h5v5h-5zM820 850h5v5h-5zM925 945h5v5h-5zM1005 1025h5v5h-5zM1010 1030h5v5h-5zM1025 1040h5v5h-5zM1070 1105h5v5h-5zM1075 1120h5v5h-5zM1080 1130h5v5h-5zM1105 1140h5v5h-5zM1120 1145h5v5h-5zM1145 1155h5v5h-5z"/><path fill="#d64922" d="M230 265h5v5h-5zM280 330h5v5h-5zM295 335h5v5h-5zM330 370h5v5h-5zM360 395h5v5h-5zM365 395h5v5h-5zM385 400h5v5h-5zM485 510h5v5h-5zM495 525h5v5h-5zM500 530h5v5h-5zM520 545h5v5h-5zM545 585h5v5h-5zM550 590h5v5h-5zM590 625h5v5h-5zM610 650h5v5h-5zM635 670h5v5h-5zM680 715h5v5h-5zM735 770h5v5h-5zM750 785h5v5h-5zM765 810h5v5h-5zM785 820h5v5h-5zM815 850h5v5h-5zM820 855h5v5h-5zM830 870h5v5h-5zM850 880h5v5h-5zM875 905h5v5h-5zM905 930h5v5h-5zM925 950h5v5h-5zM940 970h5v5h-5zM1070 1110h5v5h-5zM1070 1125h5v5h-5zM1095 1140h5v5h-5zM1130 1150h5v5h-5z"/><path fill="#8e3031" d="M235 230h5v5h-5zM450 480h5v5h-5zM550 565h5v5h-5zM585 600h5v5h-5zM635 650h5v5h-5zM690 705h5v5h-5zM695 710h5v5h-5zM820 835h5v5h-5zM985 995h5v5h-5zM1020 1030h5v5h-5zM1060 1070h5v5h-5zM1065 1080h5v5h-5zM1245 1250h5v5h-5zM1250 1270h5v5h-5z"/><path fill="#923030" d="M235 235h5v5h-5zM255 290h5v5h-5zM545 560h5v5h-5zM855 870h5v5h-5zM1090 1110h5v5h-5zM1095 1115h5v5h-5zM1255 1280h5v5h-5z"/><path fill="#af2e22" d="M235 245h5v5h-5zM245 260h5v5h-5zM320 335h5v5h-5zM455 490h5v5h-5zM485 500h5v5h-5zM590 610h5v5h-5zM600 625h5v5h-5zM640 660h5v5h-5zM685 705h5v5h-5zM745 765h5v5h-5zM755 775h5v5h-5zM775 800h5v5h-5zM780 805h5v5h-5zM915 930h5v5h-5zM970 985h5v5h-5zM995 1010h5v5h-5zM1000 1015h5v5h-5zM1110 1135h5v5h-5zM1245 1275h5v5h-5zM1260 1290h5v5h-5z"/><path fill="#c1281c" d="M235 250h5v5h-5zM305 330h5v5h-5zM405 400h5v5h-5zM550 575h5v5h-5zM650 680h5v5h-5zM705 735h5v5h-5zM710 740h5v5h-5zM755 780h5v5h-5zM775 805h5v5h-5zM905 925h5v5h-5zM940 960h5v5h-5zM950 970h5v5h-5zM960 980h5v5h-5zM985 1000h5v5h-5zM1060 1075h5v5h-5zM1105 1135h5v5h-5z"/><path fill="#d43f20" d="M235 265h5v5h-5zM240 270h5v5h-5zM245 285h5v5h-5zM260 325h5v5h-5zM330 365h5v5h-5zM335 375h5v10h-5zM370 395h5v5h-5zM460 495h5v5h-5zM540 570h5v5h-5zM550 585h5v5h-5zM560 595h5v5h-5zM575 605h5v5h-5zM595 630h5v5h-5zM605 645h5v5h-5zM625 660h5v5h-5zM655 695h5v5h-5zM695 730h5v5h-5zM725 760h5v5h-5zM740 770h5v5h-5zM745 775h5v5h-5zM770 810h5v5h-5zM775 815h5v5h-5zM800 830h5v5h-5zM825 860h5v5h-5zM835 870h5v5h-5zM955 980h5v5h-5zM980 1000h5v5h-5zM1050 1065h5v5h-5zM1075 1130h5v5h-5zM1100 1140h5v5h-5zM1275 1295h5v5h-5z"/><path fill="#873032" d="M240 235h5v5h-5zM335 345h5v5h-5zM340 370h5v5h-5zM595 610h5v5h-5zM685 700h5v5h-5zM830 845h5v5h-5zM840 855h5v5h-5zM990 1000h5v5h-5zM1125 1140h5v5h-5zM1250 1265h5v5h-5zM1270 1285h5v5h-5zM1285 1290h5v5h-5z"/><path fill="#833033" d="M240 240h5v5h-5zM255 285h5v5h-5zM345 385h5v5h-5zM560 575h5v5h-5zM565 580h5v5h-5zM580 595h5v5h-5zM740 755h5v5h-5zM760 775h5v5h-5zM845 860h5v5h-5zM925 935h5v5h-5zM1000 1010h5v5h-5zM1010 1020h5v5h-5z"/><path fill="#9a2f2c" d="M240 245h5v5h-5zM250 265h5v5h-5zM255 295h5v5h-5zM265 320h5v5h-5zM325 335h5v5h-5zM395 395h5v5h-5zM480 495h5v5h-5zM615 635h5v5h-5zM705 725h5v5h-5zM730 750h5v5h-5zM750 765h5v5h-5zM785 805h5v5h-5zM815 830h5v5h-5zM895 910h5v5h-5z"/><path fill="#ba2a1f" d="M240 255h5v5h-5zM245 265h5v5h-5zM255 315h5v5h-5zM285 325h5v5h-5zM350 390h5v5h-5zM385 395h5v5h-5zM445 450h5v5h-5zM475 495h5v5h-5zM505 525h5v5h-5zM510 530h5v5h-5zM645 670h5v5h-5zM655 685h5v5h-5zM715 745h5v5h-5zM805 825h5v5h-5zM830 855h5v5h-5zM835 860h5v5h-5zM975 990h5v5h-5zM990 1005h5v5h-5zM1015 1030h5v5h-5zM1070 1150h5v5h-5zM1240 1240h5v5h-5zM1250 1290h5v5h-5zM1255 1290h5v5h-5zM1295 1295h5v5h-5z"/><path fill="#d2381e" d="M240 275h5v5h-5zM250 310h5v5h-5zM285 330h5v5h-5zM290 330h5v5h-5zM320 345h5v5h-5zM330 360h5v5h-5zM450 490h5v5h-5zM465 495h5v5h-5zM510 535h5v5h-5zM580 610h5v5h-5zM590 620h5v5h-5zM625 655h5v5h-5zM690 720h5v5h-5zM720 755h5v5h-5zM760 795h5v5h-5zM790 820h5v5h-5zM830 865h5v5h-5zM900 925h5v5h-5zM940 965h5v5h-5zM1040 1055h5v5h-5zM1045 1060h5v5h-5zM1060 1080h5v5h-5zM1075 1115h5v5h-5zM1075 1125h5v5h-5zM1090 1135h5v5h-5zM1240 1255h5v5h-5zM1280 1295h5v5h-5z"/><path fill="#783036" d="M245 240h5v10h-5zM340 365h5v5h-5zM530 540h5v5h-5zM670 685h5v5h-5zM705 720h5v5h-5zM710 725h5v5h-5zM730 745h5v5h-5zM765 780h5v5h-5zM930 940h5v5h-5zM965 975h5v5h-5zM1270 1280h5v5h-5z"/><path fill="#8b3032" d="M245 250h5v5h-5zM250 260h5v5h-5zM310 325h5v5h-5zM375 390h5v5h-5zM555 570h5v5h-5zM640 655h5v5h-5zM645 660h5v5h-5zM745 760h5v5h-5zM800 815h5v5h-5zM825 840h5v5h-5zM835 850h5v5h-5zM850 865h5v5h-5zM1015 1025h5v5h-5zM1065 1145h5v5h-5zM1085 1105h5v5h-5zM1255 1275h5v5h-5zM1260 1280h5v5h-5zM1265 1285h5v5h-5z"/><path fill="#9f2f2a" d="M245 255h5v5h-5zM255 300h5v5h-5zM335 350h5v5h-5zM365 390h5v5h-5zM445 445h5v5h-5zM495 510h5v5h-5zM500 515h5v5h-5zM515 530h5v5h-5zM520 535h5v5h-5zM540 555h5v5h-5zM650 670h5v5h-5zM675 695h5v5h-5zM735 755h5v5h-5zM880 895h5v5h-5zM905 920h5v5h-5zM1045 1055h5v5h-5zM1055 1065h5v5h-5zM1140 1150h5v5h-5zM1250 1280h5v5h-5z"/><path fill="#5f2c38" d="M250 245h5v5h-5zM320 325h5v5h-5zM545 555h5v5h-5zM895 905h5v5h-5zM1285 1280h5v5h-5z"/><path fill="#5c2b38" d="M250 250h5v5h-5zM645 655h5v5h-5zM750 760h5v5h-5zM755 765h5v5h-5zM1065 1075h5v5h-5zM1075 1095h5v5h-5zM1260 1260h5v5h-5zM1265 1260h5v10h-5zM1270 1265h5v5h-5zM1275 1270h5v10h-5zM1280 1275h5v5h-5z"/><path fill="#743037" d="M250 255h5v5h-5zM275 320h5v5h-5zM315 325h5v5h-5zM380 390h5v5h-5zM490 500h5v5h-5zM535 545h5v5h-5zM605 620h5v5h-5zM620 635h5v5h-5zM655 670h5v5h-5zM660 675h5v5h-5zM675 690h5v5h-5zM720 735h5v5h-5zM725 740h5v5h-5zM735 750h5v5h-5zM770 785h5v5h-5zM915 925h5v5h-5zM940 950h5v5h-5zM945 955h5v5h-5zM1135 1145h5v5h-5zM1155 1155h5v5h-5zM1250 1260h5v5h-5zM1255 1265h5v5h-5zM1275 1285h5v5h-5z"/><path fill="#a52f27" d="M250 270h5v5h-5zM390 395h5v5h-5zM450 485h5v5h-5zM550 570h5v5h-5zM560 580h5v5h-5zM695 715h5v5h-5zM790 810h5v5h-5zM835 855h5v5h-5zM840 860h5v5h-5zM865 880h5v5h-5zM910 925h5v5h-5zM940 955h5v5h-5zM945 960h5v5h-5zM950 965h5v5h-5zM1040 1050h5v5h-5zM1095 1120h5v5h-5zM1245 1265h5v5h-5zM1250 1285h5v5h-5z"/><path fill="#ad2e24" d="M250 275h5v5h-5zM255 310h5v5h-5zM295 325h5v5h-5zM330 345h5v5h-5zM490 505h5v5h-5zM580 600h5v5h-5zM595 615h5v5h-5zM605 630h5v5h-5zM615 640h5v5h-5zM635 655h5v5h-5zM660 685h5v5h-5zM690 710h5v5h-5zM705 730h5v5h-5zM720 745h5v5h-5zM725 750h5v5h-5zM740 760h5v5h-5zM785 810h5v5h-5zM850 870h5v5h-5zM1035 1045h5v5h-5zM1065 1085h5v5h-5zM1265 1290h5v5h-5z"/><path fill="#bd291d" d="M250 285h5v5h-5zM330 350h5v5h-5zM335 365h5v5h-5zM400 400h5v5h-5zM445 440h5v5h-5zM500 520h5v5h-5zM555 580h5v5h-5zM660 690h5v5h-5zM695 720h5v5h-5zM790 815h5v5h-5zM900 920h5v5h-5zM920 935h5v5h-5zM1070 1100h5v5h-5zM1075 1105h5v5h-5zM1080 1110h5v10h-5zM1100 1130h5v5h-5zM1115 1140h5v5h-5zM1125 1145h5v5h-5zM1240 1235h5v5h-5zM1240 1295h5v5h-5zM1245 1285h5v5h-5z"/><path fill="#322838" d="M255 250h5v5h-5zM450 455h5v5h-5zM455 475h5v5h-5zM465 485h5v5h-5zM495 500h5v5h-5zM535 540h5v5h-5zM915 920h5v5h-5zM945 950h5v5h-5z"/><path fill="#352838" d="M255 255h5v5h-5zM265 315h5v5h-5zM480 490h5v5h-5zM920 925h5v5h-5zM930 935h5v5h-5zM935 940h5v5h-5zM950 955h5v5h-5zM965 970h5v5h-5zM1075 1090h5v5h-5zM1140 1145h5v5h-5zM1155 1150h5v5h-5z"/><path fill="#432838" d="M255 260h5v5h-5zM305 320h5v5h-5zM455 480h5v5h-5zM460 485h5v5h-5zM985 990h5v5h-5zM1065 1150h5v5h-5zM1100 1110h5v5h-5zM1105 1115h5v5h-5zM1115 1125h5v5h-5z"/><path fill="#532938" d="M255 265h5v5h-5zM560 570h5v5h-5zM585 595h5v5h-5zM690 700h5v5h-5zM805 815h5v5h-5zM840 850h5v5h-5zM845 855h5v5h-5zM1035 1040h5v5h-5z"/><path fill="#642e38" d="M255 270h5v5h-5zM455 485h5v5h-5zM860 870h5v5h-5zM880 890h5v5h-5zM885 895h5v5h-5zM890 900h5v5h-5zM1255 1260h5v5h-5zM1265 1270h5v5h-5zM1285 1285h5v5h-5zM1290 1285h5v5h-5z"/><path fill="#703038" d="M255 275h5v5h-5zM260 315h5v5h-5zM495 505h5v5h-5zM610 625h5v5h-5zM615 630h5v5h-5zM625 640h5v5h-5zM665 680h5v5h-5zM715 730h5v5h-5zM955 965h5v5h-5zM1070 1090h5v5h-5zM1080 1100h5v5h-5zM1100 1115h5v5h-5zM1105 1120h5v5h-5zM1110 1125h5v5h-5zM1115 1130h5v5h-5zM1250 1255h5v5h-5zM1260 1270h5v5h-5z"/><path fill="#7c3035" d="M255 280h5v5h-5zM325 330h5v5h-5zM450 475h5v5h-5zM570 585h5v5h-5zM575 590h5v5h-5zM650 665h5v5h-5zM700 715h5v5h-5zM775 790h5v5h-5zM785 800h5v5h-5zM795 810h5v5h-5zM960 970h5v5h-5zM970 980h5v5h-5zM995 1005h5v5h-5zM1120 1135h5v5h-5zM1245 1240h5v5h-5zM1260 1275h5v5h-5zM1265 1280h5v5h-5zM1290 1290h5v5h-5z"/><path fill="#0a0a2e" d="M260 255h5v20h-5zM265 260h5v50h-5zM270 265h5v50h-5zM275 270h5v45h-5zM280 275h5v40h-5zM285 280h5v35h-5zM290 285h5v35h-5zM295 290h5v30h-5zM300 295h5v25h-5zM305 300h5v20h-5zM310 305h5v15h-5zM315 310h5v10h-5zM320 315h5v5h-5zM345 340h5v20h-5zM350 345h5v30h-5zM355 350h5v30h-5zM360 355h5v30h-5zM365 360h5v25h-5zM370 365h5v20h-5zM375 370h5v15h-5zM380 375h5v10h-5zM385 380h5v5h-5zM455 450h5v15h-5zM460 455h5v20h-5zM465 460h5v20h-5zM470 465h5v20h-5zM475 470h5v20h-5zM480 475h5v15h-5zM485 480h5v15h-5zM490 485h5v10h-5zM495 490h5v10h-5zM500 495h5v10h-5zM505 500h5v10h-5zM510 505h5v10h-5zM515 510h5v10h-5zM520 515h5v10h-5zM525 520h5v10h-5zM530 525h5v10h-5zM535 530h5v10h-5zM540 535h5v10h-5zM545 540h5v10h-5zM550 545h5v10h-5zM555 550h5v10h-5zM560 555h5v10h-5zM565 560h5v10h-5zM570 565h5v10h-5zM575 570h5v10h-5zM580 575h5v10h-5zM585 580h5v10h-5zM590 585h5v10h-5zM595 590h5v10h-5zM600 595h5v10h-5zM605 600h5v10h-5zM610 605h5v10h-5zM615 610h5v10h-5zM620 615h5v10h-5zM625 620h5v10h-5zM630 625h5v10h-5zM635 630h5v10h-5zM640 635h5v10h-5zM645 640h5v10h-5zM650 645h5v10h-5zM655 650h5v10h-5zM660 655h5v10h-5zM665 660h5v10h-5zM670 665h5v10h-5zM675 670h5v10h-5zM680 675h5v10h-5zM685 680h5v10h-5zM690 685h5v10h-5zM695 690h5v10h-5zM700 695h5v10h-5zM705 700h5v10h-5zM710 705h5v10h-5zM715 710h5v10h-5zM720 715h5v10h-5zM725 720h5v10h-5zM730 725h5v10h-5zM735 730h5v10h-5zM740 735h5v10h-5zM745 740h5v10h-5zM750 745h5v10h-5zM755 750h5v10h-5zM760 755h5v10h-5zM765 760h5v10h-5zM770 765h5v10h-5zM775 770h5v10h-5zM780 775h5v10h-5zM785 780h5v10h-5zM790 785h5v10h-5zM795 790h5v10h-5zM800 795h5v10h-5zM805 800h5v10h-5zM810 805h5v10h-5zM815 810h5v10h-5zM820 815h5v10h-5zM825 820h5v10h-5zM830 825h5v10h-5zM835 830h5v10h-5zM840 835h5v10h-5zM845 840h5v10h-5zM850 845h5v10h-5zM855 850h5v10h-5zM860 855h5v10h-5zM865 860h5v10h-5zM870 865h5v10h-5zM875 870h5v10h-5zM880 875h5v10h-5zM885 880h5v10h-5zM890 885h5v10h-5zM895 890h5v10h-5zM900 895h5v10h-5zM905 900h5v10h-5zM910 905h5v10h-5zM915 910h5v10h-5zM920 915h5v10h-5zM925 920h5v10h-5zM930 925h5v10h-5zM935 930h5v10h-5zM940 935h5v10h-5zM945 940h5v10h-5zM950 945h5v10h-5zM955 950h5v10h-5zM960 955h5v10h-5zM965 960h5v10h-5zM970 965h5v10h-5zM975 970h5v10h-5zM980 975h5v10h-5zM985 980h5v10h-5zM990 985h5v10h-5zM995 990h5v10h-5zM1000 995h5v10h-5zM1005 1000h5v10h-5zM1010 1005h5v10h-5zM1015 1010h5v10h-5zM1020 1015h5v10h-5zM1025 1020h5v10h-5zM1030 1025h5v10h-5zM1035 1030h5v10h-5zM1040 1035h5v10h-5zM1045 1040h5v10h-5zM1050 1045h5v10h-5zM1055 1050h5v10h-5zM1060 1055h5v10h-5zM1065 1060h5v10h-5zM1070 1065h5v15h-5zM1075 1070h5v15h-5zM1080 1075h5v20h-5zM1085 1080h5v15h-5zM1090 1085h5v15h-5zM1095 1090h5v15h-5zM1100 1095h5v10h-5zM1105 1100h5v10h-5zM1110 1105h5v10h-5zM1115 1110h5v10h-5zM1120 1115h5v10h-5zM1125 1120h5v10h-5zM1130 1125h5v10h-5zM1135 1130h5v10h-5zM1140 1135h5v10h-5zM1145 1140h5v10h-5zM1150 1145h5v5h-5z"/><path fill="#101034" d="M260 275h5v5h-5zM325 320h5v5h-5zM455 465h5v5h-5zM635 640h5v5h-5zM730 735h5v5h-5zM1105 1110h5v5h-5z"/><path fill="#161638" d="M260 280h5v5h-5zM275 315h5v5h-5zM320 320h5v5h-5zM580 585h5v5h-5zM600 605h5v5h-5zM655 660h5v5h-5zM675 680h5v5h-5zM690 695h5v5h-5zM700 705h5v5h-5zM715 720h5v5h-5zM740 745h5v5h-5zM765 770h5v5h-5zM770 775h5v5h-5zM775 780h5v5h-5zM780 785h5v5h-5zM1130 1135h5v5h-5z"/><path fill="#1f1c38" d="M260 285h5v5h-5zM550 555h5v5h-5zM555 560h5v5h-5zM805 810h5v5h-5zM820 825h5v5h-5zM850 855h5v5h-5zM860 865h5v5h-5zM1065 1070h5v5h-5z"/><path fill="#252038" d="M260 290h5v5h-5zM315 320h5v5h-5zM490 495h5v5h-5zM815 820h5v5h-5zM865 870h5v5h-5zM1150 1150h5v5h-5z"/><path fill="#302838" d="M260 295h5v5h-5zM500 505h5v5h-5zM515 520h5v5h-5zM940 945h5v5h-5z"/><path fill="#392838" d="M260 300h5v5h-5zM960 965h5v5h-5z"/><path fill="#3b2838" d="M260 305h5v5h-5zM345 375h5v5h-5zM925 930h5v5h-5zM990 995h5v5h-5zM1000 1005h5v5h-5z"/><path fill="#492838" d="M260 310h5v5h-5zM450 460h5v5h-5zM625 635h5v5h-5zM630 640h5v5h-5zM655 665h5v5h-5zM660 670h5v5h-5zM670 680h5v5h-5zM675 685h5v5h-5zM680 690h5v5h-5zM710 720h5v5h-5zM715 725h5v5h-5zM730 740h5v5h-5zM735 745h5v5h-5zM765 775h5v5h-5zM1125 1135h5v5h-5z"/><path fill="#0f0f33" d="M265 310h5v5h-5zM385 385h5v5h-5zM1075 1085h5v5h-5z"/><path fill="#211d38" d="M270 315h5v5h-5zM340 335h5v5h-5zM375 385h5v5h-5zM830 835h5v5h-5zM855 860h5v5h-5z"/><path fill="#7f3034" d="M270 320h5v5h-5zM330 335h5v5h-5zM465 490h5v5h-5zM600 615h5v5h-5zM630 645h5v5h-5zM680 695h5v5h-5zM780 795h5v5h-5zM790 805h5v5h-5zM920 930h5v5h-5zM975 985h5v5h-5zM1005 1015h5v5h-5zM1245 1245h5v5h-5zM1255 1270h5v5h-5zM1295 1290h5v5h-5z"/><path fill="#131337" d="M280 315h5v5h-5zM345 360h5v5h-5zM355 380h5v5h-5zM380 385h5v5h-5zM585 590h5v5h-5zM615 620h5v5h-5zM625 630h5v5h-5zM630 635h5v5h-5zM660 665h5v5h-5zM670 675h5v5h-5zM725 730h5v5h-5zM735 740h5v5h-5zM1085 1095h5v5h-5zM1115 1120h5v5h-5z"/><path fill="#6a2f38" d="M280 320h5v5h-5zM470 490h5v5h-5zM515 525h5v5h-5zM540 550h5v5h-5zM905 915h5v5h-5zM1145 1150h5v5h-5z"/><path fill="#0e0e32" d="M285 315h5v5h-5zM350 375h5v5h-5zM465 480h5v5h-5z"/><path fill="#672e38" d="M285 320h5v5h-5zM340 360h5v5h-5zM485 495h5v5h-5zM505 515h5v5h-5zM510 520h5v5h-5zM810 820h5v5h-5zM815 825h5v5h-5zM865 875h5v5h-5zM900 910h5v5h-5zM910 920h5v5h-5zM1090 1105h5v5h-5z"/><path fill="#612d38" d="M290 320h5v5h-5zM385 390h5v5h-5zM450 465h5v5h-5zM1250 1245h5v10h-5zM1255 1255h5v5h-5zM1260 1265h5v5h-5z"/><path fill="#592b38" d="M295 320h5v5h-5zM340 355h5v5h-5zM350 385h5v5h-5zM550 560h5v5h-5zM595 605h5v5h-5zM820 830h5v5h-5zM1255 1250h5v5h-5zM1260 1255h5v5h-5zM1280 1280h5v5h-5z"/><path fill="#4e2838" d="M300 320h5v5h-5zM335 335h5v5h-5zM575 585h5v5h-5zM600 610h5v5h-5zM685 695h5v5h-5zM700 710h5v5h-5zM800 810h5v5h-5zM830 840h5v5h-5zM1040 1045h5v5h-5zM1070 1085h5v5h-5z"/><path fill="#9d2f2b" d="M305 325h5v5h-5zM330 340h5v5h-5zM505 520h5v5h-5zM510 525h5v5h-5zM570 590h5v5h-5zM600 620h5v5h-5zM620 640h5v5h-5zM625 645h5v5h-5zM700 720h5v5h-5zM720 740h5v5h-5zM725 745h5v5h-5zM770 790h5v5h-5zM780 800h5v5h-5zM810 825h5v5h-5zM885 900h5v5h-5zM900 915h5v5h-5zM1115 1135h5v5h-5zM1245 1260h5v5h-5zM1255 1285h5v5h-5zM1275 1290h5v5h-5z"/><path fill="#372838" d="M310 320h5v5h-5zM365 385h5v5h-5zM955 960h5v5h-5zM970 975h5v5h-5zM975 980h5v5h-5zM1080 1095h5v5h-5z"/><path fill="#cd2719" d="M320 340h5v5h-5zM330 355h5v5h-5zM445 455h5v5h-5zM470 495h5v5h-5zM490 510h5v5h-5zM535 555h5v5h-5zM645 675h5v5h-5zM710 745h5v5h-5zM730 760h5v5h-5zM750 775h5v5h-5zM805 830h5v5h-5zM815 840h5v5h-5zM825 855h5v5h-5zM865 885h5v5h-5zM1085 1125h5v5h-5zM1095 1130h5v5h-5zM1110 1140h5v5h-5zM1240 1290h5v5h-5z"/><path fill="#472838" d="M325 325h5v5h-5zM345 380h5v5h-5zM570 580h5v5h-5zM605 615h5v5h-5zM610 620h5v5h-5zM615 625h5v5h-5zM620 630h5v5h-5zM725 735h5v5h-5zM770 780h5v5h-5zM775 785h5v5h-5zM1025 1030h5v5h-5zM1120 1130h5v5h-5z"/><path fill="#412838" d="M330 325h5v5h-5zM335 330h5v5h-5zM1010 1015h5v5h-5zM1020 1025h5v5h-5z"/><path fill="#562a38" d="M330 330h5v5h-5zM395 390h5v5h-5zM555 565h5v5h-5zM590 600h5v5h-5zM640 650h5v5h-5zM695 705h5v5h-5zM850 860h5v5h-5zM855 865h5v5h-5zM1130 1140h5v5h-5zM1270 1270h5v5h-5z"/><path fill="#6d3038" d="M335 340h5v5h-5zM450 470h5v5h-5zM500 510h5v5h-5zM520 530h5v5h-5zM525 535h5v5h-5zM870 880h5v5h-5zM875 885h5v5h-5zM935 945h5v5h-5zM950 960h5v5h-5zM1095 1110h5v5h-5zM1265 1275h5v5h-5zM1270 1275h5v5h-5zM1275 1280h5v5h-5zM1280 1285h5v5h-5z"/><path fill="#282238" d="M340 340h5v5h-5zM890 895h5v5h-5z"/><path fill="#3f2838" d="M340 345h5v5h-5zM980 985h5v5h-5zM1015 1020h5v5h-5zM1060 1065h5v5h-5zM1095 1105h5v5h-5z"/><path fill="#4c2838" d="M340 350h5v5h-5zM355 385h5v5h-5zM635 645h5v5h-5zM650 660h5v5h-5zM720 730h5v5h-5zM740 750h5v5h-5zM780 790h5v5h-5zM785 795h5v5h-5zM790 800h5v5h-5zM795 805h5v5h-5zM1030 1035h5v5h-5zM1045 1050h5v5h-5zM1050 1055h5v5h-5zM1060 1150h5v5h-5z"/><path fill="#95302f" d="M340 375h5v5h-5zM400 395h5v5h-5zM610 630h5v5h-5zM655 675h5v5h-5zM660 680h5v5h-5zM670 690h5v5h-5zM710 730h5v5h-5zM715 735h5v5h-5zM755 770h5v5h-5zM805 820h5v5h-5zM1025 1035h5v5h-5zM1100 1120h5v5h-5zM1105 1125h5v5h-5z"/><path fill="#1d1a38" d="M345 365h5v5h-5zM810 815h5v5h-5zM825 830h5v5h-5zM835 840h5v5h-5zM840 845h5v5h-5z"/><path fill="#2c2538" d="M345 370h5v5h-5zM450 445h5v5h-5zM520 525h5v5h-5zM540 545h5v5h-5zM870 875h5v5h-5zM895 900h5v5h-5zM1090 1100h5v5h-5z"/><path fill="#231f38" d="M350 380h5v5h-5zM455 470h5v5h-5zM460 480h5v5h-5zM545 550h5v5h-5zM1135 1140h5v5h-5z"/><path fill="#3d2838" d="M360 385h5v5h-5zM995 1000h5v5h-5zM1005 1010h5v5h-5z"/><path fill="#2e2738" d="M370 385h5v5h-5zM505 510h5v5h-5zM510 515h5v5h-5zM530 535h5v5h-5zM875 880h5v5h-5zM880 885h5v5h-5zM905 910h5v5h-5zM910 915h5v5h-5z"/><path fill="#0b0b2f" d="M390 385h5v5h-5z"/><path fill="#502938" d="M390 390h5v5h-5zM475 490h5v5h-5zM565 575h5v5h-5zM580 590h5v5h-5zM745 755h5v5h-5zM760 770h5v5h-5zM825 835h5v5h-5zM835 845h5v5h-5zM1085 1100h5v5h-5z"/><path fill="#141438" d="M450 450h5v5h-5zM605 610h5v5h-5zM610 615h5v5h-5zM620 625h5v5h-5zM665 670h5v5h-5zM680 685h5v5h-5zM685 690h5v5h-5zM705 710h5v5h-5zM710 715h5v5h-5zM720 725h5v5h-5zM745 750h5v5h-5zM790 795h5v5h-5zM1120 1125h5v5h-5zM1125 1130h5v5h-5z"/><path fill="#111135" d="M460 475h5v5h-5zM1110 1115h5v5h-5z"/><path fill="#1b1938" d="M470 485h5v5h-5zM560 565h5v5h-5zM565 570h5v5h-5zM590 595h5v5h-5zM595 600h5v5h-5zM645 650h5v5h-5zM695 700h5v5h-5zM755 760h5v5h-5zM760 765h5v5h-5zM845 850h5v5h-5z"/><path fill="#2a2438" d="M525 530h5v5h-5zM885 890h5v5h-5zM900 905h5v5h-5zM1070 1080h5v5h-5z"/><path fill="#aa2e25" d="M525 540h5v5h-5zM530 545h5v5h-5zM630 650h5v5h-5zM655 680h5v5h-5zM665 690h5v5h-5zM680 700h5v5h-5zM710 735h5v5h-5zM715 740h5v5h-5zM795 815h5v5h-5zM820 840h5v5h-5zM870 885h5v5h-5zM930 945h5v5h-5zM955 970h5v5h-5zM1005 1020h5v5h-5zM1030 1040h5v5h-5zM1060 1155h5v5h-5zM1085 1110h5v5h-5zM1090 1115h5v5h-5zM1150 1155h5v5h-5zM1245 1290h5v5h-5z"/><path fill="#181738" d="M570 575h5v5h-5zM575 580h5v5h-5zM640 645h5v5h-5zM650 655h5v5h-5zM750 755h5v5h-5zM785 790h5v5h-5zM795 800h5v5h-5zM800 805h5v5h-5z"/><path fill="#452838" d="M665 675h5v5h-5zM705 715h5v5h-5zM1055 1060h5v5h-5zM1110 1120h5v5h-5z"/><path fill="#0c0c30" d="M1100 1105h5v5h-5z"/></g></g><g clip-path="url(#clipZ)"><rect x="235" y="607" width="1058" height="522" fill="#f6f6f6"/><g transform="matrix(0.5,-0.5,0.5,0.5,0,606)"><path fill="#fbe0d0" d="M-260 750h5v5h-5zM-250 725h5v5h-5zM-245 810h5v5h-5zM-240 800h5v5h-5zM-240 810h5v5h-5zM-190 755h5v5h-5zM-185 865h5v5h-5zM-150 655h5v5h-5zM-140 835h5v5h-5zM-125 700h5v5h-5zM-120 770h5v5h-5zM-95 880h5v5h-5zM-85 725h5v5h-5zM-85 815h5v5h-5zM-75 540h5v5h-5zM-50 845h5v5h-5zM-40 815h5v5h-5zM-40 830h5v5h-5zM-40 855h5v5h-5zM-40 885h5v5h-5zM-40 915h5v5h-5zM-35 610h5v5h-5zM-35 845h5v5h-5zM-30 835h5v5h-5zM-25 840h5v5h-5zM-25 950h5v5h-5zM-10 725h5v5h-5zM-10 795h5v5h-5zM-5 925h5v5h-5zM-5 970h5v5h-5zM10 745h5v5h-5zM10 905h5v5h-5zM10 980h5v5h-5zM15 990h5v5h-5zM35 450h5v5h-5zM35 555h5v5h-5zM40 685h5v5h-5zM40 910h5v5h-5zM40 965h5v5h-5zM50 995h5v5h-5zM55 735h5v5h-5zM60 980h5v5h-5zM60 1080h5v5h-5zM70 760h5v5h-5zM70 1065h5v5h-5zM70 1105h5v5h-5zM75 705h5v5h-5zM75 995h5v5h-5zM75 1075h5v5h-5zM75 1095h5v5h-5zM80 965h5v5h-5zM85 870h5v5h-5zM85 945h5v5h-5zM90 970h5v5h-5zM90 1025h5v5h-5zM105 710h5v5h-5zM110 935h5v5h-5zM110 1055h5v5h-5zM110 1105h5v5h-5zM115 900h5v5h-5zM125 745h5v5h-5zM125 940h5v5h-5zM130 850h5v5h-5zM135 585h5v5h-5zM135 655h5v5h-5zM145 1085h5v5h-5zM150 725h5v5h-5zM150 1070h5v5h-5zM150 1150h5v5h-5zM155 880h5v5h-5zM160 940h5v5h-5zM160 1125h5v5h-5zM160 1160h5v5h-5zM170 980h5v5h-5zM170 1205h5v5h-5zM175 505h5v5h-5zM175 1140h5v5h-5zM175 1145h5v5h-5zM175 1150h5v5h-5zM175 1220h5v5h-5zM180 940h5v5h-5zM185 900h5v5h-5zM190 1160h5v5h-5zM195 600h5v5h-5zM195 800h5v5h-5zM195 935h5v5h-5zM200 840h5v5h-5zM200 1155h5v5h-5zM200 1220h5v5h-5zM200 1245h5v5h-5zM205 1000h5v5h-5zM205 1170h5v5h-5zM210 980h5v5h-5zM210 1170h5v5h-5zM210 1215h5v5h-5zM215 1090h5v5h-5zM215 1110h5v5h-5zM215 1190h5v5h-5zM220 655h5v5h-5zM220 1195h5v5h-5zM220 1230h5v5h-5zM225 905h5v5h-5zM225 940h5v5h-5zM225 1095h5v5h-5zM225 1100h5v5h-5zM225 1280h5v5h-5zM230 675h5v5h-5zM230 1085h5v5h-5zM230 1120h5v5h-5zM230 1180h5v5h-5zM235 635h5v5h-5zM235 1030h5v5h-5zM235 1120h5v5h-5zM235 1180h5v5h-5zM240 465h5v5h-5zM240 1150h5v5h-5zM245 1115h5v5h-5zM250 1050h5v5h-5zM250 1150h5v5h-5zM250 1170h5v5h-5zM255 1155h5v5h-5zM255 1195h5v5h-5zM255 1310h5v5h-5zM260 560h5v5h-5zM260 1170h5v5h-5zM260 1190h5v5h-5zM265 1095h5v5h-5zM265 1100h5v5h-5zM265 1140h5v5h-5zM265 1160h5v5h-5zM265 1180h5v5h-5zM265 1205h5v5h-5zM270 1140h5v5h-5zM270 1180h5v5h-5zM270 1230h5v5h-5zM270 1245h5v5h-5zM275 815h5v5h-5zM275 930h5v5h-5zM275 1030h5v5h-5zM275 1075h5v5h-5zM275 1120h5v5h-5zM275 1150h5v5h-5zM275 1180h5v5h-5zM280 1115h5v5h-5zM280 1130h5v5h-5zM280 1170h5v5h-5zM280 1210h5v5h-5zM280 1230h5v5h-5zM285 1120h5v5h-5zM285 1180h5v5h-5zM285 1195h5v5h-5zM285 1220h5v5h-5zM285 1240h5v5h-5zM290 1080h5v5h-5zM290 1160h5v5h-5zM290 1180h5v5h-5zM290 1185h5v5h-5zM290 1200h5v5h-5zM290 1265h5v5h-5zM295 850h5v5h-5zM295 890h5v5h-5zM295 1110h5v5h-5zM295 1130h5v5h-5zM295 1160h5v5h-5zM295 1200h5v5h-5zM295 1265h5v5h-5zM300 660h5v5h-5zM300 1235h5v5h-5zM300 1250h5v5h-5zM305 1105h5v5h-5zM305 1120h5v5h-5zM305 1145h5v5h-5zM305 1205h5v5h-5zM305 1260h5v5h-5zM305 1270h5v5h-5zM310 415h5v5h-5zM310 540h5v5h-5zM310 895h5v5h-5zM310 1080h5v5h-5zM310 1145h5v5h-5zM310 1150h5v5h-5zM310 1225h5v5h-5zM310 1235h5v5h-5zM310 1240h5v5h-5zM310 1255h5v5h-5zM310 1310h5v5h-5zM310 1340h5v5h-5zM315 970h5v5h-5zM315 1145h5v5h-5zM315 1215h5v5h-5zM315 1240h5v5h-5zM315 1275h5v5h-5zM315 1360h5v5h-5zM320 800h5v5h-5zM320 980h5v5h-5zM320 1240h5v5h-5zM320 1255h5v5h-5zM320 1265h5v5h-5zM325 1020h5v5h-5zM325 1030h5v5h-5zM325 1110h5v5h-5zM325 1130h5v5h-5zM325 1205h5v5h-5zM330 650h5v5h-5zM330 865h5v5h-5zM330 1130h5v5h-5zM330 1150h5v5h-5zM330 1155h5v5h-5zM330 1250h5v5h-5zM330 1280h5v5h-5zM330 1320h5v5h-5zM335 580h5v5h-5zM335 975h5v5h-5zM335 1110h5v5h-5zM335 1250h5v5h-5zM335 1280h5v5h-5zM340 450h5v5h-5zM340 1125h5v5h-5zM340 1135h5v5h-5zM340 1190h5v5h-5zM340 1210h5v5h-5zM340 1215h5v5h-5zM340 1240h5v5h-5zM345 565h5v5h-5zM345 800h5v5h-5zM345 920h5v5h-5zM345 1120h5v5h-5zM345 1135h5v5h-5zM345 1145h5v5h-5zM345 1165h5v5h-5zM345 1200h5v5h-5zM345 1210h5v5h-5zM345 1245h5v5h-5zM345 1310h5v5h-5zM350 1005h5v5h-5zM350 1020h5v5h-5zM350 1110h5v5h-5zM350 1120h5v5h-5zM350 1130h5v5h-5zM350 1185h5v5h-5zM350 1195h5v5h-5zM350 1210h5v5h-5zM350 1215h5v5h-5zM350 1250h5v5h-5zM350 1255h5v5h-5zM350 1265h5v5h-5zM355 1075h5v5h-5zM355 1100h5v5h-5zM355 1125h5v5h-5zM355 1130h5v5h-5zM355 1180h5v5h-5zM355 1190h5v5h-5zM355 1210h5v5h-5zM355 1260h5v5h-5zM355 1290h5v5h-5zM355 1360h5v5h-5zM360 795h5v5h-5zM360 905h5v5h-5zM360 1170h5v5h-5zM360 1230h5v5h-5zM360 1235h5v5h-5zM360 1265h5v5h-5zM360 1285h5v5h-5zM360 1290h5v5h-5zM360 1315h5v5h-5zM360 1375h5v5h-5zM365 1070h5v5h-5zM365 1095h5v5h-5zM365 1110h5v5h-5zM365 1230h5v5h-5zM365 1245h5v5h-5zM370 540h5v5h-5zM370 880h5v5h-5zM370 1080h5v5h-5zM370 1110h5v5h-5zM370 1130h5v5h-5zM370 1170h5v5h-5zM370 1175h5v5h-5zM370 1200h5v5h-5zM370 1270h5v5h-5zM370 1280h5v5h-5zM375 1115h5v5h-5zM375 1180h5v5h-5zM375 1210h5v5h-5zM375 1220h5v5h-5zM375 1250h5v5h-5zM380 820h5v5h-5zM380 1045h5v5h-5zM380 1150h5v5h-5zM380 1330h5v5h-5zM385 710h5v5h-5zM385 850h5v5h-5zM385 1095h5v5h-5zM385 1110h5v5h-5zM385 1140h5v5h-5zM385 1150h5v5h-5zM385 1190h5v5h-5zM385 1210h5v5h-5zM385 1265h5v5h-5zM385 1370h5v5h-5zM390 915h5v5h-5zM390 1135h5v5h-5zM390 1160h5v5h-5zM390 1175h5v5h-5zM390 1220h5v5h-5zM390 1240h5v5h-5zM390 1270h5v5h-5zM390 1310h5v5h-5zM390 1315h5v5h-5zM390 1405h5v5h-5zM395 945h5v5h-5zM395 1130h5v5h-5zM395 1165h5v5h-5zM395 1215h5v5h-5zM395 1225h5v5h-5zM395 1295h5v5h-5zM395 1330h5v5h-5zM400 990h5v5h-5zM400 1170h5v5h-5zM400 1235h5v5h-5zM400 1260h5v5h-5zM400 1305h5v5h-5zM400 1310h5v5h-5zM400 1325h5v5h-5zM400 1365h5v5h-5zM405 885h5v5h-5zM405 905h5v5h-5zM405 1035h5v5h-5zM405 1125h5v5h-5zM405 1130h5v5h-5zM405 1160h5v5h-5zM405 1165h5v5h-5zM405 1185h5v5h-5zM405 1220h5v5h-5zM405 1235h5v5h-5zM405 1270h5v5h-5zM405 1395h5v5h-5zM410 550h5v5h-5zM410 935h5v5h-5zM410 975h5v5h-5zM410 990h5v5h-5zM410 1150h5v5h-5zM410 1230h5v5h-5zM415 1010h5v5h-5zM415 1030h5v5h-5zM415 1040h5v5h-5zM415 1105h5v5h-5zM415 1135h5v5h-5zM415 1165h5v5h-5zM415 1190h5v5h-5zM415 1235h5v5h-5zM415 1290h5v5h-5zM415 1295h5v5h-5zM415 1320h5v5h-5zM415 1355h5v5h-5zM420 960h5v5h-5zM420 1025h5v5h-5zM420 1105h5v5h-5zM420 1145h5v5h-5zM420 1165h5v5h-5zM420 1170h5v5h-5zM420 1230h5v5h-5zM420 1240h5v5h-5zM420 1300h5v5h-5zM425 975h5v5h-5zM425 1025h5v5h-5zM425 1035h5v5h-5zM425 1065h5v5h-5zM425 1090h5v5h-5zM425 1120h5v5h-5zM425 1140h5v5h-5zM425 1165h5v5h-5zM425 1170h5v5h-5zM425 1180h5v5h-5zM425 1185h5v5h-5zM425 1200h5v5h-5zM425 1245h5v5h-5zM430 990h5v5h-5zM430 995h5v5h-5zM430 1040h5v5h-5zM430 1110h5v5h-5zM430 1185h5v5h-5zM430 1195h5v5h-5zM430 1220h5v5h-5zM430 1240h5v5h-5zM430 1275h5v5h-5zM430 1280h5v5h-5zM430 1300h5v5h-5zM430 1310h5v5h-5zM430 1320h5v5h-5zM430 1405h5v5h-5zM435 965h5v5h-5zM435 990h5v5h-5zM435 1010h5v5h-5zM435 1015h5v5h-5zM435 1120h5v5h-5zM435 1150h5v5h-5zM435 1155h5v5h-5zM435 1215h5v5h-5zM435 1220h5v5h-5zM435 1230h5v5h-5zM435 1245h5v5h-5zM435 1360h5v5h-5zM440 935h5v5h-5zM440 990h5v5h-5zM440 995h5v5h-5zM440 1000h5v5h-5zM440 1060h5v5h-5zM440 1065h5v5h-5zM440 1135h5v5h-5zM440 1150h5v5h-5zM440 1275h5v5h-5zM440 1315h5v5h-5zM440 1340h5v5h-5zM440 1405h5v5h-5zM445 995h5v5h-5zM445 1000h5v5h-5zM445 1020h5v5h-5zM445 1035h5v5h-5zM445 1055h5v5h-5zM445 1075h5v5h-5zM445 1110h5v5h-5zM445 1115h5v5h-5zM445 1130h5v5h-5zM445 1135h5v5h-5zM445 1140h5v5h-5zM445 1165h5v5h-5zM445 1185h5v5h-5zM445 1245h5v5h-5zM445 1250h5v5h-5zM445 1255h5v5h-5zM445 1310h5v5h-5zM445 1335h5v5h-5zM445 1370h5v5h-5zM445 1415h5v5h-5zM450 925h5v5h-5zM450 935h5v5h-5zM450 950h5v5h-5zM450 955h5v5h-5zM450 960h5v5h-5zM450 1000h5v5h-5zM450 1010h5v5h-5zM450 1040h5v5h-5zM450 1045h5v5h-5zM450 1115h5v5h-5zM450 1120h5v5h-5zM450 1135h5v5h-5zM450 1165h5v5h-5zM450 1175h5v5h-5zM450 1265h5v5h-5zM450 1280h5v5h-5zM450 1315h5v5h-5zM450 1320h5v5h-5zM450 1340h5v5h-5zM450 1360h5v5h-5zM455 955h5v5h-5zM455 965h5v5h-5zM455 985h5v5h-5zM455 1000h5v5h-5zM455 1010h5v5h-5zM455 1015h5v5h-5zM455 1120h5v5h-5zM455 1130h5v5h-5zM455 1185h5v5h-5zM455 1225h5v5h-5zM455 1285h5v5h-5zM455 1305h5v5h-5zM455 1320h5v5h-5zM455 1335h5v5h-5zM460 950h5v5h-5zM460 975h5v5h-5zM460 995h5v5h-5zM460 1000h5v5h-5zM460 1005h5v5h-5zM460 1010h5v5h-5zM460 1015h5v5h-5zM460 1030h5v5h-5zM460 1145h5v5h-5zM460 1170h5v5h-5zM460 1185h5v5h-5zM460 1225h5v5h-5zM460 1240h5v5h-5zM460 1320h5v5h-5zM460 1340h5v5h-5zM460 1360h5v5h-5zM465 785h5v5h-5zM465 925h5v5h-5zM465 970h5v5h-5zM465 980h5v5h-5zM465 1005h5v5h-5zM465 1010h5v5h-5zM465 1020h5v5h-5zM465 1025h5v5h-5zM465 1030h5v5h-5zM465 1040h5v5h-5zM465 1055h5v5h-5zM465 1065h5v5h-5zM465 1130h5v5h-5zM465 1145h5v5h-5zM465 1165h5v5h-5zM465 1185h5v5h-5zM465 1220h5v5h-5zM465 1245h5v5h-5zM465 1310h5v5h-5zM465 1325h5v5h-5zM465 1340h5v5h-5zM465 1375h5v5h-5zM465 1385h5v5h-5zM470 800h5v5h-5zM470 875h5v5h-5zM470 925h5v5h-5zM470 935h5v5h-5zM470 940h5v5h-5zM470 950h5v5h-5zM470 955h5v5h-5zM470 960h5v5h-5zM470 980h5v5h-5zM470 1000h5v5h-5zM470 1005h5v5h-5zM470 1025h5v5h-5zM470 1035h5v5h-5zM470 1040h5v5h-5zM470 1115h5v5h-5zM470 1120h5v5h-5zM470 1125h5v5h-5zM470 1140h5v5h-5zM470 1160h5v5h-5zM470 1195h5v5h-5zM470 1215h5v5h-5zM470 1220h5v5h-5zM470 1225h5v5h-5zM470 1250h5v5h-5zM470 1255h5v5h-5zM470 1290h5v5h-5zM470 1295h5v5h-5zM470 1305h5v5h-5zM470 1335h5v5h-5zM475 915h5v5h-5zM475 930h5v5h-5zM475 940h5v5h-5zM475 965h5v5h-5zM475 970h5v5h-5zM475 985h5v5h-5zM475 1000h5v5h-5zM475 1005h5v5h-5zM475 1015h5v5h-5zM475 1030h5v5h-5zM475 1050h5v5h-5zM475 1135h5v5h-5zM475 1160h5v5h-5zM475 1180h5v5h-5zM475 1230h5v5h-5zM475 1265h5v5h-5zM475 1280h5v5h-5zM475 1285h5v5h-5zM475 1325h5v5h-5zM475 1330h5v5h-5zM475 1440h5v5h-5zM480 945h5v5h-5zM480 970h5v5h-5zM480 980h5v5h-5zM480 1035h5v5h-5zM480 1050h5v5h-5zM480 1055h5v5h-5zM480 1110h5v5h-5zM480 1165h5v5h-5zM480 1170h5v5h-5zM480 1185h5v5h-5zM480 1230h5v5h-5zM480 1305h5v5h-5zM480 1340h5v5h-5zM480 1360h5v5h-5zM480 1400h5v5h-5zM485 775h5v5h-5zM485 945h5v5h-5zM485 965h5v5h-5zM485 980h5v5h-5zM485 1005h5v5h-5zM485 1020h5v5h-5zM485 1030h5v5h-5zM485 1035h5v5h-5zM485 1050h5v5h-5zM485 1055h5v5h-5zM485 1120h5v5h-5zM485 1130h5v5h-5zM485 1160h5v5h-5zM485 1165h5v5h-5zM485 1170h5v5h-5zM485 1185h5v5h-5zM485 1200h5v5h-5zM485 1225h5v5h-5zM485 1240h5v5h-5zM485 1245h5v5h-5zM485 1265h5v5h-5zM485 1315h5v5h-5zM485 1345h5v5h-5zM485 1360h5v5h-5zM485 1485h5v5h-5zM490 930h5v5h-5zM490 940h5v5h-5zM490 950h5v5h-5zM490 965h5v5h-5zM490 995h5v5h-5zM490 1020h5v5h-5zM490 1040h5v5h-5zM490 1100h5v5h-5zM490 1125h5v5h-5zM490 1160h5v5h-5zM490 1295h5v5h-5zM490 1305h5v5h-5zM490 1310h5v5h-5zM490 1385h5v5h-5zM495 890h5v5h-5zM495 930h5v5h-5zM495 950h5v5h-5zM495 955h5v5h-5zM495 960h5v5h-5zM495 995h5v5h-5zM495 1005h5v5h-5zM495 1130h5v5h-5zM495 1150h5v5h-5zM495 1155h5v5h-5zM495 1160h5v5h-5zM495 1170h5v5h-5zM495 1185h5v5h-5zM495 1225h5v5h-5zM495 1310h5v5h-5zM495 1330h5v5h-5zM495 1350h5v5h-5zM500 935h5v5h-5zM500 950h5v5h-5zM500 980h5v5h-5zM500 990h5v5h-5zM500 995h5v5h-5zM500 1000h5v5h-5zM500 1015h5v5h-5zM500 1030h5v5h-5zM500 1045h5v5h-5zM500 1095h5v5h-5zM500 1150h5v5h-5zM500 1165h5v5h-5zM500 1220h5v5h-5zM500 1235h5v5h-5zM500 1275h5v5h-5zM500 1340h5v5h-5zM500 1505h5v5h-5zM505 730h5v5h-5zM505 805h5v5h-5zM505 815h5v5h-5zM505 905h5v5h-5zM505 945h5v5h-5zM505 955h5v5h-5zM505 960h5v5h-5zM505 965h5v5h-5zM505 970h5v5h-5zM505 1000h5v5h-5zM505 1015h5v5h-5zM505 1020h5v5h-5zM505 1055h5v5h-5zM505 1115h5v5h-5zM505 1160h5v5h-5zM505 1240h5v5h-5zM505 1255h5v5h-5zM505 1270h5v5h-5zM505 1275h5v5h-5zM505 1290h5v5h-5zM505 1305h5v5h-5zM510 935h5v5h-5zM510 940h5v5h-5zM510 945h5v5h-5zM510 950h5v5h-5zM510 955h5v5h-5zM510 970h5v5h-5zM510 980h5v5h-5zM510 1050h5v5h-5zM510 1120h5v5h-5zM510 1135h5v5h-5zM510 1140h5v5h-5zM510 1145h5v5h-5zM510 1150h5v5h-5zM510 1195h5v5h-5zM510 1230h5v5h-5zM510 1270h5v5h-5zM510 1290h5v5h-5zM510 1305h5v5h-5zM510 1320h5v5h-5zM510 1355h5v5h-5zM515 945h5v5h-5zM515 950h5v5h-5zM515 960h5v5h-5zM515 970h5v5h-5zM515 975h5v5h-5zM515 1000h5v5h-5zM515 1010h5v5h-5zM515 1015h5v5h-5zM515 1070h5v5h-5zM515 1130h5v5h-5zM515 1140h5v5h-5zM515 1155h5v5h-5zM515 1160h5v5h-5zM515 1215h5v5h-5zM515 1230h5v5h-5zM515 1250h5v5h-5zM515 1320h5v5h-5zM515 1365h5v5h-5zM515 1560h5v5h-5zM520 540h5v5h-5zM520 935h5v5h-5zM520 945h5v5h-5zM520 955h5v5h-5zM520 960h5v5h-5zM520 1115h5v5h-5zM520 1140h5v5h-5zM520 1150h5v5h-5zM520 1180h5v5h-5zM520 1185h5v5h-5zM520 1210h5v5h-5zM520 1220h5v5h-5zM520 1270h5v5h-5zM520 1280h5v5h-5zM520 1285h5v5h-5zM520 1290h5v5h-5zM520 1325h5v5h-5zM520 1330h5v5h-5zM525 950h5v5h-5zM525 975h5v5h-5zM525 1000h5v5h-5zM525 1055h5v5h-5zM525 1115h5v5h-5zM525 1125h5v5h-5zM525 1140h5v5h-5zM525 1145h5v5h-5zM525 1150h5v5h-5zM525 1160h5v5h-5zM525 1185h5v5h-5zM525 1215h5v5h-5zM525 1220h5v5h-5zM525 1225h5v5h-5zM525 1230h5v5h-5zM525 1255h5v5h-5zM530 920h5v5h-5zM530 935h5v5h-5zM530 945h5v5h-5zM530 950h5v5h-5zM530 990h5v5h-5zM530 1000h5v5h-5zM530 1005h5v5h-5zM530 1010h5v5h-5zM530 1125h5v5h-5zM530 1130h5v5h-5zM530 1150h5v5h-5zM530 1180h5v5h-5zM530 1225h5v5h-5zM530 1240h5v5h-5zM530 1260h5v5h-5zM530 1265h5v5h-5zM530 1275h5v5h-5zM530 1300h5v5h-5zM535 675h5v5h-5zM535 940h5v5h-5zM535 945h5v5h-5zM535 975h5v5h-5zM535 985h5v5h-5zM535 1000h5v5h-5zM535 1015h5v5h-5zM535 1020h5v5h-5zM535 1050h5v5h-5zM535 1080h5v5h-5zM535 1145h5v5h-5zM535 1180h5v5h-5zM535 1190h5v5h-5zM535 1200h5v5h-5zM535 1215h5v5h-5zM535 1235h5v5h-5zM535 1240h5v5h-5zM535 1260h5v5h-5zM535 1270h5v5h-5zM535 1330h5v5h-5zM540 905h5v5h-5zM540 915h5v5h-5zM540 920h5v5h-5zM540 940h5v5h-5zM540 975h5v5h-5zM540 985h5v5h-5zM540 990h5v5h-5zM540 1005h5v5h-5zM540 1015h5v5h-5zM540 1020h5v5h-5zM540 1030h5v5h-5zM540 1035h5v5h-5zM540 1045h5v5h-5zM540 1135h5v5h-5zM540 1140h5v5h-5zM540 1250h5v5h-5zM540 1270h5v5h-5zM540 1280h5v5h-5zM540 1320h5v5h-5zM545 915h5v5h-5zM545 930h5v5h-5zM545 975h5v5h-5zM545 985h5v5h-5zM545 990h5v5h-5zM545 1000h5v5h-5zM545 1020h5v5h-5zM545 1030h5v5h-5zM545 1050h5v5h-5zM545 1065h5v5h-5zM545 1110h5v5h-5zM545 1115h5v5h-5zM545 1135h5v5h-5zM545 1145h5v5h-5zM545 1220h5v5h-5zM545 1235h5v5h-5zM545 1245h5v5h-5zM545 1280h5v5h-5zM550 805h5v5h-5zM550 935h5v5h-5zM550 940h5v5h-5zM550 955h5v5h-5zM550 970h5v5h-5zM550 975h5v5h-5zM550 985h5v5h-5zM550 1030h5v5h-5zM550 1045h5v5h-5zM550 1050h5v5h-5zM550 1105h5v5h-5zM550 1145h5v5h-5zM550 1195h5v5h-5zM550 1220h5v5h-5zM550 1225h5v5h-5zM550 1230h5v5h-5zM550 1255h5v5h-5zM555 920h5v5h-5zM555 960h5v5h-5zM555 965h5v5h-5zM555 970h5v5h-5zM555 995h5v5h-5zM555 1040h5v5h-5zM555 1050h5v5h-5zM555 1150h5v5h-5zM555 1165h5v5h-5zM555 1240h5v5h-5zM555 1265h5v5h-5zM555 1325h5v5h-5zM555 1440h5v5h-5zM560 610h5v5h-5zM560 925h5v5h-5zM560 935h5v5h-5zM560 940h5v5h-5zM560 945h5v5h-5zM560 950h5v5h-5zM560 960h5v5h-5zM560 965h5v5h-5zM560 980h5v5h-5zM560 995h5v5h-5zM560 1000h5v5h-5zM560 1005h5v5h-5zM560 1015h5v5h-5zM560 1035h5v5h-5zM560 1040h5v5h-5zM560 1050h5v5h-5zM560 1175h5v5h-5zM560 1185h5v5h-5zM560 1225h5v5h-5zM560 1255h5v5h-5zM560 1465h5v5h-5zM560 1525h5v5h-5zM565 910h5v5h-5zM565 920h5v5h-5zM565 925h5v5h-5zM565 935h5v5h-5zM565 945h5v5h-5zM565 950h5v5h-5zM565 1000h5v5h-5zM565 1025h5v5h-5zM565 1065h5v5h-5zM565 1135h5v5h-5zM565 1185h5v5h-5zM565 1225h5v5h-5zM565 1335h5v5h-5zM565 1340h5v5h-5zM565 1395h5v5h-5zM565 1620h5v5h-5zM570 900h5v5h-5zM570 955h5v5h-5zM570 965h5v5h-5zM570 980h5v5h-5zM570 985h5v5h-5zM570 1030h5v5h-5zM570 1035h5v5h-5zM570 1055h5v5h-5zM570 1145h5v5h-5zM570 1150h5v5h-5zM570 1175h5v5h-5zM570 1180h5v5h-5zM570 1215h5v5h-5zM570 1225h5v5h-5zM575 775h5v5h-5zM575 895h5v5h-5zM575 915h5v5h-5zM575 940h5v5h-5zM575 990h5v5h-5zM575 1010h5v5h-5zM575 1020h5v5h-5zM575 1035h5v5h-5zM575 1045h5v5h-5zM575 1055h5v5h-5zM575 1060h5v5h-5zM575 1125h5v5h-5zM575 1150h5v5h-5zM575 1180h5v5h-5zM575 1220h5v5h-5zM575 1255h5v5h-5zM580 800h5v5h-5zM580 895h5v5h-5zM580 905h5v5h-5zM580 915h5v5h-5zM580 920h5v5h-5zM580 930h5v5h-5zM580 950h5v5h-5zM580 970h5v5h-5zM580 975h5v5h-5zM580 980h5v5h-5zM580 1015h5v5h-5zM580 1030h5v5h-5zM580 1135h5v5h-5zM580 1155h5v5h-5zM580 1165h5v5h-5zM580 1170h5v5h-5zM580 1175h5v5h-5zM580 1250h5v5h-5zM580 1390h5v5h-5zM580 1580h5v5h-5zM580 1600h5v5h-5zM585 735h5v5h-5zM585 940h5v5h-5zM585 955h5v5h-5zM585 970h5v5h-5zM585 975h5v5h-5zM585 1005h5v5h-5zM585 1015h5v5h-5zM585 1025h5v5h-5zM585 1055h5v5h-5zM585 1060h5v5h-5zM585 1065h5v5h-5zM585 1080h5v5h-5zM585 1120h5v5h-5zM585 1145h5v5h-5zM585 1155h5v5h-5zM585 1165h5v5h-5zM585 1175h5v5h-5zM585 1180h5v5h-5zM585 1215h5v5h-5zM585 1320h5v5h-5zM585 1490h5v5h-5zM590 810h5v5h-5zM590 885h5v5h-5zM590 895h5v5h-5zM590 920h5v5h-5zM590 925h5v5h-5zM590 930h5v5h-5zM590 935h5v5h-5zM590 960h5v5h-5zM590 975h5v5h-5zM590 980h5v5h-5zM590 990h5v5h-5zM590 995h5v5h-5zM590 1020h5v5h-5zM590 1025h5v5h-5zM590 1030h5v5h-5zM590 1035h5v5h-5zM590 1045h5v5h-5zM590 1050h5v5h-5zM590 1120h5v5h-5zM590 1130h5v5h-5zM590 1135h5v5h-5zM590 1225h5v5h-5zM590 1635h5v5h-5zM595 905h5v5h-5zM595 910h5v5h-5zM595 915h5v5h-5zM595 920h5v5h-5zM595 930h5v5h-5zM595 940h5v5h-5zM595 950h5v5h-5zM595 955h5v5h-5zM595 965h5v5h-5zM595 970h5v5h-5zM595 975h5v5h-5zM595 980h5v5h-5zM595 995h5v5h-5zM595 1010h5v5h-5zM595 1015h5v5h-5zM595 1030h5v5h-5zM595 1040h5v5h-5zM595 1065h5v5h-5zM595 1130h5v5h-5zM595 1140h5v5h-5zM595 1220h5v5h-5zM595 1225h5v5h-5zM595 1465h5v5h-5zM600 870h5v5h-5zM600 885h5v5h-5zM600 915h5v5h-5zM600 925h5v5h-5zM600 945h5v5h-5zM600 960h5v5h-5zM600 970h5v5h-5zM600 1010h5v5h-5zM600 1035h5v5h-5zM600 1105h5v5h-5zM600 1135h5v5h-5zM600 1195h5v5h-5zM600 1495h5v5h-5zM605 905h5v5h-5zM605 910h5v5h-5zM605 915h5v5h-5zM605 925h5v5h-5zM605 940h5v5h-5zM605 945h5v5h-5zM605 965h5v5h-5zM605 975h5v5h-5zM605 980h5v5h-5zM605 985h5v5h-5zM605 1015h5v5h-5zM605 1020h5v5h-5zM605 1035h5v5h-5zM605 1050h5v5h-5zM605 1155h5v5h-5zM605 1190h5v5h-5zM605 1220h5v5h-5zM605 1260h5v5h-5zM605 1555h5v5h-5zM610 895h5v5h-5zM610 900h5v5h-5zM610 905h5v5h-5zM610 925h5v5h-5zM610 930h5v5h-5zM610 935h5v5h-5zM610 945h5v5h-5zM610 960h5v5h-5zM610 1105h5v5h-5zM610 1110h5v5h-5zM610 1140h5v5h-5zM610 1145h5v5h-5zM610 1190h5v5h-5zM610 1410h5v5h-5zM615 920h5v5h-5zM615 925h5v5h-5zM615 935h5v5h-5zM615 940h5v5h-5zM615 945h5v5h-5zM615 970h5v5h-5zM615 975h5v5h-5zM615 985h5v5h-5zM615 990h5v5h-5zM615 995h5v5h-5zM615 1005h5v5h-5zM615 1010h5v5h-5zM615 1015h5v5h-5zM615 1020h5v5h-5zM615 1035h5v5h-5zM615 1045h5v5h-5zM615 1120h5v5h-5zM615 1160h5v5h-5zM615 1165h5v5h-5zM615 1180h5v5h-5zM615 1280h5v5h-5zM615 1420h5v5h-5zM620 915h5v5h-5zM620 920h5v5h-5zM620 925h5v5h-5zM620 930h5v5h-5zM620 945h5v5h-5zM620 1015h5v5h-5zM620 1140h5v5h-5zM620 1160h5v5h-5zM620 1180h5v5h-5zM620 1185h5v5h-5zM620 1430h5v5h-5zM620 1440h5v5h-5zM620 1550h5v5h-5zM625 915h5v5h-5zM625 925h5v5h-5zM625 945h5v5h-5zM625 950h5v5h-5zM625 955h5v5h-5zM625 960h5v5h-5zM625 965h5v5h-5zM625 995h5v5h-5zM625 1005h5v5h-5zM625 1150h5v5h-5zM625 1170h5v5h-5zM625 1185h5v5h-5zM625 1310h5v5h-5zM625 1525h5v5h-5zM630 880h5v5h-5zM630 895h5v5h-5zM630 920h5v5h-5zM630 940h5v5h-5zM630 960h5v5h-5zM630 965h5v5h-5zM630 970h5v5h-5zM630 995h5v5h-5zM630 1000h5v5h-5zM630 1005h5v5h-5zM630 1015h5v5h-5zM630 1170h5v5h-5zM630 1175h5v5h-5zM630 1190h5v5h-5zM630 1195h5v5h-5zM630 1550h5v5h-5zM635 895h5v5h-5zM635 900h5v5h-5zM635 910h5v5h-5zM635 915h5v5h-5zM635 920h5v5h-5zM635 925h5v5h-5zM635 940h5v5h-5zM635 945h5v5h-5zM635 975h5v5h-5zM635 980h5v5h-5zM635 985h5v5h-5zM635 990h5v5h-5zM635 995h5v5h-5zM635 1105h5v5h-5zM635 1140h5v5h-5zM635 1155h5v5h-5zM635 1170h5v5h-5zM635 1180h5v5h-5zM635 1185h5v5h-5zM635 1190h5v5h-5zM635 1195h5v5h-5zM635 1200h5v5h-5zM635 1210h5v5h-5zM640 690h5v5h-5zM640 895h5v5h-5zM640 900h5v5h-5zM640 920h5v5h-5zM640 965h5v5h-5zM640 975h5v5h-5zM640 980h5v5h-5zM640 1015h5v5h-5zM640 1035h5v5h-5zM640 1095h5v5h-5zM640 1130h5v5h-5zM640 1165h5v5h-5zM640 1170h5v5h-5zM640 1210h5v5h-5zM640 1655h5v5h-5zM645 915h5v5h-5zM645 925h5v5h-5zM645 930h5v5h-5zM645 940h5v5h-5zM645 945h5v5h-5zM645 950h5v5h-5zM645 985h5v5h-5zM645 990h5v5h-5zM645 995h5v5h-5zM645 1000h5v5h-5zM645 1005h5v5h-5zM645 1020h5v5h-5zM645 1035h5v5h-5zM645 1050h5v5h-5zM645 1055h5v5h-5zM645 1080h5v5h-5zM645 1160h5v5h-5zM645 1165h5v5h-5zM645 1210h5v5h-5zM650 885h5v5h-5zM650 905h5v5h-5zM650 910h5v5h-5zM650 915h5v5h-5zM650 920h5v5h-5zM650 945h5v5h-5zM650 950h5v5h-5zM650 1000h5v5h-5zM650 1030h5v5h-5zM650 1140h5v5h-5zM650 1150h5v5h-5zM650 1170h5v5h-5zM650 1175h5v5h-5zM650 1180h5v5h-5zM650 1185h5v5h-5zM650 1190h5v5h-5zM650 1215h5v5h-5zM650 1280h5v5h-5zM655 905h5v5h-5zM655 930h5v5h-5zM655 945h5v5h-5zM655 950h5v5h-5zM655 960h5v5h-5zM655 985h5v5h-5zM655 990h5v5h-5zM655 1000h5v5h-5zM655 1035h5v5h-5zM655 1165h5v5h-5zM655 1175h5v5h-5zM655 1290h5v5h-5zM655 1415h5v5h-5zM660 890h5v5h-5zM660 895h5v5h-5zM660 940h5v5h-5zM660 945h5v5h-5zM660 950h5v5h-5zM660 955h5v5h-5zM660 960h5v5h-5zM660 995h5v5h-5zM660 1015h5v5h-5zM660 1030h5v5h-5zM660 1120h5v5h-5zM660 1130h5v5h-5zM660 1135h5v5h-5zM660 1155h5v5h-5zM660 1165h5v5h-5zM660 1235h5v5h-5zM660 1660h5v5h-5zM665 800h5v5h-5zM665 905h5v5h-5zM665 935h5v5h-5zM665 960h5v5h-5zM665 1015h5v5h-5zM665 1025h5v5h-5zM665 1095h5v5h-5zM665 1135h5v5h-5zM665 1140h5v5h-5zM665 1145h5v5h-5zM665 1165h5v5h-5zM665 1170h5v5h-5zM665 1175h5v5h-5zM665 1185h5v5h-5zM665 1195h5v5h-5zM665 1455h5v5h-5zM665 1700h5v5h-5zM670 890h5v5h-5zM670 910h5v5h-5zM670 920h5v5h-5zM670 930h5v5h-5zM670 935h5v5h-5zM670 970h5v5h-5zM670 985h5v5h-5zM670 1025h5v5h-5zM670 1035h5v5h-5zM670 1055h5v5h-5zM670 1145h5v5h-5zM670 1190h5v5h-5zM675 885h5v5h-5zM675 890h5v5h-5zM675 895h5v5h-5zM675 900h5v5h-5zM675 910h5v5h-5zM675 915h5v5h-5zM675 920h5v5h-5zM675 925h5v5h-5zM675 935h5v5h-5zM675 940h5v5h-5zM675 950h5v5h-5zM675 960h5v5h-5zM675 980h5v5h-5zM675 1000h5v5h-5zM675 1010h5v5h-5zM675 1015h5v5h-5zM675 1020h5v5h-5zM675 1030h5v5h-5zM675 1035h5v5h-5zM675 1045h5v5h-5zM675 1055h5v5h-5zM675 1135h5v5h-5zM675 1160h5v5h-5zM675 1170h5v5h-5zM675 1185h5v5h-5zM675 1200h5v5h-5zM675 1210h5v5h-5zM675 1475h5v5h-5zM680 885h5v5h-5zM680 900h5v5h-5zM680 910h5v5h-5zM680 925h5v5h-5zM680 935h5v5h-5zM680 945h5v5h-5zM680 950h5v5h-5zM680 960h5v5h-5zM680 985h5v5h-5zM680 990h5v5h-5zM680 1010h5v5h-5zM680 1015h5v5h-5zM680 1020h5v5h-5zM680 1050h5v5h-5zM680 1155h5v5h-5zM680 1240h5v5h-5zM680 1255h5v5h-5zM680 1310h5v5h-5zM685 905h5v5h-5zM685 915h5v5h-5zM685 925h5v5h-5zM685 945h5v5h-5zM685 955h5v5h-5zM685 975h5v5h-5zM685 980h5v5h-5zM685 1045h5v5h-5zM685 1050h5v5h-5zM685 1165h5v5h-5zM685 1555h5v5h-5zM690 890h5v5h-5zM690 910h5v5h-5zM690 915h5v5h-5zM690 925h5v5h-5zM690 940h5v5h-5zM690 955h5v5h-5zM690 985h5v5h-5zM690 1010h5v5h-5zM690 1015h5v5h-5zM690 1040h5v5h-5zM690 1045h5v5h-5zM690 1155h5v5h-5zM690 1170h5v5h-5zM690 1480h5v5h-5zM695 915h5v5h-5zM695 930h5v5h-5zM695 940h5v5h-5zM695 960h5v5h-5zM695 965h5v5h-5zM695 975h5v5h-5zM695 990h5v5h-5zM695 1005h5v5h-5zM695 1010h5v5h-5zM695 1025h5v5h-5zM695 1040h5v5h-5zM695 1050h5v5h-5zM695 1065h5v5h-5zM695 1070h5v5h-5zM695 1170h5v5h-5zM695 1290h5v5h-5zM700 870h5v5h-5zM700 880h5v5h-5zM700 885h5v5h-5zM700 890h5v5h-5zM700 905h5v5h-5zM700 925h5v5h-5zM700 940h5v5h-5zM700 950h5v5h-5zM700 960h5v5h-5zM700 985h5v5h-5zM700 1005h5v5h-5zM700 1020h5v5h-5zM700 1030h5v5h-5zM700 1165h5v5h-5zM700 1175h5v5h-5zM705 765h5v5h-5zM705 885h5v5h-5zM705 890h5v5h-5zM705 900h5v5h-5zM705 925h5v5h-5zM705 935h5v5h-5zM705 940h5v5h-5zM705 945h5v5h-5zM705 950h5v5h-5zM705 985h5v5h-5zM705 990h5v5h-5zM705 1000h5v5h-5zM705 1005h5v5h-5zM705 1020h5v5h-5zM705 1025h5v5h-5zM705 1035h5v5h-5zM705 1155h5v5h-5zM705 1620h5v5h-5zM710 900h5v5h-5zM710 905h5v5h-5zM710 910h5v5h-5zM710 930h5v5h-5zM710 960h5v5h-5zM710 965h5v5h-5zM710 985h5v5h-5zM710 995h5v5h-5zM710 1005h5v5h-5zM710 1010h5v5h-5zM710 1030h5v5h-5zM710 1050h5v5h-5zM710 1180h5v5h-5zM710 1425h5v5h-5zM710 1490h5v5h-5zM715 880h5v5h-5zM715 890h5v5h-5zM715 910h5v5h-5zM715 915h5v5h-5zM715 920h5v5h-5zM715 925h5v5h-5zM715 940h5v5h-5zM715 950h5v5h-5zM715 960h5v5h-5zM715 965h5v5h-5zM715 970h5v5h-5zM715 980h5v5h-5zM715 990h5v5h-5zM715 1005h5v5h-5zM715 1015h5v5h-5zM715 1020h5v5h-5zM715 1025h5v5h-5zM715 1030h5v5h-5zM715 1035h5v5h-5zM715 1430h5v5h-5zM720 900h5v5h-5zM720 905h5v5h-5zM720 910h5v5h-5zM720 930h5v5h-5zM720 940h5v5h-5zM720 945h5v5h-5zM720 950h5v5h-5zM720 975h5v5h-5zM720 1000h5v5h-5zM720 1010h5v5h-5zM720 1015h5v5h-5zM720 1020h5v5h-5zM720 1030h5v5h-5zM720 1155h5v5h-5zM720 1175h5v5h-5zM725 865h5v5h-5zM725 875h5v5h-5zM725 880h5v5h-5zM725 885h5v5h-5zM725 900h5v5h-5zM725 905h5v5h-5zM725 910h5v5h-5zM725 915h5v5h-5zM725 920h5v5h-5zM725 925h5v5h-5zM725 940h5v5h-5zM725 945h5v5h-5zM725 955h5v5h-5zM725 980h5v5h-5zM725 985h5v5h-5zM725 990h5v5h-5zM725 995h5v5h-5zM725 1005h5v5h-5zM725 1015h5v5h-5zM725 1040h5v5h-5zM725 1120h5v5h-5zM725 1655h5v5h-5zM725 1700h5v5h-5zM730 880h5v5h-5zM730 895h5v5h-5zM730 905h5v5h-5zM730 910h5v5h-5zM730 950h5v5h-5zM730 955h5v5h-5zM730 975h5v5h-5zM730 980h5v5h-5zM730 985h5v5h-5zM730 1015h5v5h-5zM730 1025h5v5h-5zM730 1035h5v5h-5zM730 1040h5v5h-5zM730 1180h5v5h-5zM735 905h5v5h-5zM735 915h5v5h-5zM735 950h5v5h-5zM735 980h5v5h-5zM735 985h5v5h-5zM735 1000h5v5h-5zM735 1005h5v5h-5zM735 1010h5v5h-5zM735 1020h5v5h-5zM735 1025h5v5h-5zM735 1045h5v5h-5zM735 1255h5v5h-5zM735 1275h5v5h-5zM735 1495h5v5h-5zM740 875h5v5h-5zM740 905h5v5h-5zM740 925h5v5h-5zM740 930h5v5h-5zM740 945h5v5h-5zM740 955h5v5h-5zM740 960h5v5h-5zM740 980h5v5h-5zM740 985h5v5h-5zM740 1005h5v5h-5zM740 1010h5v5h-5zM740 1025h5v5h-5zM745 875h5v5h-5zM745 945h5v5h-5zM745 950h5v5h-5zM745 1010h5v5h-5zM745 1030h5v5h-5zM745 1575h5v5h-5zM750 870h5v5h-5zM750 890h5v5h-5zM750 905h5v5h-5zM750 910h5v5h-5zM750 930h5v5h-5zM750 950h5v5h-5zM750 955h5v5h-5zM750 960h5v5h-5zM750 975h5v5h-5zM750 980h5v5h-5zM750 1000h5v5h-5zM750 1650h5v5h-5zM750 1690h5v5h-5zM750 1720h5v5h-5zM755 835h5v5h-5zM755 885h5v5h-5zM755 900h5v5h-5zM755 905h5v5h-5zM755 910h5v5h-5zM755 925h5v5h-5zM755 930h5v5h-5zM755 950h5v5h-5zM755 960h5v5h-5zM755 965h5v5h-5zM755 970h5v5h-5zM755 985h5v5h-5zM755 990h5v5h-5zM755 995h5v5h-5zM755 1005h5v5h-5zM755 1010h5v5h-5zM755 1020h5v5h-5zM755 1085h5v5h-5zM755 1685h5v5h-5zM760 810h5v5h-5zM760 875h5v5h-5zM760 885h5v5h-5zM760 890h5v5h-5zM760 900h5v5h-5zM760 905h5v5h-5zM760 910h5v5h-5zM760 920h5v5h-5zM760 930h5v5h-5zM760 945h5v5h-5zM760 955h5v5h-5zM760 970h5v5h-5zM760 985h5v5h-5zM760 990h5v5h-5zM760 995h5v5h-5zM760 1000h5v5h-5zM760 1005h5v5h-5zM760 1015h5v5h-5zM760 1030h5v5h-5zM760 1045h5v5h-5zM760 1055h5v5h-5zM760 1695h5v5h-5zM765 875h5v5h-5zM765 895h5v5h-5zM765 940h5v5h-5zM765 945h5v5h-5zM765 955h5v5h-5zM765 970h5v5h-5zM765 985h5v5h-5zM765 990h5v5h-5zM765 995h5v5h-5zM765 1000h5v5h-5zM765 1010h5v5h-5zM765 1035h5v5h-5zM765 1630h5v5h-5zM770 925h5v5h-5zM770 930h5v5h-5zM770 950h5v5h-5zM770 960h5v5h-5zM770 970h5v5h-5zM770 990h5v5h-5zM770 995h5v5h-5zM770 1010h5v5h-5zM770 1020h5v5h-5zM770 1035h5v5h-5zM770 1050h5v5h-5zM770 1655h5v5h-5zM770 1695h5v5h-5zM775 900h5v5h-5zM775 910h5v5h-5zM775 915h5v5h-5zM775 940h5v5h-5zM775 955h5v5h-5zM775 960h5v5h-5zM775 970h5v5h-5zM775 975h5v5h-5zM775 985h5v5h-5zM775 990h5v5h-5zM775 1005h5v5h-5zM775 1070h5v5h-5zM775 1440h5v5h-5zM775 1695h5v5h-5zM780 870h5v5h-5zM780 885h5v5h-5zM780 905h5v5h-5zM780 925h5v5h-5zM780 930h5v5h-5zM780 940h5v5h-5zM780 970h5v5h-5zM780 1050h5v5h-5zM780 1275h5v5h-5zM780 1610h5v5h-5zM780 1675h5v5h-5zM785 870h5v5h-5zM785 880h5v5h-5zM785 920h5v5h-5zM785 925h5v5h-5zM785 950h5v5h-5zM785 955h5v5h-5zM785 960h5v5h-5zM785 965h5v5h-5zM785 995h5v5h-5zM785 1000h5v5h-5zM785 1030h5v5h-5zM785 1450h5v5h-5zM790 865h5v5h-5zM790 890h5v5h-5zM790 915h5v5h-5zM790 945h5v5h-5zM790 960h5v5h-5zM790 965h5v5h-5zM790 985h5v5h-5zM790 1000h5v5h-5zM790 1005h5v5h-5zM790 1015h5v5h-5zM790 1025h5v5h-5zM790 1030h5v5h-5zM790 1045h5v5h-5zM790 1060h5v5h-5zM795 865h5v5h-5zM795 870h5v5h-5zM795 895h5v5h-5zM795 905h5v5h-5zM795 915h5v5h-5zM795 925h5v5h-5zM795 950h5v5h-5zM795 960h5v5h-5zM795 970h5v5h-5zM795 980h5v5h-5zM795 985h5v5h-5zM795 1000h5v5h-5zM795 1010h5v5h-5zM795 1015h5v5h-5zM795 1035h5v5h-5zM795 1040h5v5h-5zM795 1115h5v5h-5zM795 1485h5v5h-5zM800 890h5v5h-5zM800 905h5v5h-5zM800 910h5v5h-5zM800 915h5v5h-5zM800 925h5v5h-5zM800 940h5v5h-5zM800 945h5v5h-5zM800 960h5v5h-5zM800 965h5v5h-5zM800 970h5v5h-5zM800 995h5v5h-5zM800 1030h5v5h-5zM800 1590h5v5h-5zM805 845h5v5h-5zM805 895h5v5h-5zM805 910h5v5h-5zM805 925h5v5h-5zM805 940h5v5h-5zM805 970h5v5h-5zM805 975h5v5h-5zM805 1025h5v5h-5zM805 1030h5v5h-5zM805 1280h5v5h-5zM805 1750h5v5h-5zM810 840h5v5h-5zM810 895h5v5h-5zM810 910h5v5h-5zM810 915h5v5h-5zM810 920h5v5h-5zM810 925h5v5h-5zM810 930h5v5h-5zM810 940h5v5h-5zM810 980h5v5h-5zM810 990h5v5h-5zM810 995h5v5h-5zM810 1040h5v5h-5zM810 1045h5v5h-5zM815 865h5v5h-5zM815 885h5v5h-5zM815 905h5v5h-5zM815 910h5v5h-5zM815 930h5v5h-5zM815 990h5v5h-5zM815 1015h5v5h-5zM815 1025h5v5h-5zM820 850h5v5h-5zM820 855h5v5h-5zM820 935h5v5h-5zM820 945h5v5h-5zM820 955h5v5h-5zM820 970h5v5h-5zM820 975h5v5h-5zM820 990h5v5h-5zM820 1005h5v5h-5zM820 1030h5v5h-5zM820 1050h5v5h-5zM820 1620h5v5h-5zM825 870h5v5h-5zM825 880h5v5h-5zM825 890h5v5h-5zM825 895h5v5h-5zM825 920h5v5h-5zM825 930h5v5h-5zM825 940h5v5h-5zM825 945h5v5h-5zM825 970h5v5h-5zM825 980h5v5h-5zM825 1010h5v5h-5zM825 1020h5v5h-5zM825 1035h5v5h-5zM825 1045h5v5h-5zM825 1740h5v5h-5zM830 880h5v5h-5zM830 935h5v5h-5zM830 955h5v5h-5zM830 965h5v5h-5zM830 1430h5v5h-5zM835 845h5v5h-5zM835 880h5v5h-5zM835 895h5v5h-5zM835 900h5v5h-5zM835 905h5v5h-5zM835 910h5v5h-5zM835 915h5v5h-5zM835 920h5v5h-5zM835 925h5v5h-5zM835 930h5v5h-5zM835 935h5v5h-5zM835 940h5v5h-5zM835 945h5v5h-5zM835 955h5v5h-5zM835 995h5v5h-5zM840 850h5v5h-5zM840 880h5v5h-5zM840 905h5v5h-5zM840 935h5v5h-5zM840 940h5v5h-5zM840 970h5v5h-5zM840 980h5v5h-5zM840 1055h5v5h-5zM840 1645h5v5h-5zM845 875h5v5h-5zM845 920h5v5h-5zM845 945h5v5h-5zM845 950h5v5h-5zM845 965h5v5h-5zM845 980h5v5h-5zM845 995h5v5h-5zM845 1240h5v5h-5zM850 860h5v5h-5zM850 875h5v5h-5zM850 880h5v5h-5zM850 910h5v5h-5zM850 915h5v5h-5zM850 925h5v5h-5zM850 930h5v5h-5zM850 950h5v5h-5zM850 960h5v5h-5zM850 970h5v5h-5zM850 1010h5v5h-5zM850 1030h5v5h-5zM850 1390h5v5h-5zM850 1570h5v5h-5zM850 1585h5v5h-5zM855 865h5v5h-5zM855 890h5v5h-5zM855 915h5v5h-5zM855 935h5v5h-5zM855 945h5v5h-5zM855 950h5v5h-5zM855 985h5v5h-5zM855 1000h5v5h-5zM855 1010h5v5h-5zM860 870h5v5h-5zM860 915h5v5h-5zM860 920h5v5h-5zM860 925h5v5h-5zM860 930h5v5h-5zM860 980h5v5h-5zM860 1015h5v5h-5zM865 915h5v5h-5zM865 925h5v5h-5zM865 930h5v5h-5zM865 965h5v5h-5zM865 985h5v5h-5zM870 890h5v5h-5zM870 905h5v5h-5zM870 910h5v5h-5zM870 920h5v5h-5zM870 930h5v5h-5zM870 960h5v5h-5zM870 1575h5v5h-5zM875 920h5v5h-5zM875 945h5v5h-5zM875 975h5v5h-5zM875 1015h5v5h-5zM875 1155h5v5h-5zM875 1575h5v5h-5zM880 885h5v5h-5zM880 910h5v5h-5zM880 940h5v5h-5zM880 960h5v5h-5zM880 975h5v5h-5zM880 1360h5v5h-5zM885 950h5v5h-5zM885 985h5v5h-5zM890 955h5v5h-5zM895 960h5v5h-5zM895 965h5v5h-5zM900 1655h5v5h-5zM900 1685h5v5h-5zM905 1620h5v5h-5zM910 1505h5v5h-5zM915 1235h5v5h-5zM915 1450h5v5h-5zM920 960h5v5h-5zM920 1525h5v5h-5zM925 1200h5v5h-5zM925 1585h5v5h-5zM925 1665h5v5h-5zM945 1240h5v5h-5zM955 1535h5v5h-5zM965 1030h5v5h-5zM975 1205h5v5h-5zM975 1360h5v5h-5zM980 1535h5v5h-5zM990 1065h5v5h-5zM990 1500h5v5h-5zM1000 1340h5v5h-5zM1005 1150h5v5h-5zM1010 1175h5v5h-5zM1020 1175h5v5h-5zM1020 1545h5v5h-5zM1025 1155h5v5h-5zM1025 1160h5v5h-5zM1025 1165h5v5h-5zM1025 1175h5v5h-5zM1025 1180h5v5h-5zM1025 1400h5v5h-5zM1030 1155h5v5h-5zM1030 1160h5v5h-5zM1030 1165h5v5h-5zM1030 1180h5v5h-5zM1030 1185h5v5h-5zM1035 1050h5v5h-5zM1035 1150h5v5h-5zM1035 1160h5v5h-5zM1035 1165h5v5h-5zM1035 1170h5v5h-5zM1035 1175h5v5h-5zM1035 1180h5v5h-5zM1040 1155h5v5h-5zM1040 1160h5v5h-5zM1040 1165h5v5h-5zM1040 1170h5v5h-5zM1040 1185h5v5h-5zM1040 1190h5v5h-5zM1040 1215h5v5h-5zM1045 1155h5v5h-5zM1045 1160h5v5h-5zM1045 1165h5v5h-5zM1045 1175h5v5h-5zM1045 1180h5v5h-5zM1045 1185h5v5h-5zM1045 1190h5v5h-5zM1045 1455h5v5h-5zM1050 1155h5v5h-5zM1050 1160h5v5h-5zM1050 1165h5v5h-5zM1050 1170h5v5h-5zM1050 1175h5v5h-5zM1050 1180h5v5h-5zM1050 1190h5v5h-5zM1055 1165h5v5h-5zM1055 1185h5v5h-5zM1055 1415h5v5h-5zM1055 1520h5v5h-5zM1060 1165h5v5h-5zM1060 1170h5v5h-5zM1060 1175h5v5h-5zM1060 1180h5v5h-5zM1075 1425h5v5h-5zM1080 1360h5v5h-5zM1115 1290h5v5h-5zM1130 1220h5v5h-5zM1175 1220h5v5h-5zM1185 1200h5v5h-5zM1225 1325h5v5h-5z"/><path fill="#dde9f3" d="M-245 805h5v5h-5zM-220 705h5v5h-5zM-205 695h5v5h-5zM-200 815h5v5h-5zM-185 795h5v5h-5zM-180 785h5v5h-5zM-160 800h5v5h-5zM-155 755h5v5h-5zM-150 775h5v5h-5zM-135 730h5v5h-5zM-130 630h5v5h-5zM-125 710h5v5h-5zM-125 900h5v5h-5zM-120 800h5v5h-5zM-120 815h5v5h-5zM-115 695h5v5h-5zM-115 825h5v5h-5zM-110 945h5v5h-5zM-100 855h5v5h-5zM-90 580h5v5h-5zM-90 930h5v5h-5zM-85 900h5v5h-5zM-60 670h5v5h-5zM-50 970h5v5h-5zM-45 980h5v5h-5zM-40 555h5v5h-5zM-40 785h5v5h-5zM-40 865h5v5h-5zM-40 935h5v5h-5zM-35 915h5v5h-5zM-30 625h5v5h-5zM-30 1000h5v5h-5zM-25 1000h5v5h-5zM-20 610h5v5h-5zM-5 740h5v5h-5zM5 725h5v5h-5zM15 920h5v5h-5zM15 1005h5v5h-5zM25 840h5v5h-5zM25 1030h5v5h-5zM30 895h5v5h-5zM35 1015h5v5h-5zM40 505h5v5h-5zM40 985h5v5h-5zM50 1075h5v5h-5zM50 1085h5v5h-5zM55 1005h5v5h-5zM60 570h5v5h-5zM60 950h5v5h-5zM60 960h5v5h-5zM65 390h5v5h-5zM65 405h5v5h-5zM65 890h5v5h-5zM65 1040h5v5h-5zM75 910h5v5h-5zM80 1090h5v5h-5zM85 1010h5v5h-5zM90 1060h5v5h-5zM95 640h5v5h-5zM95 665h5v5h-5zM95 800h5v5h-5zM105 1155h5v5h-5zM110 1140h5v5h-5zM110 1165h5v5h-5zM115 1135h5v5h-5zM125 1010h5v5h-5zM125 1130h5v5h-5zM130 825h5v5h-5zM130 1120h5v5h-5zM135 930h5v5h-5zM135 1115h5v5h-5zM140 1005h5v5h-5zM145 760h5v5h-5zM150 790h5v5h-5zM155 345h5v5h-5zM160 585h5v5h-5zM160 1180h5v5h-5zM165 1005h5v5h-5zM165 1195h5v5h-5zM170 480h5v5h-5zM175 690h5v5h-5zM175 850h5v5h-5zM175 855h5v5h-5zM175 1120h5v5h-5zM175 1180h5v5h-5zM185 410h5v5h-5zM190 470h5v5h-5zM190 955h5v5h-5zM190 1020h5v5h-5zM190 1130h5v5h-5zM190 1155h5v5h-5zM195 910h5v5h-5zM195 925h5v5h-5zM195 930h5v5h-5zM195 1035h5v5h-5zM195 1080h5v5h-5zM195 1130h5v5h-5zM200 775h5v5h-5zM200 985h5v5h-5zM200 1185h5v5h-5zM205 280h5v5h-5zM210 300h5v5h-5zM210 440h5v5h-5zM210 855h5v5h-5zM215 245h5v5h-5zM215 295h5v5h-5zM215 300h5v5h-5zM215 305h5v5h-5zM215 435h5v5h-5zM215 935h5v5h-5zM215 980h5v5h-5zM220 295h5v5h-5zM220 300h5v5h-5zM220 305h5v5h-5zM220 935h5v5h-5zM220 1170h5v5h-5zM225 300h5v5h-5zM225 1050h5v5h-5zM230 365h5v5h-5zM235 1235h5v5h-5zM235 1260h5v5h-5zM240 1125h5v5h-5zM245 765h5v5h-5zM245 885h5v5h-5zM245 915h5v5h-5zM250 935h5v5h-5zM250 1075h5v5h-5zM260 1005h5v5h-5zM260 1060h5v5h-5zM260 1260h5v5h-5zM265 685h5v5h-5zM265 1015h5v5h-5zM270 1000h5v5h-5zM270 1165h5v5h-5zM270 1220h5v5h-5zM275 1140h5v5h-5zM275 1235h5v5h-5zM280 1090h5v5h-5zM280 1235h5v5h-5zM280 1335h5v5h-5zM285 925h5v5h-5zM285 1000h5v5h-5zM290 1020h5v5h-5zM290 1055h5v5h-5zM290 1245h5v5h-5zM290 1275h5v5h-5zM295 1290h5v5h-5zM300 740h5v5h-5zM300 795h5v5h-5zM300 895h5v5h-5zM300 1025h5v5h-5zM300 1180h5v5h-5zM300 1205h5v5h-5zM305 945h5v5h-5zM305 1100h5v5h-5zM305 1155h5v5h-5zM305 1325h5v5h-5zM310 980h5v5h-5zM310 1035h5v5h-5zM310 1065h5v5h-5zM310 1170h5v5h-5zM310 1300h5v5h-5zM315 840h5v5h-5zM320 795h5v5h-5zM320 850h5v5h-5zM320 1115h5v5h-5zM325 860h5v5h-5zM325 1010h5v5h-5zM325 1050h5v5h-5zM325 1135h5v5h-5zM325 1175h5v5h-5zM335 825h5v5h-5zM335 1000h5v5h-5zM335 1030h5v5h-5zM335 1190h5v5h-5zM340 1010h5v5h-5zM340 1015h5v5h-5zM345 580h5v5h-5zM345 925h5v5h-5zM345 1050h5v5h-5zM345 1355h5v5h-5zM350 880h5v5h-5zM350 945h5v5h-5zM350 1040h5v5h-5zM350 1080h5v5h-5zM350 1220h5v5h-5zM355 630h5v5h-5zM355 1050h5v5h-5zM355 1135h5v5h-5zM355 1365h5v5h-5zM360 940h5v5h-5zM360 1030h5v5h-5zM360 1145h5v5h-5zM360 1215h5v5h-5zM365 500h5v5h-5zM365 750h5v5h-5zM365 1035h5v5h-5zM365 1170h5v5h-5zM365 1285h5v5h-5zM365 1370h5v5h-5zM370 545h5v5h-5zM370 590h5v5h-5zM370 1325h5v5h-5zM375 990h5v5h-5zM380 1285h5v5h-5zM385 980h5v5h-5zM385 1285h5v5h-5zM385 1395h5v5h-5zM390 995h5v5h-5zM390 1005h5v5h-5zM390 1090h5v5h-5zM395 560h5v5h-5zM395 865h5v5h-5zM395 1315h5v5h-5zM400 1085h5v5h-5zM400 1240h5v5h-5zM405 985h5v5h-5zM405 1080h5v5h-5zM410 860h5v5h-5zM410 865h5v5h-5zM410 870h5v5h-5zM410 1205h5v5h-5zM410 1235h5v5h-5zM410 1280h5v5h-5zM410 1415h5v5h-5zM415 860h5v5h-5zM415 865h5v5h-5zM415 870h5v5h-5zM415 875h5v5h-5zM415 880h5v5h-5zM415 1225h5v5h-5zM415 1245h5v5h-5zM415 1395h5v5h-5zM415 1460h5v5h-5zM420 850h5v5h-5zM420 855h5v5h-5zM420 880h5v5h-5zM420 885h5v5h-5zM420 1345h5v5h-5zM425 850h5v5h-5zM425 880h5v5h-5zM425 885h5v5h-5zM425 1350h5v5h-5zM425 1400h5v5h-5zM430 610h5v5h-5zM430 845h5v5h-5zM430 885h5v5h-5zM430 1370h5v5h-5zM435 845h5v5h-5zM435 850h5v5h-5zM435 885h5v5h-5zM435 1075h5v5h-5zM435 1140h5v5h-5zM435 1355h5v5h-5zM440 780h5v5h-5zM440 800h5v5h-5zM440 885h5v5h-5zM440 915h5v5h-5zM445 830h5v5h-5zM445 845h5v5h-5zM445 880h5v5h-5zM445 885h5v5h-5zM445 1220h5v5h-5zM445 1395h5v5h-5zM450 850h5v5h-5zM450 855h5v5h-5zM450 860h5v5h-5zM450 875h5v5h-5zM450 1105h5v5h-5zM450 1260h5v5h-5zM450 1310h5v5h-5zM455 855h5v5h-5zM455 870h5v5h-5zM455 875h5v5h-5zM455 1090h5v5h-5zM460 765h5v5h-5zM460 910h5v5h-5zM460 1405h5v5h-5zM465 1485h5v5h-5zM470 730h5v5h-5zM470 860h5v5h-5zM470 1200h5v5h-5zM475 585h5v5h-5zM475 860h5v5h-5zM475 1240h5v5h-5zM475 1310h5v5h-5zM475 1350h5v5h-5zM475 1400h5v5h-5zM475 1505h5v5h-5zM480 885h5v5h-5zM480 1005h5v5h-5zM480 1190h5v5h-5zM480 1240h5v5h-5zM480 1350h5v5h-5zM485 670h5v5h-5zM485 1070h5v5h-5zM485 1305h5v5h-5zM485 1380h5v5h-5zM490 825h5v5h-5zM490 1475h5v5h-5zM490 1480h5v5h-5zM495 1085h5v5h-5zM495 1140h5v5h-5zM495 1215h5v5h-5zM495 1395h5v5h-5zM495 1430h5v5h-5zM500 1245h5v5h-5zM500 1520h5v5h-5zM505 855h5v5h-5zM505 860h5v5h-5zM505 1295h5v5h-5zM505 1315h5v5h-5zM510 855h5v5h-5zM515 845h5v5h-5zM515 850h5v5h-5zM515 860h5v5h-5zM515 1115h5v5h-5zM520 845h5v5h-5zM520 855h5v5h-5zM520 870h5v5h-5zM520 1305h5v5h-5zM520 1520h5v5h-5zM525 835h5v5h-5zM525 840h5v5h-5zM525 845h5v5h-5zM525 850h5v5h-5zM525 855h5v5h-5zM525 860h5v5h-5zM525 870h5v5h-5zM525 875h5v5h-5zM530 825h5v5h-5zM530 830h5v5h-5zM530 840h5v5h-5zM530 845h5v5h-5zM530 850h5v5h-5zM530 870h5v5h-5zM530 875h5v5h-5zM535 835h5v5h-5zM535 840h5v5h-5zM535 870h5v5h-5zM535 895h5v5h-5zM535 1035h5v5h-5zM535 1155h5v5h-5zM535 1340h5v5h-5zM540 835h5v5h-5zM540 850h5v5h-5zM540 860h5v5h-5zM540 870h5v5h-5zM540 875h5v5h-5zM540 880h5v5h-5zM540 1215h5v5h-5zM540 1370h5v5h-5zM540 1415h5v5h-5zM545 800h5v5h-5zM545 830h5v5h-5zM545 845h5v5h-5zM545 850h5v5h-5zM545 860h5v5h-5zM545 870h5v5h-5zM545 875h5v5h-5zM545 1150h5v5h-5zM545 1195h5v5h-5zM545 1300h5v5h-5zM545 1595h5v5h-5zM550 835h5v5h-5zM550 850h5v5h-5zM550 860h5v5h-5zM550 875h5v5h-5zM550 1270h5v5h-5zM550 1500h5v5h-5zM550 1525h5v5h-5zM555 825h5v5h-5zM555 840h5v5h-5zM555 850h5v5h-5zM555 855h5v5h-5zM555 860h5v5h-5zM555 865h5v5h-5zM555 875h5v5h-5zM555 1345h5v5h-5zM555 1400h5v5h-5zM555 1430h5v5h-5zM555 1485h5v5h-5zM560 830h5v5h-5zM560 835h5v5h-5zM560 840h5v5h-5zM560 845h5v5h-5zM560 850h5v5h-5zM560 855h5v5h-5zM560 875h5v5h-5zM560 1060h5v5h-5zM560 1115h5v5h-5zM560 1290h5v5h-5zM560 1520h5v5h-5zM565 835h5v5h-5zM565 845h5v5h-5zM565 855h5v5h-5zM565 1080h5v5h-5zM565 1095h5v5h-5zM565 1105h5v5h-5zM565 1245h5v5h-5zM565 1515h5v5h-5zM570 845h5v5h-5zM570 850h5v5h-5zM570 870h5v5h-5zM570 1545h5v5h-5zM575 700h5v5h-5zM575 705h5v5h-5zM575 850h5v5h-5zM575 870h5v5h-5zM575 1205h5v5h-5zM575 1250h5v5h-5zM575 1305h5v5h-5zM575 1600h5v5h-5zM580 945h5v5h-5zM580 1060h5v5h-5zM585 1640h5v5h-5zM590 955h5v5h-5zM595 860h5v5h-5zM595 1315h5v5h-5zM600 715h5v5h-5zM600 1270h5v5h-5zM605 860h5v5h-5zM605 1590h5v5h-5zM615 845h5v5h-5zM615 1415h5v5h-5zM620 860h5v5h-5zM620 940h5v5h-5zM620 960h5v5h-5zM620 1045h5v5h-5zM620 1060h5v5h-5zM620 1105h5v5h-5zM620 1255h5v5h-5zM620 1380h5v5h-5zM625 1095h5v5h-5zM625 1480h5v5h-5zM630 855h5v5h-5zM635 860h5v5h-5zM635 1370h5v5h-5zM635 1410h5v5h-5zM640 840h5v5h-5zM640 950h5v5h-5zM640 1270h5v5h-5zM640 1580h5v5h-5zM640 1605h5v5h-5zM645 855h5v5h-5zM645 870h5v5h-5zM645 1285h5v5h-5zM645 1690h5v5h-5zM650 715h5v5h-5zM650 830h5v5h-5zM650 855h5v5h-5zM650 860h5v5h-5zM650 1090h5v5h-5zM650 1585h5v5h-5zM650 1610h5v5h-5zM655 830h5v5h-5zM655 835h5v5h-5zM655 840h5v5h-5zM660 840h5v5h-5zM660 850h5v5h-5zM660 875h5v5h-5zM660 1375h5v5h-5zM665 825h5v5h-5zM665 830h5v5h-5zM665 850h5v5h-5zM665 855h5v5h-5zM665 870h5v5h-5zM665 875h5v5h-5zM665 1110h5v5h-5zM665 1235h5v5h-5zM670 715h5v5h-5zM670 830h5v5h-5zM670 835h5v5h-5zM670 860h5v5h-5zM670 870h5v5h-5zM670 875h5v5h-5zM670 1620h5v5h-5zM675 845h5v5h-5zM675 855h5v5h-5zM675 860h5v5h-5zM675 870h5v5h-5zM675 875h5v5h-5zM675 1645h5v5h-5zM680 750h5v5h-5zM680 835h5v5h-5zM680 840h5v5h-5zM680 845h5v5h-5zM680 855h5v5h-5zM680 870h5v5h-5zM680 1085h5v5h-5zM685 850h5v5h-5zM685 855h5v5h-5zM685 860h5v5h-5zM685 1560h5v5h-5zM685 1655h5v5h-5zM690 845h5v5h-5zM690 855h5v5h-5zM690 860h5v5h-5zM690 1060h5v5h-5zM690 1110h5v5h-5zM690 1120h5v5h-5zM690 1275h5v5h-5zM695 1295h5v5h-5zM695 1425h5v5h-5zM700 845h5v5h-5zM700 1720h5v5h-5zM705 1130h5v5h-5zM705 1235h5v5h-5zM710 1460h5v5h-5zM715 1630h5v5h-5zM715 1680h5v5h-5zM720 1595h5v5h-5zM725 750h5v5h-5zM730 795h5v5h-5zM730 1110h5v5h-5zM735 1680h5v5h-5zM745 750h5v5h-5zM745 1620h5v5h-5zM745 1730h5v5h-5zM750 1435h5v5h-5zM760 1080h5v5h-5zM765 1430h5v5h-5zM770 1305h5v5h-5zM770 1310h5v5h-5zM775 1570h5v5h-5zM775 1615h5v5h-5zM785 1780h5v5h-5zM790 1155h5v5h-5zM795 1480h5v5h-5zM795 1790h5v5h-5zM800 1765h5v5h-5zM800 1790h5v5h-5zM810 820h5v5h-5zM810 1245h5v5h-5zM810 1720h5v5h-5zM835 1365h5v5h-5zM850 1460h5v5h-5zM860 1130h5v5h-5zM860 1160h5v5h-5zM860 1165h5v5h-5zM860 1170h5v5h-5zM865 1130h5v5h-5zM865 1160h5v5h-5zM865 1165h5v5h-5zM870 1030h5v5h-5zM870 1045h5v5h-5zM870 1105h5v5h-5zM870 1115h5v5h-5zM870 1120h5v5h-5zM870 1130h5v5h-5zM870 1135h5v5h-5zM870 1140h5v5h-5zM870 1145h5v5h-5zM870 1150h5v5h-5zM870 1155h5v5h-5zM870 1160h5v5h-5zM870 1165h5v5h-5zM870 1170h5v5h-5zM870 1175h5v5h-5zM870 1180h5v5h-5zM870 1185h5v5h-5zM870 1190h5v5h-5zM870 1195h5v5h-5zM875 1025h5v5h-5zM875 1030h5v5h-5zM875 1035h5v5h-5zM875 1040h5v5h-5zM875 1045h5v5h-5zM875 1050h5v5h-5zM875 1055h5v5h-5zM875 1060h5v5h-5zM875 1065h5v5h-5zM875 1075h5v5h-5zM875 1090h5v5h-5zM875 1095h5v5h-5zM875 1105h5v5h-5zM875 1110h5v5h-5zM875 1115h5v5h-5zM875 1120h5v5h-5zM875 1125h5v5h-5zM875 1130h5v5h-5zM875 1140h5v5h-5zM875 1145h5v5h-5zM875 1160h5v5h-5zM875 1170h5v5h-5zM875 1175h5v5h-5zM875 1180h5v5h-5zM875 1185h5v5h-5zM875 1195h5v5h-5zM875 1670h5v5h-5zM880 1010h5v5h-5zM880 1020h5v5h-5zM880 1025h5v5h-5zM880 1030h5v5h-5zM880 1035h5v5h-5zM880 1040h5v5h-5zM880 1045h5v5h-5zM880 1050h5v5h-5zM880 1055h5v5h-5zM880 1060h5v5h-5zM880 1065h5v5h-5zM880 1070h5v5h-5zM880 1075h5v5h-5zM880 1080h5v5h-5zM880 1085h5v5h-5zM880 1095h5v5h-5zM880 1100h5v5h-5zM880 1105h5v5h-5zM880 1110h5v5h-5zM880 1115h5v5h-5zM880 1120h5v5h-5zM880 1130h5v5h-5zM880 1135h5v5h-5zM880 1140h5v5h-5zM880 1165h5v5h-5zM880 1170h5v5h-5zM880 1175h5v5h-5zM880 1180h5v5h-5zM880 1185h5v5h-5zM880 1190h5v5h-5zM880 1320h5v5h-5zM880 1675h5v5h-5zM885 1010h5v5h-5zM885 1025h5v5h-5zM885 1040h5v5h-5zM885 1045h5v5h-5zM885 1050h5v5h-5zM885 1065h5v5h-5zM885 1110h5v5h-5zM885 1115h5v5h-5zM885 1130h5v5h-5zM885 1140h5v5h-5zM885 1150h5v5h-5zM885 1165h5v5h-5zM885 1535h5v5h-5zM890 1025h5v5h-5zM890 1040h5v5h-5zM890 1045h5v5h-5zM890 1125h5v5h-5zM890 1140h5v5h-5zM890 1145h5v5h-5zM890 1150h5v5h-5zM890 1155h5v5h-5zM890 1180h5v5h-5zM895 1005h5v5h-5zM895 1010h5v5h-5zM895 1015h5v5h-5zM895 1020h5v5h-5zM895 1025h5v5h-5zM895 1030h5v5h-5zM895 1035h5v5h-5zM895 1040h5v5h-5zM895 1055h5v5h-5zM895 1065h5v5h-5zM895 1070h5v5h-5zM895 1080h5v5h-5zM895 1085h5v5h-5zM895 1095h5v5h-5zM895 1100h5v5h-5zM895 1105h5v5h-5zM895 1110h5v5h-5zM895 1120h5v5h-5zM895 1190h5v5h-5zM895 1195h5v5h-5zM895 1330h5v5h-5zM900 1020h5v5h-5zM900 1025h5v5h-5zM900 1040h5v5h-5zM900 1055h5v5h-5zM900 1065h5v5h-5zM900 1090h5v5h-5zM900 1095h5v5h-5zM900 1120h5v5h-5zM900 1140h5v5h-5zM900 1145h5v5h-5zM900 1155h5v5h-5zM900 1165h5v5h-5zM900 1180h5v5h-5zM900 1185h5v5h-5zM905 1010h5v5h-5zM905 1025h5v5h-5zM905 1030h5v5h-5zM905 1035h5v5h-5zM905 1045h5v5h-5zM905 1065h5v5h-5zM905 1070h5v5h-5zM905 1085h5v5h-5zM905 1100h5v5h-5zM905 1115h5v5h-5zM905 1125h5v5h-5zM905 1135h5v5h-5zM905 1140h5v5h-5zM905 1150h5v5h-5zM905 1265h5v5h-5zM910 1010h5v5h-5zM910 1020h5v5h-5zM910 1030h5v5h-5zM910 1035h5v5h-5zM910 1060h5v5h-5zM910 1065h5v5h-5zM910 1070h5v5h-5zM910 1075h5v5h-5zM910 1080h5v5h-5zM910 1095h5v5h-5zM910 1105h5v5h-5zM910 1120h5v5h-5zM910 1125h5v5h-5zM910 1135h5v5h-5zM910 1145h5v5h-5zM910 1150h5v5h-5zM910 1175h5v5h-5zM910 1180h5v5h-5zM910 1185h5v5h-5zM910 1190h5v5h-5zM915 1010h5v5h-5zM915 1030h5v5h-5zM915 1035h5v5h-5zM915 1055h5v5h-5zM915 1075h5v5h-5zM915 1105h5v5h-5zM915 1120h5v5h-5zM915 1125h5v5h-5zM920 1010h5v5h-5zM920 1020h5v5h-5zM920 1030h5v5h-5zM920 1035h5v5h-5zM920 1055h5v5h-5zM920 1075h5v5h-5zM920 1095h5v5h-5zM920 1115h5v5h-5zM920 1120h5v5h-5zM920 1125h5v5h-5zM920 1145h5v5h-5zM920 1150h5v5h-5zM920 1175h5v5h-5zM920 1185h5v5h-5zM920 1195h5v5h-5zM920 1505h5v5h-5zM925 1010h5v5h-5zM925 1055h5v5h-5zM925 1060h5v5h-5zM925 1070h5v5h-5zM925 1085h5v5h-5zM925 1095h5v5h-5zM925 1105h5v5h-5zM925 1140h5v5h-5zM925 1155h5v5h-5zM930 1010h5v5h-5zM930 1020h5v5h-5zM930 1025h5v5h-5zM930 1030h5v5h-5zM930 1055h5v5h-5zM930 1060h5v5h-5zM930 1090h5v5h-5zM930 1110h5v5h-5zM930 1115h5v5h-5zM930 1145h5v5h-5zM930 1150h5v5h-5zM930 1180h5v5h-5zM930 1185h5v5h-5zM930 1510h5v5h-5zM935 1010h5v5h-5zM935 1020h5v5h-5zM935 1030h5v5h-5zM935 1045h5v5h-5zM935 1055h5v5h-5zM935 1065h5v5h-5zM935 1090h5v5h-5zM935 1095h5v5h-5zM935 1110h5v5h-5zM935 1115h5v5h-5zM935 1175h5v5h-5zM935 1185h5v5h-5zM935 1190h5v5h-5zM935 1460h5v5h-5zM940 1005h5v5h-5zM940 1010h5v5h-5zM940 1025h5v5h-5zM940 1045h5v5h-5zM940 1055h5v5h-5zM940 1080h5v5h-5zM940 1085h5v5h-5zM940 1090h5v5h-5zM940 1095h5v5h-5zM940 1120h5v5h-5zM940 1135h5v5h-5zM940 1175h5v5h-5zM940 1185h5v5h-5zM940 1190h5v5h-5zM940 1195h5v5h-5zM945 1025h5v5h-5zM945 1040h5v5h-5zM945 1050h5v5h-5zM945 1065h5v5h-5zM945 1085h5v5h-5zM945 1120h5v5h-5zM945 1140h5v5h-5zM945 1150h5v5h-5zM945 1175h5v5h-5zM945 1180h5v5h-5zM945 1185h5v5h-5zM945 1425h5v5h-5zM950 1015h5v5h-5zM950 1020h5v5h-5zM950 1025h5v5h-5zM950 1030h5v5h-5zM950 1045h5v5h-5zM950 1070h5v5h-5zM950 1075h5v5h-5zM950 1080h5v5h-5zM950 1085h5v5h-5zM950 1090h5v5h-5zM950 1095h5v5h-5zM950 1100h5v5h-5zM950 1105h5v5h-5zM950 1110h5v5h-5zM950 1115h5v5h-5zM950 1130h5v5h-5zM950 1135h5v5h-5zM950 1140h5v5h-5zM950 1145h5v5h-5zM950 1165h5v5h-5zM950 1170h5v5h-5zM950 1175h5v5h-5zM950 1185h5v5h-5zM950 1190h5v5h-5zM950 1195h5v5h-5zM950 1200h5v5h-5zM955 1010h5v5h-5zM955 1025h5v5h-5zM955 1035h5v5h-5zM955 1040h5v5h-5zM955 1050h5v5h-5zM955 1065h5v5h-5zM955 1130h5v5h-5zM955 1165h5v5h-5zM955 1170h5v5h-5zM955 1175h5v5h-5zM955 1260h5v5h-5zM960 995h5v5h-5zM960 1010h5v5h-5zM960 1040h5v5h-5zM960 1045h5v5h-5zM960 1050h5v5h-5zM960 1065h5v5h-5zM960 1130h5v5h-5zM960 1140h5v5h-5zM960 1145h5v5h-5zM960 1160h5v5h-5zM960 1165h5v5h-5zM960 1170h5v5h-5zM960 1185h5v5h-5zM960 1245h5v5h-5zM965 1025h5v5h-5zM965 1045h5v5h-5zM965 1130h5v5h-5zM965 1160h5v5h-5zM965 1165h5v5h-5zM965 1170h5v5h-5zM970 1130h5v5h-5zM970 1160h5v5h-5zM970 1165h5v5h-5zM975 1130h5v5h-5zM975 1160h5v5h-5zM975 1170h5v5h-5zM980 1130h5v5h-5zM980 1170h5v5h-5zM990 1145h5v5h-5zM990 1490h5v5h-5zM1005 1415h5v5h-5zM1025 1085h5v5h-5zM1035 1345h5v5h-5zM1060 1250h5v5h-5zM1065 1150h5v5h-5zM1065 1505h5v5h-5zM1070 1140h5v5h-5zM1075 1355h5v5h-5zM1075 1445h5v5h-5zM1095 1265h5v5h-5zM1125 1385h5v5h-5zM1130 1215h5v5h-5zM1145 1325h5v5h-5zM1165 1230h5v5h-5zM1195 1325h5v5h-5zM1205 1260h5v5h-5zM1235 1345h5v5h-5z"/><path fill="#f9cbb3" d="M-150 630h5v5h-5zM-120 690h5v5h-5zM-60 920h5v5h-5zM-10 895h5v5h-5zM30 975h5v5h-5zM100 705h5v5h-5zM120 985h5v5h-5zM135 1085h5v5h-5zM140 1145h5v5h-5zM170 1140h5v5h-5zM170 1220h5v5h-5zM205 445h5v5h-5zM205 1115h5v5h-5zM230 1035h5v5h-5zM270 1155h5v5h-5zM280 925h5v5h-5zM285 1200h5v5h-5zM340 1265h5v5h-5zM360 665h5v5h-5zM375 1235h5v5h-5zM395 1110h5v5h-5zM410 1300h5v5h-5zM420 1065h5v5h-5zM420 1130h5v5h-5zM420 1140h5v5h-5zM420 1160h5v5h-5zM425 980h5v5h-5zM425 1010h5v5h-5zM425 1020h5v5h-5zM425 1030h5v5h-5zM425 1100h5v5h-5zM425 1130h5v5h-5zM425 1145h5v5h-5zM425 1175h5v5h-5zM425 1190h5v5h-5zM425 1195h5v5h-5zM425 1215h5v5h-5zM430 965h5v5h-5zM430 970h5v5h-5zM430 985h5v5h-5zM430 1020h5v5h-5zM430 1035h5v5h-5zM430 1045h5v5h-5zM430 1050h5v5h-5zM430 1165h5v5h-5zM435 985h5v5h-5zM435 1020h5v5h-5zM435 1045h5v5h-5zM435 1050h5v5h-5zM435 1060h5v5h-5zM435 1110h5v5h-5zM435 1160h5v5h-5zM435 1205h5v5h-5zM440 955h5v5h-5zM440 965h5v5h-5zM440 985h5v5h-5zM440 1005h5v5h-5zM440 1055h5v5h-5zM440 1115h5v5h-5zM440 1120h5v5h-5zM440 1130h5v5h-5zM440 1155h5v5h-5zM440 1185h5v5h-5zM440 1190h5v5h-5zM440 1195h5v5h-5zM445 930h5v5h-5zM445 945h5v5h-5zM445 955h5v5h-5zM445 965h5v5h-5zM445 990h5v5h-5zM445 1010h5v5h-5zM445 1015h5v5h-5zM445 1030h5v5h-5zM445 1040h5v5h-5zM445 1120h5v5h-5zM445 1145h5v5h-5zM445 1155h5v5h-5zM445 1160h5v5h-5zM445 1170h5v5h-5zM445 1210h5v5h-5zM450 965h5v5h-5zM450 970h5v5h-5zM450 975h5v5h-5zM450 985h5v5h-5zM450 990h5v5h-5zM450 995h5v5h-5zM450 1015h5v5h-5zM450 1020h5v5h-5zM450 1025h5v5h-5zM450 1030h5v5h-5zM450 1035h5v5h-5zM450 1145h5v5h-5zM450 1150h5v5h-5zM450 1160h5v5h-5zM450 1170h5v5h-5zM450 1180h5v5h-5zM450 1190h5v5h-5zM450 1195h5v5h-5zM455 1025h5v5h-5zM455 1045h5v5h-5zM455 1050h5v5h-5zM455 1170h5v5h-5zM460 935h5v5h-5zM460 1025h5v5h-5zM460 1040h5v5h-5zM460 1065h5v5h-5zM465 1105h5v5h-5zM465 1160h5v5h-5zM465 1170h5v5h-5zM470 930h5v5h-5zM470 945h5v5h-5zM470 970h5v5h-5zM470 985h5v5h-5zM470 990h5v5h-5zM470 1010h5v5h-5zM470 1015h5v5h-5zM470 1020h5v5h-5zM470 1030h5v5h-5zM470 1130h5v5h-5zM470 1145h5v5h-5zM470 1150h5v5h-5zM470 1155h5v5h-5zM470 1165h5v5h-5zM470 1170h5v5h-5zM470 1185h5v5h-5zM470 1190h5v5h-5zM470 1210h5v5h-5zM475 870h5v5h-5zM475 950h5v5h-5zM475 990h5v5h-5zM475 1010h5v5h-5zM475 1040h5v5h-5zM475 1140h5v5h-5zM475 1170h5v5h-5zM480 1025h5v5h-5zM480 1045h5v5h-5zM480 1160h5v5h-5zM485 950h5v5h-5zM485 1010h5v5h-5zM485 1025h5v5h-5zM485 1145h5v5h-5zM485 1215h5v5h-5zM485 1490h5v5h-5zM490 1010h5v5h-5zM490 1025h5v5h-5zM490 1045h5v5h-5zM490 1130h5v5h-5zM490 1165h5v5h-5zM490 1170h5v5h-5zM490 1185h5v5h-5zM490 1520h5v5h-5zM495 1010h5v5h-5zM495 1025h5v5h-5zM495 1165h5v5h-5zM500 1010h5v5h-5zM500 1025h5v5h-5zM500 1040h5v5h-5zM500 1065h5v5h-5zM500 1130h5v5h-5zM500 1155h5v5h-5zM500 1160h5v5h-5zM500 1170h5v5h-5zM500 1185h5v5h-5zM505 1005h5v5h-5zM505 1010h5v5h-5zM505 1025h5v5h-5zM505 1130h5v5h-5zM505 1165h5v5h-5zM505 1175h5v5h-5zM505 1210h5v5h-5zM510 920h5v5h-5zM510 960h5v5h-5zM510 965h5v5h-5zM510 975h5v5h-5zM510 985h5v5h-5zM510 990h5v5h-5zM510 995h5v5h-5zM510 1000h5v5h-5zM510 1005h5v5h-5zM510 1010h5v5h-5zM510 1015h5v5h-5zM510 1020h5v5h-5zM510 1035h5v5h-5zM510 1040h5v5h-5zM510 1060h5v5h-5zM510 1110h5v5h-5zM510 1115h5v5h-5zM510 1130h5v5h-5zM510 1160h5v5h-5zM510 1165h5v5h-5zM510 1170h5v5h-5zM510 1185h5v5h-5zM515 925h5v5h-5zM515 935h5v5h-5zM515 940h5v5h-5zM515 955h5v5h-5zM515 965h5v5h-5zM515 980h5v5h-5zM515 985h5v5h-5zM515 990h5v5h-5zM515 995h5v5h-5zM515 1005h5v5h-5zM515 1040h5v5h-5zM515 1045h5v5h-5zM515 1120h5v5h-5zM515 1145h5v5h-5zM515 1150h5v5h-5zM515 1180h5v5h-5zM515 1185h5v5h-5zM515 1195h5v5h-5zM520 890h5v5h-5zM520 925h5v5h-5zM520 950h5v5h-5zM520 965h5v5h-5zM520 970h5v5h-5zM520 975h5v5h-5zM520 980h5v5h-5zM520 985h5v5h-5zM520 990h5v5h-5zM520 995h5v5h-5zM520 1000h5v5h-5zM520 1110h5v5h-5zM520 1155h5v5h-5zM520 1190h5v5h-5zM520 1205h5v5h-5zM525 910h5v5h-5zM525 935h5v5h-5zM525 940h5v5h-5zM525 955h5v5h-5zM525 970h5v5h-5zM525 980h5v5h-5zM525 985h5v5h-5zM525 990h5v5h-5zM525 995h5v5h-5zM525 1005h5v5h-5zM525 1040h5v5h-5zM525 1045h5v5h-5zM525 1050h5v5h-5zM525 1060h5v5h-5zM525 1155h5v5h-5zM525 1180h5v5h-5zM525 1200h5v5h-5zM530 985h5v5h-5zM530 995h5v5h-5zM530 1015h5v5h-5zM530 1035h5v5h-5zM530 1040h5v5h-5zM530 1045h5v5h-5zM530 1065h5v5h-5zM530 1140h5v5h-5zM530 1185h5v5h-5zM535 995h5v5h-5zM535 1005h5v5h-5zM535 1010h5v5h-5zM535 1030h5v5h-5zM535 1045h5v5h-5zM535 1125h5v5h-5zM535 1130h5v5h-5zM535 1160h5v5h-5zM535 1165h5v5h-5zM535 1175h5v5h-5zM540 1010h5v5h-5zM540 1040h5v5h-5zM540 1050h5v5h-5zM540 1165h5v5h-5zM540 1170h5v5h-5zM545 950h5v5h-5zM545 1010h5v5h-5zM545 1025h5v5h-5zM545 1040h5v5h-5zM545 1160h5v5h-5zM545 1170h5v5h-5zM545 1205h5v5h-5zM545 1210h5v5h-5zM550 1040h5v5h-5zM550 1130h5v5h-5zM550 1160h5v5h-5zM550 1170h5v5h-5zM550 1200h5v5h-5zM550 1495h5v5h-5zM555 950h5v5h-5zM555 1025h5v5h-5zM555 1160h5v5h-5zM555 1170h5v5h-5zM555 1185h5v5h-5zM560 1010h5v5h-5zM560 1025h5v5h-5zM560 1045h5v5h-5zM560 1130h5v5h-5zM560 1160h5v5h-5zM560 1170h5v5h-5zM565 1010h5v5h-5zM565 1040h5v5h-5zM565 1130h5v5h-5zM565 1170h5v5h-5zM565 1275h5v5h-5zM570 950h5v5h-5zM570 1010h5v5h-5zM570 1040h5v5h-5zM570 1160h5v5h-5zM570 1165h5v5h-5zM570 1170h5v5h-5zM570 1185h5v5h-5zM575 950h5v5h-5zM575 1025h5v5h-5zM575 1160h5v5h-5zM575 1185h5v5h-5zM575 1585h5v5h-5zM580 1010h5v5h-5zM580 1050h5v5h-5zM580 1160h5v5h-5zM585 950h5v5h-5zM585 1010h5v5h-5zM585 1040h5v5h-5zM585 1130h5v5h-5zM585 1170h5v5h-5zM585 1185h5v5h-5zM590 940h5v5h-5zM590 945h5v5h-5zM590 965h5v5h-5zM590 970h5v5h-5zM590 1000h5v5h-5zM590 1005h5v5h-5zM590 1010h5v5h-5zM590 1015h5v5h-5zM590 1060h5v5h-5zM590 1125h5v5h-5zM590 1140h5v5h-5zM590 1150h5v5h-5zM590 1155h5v5h-5zM590 1160h5v5h-5zM590 1165h5v5h-5zM590 1170h5v5h-5zM590 1175h5v5h-5zM590 1180h5v5h-5zM590 1190h5v5h-5zM590 1205h5v5h-5zM590 1250h5v5h-5zM595 935h5v5h-5zM595 945h5v5h-5zM595 960h5v5h-5zM595 985h5v5h-5zM595 990h5v5h-5zM595 1000h5v5h-5zM595 1005h5v5h-5zM595 1020h5v5h-5zM595 1025h5v5h-5zM595 1115h5v5h-5zM595 1145h5v5h-5zM595 1150h5v5h-5zM595 1160h5v5h-5zM595 1165h5v5h-5zM595 1170h5v5h-5zM595 1175h5v5h-5zM595 1180h5v5h-5zM595 1185h5v5h-5zM595 1190h5v5h-5zM600 895h5v5h-5zM600 910h5v5h-5zM600 920h5v5h-5zM600 930h5v5h-5zM600 935h5v5h-5zM600 950h5v5h-5zM600 955h5v5h-5zM600 965h5v5h-5zM600 975h5v5h-5zM600 980h5v5h-5zM600 990h5v5h-5zM600 995h5v5h-5zM600 1000h5v5h-5zM600 1005h5v5h-5zM600 1020h5v5h-5zM600 1030h5v5h-5zM600 1050h5v5h-5zM600 1055h5v5h-5zM600 1065h5v5h-5zM600 1130h5v5h-5zM600 1140h5v5h-5zM600 1145h5v5h-5zM600 1150h5v5h-5zM600 1155h5v5h-5zM600 1160h5v5h-5zM600 1165h5v5h-5zM600 1170h5v5h-5zM600 1175h5v5h-5zM600 1180h5v5h-5zM600 1205h5v5h-5zM605 990h5v5h-5zM605 1010h5v5h-5zM605 1025h5v5h-5zM605 1040h5v5h-5zM605 1160h5v5h-5zM605 1165h5v5h-5zM605 1170h5v5h-5zM605 1175h5v5h-5zM605 1185h5v5h-5zM610 920h5v5h-5zM610 940h5v5h-5zM610 950h5v5h-5zM610 965h5v5h-5zM610 970h5v5h-5zM610 975h5v5h-5zM610 985h5v5h-5zM610 990h5v5h-5zM610 995h5v5h-5zM610 1000h5v5h-5zM610 1005h5v5h-5zM610 1010h5v5h-5zM610 1020h5v5h-5zM610 1025h5v5h-5zM610 1040h5v5h-5zM610 1150h5v5h-5zM610 1155h5v5h-5zM610 1160h5v5h-5zM610 1165h5v5h-5zM610 1170h5v5h-5zM610 1175h5v5h-5zM610 1180h5v5h-5zM615 950h5v5h-5zM615 980h5v5h-5zM615 1000h5v5h-5zM615 1030h5v5h-5zM615 1040h5v5h-5zM615 1215h5v5h-5zM620 950h5v5h-5zM620 965h5v5h-5zM620 970h5v5h-5zM620 975h5v5h-5zM620 980h5v5h-5zM620 985h5v5h-5zM620 990h5v5h-5zM620 995h5v5h-5zM620 1000h5v5h-5zM620 1005h5v5h-5zM620 1010h5v5h-5zM620 1035h5v5h-5zM620 1040h5v5h-5zM620 1165h5v5h-5zM620 1170h5v5h-5zM625 970h5v5h-5zM625 990h5v5h-5zM625 1000h5v5h-5zM625 1015h5v5h-5zM625 1045h5v5h-5zM625 1160h5v5h-5zM625 1215h5v5h-5zM630 950h5v5h-5zM630 980h5v5h-5zM630 985h5v5h-5zM630 990h5v5h-5zM630 1020h5v5h-5zM630 1030h5v5h-5zM630 1035h5v5h-5zM630 1045h5v5h-5zM630 1160h5v5h-5zM630 1165h5v5h-5zM630 1185h5v5h-5zM630 1210h5v5h-5zM635 930h5v5h-5zM635 950h5v5h-5zM635 955h5v5h-5zM635 960h5v5h-5zM635 965h5v5h-5zM635 1020h5v5h-5zM635 1045h5v5h-5zM635 1115h5v5h-5zM635 1130h5v5h-5zM635 1160h5v5h-5zM635 1165h5v5h-5zM635 1175h5v5h-5zM640 985h5v5h-5zM640 990h5v5h-5zM640 995h5v5h-5zM640 1000h5v5h-5zM640 1005h5v5h-5zM640 1010h5v5h-5zM640 1020h5v5h-5zM640 1025h5v5h-5zM640 1040h5v5h-5zM640 1160h5v5h-5zM645 1010h5v5h-5zM645 1025h5v5h-5zM645 1045h5v5h-5zM645 1170h5v5h-5zM645 1185h5v5h-5zM650 930h5v5h-5zM650 935h5v5h-5zM650 955h5v5h-5zM650 960h5v5h-5zM650 965h5v5h-5zM650 970h5v5h-5zM650 975h5v5h-5zM650 980h5v5h-5zM650 985h5v5h-5zM650 990h5v5h-5zM650 995h5v5h-5zM650 1010h5v5h-5zM650 1015h5v5h-5zM650 1020h5v5h-5zM650 1035h5v5h-5zM650 1060h5v5h-5zM650 1065h5v5h-5zM650 1155h5v5h-5zM650 1165h5v5h-5zM650 1220h5v5h-5zM655 995h5v5h-5zM655 1005h5v5h-5zM655 1010h5v5h-5zM655 1015h5v5h-5zM655 1025h5v5h-5zM655 1170h5v5h-5zM660 1010h5v5h-5zM660 1040h5v5h-5zM660 1160h5v5h-5zM660 1170h5v5h-5zM665 950h5v5h-5zM670 900h5v5h-5zM670 905h5v5h-5zM670 925h5v5h-5zM670 940h5v5h-5zM670 945h5v5h-5zM670 950h5v5h-5zM670 955h5v5h-5zM670 960h5v5h-5zM670 980h5v5h-5zM670 1005h5v5h-5zM670 1010h5v5h-5zM670 1015h5v5h-5zM670 1020h5v5h-5zM670 1030h5v5h-5zM670 1060h5v5h-5zM670 1085h5v5h-5zM670 1140h5v5h-5zM670 1150h5v5h-5zM670 1160h5v5h-5zM670 1170h5v5h-5zM670 1180h5v5h-5zM670 1205h5v5h-5zM675 930h5v5h-5zM675 945h5v5h-5zM675 975h5v5h-5zM675 985h5v5h-5zM675 990h5v5h-5zM675 1005h5v5h-5zM675 1025h5v5h-5zM675 1150h5v5h-5zM675 1195h5v5h-5zM680 1040h5v5h-5zM680 1225h5v5h-5zM685 1010h5v5h-5zM690 1025h5v5h-5zM695 950h5v5h-5zM700 895h5v5h-5zM700 900h5v5h-5zM700 920h5v5h-5zM700 930h5v5h-5zM700 965h5v5h-5zM700 970h5v5h-5zM700 975h5v5h-5zM700 980h5v5h-5zM700 995h5v5h-5zM700 1015h5v5h-5zM700 1035h5v5h-5zM700 1065h5v5h-5zM700 1075h5v5h-5zM705 1010h5v5h-5zM705 1040h5v5h-5zM710 950h5v5h-5zM710 1025h5v5h-5zM715 865h5v5h-5zM715 870h5v5h-5zM715 895h5v5h-5zM715 900h5v5h-5zM715 905h5v5h-5zM715 930h5v5h-5zM715 945h5v5h-5zM715 955h5v5h-5zM715 975h5v5h-5zM715 985h5v5h-5zM715 995h5v5h-5zM715 1000h5v5h-5zM715 1010h5v5h-5zM715 1215h5v5h-5zM720 1040h5v5h-5zM725 890h5v5h-5zM725 895h5v5h-5zM725 930h5v5h-5zM725 935h5v5h-5zM725 960h5v5h-5zM725 975h5v5h-5zM725 1010h5v5h-5zM725 1020h5v5h-5zM725 1030h5v5h-5zM730 1010h5v5h-5zM740 950h5v5h-5zM740 1040h5v5h-5zM750 1010h5v5h-5zM750 1040h5v5h-5zM750 1410h5v5h-5zM755 1025h5v5h-5zM760 895h5v5h-5zM760 915h5v5h-5zM760 925h5v5h-5zM760 940h5v5h-5zM760 950h5v5h-5zM760 960h5v5h-5zM760 965h5v5h-5zM760 1010h5v5h-5zM760 1035h5v5h-5zM765 950h5v5h-5zM765 1025h5v5h-5zM770 855h5v5h-5zM775 950h5v5h-5zM775 1010h5v5h-5zM775 1040h5v5h-5zM775 1100h5v5h-5zM780 950h5v5h-5zM780 1040h5v5h-5zM800 950h5v5h-5zM800 1010h5v5h-5zM805 950h5v5h-5zM805 1010h5v5h-5zM810 950h5v5h-5zM810 1010h5v5h-5zM815 950h5v5h-5zM820 950h5v5h-5zM825 950h5v5h-5zM830 950h5v5h-5zM830 1010h5v5h-5zM835 875h5v5h-5zM835 950h5v5h-5zM835 965h5v5h-5zM835 970h5v5h-5zM835 980h5v5h-5zM835 985h5v5h-5zM835 1010h5v5h-5zM835 1045h5v5h-5zM840 950h5v5h-5zM870 925h5v5h-5zM870 935h5v5h-5zM870 945h5v5h-5zM870 950h5v5h-5zM870 970h5v5h-5zM875 880h5v5h-5zM875 925h5v5h-5zM875 965h5v5h-5zM875 970h5v5h-5zM880 925h5v5h-5zM880 930h5v5h-5zM880 965h5v5h-5zM885 940h5v5h-5zM1090 1165h5v5h-5z"/><path fill="#c4dcec" d="M-115 845h5v5h-5zM0 955h5v5h-5zM5 910h5v5h-5zM15 505h5v5h-5zM65 1000h5v5h-5zM100 820h5v5h-5zM105 845h5v5h-5zM125 720h5v5h-5zM145 1105h5v5h-5zM180 785h5v5h-5zM275 1125h5v5h-5zM305 1230h5v5h-5zM340 1260h5v5h-5zM370 1055h5v5h-5zM375 950h5v5h-5zM405 1090h5v5h-5zM420 860h5v5h-5zM420 865h5v5h-5zM420 870h5v5h-5zM425 875h5v5h-5zM425 1320h5v5h-5zM430 880h5v5h-5zM430 1255h5v5h-5zM435 880h5v5h-5zM440 855h5v5h-5zM445 855h5v5h-5zM445 870h5v5h-5zM485 865h5v5h-5zM490 865h5v5h-5zM490 1080h5v5h-5zM500 1395h5v5h-5zM510 865h5v5h-5zM545 855h5v5h-5zM570 860h5v5h-5zM575 860h5v5h-5zM580 1470h5v5h-5zM585 1530h5v5h-5zM615 865h5v5h-5zM620 1225h5v5h-5zM635 865h5v5h-5zM635 1475h5v5h-5zM640 860h5v5h-5zM640 865h5v5h-5zM645 865h5v5h-5zM665 860h5v5h-5zM670 865h5v5h-5zM685 865h5v5h-5zM720 845h5v5h-5zM745 1705h5v5h-5zM780 1360h5v5h-5zM875 1135h5v5h-5zM875 1150h5v5h-5zM880 1125h5v5h-5zM880 1150h5v5h-5zM880 1155h5v5h-5zM880 1160h5v5h-5zM885 1160h5v5h-5zM885 1170h5v5h-5zM890 1130h5v5h-5zM890 1160h5v5h-5zM890 1170h5v5h-5zM895 1045h5v5h-5zM895 1050h5v5h-5zM895 1060h5v5h-5zM895 1075h5v5h-5zM895 1115h5v5h-5zM895 1125h5v5h-5zM895 1135h5v5h-5zM895 1140h5v5h-5zM895 1155h5v5h-5zM895 1170h5v5h-5zM895 1175h5v5h-5zM895 1185h5v5h-5zM900 1045h5v5h-5zM900 1050h5v5h-5zM900 1130h5v5h-5zM900 1150h5v5h-5zM900 1175h5v5h-5zM905 1050h5v5h-5zM905 1130h5v5h-5zM905 1155h5v5h-5zM905 1175h5v5h-5zM910 1025h5v5h-5zM910 1040h5v5h-5zM910 1045h5v5h-5zM910 1050h5v5h-5zM910 1155h5v5h-5zM915 1025h5v5h-5zM915 1050h5v5h-5zM915 1140h5v5h-5zM915 1145h5v5h-5zM915 1150h5v5h-5zM915 1175h5v5h-5zM915 1185h5v5h-5zM920 1025h5v5h-5zM920 1040h5v5h-5zM920 1045h5v5h-5zM920 1050h5v5h-5zM920 1065h5v5h-5zM920 1130h5v5h-5zM920 1155h5v5h-5zM925 1045h5v5h-5zM925 1050h5v5h-5zM925 1065h5v5h-5zM925 1130h5v5h-5zM925 1145h5v5h-5zM925 1185h5v5h-5zM930 1040h5v5h-5zM930 1050h5v5h-5zM930 1065h5v5h-5zM930 1130h5v5h-5zM935 1025h5v5h-5zM935 1040h5v5h-5zM935 1050h5v5h-5zM935 1130h5v5h-5zM935 1160h5v5h-5zM935 1165h5v5h-5zM935 1170h5v5h-5zM940 1030h5v5h-5zM940 1050h5v5h-5zM940 1060h5v5h-5zM940 1065h5v5h-5zM940 1070h5v5h-5zM940 1075h5v5h-5zM940 1100h5v5h-5zM940 1110h5v5h-5zM940 1125h5v5h-5zM940 1130h5v5h-5zM940 1140h5v5h-5zM940 1145h5v5h-5zM940 1150h5v5h-5zM940 1170h5v5h-5zM945 1130h5v5h-5zM945 1165h5v5h-5zM945 1170h5v5h-5zM950 1035h5v5h-5zM950 1040h5v5h-5zM950 1050h5v5h-5zM950 1055h5v5h-5zM950 1120h5v5h-5zM950 1150h5v5h-5zM950 1155h5v5h-5zM955 1160h5v5h-5zM1015 1350h5v5h-5zM1085 1290h5v5h-5z"/><path fill="#a2c9e2" d="M425 860h5v5h-5zM430 855h5v5h-5zM430 875h5v5h-5zM435 855h5v5h-5zM435 875h5v5h-5zM445 860h5v5h-5zM470 865h5v5h-5zM475 865h5v5h-5zM505 865h5v5h-5zM530 865h5v5h-5zM545 865h5v5h-5zM570 865h5v5h-5zM580 865h5v5h-5zM585 865h5v5h-5zM590 865h5v5h-5zM625 865h5v5h-5zM630 865h5v5h-5zM700 865h5v5h-5zM890 1165h5v5h-5zM895 1145h5v5h-5zM895 1160h5v5h-5zM895 1165h5v5h-5zM900 1160h5v5h-5zM900 1170h5v5h-5zM910 1130h5v5h-5zM915 1040h5v5h-5zM915 1130h5v5h-5zM915 1155h5v5h-5zM925 1040h5v5h-5zM925 1165h5v5h-5zM925 1170h5v5h-5zM930 1045h5v5h-5zM930 1160h5v5h-5zM930 1165h5v5h-5zM930 1170h5v5h-5zM940 1155h5v5h-5zM940 1160h5v5h-5z"/><path fill="#78b0d6" d="M425 865h5v5h-5zM425 870h5v5h-5zM450 865h5v5h-5zM460 865h5v5h-5zM465 865h5v5h-5zM480 865h5v5h-5zM500 865h5v5h-5zM515 865h5v5h-5zM525 865h5v5h-5zM535 865h5v5h-5zM540 865h5v5h-5zM595 865h5v5h-5zM605 865h5v5h-5zM610 865h5v5h-5zM650 865h5v5h-5zM655 865h5v5h-5zM665 865h5v5h-5zM675 865h5v5h-5zM690 865h5v5h-5zM705 865h5v5h-5zM905 1170h5v5h-5zM920 1160h5v5h-5zM920 1170h5v5h-5zM925 1160h5v5h-5z"/><path fill="#2a6fb0" d="M430 860h5v5h-5zM520 865h5v5h-5zM560 865h5v5h-5zM575 865h5v5h-5zM680 865h5v5h-5zM905 1160h5v5h-5zM905 1165h5v5h-5zM910 1170h5v5h-5z"/><path fill="#17508f" d="M430 865h5v5h-5zM430 870h5v5h-5zM435 860h5v5h-5zM435 865h5v5h-5zM435 870h5v5h-5zM440 865h5v5h-5zM445 865h5v5h-5zM910 1160h5v5h-5zM910 1165h5v5h-5zM915 1160h5v5h-5zM915 1165h5v5h-5z"/><path fill="#f5ad8f" d="M430 975h5v5h-5zM430 1030h5v5h-5zM430 1170h5v5h-5zM435 970h5v5h-5zM435 980h5v5h-5zM435 1030h5v5h-5zM435 1035h5v5h-5zM440 970h5v5h-5zM440 1035h5v5h-5zM440 1160h5v5h-5zM440 1165h5v5h-5zM445 975h5v5h-5zM445 980h5v5h-5zM445 1025h5v5h-5zM445 1180h5v5h-5zM460 1160h5v5h-5zM470 1175h5v5h-5zM510 1030h5v5h-5zM510 1175h5v5h-5zM515 1035h5v5h-5zM515 1165h5v5h-5zM515 1175h5v5h-5zM520 1005h5v5h-5zM520 1010h5v5h-5zM520 1015h5v5h-5zM520 1035h5v5h-5zM520 1040h5v5h-5zM520 1160h5v5h-5zM520 1195h5v5h-5zM525 1010h5v5h-5zM530 1020h5v5h-5zM530 1030h5v5h-5zM530 1160h5v5h-5zM530 1175h5v5h-5zM535 1170h5v5h-5zM535 1185h5v5h-5zM540 1025h5v5h-5zM540 1160h5v5h-5zM575 1170h5v5h-5zM610 980h5v5h-5zM615 1025h5v5h-5zM620 1030h5v5h-5zM625 975h5v5h-5zM625 985h5v5h-5zM625 1010h5v5h-5zM625 1020h5v5h-5zM625 1035h5v5h-5zM625 1040h5v5h-5zM630 975h5v5h-5zM630 1010h5v5h-5zM630 1040h5v5h-5zM635 970h5v5h-5zM635 1000h5v5h-5zM635 1005h5v5h-5zM635 1010h5v5h-5zM635 1015h5v5h-5zM635 1025h5v5h-5zM635 1035h5v5h-5zM650 1005h5v5h-5z"/><path fill="#ec8c6c" d="M430 980h5v5h-5zM430 1025h5v5h-5zM430 1175h5v5h-5zM430 1180h5v5h-5zM435 1025h5v5h-5zM435 1165h5v5h-5zM435 1185h5v5h-5zM440 975h5v5h-5zM440 1020h5v5h-5zM440 1025h5v5h-5zM445 1175h5v5h-5zM515 1020h5v5h-5zM515 1025h5v5h-5zM515 1030h5v5h-5zM515 1170h5v5h-5zM520 1020h5v5h-5zM520 1165h5v5h-5zM520 1175h5v5h-5zM525 1015h5v5h-5zM525 1020h5v5h-5zM525 1035h5v5h-5zM525 1170h5v5h-5zM530 1165h5v5h-5zM535 1025h5v5h-5zM620 1025h5v5h-5zM625 980h5v5h-5zM630 1025h5v5h-5zM635 1030h5v5h-5z"/><path fill="#dc6650" d="M435 975h5v5h-5zM435 1170h5v5h-5zM435 1180h5v5h-5zM520 1025h5v5h-5zM520 1030h5v5h-5zM525 1030h5v5h-5zM525 1165h5v5h-5zM525 1175h5v5h-5zM530 1025h5v5h-5zM530 1170h5v5h-5zM625 1025h5v5h-5z"/><path fill="#c43c3c" d="M435 1175h5v5h-5zM440 980h5v5h-5zM440 1030h5v5h-5zM440 1170h5v5h-5zM440 1175h5v5h-5zM440 1180h5v5h-5zM625 1030h5v5h-5z"/><path fill="#4c91c4" d="M440 860h5v5h-5zM440 870h5v5h-5zM455 865h5v5h-5zM495 865h5v5h-5zM550 865h5v5h-5zM565 865h5v5h-5zM600 865h5v5h-5zM620 865h5v5h-5zM660 865h5v5h-5zM695 865h5v5h-5zM915 1170h5v5h-5zM920 1165h5v5h-5z"/><path fill="#a01c2c" d="M520 1170h5v5h-5zM525 1025h5v5h-5z"/></g></g><rect x="251.80" y="118.60" width="8.75" height="8.58" fill="#dc9b3f"/><rect x="260.25" y="118.60" width="8.75" height="8.58" fill="#dcc37a"/><rect x="268.70" y="118.60" width="8.75" height="8.58" fill="#ddd8a3"/><rect x="277.14" y="118.60" width="8.75" height="8.58" fill="#dc842c"/><rect x="285.59" y="118.60" width="8.75" height="8.58" fill="#dcbf73"/><rect x="294.04" y="118.60" width="8.75" height="8.58" fill="#dcc075"/><rect x="302.49" y="118.60" width="8.75" height="8.58" fill="#dc7c26"/><rect x="310.94" y="118.60" width="8.75" height="8.58" fill="#dcb35d"/><rect x="319.39" y="118.60" width="8.75" height="8.58" fill="#dcb35d"/><rect x="327.83" y="118.60" width="8.75" height="8.58" fill="#dcbe72"/><rect x="336.28" y="118.60" width="8.75" height="8.58" fill="#dcc884"/><rect x="344.73" y="118.60" width="8.75" height="8.58" fill="#dcb35c"/><rect x="353.18" y="118.60" width="8.75" height="8.58" fill="#e3e0b8"/><rect x="361.63" y="118.60" width="8.75" height="8.58" fill="#ddd398"/><rect x="370.08" y="118.60" width="8.75" height="8.58" fill="#dcc177"/><rect x="378.52" y="118.60" width="8.75" height="8.58" fill="#dcbc6d"/><rect x="386.97" y="118.60" width="8.75" height="8.58" fill="#dcb866"/><rect x="395.42" y="118.60" width="8.75" height="8.58" fill="#dcc883"/><rect x="403.87" y="118.60" width="8.75" height="8.58" fill="#dcbe71"/><rect x="412.32" y="118.60" width="8.75" height="8.58" fill="#e0ddaf"/><rect x="420.77" y="118.60" width="8.75" height="8.58" fill="#ddd297"/><rect x="429.21" y="118.60" width="8.75" height="8.58" fill="#dcb059"/><rect x="437.66" y="118.60" width="8.75" height="8.58" fill="#dcb15a"/><rect x="446.11" y="118.60" width="8.75" height="8.58" fill="#dcc986"/><rect x="454.56" y="118.60" width="8.75" height="8.58" fill="#dedaa7"/><rect x="463.01" y="118.60" width="8.75" height="8.58" fill="#dcb662"/><rect x="471.46" y="118.60" width="8.75" height="8.58" fill="#dcbb6c"/><rect x="479.90" y="118.60" width="8.75" height="8.58" fill="#dca146"/><rect x="488.35" y="118.60" width="8.75" height="8.58" fill="#dcaa51"/><rect x="251.80" y="126.88" width="8.75" height="8.58" fill="#dcc680"/><rect x="260.25" y="126.88" width="8.75" height="8.58" fill="#dccf92"/><rect x="268.70" y="126.88" width="8.75" height="8.58" fill="#dcb865"/><rect x="277.14" y="126.88" width="8.75" height="8.58" fill="#ddd49a"/><rect x="285.59" y="126.88" width="8.75" height="8.58" fill="#dcb059"/><rect x="294.04" y="126.88" width="8.75" height="8.58" fill="#dcb763"/><rect x="302.49" y="126.88" width="8.75" height="8.58" fill="#dcc680"/><rect x="310.94" y="126.88" width="8.75" height="8.58" fill="#dcb35d"/><rect x="319.39" y="126.88" width="8.75" height="8.58" fill="#dca44a"/><rect x="327.83" y="126.88" width="8.75" height="8.58" fill="#dcc074"/><rect x="336.28" y="126.88" width="8.75" height="8.58" fill="#dfdba9"/><rect x="344.73" y="126.88" width="8.75" height="8.58" fill="#dccd8e"/><rect x="353.18" y="126.88" width="8.75" height="8.58" fill="#dcba6a"/><rect x="361.63" y="126.88" width="8.75" height="8.58" fill="#dcbe70"/><rect x="370.08" y="126.88" width="8.75" height="8.58" fill="#dca045"/><rect x="378.52" y="126.88" width="8.75" height="8.58" fill="#dcca87"/><rect x="386.97" y="126.88" width="8.75" height="8.58" fill="#dca44a"/><rect x="395.42" y="126.88" width="8.75" height="8.58" fill="#dcc177"/><rect x="403.87" y="126.88" width="8.75" height="8.58" fill="#dcc884"/><rect x="412.32" y="126.88" width="8.75" height="8.58" fill="#dcbe72"/><rect x="420.77" y="126.88" width="8.75" height="8.58" fill="#dccd8e"/><rect x="429.21" y="126.88" width="8.75" height="8.58" fill="#dcbb6b"/><rect x="437.66" y="126.88" width="8.75" height="8.58" fill="#dcb967"/><rect x="446.11" y="126.88" width="8.75" height="8.58" fill="#dc8e35"/><rect x="454.56" y="126.88" width="8.75" height="8.58" fill="#dcc681"/><rect x="463.01" y="126.88" width="8.75" height="8.58" fill="#e1deb1"/><rect x="471.46" y="126.88" width="8.75" height="8.58" fill="#dca146"/><rect x="479.90" y="126.88" width="8.75" height="8.58" fill="#dcc178"/><rect x="488.35" y="126.88" width="8.75" height="8.58" fill="#dcab52"/><rect x="251.80" y="135.16" width="8.75" height="8.58" fill="#dca248"/><rect x="260.25" y="135.16" width="8.75" height="8.58" fill="#dcaf58"/><rect x="268.70" y="135.16" width="8.75" height="8.58" fill="#dc8d34"/><rect x="277.14" y="135.16" width="8.75" height="8.58" fill="#dcb967"/><rect x="285.59" y="135.16" width="8.75" height="8.58" fill="#dcb661"/><rect x="294.04" y="135.16" width="8.75" height="8.58" fill="#dcc47d"/><rect x="302.49" y="135.16" width="8.75" height="8.58" fill="#dcc884"/><rect x="310.94" y="135.16" width="8.75" height="8.58" fill="#dc842d"/><rect x="319.39" y="135.16" width="8.75" height="8.58" fill="#dca247"/><rect x="327.83" y="135.16" width="8.75" height="8.58" fill="#dcbf72"/><rect x="336.28" y="135.16" width="8.75" height="8.58" fill="#ddd49b"/><rect x="344.73" y="135.16" width="8.75" height="8.58" fill="#dcaa51"/><rect x="353.18" y="135.16" width="8.75" height="8.58" fill="#dcb662"/><rect x="361.63" y="135.16" width="8.75" height="8.58" fill="#dcba6a"/><rect x="370.08" y="135.16" width="8.75" height="8.58" fill="#dcc681"/><rect x="378.52" y="135.16" width="8.75" height="8.58" fill="#dcbd6f"/><rect x="386.97" y="135.16" width="8.75" height="8.58" fill="#dca84f"/><rect x="395.42" y="135.16" width="8.75" height="8.58" fill="#dcbd6e"/><rect x="403.87" y="135.16" width="8.75" height="8.58" fill="#dcc177"/><rect x="412.32" y="135.16" width="8.75" height="8.58" fill="#dcbd6f"/><rect x="420.77" y="135.16" width="8.75" height="8.58" fill="#dcbd6f"/><rect x="429.21" y="135.16" width="8.75" height="8.58" fill="#dcb059"/><rect x="437.66" y="135.16" width="8.75" height="8.58" fill="#dcbc6d"/><rect x="446.11" y="135.16" width="8.75" height="8.58" fill="#dcb866"/><rect x="454.56" y="135.16" width="8.75" height="8.58" fill="#dcbc6d"/><rect x="463.01" y="135.16" width="8.75" height="8.58" fill="#dcb968"/><rect x="471.46" y="135.16" width="8.75" height="8.58" fill="#dcb866"/><rect x="479.90" y="135.16" width="8.75" height="8.58" fill="#dcb059"/><rect x="488.35" y="135.16" width="8.75" height="8.58" fill="#dccb8a"/><rect x="251.80" y="143.44" width="8.75" height="8.58" fill="#dcae56"/><rect x="260.25" y="143.44" width="8.75" height="8.58" fill="#dcc57e"/><rect x="268.70" y="143.44" width="8.75" height="8.58" fill="#dcb059"/><rect x="277.14" y="143.44" width="8.75" height="8.58" fill="#dcba6a"/><rect x="285.59" y="143.44" width="8.75" height="8.58" fill="#dcbc6e"/><rect x="294.04" y="143.44" width="8.75" height="8.58" fill="#dcb865"/><rect x="302.49" y="143.44" width="8.75" height="8.58" fill="#dc9e42"/><rect x="310.94" y="143.44" width="8.75" height="8.58" fill="#dcbd6f"/><rect x="319.39" y="143.44" width="8.75" height="8.58" fill="#dcb662"/><rect x="327.83" y="143.44" width="8.75" height="8.58" fill="#dca44a"/><rect x="336.28" y="143.44" width="8.75" height="8.58" fill="#dcb866"/><rect x="344.73" y="143.44" width="8.75" height="8.58" fill="#dc9f43"/><rect x="353.18" y="143.44" width="8.75" height="8.58" fill="#dcbc6d"/><rect x="361.63" y="143.44" width="8.75" height="8.58" fill="#e3e1ba"/><rect x="370.08" y="143.44" width="8.75" height="8.58" fill="#dcce8f"/><rect x="378.52" y="143.44" width="8.75" height="8.58" fill="#dc8e35"/><rect x="386.97" y="143.44" width="8.75" height="8.58" fill="#dc943a"/><rect x="395.42" y="143.44" width="8.75" height="8.58" fill="#dccd8e"/><rect x="403.87" y="143.44" width="8.75" height="8.58" fill="#dcb764"/><rect x="412.32" y="143.44" width="8.75" height="8.58" fill="#dcb763"/><rect x="420.77" y="143.44" width="8.75" height="8.58" fill="#dccd8d"/><rect x="429.21" y="143.44" width="8.75" height="8.58" fill="#dcca88"/><rect x="437.66" y="143.44" width="8.75" height="8.58" fill="#dcbc6e"/><rect x="446.11" y="143.44" width="8.75" height="8.58" fill="#dcc47c"/><rect x="454.56" y="143.44" width="8.75" height="8.58" fill="#dcc47d"/><rect x="463.01" y="143.44" width="8.75" height="8.58" fill="#e4e3be"/><rect x="471.46" y="143.44" width="8.75" height="8.58" fill="#dca44a"/><rect x="479.90" y="143.44" width="8.75" height="8.58" fill="#e3e1b9"/><rect x="488.35" y="143.44" width="8.75" height="8.58" fill="#dcb968"/><rect x="251.80" y="151.72" width="8.75" height="8.58" fill="#dcaf57"/><rect x="260.25" y="151.72" width="8.75" height="8.58" fill="#dcb35c"/><rect x="268.70" y="151.72" width="8.75" height="8.58" fill="#dcc783"/><rect x="277.14" y="151.72" width="8.75" height="8.58" fill="#dcb764"/><rect x="285.59" y="151.72" width="8.75" height="8.58" fill="#dcc47c"/><rect x="294.04" y="151.72" width="8.75" height="8.58" fill="#dcc783"/><rect x="302.49" y="151.72" width="8.75" height="8.58" fill="#dcc47e"/><rect x="310.94" y="151.72" width="8.75" height="8.58" fill="#e2dfb3"/><rect x="319.39" y="151.72" width="8.75" height="8.58" fill="#dcb059"/><rect x="327.83" y="151.72" width="8.75" height="8.58" fill="#dcb560"/><rect x="336.28" y="151.72" width="8.75" height="8.58" fill="#dcbe72"/><rect x="344.73" y="151.72" width="8.75" height="8.58" fill="#dfdbaa"/><rect x="353.18" y="151.72" width="8.75" height="8.58" fill="#dcbc6d"/><rect x="361.63" y="151.72" width="8.75" height="8.58" fill="#dcaf58"/><rect x="370.08" y="151.72" width="8.75" height="8.58" fill="#dcbf73"/><rect x="378.52" y="151.72" width="8.75" height="8.58" fill="#dcc884"/><rect x="386.97" y="151.72" width="8.75" height="8.58" fill="#dcc278"/><rect x="395.42" y="151.72" width="8.75" height="8.58" fill="#dca54b"/><rect x="403.87" y="151.72" width="8.75" height="8.58" fill="#dca54b"/><rect x="412.32" y="151.72" width="8.75" height="8.58" fill="#dcaf58"/><rect x="420.77" y="151.72" width="8.75" height="8.58" fill="#dc7c26"/><rect x="429.21" y="151.72" width="8.75" height="8.58" fill="#dcb865"/><rect x="437.66" y="151.72" width="8.75" height="8.58" fill="#dc862e"/><rect x="446.11" y="151.72" width="8.75" height="8.58" fill="#dcb059"/><rect x="454.56" y="151.72" width="8.75" height="8.58" fill="#dcbd6f"/><rect x="463.01" y="151.72" width="8.75" height="8.58" fill="#dcb969"/><rect x="471.46" y="151.72" width="8.75" height="8.58" fill="#dcab53"/><rect x="479.90" y="151.72" width="8.75" height="8.58" fill="#dc8931"/><rect x="488.35" y="151.72" width="8.75" height="8.58" fill="#dcb45e"/><rect x="251.80" y="160.01" width="8.75" height="8.58" fill="#dcca87"/><rect x="260.25" y="160.01" width="8.75" height="8.58" fill="#dcb35d"/><rect x="268.70" y="160.01" width="8.75" height="8.58" fill="#e7e8c9"/><rect x="277.14" y="160.01" width="8.75" height="8.58" fill="#dcb45f"/><rect x="285.59" y="160.01" width="8.75" height="8.58" fill="#dc8e35"/><rect x="294.04" y="160.01" width="8.75" height="8.58" fill="#dca951"/><rect x="302.49" y="160.01" width="8.75" height="8.58" fill="#dcbb6c"/><rect x="310.94" y="160.01" width="8.75" height="8.58" fill="#dcc076"/><rect x="319.39" y="160.01" width="8.75" height="8.58" fill="#dcc47d"/><rect x="327.83" y="160.01" width="8.75" height="8.58" fill="#dca045"/><rect x="336.28" y="160.01" width="8.75" height="8.58" fill="#dcbb6b"/><rect x="344.73" y="160.01" width="8.75" height="8.58" fill="#dcbb6b"/><rect x="353.18" y="160.01" width="8.75" height="8.58" fill="#dcd195"/><rect x="361.63" y="160.01" width="8.75" height="8.58" fill="#dccc8c"/><rect x="370.08" y="160.01" width="8.75" height="8.58" fill="#dcce90"/><rect x="378.52" y="160.01" width="8.75" height="8.58" fill="#dcbb6c"/><rect x="386.97" y="160.01" width="8.75" height="8.58" fill="#dcbc6d"/><rect x="395.42" y="160.01" width="8.75" height="8.58" fill="#dcb55f"/><rect x="403.87" y="160.01" width="8.75" height="8.58" fill="#dcb059"/><rect x="412.32" y="160.01" width="8.75" height="8.58" fill="#dcb059"/><rect x="420.77" y="160.01" width="8.75" height="8.58" fill="#dcba69"/><rect x="429.21" y="160.01" width="8.75" height="8.58" fill="#dcb45d"/><rect x="437.66" y="160.01" width="8.75" height="8.58" fill="#dcb866"/><rect x="446.11" y="160.01" width="8.75" height="8.58" fill="#dcc177"/><rect x="454.56" y="160.01" width="8.75" height="8.58" fill="#dcb764"/><rect x="463.01" y="160.01" width="8.75" height="8.58" fill="#dcba6a"/><rect x="471.46" y="160.01" width="8.75" height="8.58" fill="#dccb8a"/><rect x="479.90" y="160.01" width="8.75" height="8.58" fill="#e6e6c4"/><rect x="488.35" y="160.01" width="8.75" height="8.58" fill="#dcb45e"/><rect x="251.80" y="168.29" width="8.75" height="8.58" fill="#dcb866"/><rect x="260.25" y="168.29" width="8.75" height="8.58" fill="#dcbf73"/><rect x="268.70" y="168.29" width="8.75" height="8.58" fill="#dcbb6c"/><rect x="277.14" y="168.29" width="8.75" height="8.58" fill="#dca146"/><rect x="285.59" y="168.29" width="8.75" height="8.58" fill="#dcb764"/><rect x="294.04" y="168.29" width="8.75" height="8.58" fill="#dca248"/><rect x="302.49" y="168.29" width="8.75" height="8.58" fill="#dcba69"/><rect x="310.94" y="168.29" width="8.75" height="8.58" fill="#dcae56"/><rect x="319.39" y="168.29" width="8.75" height="8.58" fill="#dcc178"/><rect x="327.83" y="168.29" width="8.75" height="8.58" fill="#dcb35c"/><rect x="336.28" y="168.29" width="8.75" height="8.58" fill="#dcc884"/><rect x="344.73" y="168.29" width="8.75" height="8.58" fill="#dcac54"/><rect x="353.18" y="168.29" width="8.75" height="8.58" fill="#dcb35d"/><rect x="361.63" y="168.29" width="8.75" height="8.58" fill="#dcc178"/><rect x="370.08" y="168.29" width="8.75" height="8.58" fill="#dcc782"/><rect x="378.52" y="168.29" width="8.75" height="8.58" fill="#dcb35d"/><rect x="386.97" y="168.29" width="8.75" height="8.58" fill="#dcae56"/><rect x="395.42" y="168.29" width="8.75" height="8.58" fill="#dc842d"/><rect x="403.87" y="168.29" width="8.75" height="8.58" fill="#dcb866"/><rect x="412.32" y="168.29" width="8.75" height="8.58" fill="#dca74e"/><rect x="420.77" y="168.29" width="8.75" height="8.58" fill="#dca74e"/><rect x="429.21" y="168.29" width="8.75" height="8.58" fill="#dc832b"/><rect x="437.66" y="168.29" width="8.75" height="8.58" fill="#dcaf58"/><rect x="446.11" y="168.29" width="8.75" height="8.58" fill="#dcbb6b"/><rect x="454.56" y="168.29" width="8.75" height="8.58" fill="#dcbf72"/><rect x="463.01" y="168.29" width="8.75" height="8.58" fill="#dcc57e"/><rect x="471.46" y="168.29" width="8.75" height="8.58" fill="#dcb059"/><rect x="479.90" y="168.29" width="8.75" height="8.58" fill="#e9ebd1"/><rect x="488.35" y="168.29" width="8.75" height="8.58" fill="#dcb15a"/><rect x="251.80" y="176.57" width="8.75" height="8.58" fill="#dca247"/><rect x="260.25" y="176.57" width="8.75" height="8.58" fill="#dc943a"/><rect x="268.70" y="176.57" width="8.75" height="8.58" fill="#dc9f44"/><rect x="277.14" y="176.57" width="8.75" height="8.58" fill="#dcb059"/><rect x="285.59" y="176.57" width="8.75" height="8.58" fill="#dc9137"/><rect x="294.04" y="176.57" width="8.75" height="8.58" fill="#dcb35d"/><rect x="302.49" y="176.57" width="8.75" height="8.58" fill="#dca64d"/><rect x="310.94" y="176.57" width="8.75" height="8.58" fill="#dca449"/><rect x="319.39" y="176.57" width="8.75" height="8.58" fill="#dcc278"/><rect x="327.83" y="176.57" width="8.75" height="8.58" fill="#dcc681"/><rect x="336.28" y="176.57" width="8.75" height="8.58" fill="#e2e0b6"/><rect x="344.73" y="176.57" width="8.75" height="8.58" fill="#dcca89"/><rect x="353.18" y="176.57" width="8.75" height="8.58" fill="#dcc47e"/><rect x="361.63" y="176.57" width="8.75" height="8.58" fill="#dcbe71"/><rect x="370.08" y="176.57" width="8.75" height="8.58" fill="#dca84f"/><rect x="378.52" y="176.57" width="8.75" height="8.58" fill="#dcc987"/><rect x="386.97" y="176.57" width="8.75" height="8.58" fill="#dca84f"/><rect x="395.42" y="176.57" width="8.75" height="8.58" fill="#db6f26"/><rect x="403.87" y="176.57" width="8.75" height="8.58" fill="#dc983d"/><rect x="412.32" y="176.57" width="8.75" height="8.58" fill="#dc9c41"/><rect x="420.77" y="176.57" width="8.75" height="8.58" fill="#dc7a26"/><rect x="429.21" y="176.57" width="8.75" height="8.58" fill="#dca045"/><rect x="437.66" y="176.57" width="8.75" height="8.58" fill="#dccf91"/><rect x="446.11" y="176.57" width="8.75" height="8.58" fill="#eaecd3"/><rect x="454.56" y="176.57" width="8.75" height="8.58" fill="#dcaf58"/><rect x="463.01" y="176.57" width="8.75" height="8.58" fill="#dccc8d"/><rect x="471.46" y="176.57" width="8.75" height="8.58" fill="#dcbd6f"/><rect x="479.90" y="176.57" width="8.75" height="8.58" fill="#dcbc6d"/><rect x="488.35" y="176.57" width="8.75" height="8.58" fill="#dca64d"/><rect x="251.80" y="184.85" width="8.75" height="8.58" fill="#dcc074"/><rect x="260.25" y="184.85" width="8.75" height="8.58" fill="#dccd8d"/><rect x="268.70" y="184.85" width="8.75" height="8.58" fill="#ebeed8"/><rect x="277.14" y="184.85" width="8.75" height="8.58" fill="#e3e1b9"/><rect x="285.59" y="184.85" width="8.75" height="8.58" fill="#dcbd6f"/><rect x="294.04" y="184.85" width="8.75" height="8.58" fill="#dca64d"/><rect x="302.49" y="184.85" width="8.75" height="8.58" fill="#dcb968"/><rect x="310.94" y="184.85" width="8.75" height="8.58" fill="#dccf91"/><rect x="319.39" y="184.85" width="8.75" height="8.58" fill="#dcc176"/><rect x="327.83" y="184.85" width="8.75" height="8.58" fill="#dc8d34"/><rect x="336.28" y="184.85" width="8.75" height="8.58" fill="#dcaf58"/><rect x="344.73" y="184.85" width="8.75" height="8.58" fill="#dcbc6e"/><rect x="353.18" y="184.85" width="8.75" height="8.58" fill="#dcc986"/><rect x="361.63" y="184.85" width="8.75" height="8.58" fill="#eaedd5"/><rect x="370.08" y="184.85" width="8.75" height="8.58" fill="#dc872f"/><rect x="378.52" y="184.85" width="8.75" height="8.58" fill="#dc9439"/><rect x="386.97" y="184.85" width="8.75" height="8.58" fill="#dc7b26"/><rect x="395.42" y="184.85" width="8.75" height="8.58" fill="#d95b25"/><rect x="403.87" y="184.85" width="8.75" height="8.58" fill="#d54321"/><rect x="412.32" y="184.85" width="8.75" height="8.58" fill="#dc9d42"/><rect x="420.77" y="184.85" width="8.75" height="8.58" fill="#dcc37a"/><rect x="429.21" y="184.85" width="8.75" height="8.58" fill="#e6e6c5"/><rect x="437.66" y="184.85" width="8.75" height="8.58" fill="#ddd39a"/><rect x="446.11" y="184.85" width="8.75" height="8.58" fill="#dcb663"/><rect x="454.56" y="184.85" width="8.75" height="8.58" fill="#dc983d"/><rect x="463.01" y="184.85" width="8.75" height="8.58" fill="#dcb866"/><rect x="471.46" y="184.85" width="8.75" height="8.58" fill="#dcb866"/><rect x="479.90" y="184.85" width="8.75" height="8.58" fill="#dcb967"/><rect x="488.35" y="184.85" width="8.75" height="8.58" fill="#e4e2bc"/><rect x="251.80" y="193.13" width="8.75" height="8.58" fill="#dc8931"/><rect x="260.25" y="193.13" width="8.75" height="8.58" fill="#dca951"/><rect x="268.70" y="193.13" width="8.75" height="8.58" fill="#dfdba9"/><rect x="277.14" y="193.13" width="8.75" height="8.58" fill="#dcad55"/><rect x="285.59" y="193.13" width="8.75" height="8.58" fill="#dcc987"/><rect x="294.04" y="193.13" width="8.75" height="8.58" fill="#dcba6a"/><rect x="302.49" y="193.13" width="8.75" height="8.58" fill="#dedaa7"/><rect x="310.94" y="193.13" width="8.75" height="8.58" fill="#dc993d"/><rect x="319.39" y="193.13" width="8.75" height="8.58" fill="#dca44a"/><rect x="327.83" y="193.13" width="8.75" height="8.58" fill="#dcc47c"/><rect x="336.28" y="193.13" width="8.75" height="8.58" fill="#dcca87"/><rect x="344.73" y="193.13" width="8.75" height="8.58" fill="#ddd398"/><rect x="353.18" y="193.13" width="8.75" height="8.58" fill="#ddd7a0"/><rect x="361.63" y="193.13" width="8.75" height="8.58" fill="#dcc57f"/><rect x="370.08" y="193.13" width="8.75" height="8.58" fill="#dca44a"/><rect x="378.52" y="193.13" width="8.75" height="8.58" fill="#dc842c"/><rect x="386.97" y="193.13" width="8.75" height="8.58" fill="#db7326"/><rect x="395.42" y="193.13" width="8.75" height="8.58" fill="#d54121"/><rect x="403.87" y="193.13" width="8.75" height="8.58" fill="#da6226"/><rect x="412.32" y="193.13" width="8.75" height="8.58" fill="#dca74e"/><rect x="420.77" y="193.13" width="8.75" height="8.58" fill="#dca045"/><rect x="429.21" y="193.13" width="8.75" height="8.58" fill="#e0dcac"/><rect x="437.66" y="193.13" width="8.75" height="8.58" fill="#dcae56"/><rect x="446.11" y="193.13" width="8.75" height="8.58" fill="#dcb059"/><rect x="454.56" y="193.13" width="8.75" height="8.58" fill="#dcce90"/><rect x="463.01" y="193.13" width="8.75" height="8.58" fill="#dcaf58"/><rect x="471.46" y="193.13" width="8.75" height="8.58" fill="#dcc37b"/><rect x="479.90" y="193.13" width="8.75" height="8.58" fill="#dcc57f"/><rect x="488.35" y="193.13" width="8.75" height="8.58" fill="#dca54b"/><rect x="251.80" y="201.41" width="8.75" height="8.58" fill="#dcb25b"/><rect x="260.25" y="201.41" width="8.75" height="8.58" fill="#dcaf58"/><rect x="268.70" y="201.41" width="8.75" height="8.58" fill="#dcba6a"/><rect x="277.14" y="201.41" width="8.75" height="8.58" fill="#e1ddb0"/><rect x="285.59" y="201.41" width="8.75" height="8.58" fill="#dcd093"/><rect x="294.04" y="201.41" width="8.75" height="8.58" fill="#dcb45f"/><rect x="302.49" y="201.41" width="8.75" height="8.58" fill="#dcba6a"/><rect x="310.94" y="201.41" width="8.75" height="8.58" fill="#dcad56"/><rect x="319.39" y="201.41" width="8.75" height="8.58" fill="#dc9a3f"/><rect x="327.83" y="201.41" width="8.75" height="8.58" fill="#dcc279"/><rect x="336.28" y="201.41" width="8.75" height="8.58" fill="#dc7926"/><rect x="344.73" y="201.41" width="8.75" height="8.58" fill="#dcb866"/><rect x="353.18" y="201.41" width="8.75" height="8.58" fill="#dca74e"/><rect x="361.63" y="201.41" width="8.75" height="8.58" fill="#dcc279"/><rect x="370.08" y="201.41" width="8.75" height="8.58" fill="#dcb866"/><rect x="378.52" y="201.41" width="8.75" height="8.58" fill="#dc9a3f"/><rect x="386.97" y="201.41" width="8.75" height="8.58" fill="#dca248"/><rect x="395.42" y="201.41" width="8.75" height="8.58" fill="#dc872f"/><rect x="403.87" y="201.41" width="8.75" height="8.58" fill="#dc852d"/><rect x="412.32" y="201.41" width="8.75" height="8.58" fill="#dcaf58"/><rect x="420.77" y="201.41" width="8.75" height="8.58" fill="#dcbd6e"/><rect x="429.21" y="201.41" width="8.75" height="8.58" fill="#dcc986"/><rect x="437.66" y="201.41" width="8.75" height="8.58" fill="#dcbf74"/><rect x="446.11" y="201.41" width="8.75" height="8.58" fill="#dca64d"/><rect x="454.56" y="201.41" width="8.75" height="8.58" fill="#dc9f43"/><rect x="463.01" y="201.41" width="8.75" height="8.58" fill="#dcc47d"/><rect x="471.46" y="201.41" width="8.75" height="8.58" fill="#dcc57f"/><rect x="479.90" y="201.41" width="8.75" height="8.58" fill="#dcb45e"/><rect x="488.35" y="201.41" width="8.75" height="8.58" fill="#dcc177"/><rect x="251.80" y="209.69" width="8.75" height="8.58" fill="#dcc782"/><rect x="260.25" y="209.69" width="8.75" height="8.58" fill="#dcc278"/><rect x="268.70" y="209.69" width="8.75" height="8.58" fill="#dcab53"/><rect x="277.14" y="209.69" width="8.75" height="8.58" fill="#dc8931"/><rect x="285.59" y="209.69" width="8.75" height="8.58" fill="#dcb35d"/><rect x="294.04" y="209.69" width="8.75" height="8.58" fill="#dcc680"/><rect x="302.49" y="209.69" width="8.75" height="8.58" fill="#dcad56"/><rect x="310.94" y="209.69" width="8.75" height="8.58" fill="#dcc986"/><rect x="319.39" y="209.69" width="8.75" height="8.58" fill="#dcc986"/><rect x="327.83" y="209.69" width="8.75" height="8.58" fill="#dcb35d"/><rect x="336.28" y="209.69" width="8.75" height="8.58" fill="#dcbc6d"/><rect x="344.73" y="209.69" width="8.75" height="8.58" fill="#dcb764"/><rect x="353.18" y="209.69" width="8.75" height="8.58" fill="#e3e0b6"/><rect x="361.63" y="209.69" width="8.75" height="8.58" fill="#dc8830"/><rect x="370.08" y="209.69" width="8.75" height="8.58" fill="#dcb15a"/><rect x="378.52" y="209.69" width="8.75" height="8.58" fill="#dcb45d"/><rect x="386.97" y="209.69" width="8.75" height="8.58" fill="#dcc278"/><rect x="395.42" y="209.69" width="8.75" height="8.58" fill="#e0dcac"/><rect x="403.87" y="209.69" width="8.75" height="8.58" fill="#dcb45f"/><rect x="412.32" y="209.69" width="8.75" height="8.58" fill="#dcb35d"/><rect x="420.77" y="209.69" width="8.75" height="8.58" fill="#dcbc6d"/><rect x="429.21" y="209.69" width="8.75" height="8.58" fill="#dcb663"/><rect x="437.66" y="209.69" width="8.75" height="8.58" fill="#ddd399"/><rect x="446.11" y="209.69" width="8.75" height="8.58" fill="#dca950"/><rect x="454.56" y="209.69" width="8.75" height="8.58" fill="#dcaf58"/><rect x="463.01" y="209.69" width="8.75" height="8.58" fill="#dcab53"/><rect x="471.46" y="209.69" width="8.75" height="8.58" fill="#dcb662"/><rect x="479.90" y="209.69" width="8.75" height="8.58" fill="#dcc884"/><rect x="488.35" y="209.69" width="8.75" height="8.58" fill="#dcae57"/><rect x="251.80" y="217.97" width="8.75" height="8.58" fill="#dcb15a"/><rect x="260.25" y="217.97" width="8.75" height="8.58" fill="#dcaa52"/><rect x="268.70" y="217.97" width="8.75" height="8.58" fill="#dcc279"/><rect x="277.14" y="217.97" width="8.75" height="8.58" fill="#dcbb6b"/><rect x="285.59" y="217.97" width="8.75" height="8.58" fill="#dcb968"/><rect x="294.04" y="217.97" width="8.75" height="8.58" fill="#dcab53"/><rect x="302.49" y="217.97" width="8.75" height="8.58" fill="#dcb561"/><rect x="310.94" y="217.97" width="8.75" height="8.58" fill="#dcc177"/><rect x="319.39" y="217.97" width="8.75" height="8.58" fill="#dcc57e"/><rect x="327.83" y="217.97" width="8.75" height="8.58" fill="#dcba69"/><rect x="336.28" y="217.97" width="8.75" height="8.58" fill="#dcb059"/><rect x="344.73" y="217.97" width="8.75" height="8.58" fill="#dca64d"/><rect x="353.18" y="217.97" width="8.75" height="8.58" fill="#dccd8e"/><rect x="361.63" y="217.97" width="8.75" height="8.58" fill="#dcb45e"/><rect x="370.08" y="217.97" width="8.75" height="8.58" fill="#dccb89"/><rect x="378.52" y="217.97" width="8.75" height="8.58" fill="#dcc57f"/><rect x="386.97" y="217.97" width="8.75" height="8.58" fill="#dcb15a"/><rect x="395.42" y="217.97" width="8.75" height="8.58" fill="#dcc681"/><rect x="403.87" y="217.97" width="8.75" height="8.58" fill="#dca84e"/><rect x="412.32" y="217.97" width="8.75" height="8.58" fill="#dc852d"/><rect x="420.77" y="217.97" width="8.75" height="8.58" fill="#dcb968"/><rect x="429.21" y="217.97" width="8.75" height="8.58" fill="#dccf92"/><rect x="437.66" y="217.97" width="8.75" height="8.58" fill="#dcbd6f"/><rect x="446.11" y="217.97" width="8.75" height="8.58" fill="#dca64c"/><rect x="454.56" y="217.97" width="8.75" height="8.58" fill="#dcac55"/><rect x="463.01" y="217.97" width="8.75" height="8.58" fill="#dcb763"/><rect x="471.46" y="217.97" width="8.75" height="8.58" fill="#dc8f35"/><rect x="479.90" y="217.97" width="8.75" height="8.58" fill="#e6e5c2"/><rect x="488.35" y="217.97" width="8.75" height="8.58" fill="#dcc37a"/><rect x="251.80" y="226.26" width="8.75" height="8.58" fill="#dcc47d"/><rect x="260.25" y="226.26" width="8.75" height="8.58" fill="#dcb35d"/><rect x="268.70" y="226.26" width="8.75" height="8.58" fill="#dcb967"/><rect x="277.14" y="226.26" width="8.75" height="8.58" fill="#dcb865"/><rect x="285.59" y="226.26" width="8.75" height="8.58" fill="#dcb35d"/><rect x="294.04" y="226.26" width="8.75" height="8.58" fill="#dccb8b"/><rect x="302.49" y="226.26" width="8.75" height="8.58" fill="#dcbc6d"/><rect x="310.94" y="226.26" width="8.75" height="8.58" fill="#dcb35d"/><rect x="319.39" y="226.26" width="8.75" height="8.58" fill="#dcca89"/><rect x="327.83" y="226.26" width="8.75" height="8.58" fill="#dcc177"/><rect x="336.28" y="226.26" width="8.75" height="8.58" fill="#dcc278"/><rect x="344.73" y="226.26" width="8.75" height="8.58" fill="#dcd094"/><rect x="353.18" y="226.26" width="8.75" height="8.58" fill="#dcc177"/><rect x="361.63" y="226.26" width="8.75" height="8.58" fill="#dcb35c"/><rect x="370.08" y="226.26" width="8.75" height="8.58" fill="#dcbd6f"/><rect x="378.52" y="226.26" width="8.75" height="8.58" fill="#dcc076"/><rect x="386.97" y="226.26" width="8.75" height="8.58" fill="#dcb764"/><rect x="395.42" y="226.26" width="8.75" height="8.58" fill="#dcb059"/><rect x="403.87" y="226.26" width="8.75" height="8.58" fill="#dcbf73"/><rect x="412.32" y="226.26" width="8.75" height="8.58" fill="#dc8a31"/><rect x="420.77" y="226.26" width="8.75" height="8.58" fill="#dcb35c"/><rect x="429.21" y="226.26" width="8.75" height="8.58" fill="#dcbf73"/><rect x="437.66" y="226.26" width="8.75" height="8.58" fill="#dcc681"/><rect x="446.11" y="226.26" width="8.75" height="8.58" fill="#dcc57f"/><rect x="454.56" y="226.26" width="8.75" height="8.58" fill="#dcc37a"/><rect x="463.01" y="226.26" width="8.75" height="8.58" fill="#e8e9cc"/><rect x="471.46" y="226.26" width="8.75" height="8.58" fill="#dcb967"/><rect x="479.90" y="226.26" width="8.75" height="8.58" fill="#dc832c"/><rect x="488.35" y="226.26" width="8.75" height="8.58" fill="#dcb967"/><rect x="251.80" y="234.54" width="8.75" height="8.58" fill="#dcbf74"/><rect x="260.25" y="234.54" width="8.75" height="8.58" fill="#dcbf73"/><rect x="268.70" y="234.54" width="8.75" height="8.58" fill="#dca147"/><rect x="277.14" y="234.54" width="8.75" height="8.58" fill="#dcac54"/><rect x="285.59" y="234.54" width="8.75" height="8.58" fill="#dcb25b"/><rect x="294.04" y="234.54" width="8.75" height="8.58" fill="#dcb560"/><rect x="302.49" y="234.54" width="8.75" height="8.58" fill="#dccd8e"/><rect x="310.94" y="234.54" width="8.75" height="8.58" fill="#dcc783"/><rect x="319.39" y="234.54" width="8.75" height="8.58" fill="#dcaa52"/><rect x="327.83" y="234.54" width="8.75" height="8.58" fill="#dcbb6c"/><rect x="336.28" y="234.54" width="8.75" height="8.58" fill="#dcb866"/><rect x="344.73" y="234.54" width="8.75" height="8.58" fill="#dcb059"/><rect x="353.18" y="234.54" width="8.75" height="8.58" fill="#ddd398"/><rect x="361.63" y="234.54" width="8.75" height="8.58" fill="#dcad55"/><rect x="370.08" y="234.54" width="8.75" height="8.58" fill="#dcb059"/><rect x="378.52" y="234.54" width="8.75" height="8.58" fill="#dcaa52"/><rect x="386.97" y="234.54" width="8.75" height="8.58" fill="#dcb662"/><rect x="395.42" y="234.54" width="8.75" height="8.58" fill="#dcd094"/><rect x="403.87" y="234.54" width="8.75" height="8.58" fill="#dc7e28"/><rect x="412.32" y="234.54" width="8.75" height="8.58" fill="#dcbf72"/><rect x="420.77" y="234.54" width="8.75" height="8.58" fill="#dcc884"/><rect x="429.21" y="234.54" width="8.75" height="8.58" fill="#dcc987"/><rect x="437.66" y="234.54" width="8.75" height="8.58" fill="#dcab53"/><rect x="446.11" y="234.54" width="8.75" height="8.58" fill="#e7e7c8"/><rect x="454.56" y="234.54" width="8.75" height="8.58" fill="#dca54b"/><rect x="463.01" y="234.54" width="8.75" height="8.58" fill="#dc9137"/><rect x="471.46" y="234.54" width="8.75" height="8.58" fill="#dcc885"/><rect x="479.90" y="234.54" width="8.75" height="8.58" fill="#dcbc6e"/><rect x="488.35" y="234.54" width="8.75" height="8.58" fill="#e7e7c7"/><rect x="251.80" y="242.82" width="8.75" height="8.58" fill="#dcc177"/><rect x="260.25" y="242.82" width="8.75" height="8.58" fill="#dcb25b"/><rect x="268.70" y="242.82" width="8.75" height="8.58" fill="#dcb45d"/><rect x="277.14" y="242.82" width="8.75" height="8.58" fill="#dcb45d"/><rect x="285.59" y="242.82" width="8.75" height="8.58" fill="#e7e7c8"/><rect x="294.04" y="242.82" width="8.75" height="8.58" fill="#dcb560"/><rect x="302.49" y="242.82" width="8.75" height="8.58" fill="#dcbf74"/><rect x="310.94" y="242.82" width="8.75" height="8.58" fill="#dcc279"/><rect x="319.39" y="242.82" width="8.75" height="8.58" fill="#dcbc6d"/><rect x="327.83" y="242.82" width="8.75" height="8.58" fill="#dcce90"/><rect x="336.28" y="242.82" width="8.75" height="8.58" fill="#dcc680"/><rect x="344.73" y="242.82" width="8.75" height="8.58" fill="#dcbf73"/><rect x="353.18" y="242.82" width="8.75" height="8.58" fill="#dcbb6b"/><rect x="361.63" y="242.82" width="8.75" height="8.58" fill="#e0dcac"/><rect x="370.08" y="242.82" width="8.75" height="8.58" fill="#dca64c"/><rect x="378.52" y="242.82" width="8.75" height="8.58" fill="#dcb25c"/><rect x="386.97" y="242.82" width="8.75" height="8.58" fill="#dcab53"/><rect x="395.42" y="242.82" width="8.75" height="8.58" fill="#e3e1b9"/><rect x="403.87" y="242.82" width="8.75" height="8.58" fill="#dcbc6e"/><rect x="412.32" y="242.82" width="8.75" height="8.58" fill="#e0dcad"/><rect x="420.77" y="242.82" width="8.75" height="8.58" fill="#dc953b"/><rect x="429.21" y="242.82" width="8.75" height="8.58" fill="#dcb866"/><rect x="437.66" y="242.82" width="8.75" height="8.58" fill="#dcd094"/><rect x="446.11" y="242.82" width="8.75" height="8.58" fill="#dcb968"/><rect x="454.56" y="242.82" width="8.75" height="8.58" fill="#e5e4c1"/><rect x="463.01" y="242.82" width="8.75" height="8.58" fill="#dcbb6b"/><rect x="471.46" y="242.82" width="8.75" height="8.58" fill="#e4e2bc"/><rect x="479.90" y="242.82" width="8.75" height="8.58" fill="#dcc680"/><rect x="488.35" y="242.82" width="8.75" height="8.58" fill="#dcb059"/><rect x="251.8" y="118.6" width="245.0" height="132.5" fill="none" stroke="#000" stroke-width="2.6" stroke-dasharray="4.6,2.8"/><rect x="1031.10" y="119.70" width="8.77" height="8.64" fill="#dfdbaa"/><rect x="1039.57" y="119.70" width="8.77" height="8.64" fill="#eef2e3"/><rect x="1048.04" y="119.70" width="8.77" height="8.64" fill="#e9ecd2"/><rect x="1056.52" y="119.70" width="8.77" height="8.64" fill="#e2dfb5"/><rect x="1064.99" y="119.70" width="8.77" height="8.64" fill="#dccd8d"/><rect x="1073.46" y="119.70" width="8.77" height="8.64" fill="#e2dfb3"/><rect x="1081.93" y="119.70" width="8.77" height="8.64" fill="#dedaa8"/><rect x="1090.41" y="119.70" width="8.77" height="8.64" fill="#ded9a4"/><rect x="1098.88" y="119.70" width="8.77" height="8.64" fill="#e5e4c1"/><rect x="1107.35" y="119.70" width="8.77" height="8.64" fill="#dca44a"/><rect x="1115.82" y="119.70" width="8.77" height="8.64" fill="#ddd59c"/><rect x="1124.30" y="119.70" width="8.77" height="8.64" fill="#e1deb1"/><rect x="1132.77" y="119.70" width="8.77" height="8.64" fill="#e1deb2"/><rect x="1141.24" y="119.70" width="8.77" height="8.64" fill="#e8e9cc"/><rect x="1149.71" y="119.70" width="8.77" height="8.64" fill="#dccf92"/><rect x="1158.19" y="119.70" width="8.77" height="8.64" fill="#ddd49a"/><rect x="1166.66" y="119.70" width="8.77" height="8.64" fill="#e2dfb4"/><rect x="1175.13" y="119.70" width="8.77" height="8.64" fill="#ddd59d"/><rect x="1183.60" y="119.70" width="8.77" height="8.64" fill="#dcc884"/><rect x="1192.08" y="119.70" width="8.77" height="8.64" fill="#dcc47c"/><rect x="1200.55" y="119.70" width="8.77" height="8.64" fill="#dcd195"/><rect x="1209.02" y="119.70" width="8.77" height="8.64" fill="#dccd8e"/><rect x="1217.49" y="119.70" width="8.77" height="8.64" fill="#ddd69e"/><rect x="1225.97" y="119.70" width="8.77" height="8.64" fill="#dcce90"/><rect x="1234.44" y="119.70" width="8.77" height="8.64" fill="#e3e0b7"/><rect x="1242.91" y="119.70" width="8.77" height="8.64" fill="#dcc279"/><rect x="1251.38" y="119.70" width="8.77" height="8.64" fill="#e1deb3"/><rect x="1259.86" y="119.70" width="8.77" height="8.64" fill="#e2e0b6"/><rect x="1268.33" y="119.70" width="8.77" height="8.64" fill="#eff3e8"/><rect x="1031.10" y="128.04" width="8.77" height="8.64" fill="#dcbd6f"/><rect x="1039.57" y="128.04" width="8.77" height="8.64" fill="#e7e7c7"/><rect x="1048.04" y="128.04" width="8.77" height="8.64" fill="#dccc8c"/><rect x="1056.52" y="128.04" width="8.77" height="8.64" fill="#dfdaa8"/><rect x="1064.99" y="128.04" width="8.77" height="8.64" fill="#ddd69e"/><rect x="1073.46" y="128.04" width="8.77" height="8.64" fill="#dcc986"/><rect x="1081.93" y="128.04" width="8.77" height="8.64" fill="#dca44a"/><rect x="1090.41" y="128.04" width="8.77" height="8.64" fill="#ded9a5"/><rect x="1098.88" y="128.04" width="8.77" height="8.64" fill="#dccf92"/><rect x="1107.35" y="128.04" width="8.77" height="8.64" fill="#dcca88"/><rect x="1115.82" y="128.04" width="8.77" height="8.64" fill="#dccc8c"/><rect x="1124.30" y="128.04" width="8.77" height="8.64" fill="#e1ddb0"/><rect x="1132.77" y="128.04" width="8.77" height="8.64" fill="#edf1de"/><rect x="1141.24" y="128.04" width="8.77" height="8.64" fill="#dc943a"/><rect x="1149.71" y="128.04" width="8.77" height="8.64" fill="#dcc782"/><rect x="1158.19" y="128.04" width="8.77" height="8.64" fill="#e0dcad"/><rect x="1166.66" y="128.04" width="8.77" height="8.64" fill="#dcc782"/><rect x="1175.13" y="128.04" width="8.77" height="8.64" fill="#e4e2bb"/><rect x="1183.60" y="128.04" width="8.77" height="8.64" fill="#e1deb1"/><rect x="1192.08" y="128.04" width="8.77" height="8.64" fill="#e7e6c6"/><rect x="1200.55" y="128.04" width="8.77" height="8.64" fill="#eff3e7"/><rect x="1209.02" y="128.04" width="8.77" height="8.64" fill="#dc9b3f"/><rect x="1217.49" y="128.04" width="8.77" height="8.64" fill="#dcc782"/><rect x="1225.97" y="128.04" width="8.77" height="8.64" fill="#dcce90"/><rect x="1234.44" y="128.04" width="8.77" height="8.64" fill="#e5e5c2"/><rect x="1242.91" y="128.04" width="8.77" height="8.64" fill="#e0ddae"/><rect x="1251.38" y="128.04" width="8.77" height="8.64" fill="#ebeed8"/><rect x="1259.86" y="128.04" width="8.77" height="8.64" fill="#dca44b"/><rect x="1268.33" y="128.04" width="8.77" height="8.64" fill="#dcb662"/><rect x="1031.10" y="136.39" width="8.77" height="8.64" fill="#e0dcad"/><rect x="1039.57" y="136.39" width="8.77" height="8.64" fill="#e0ddae"/><rect x="1048.04" y="136.39" width="8.77" height="8.64" fill="#dcc986"/><rect x="1056.52" y="136.39" width="8.77" height="8.64" fill="#e0dcac"/><rect x="1064.99" y="136.39" width="8.77" height="8.64" fill="#dcb661"/><rect x="1073.46" y="136.39" width="8.77" height="8.64" fill="#e1ddb0"/><rect x="1081.93" y="136.39" width="8.77" height="8.64" fill="#dc9a3f"/><rect x="1090.41" y="136.39" width="8.77" height="8.64" fill="#e1ddaf"/><rect x="1098.88" y="136.39" width="8.77" height="8.64" fill="#dedaa7"/><rect x="1107.35" y="136.39" width="8.77" height="8.64" fill="#dcb865"/><rect x="1115.82" y="136.39" width="8.77" height="8.64" fill="#dcc075"/><rect x="1124.30" y="136.39" width="8.77" height="8.64" fill="#e0dcab"/><rect x="1132.77" y="136.39" width="8.77" height="8.64" fill="#dca84f"/><rect x="1141.24" y="136.39" width="8.77" height="8.64" fill="#dcbd70"/><rect x="1149.71" y="136.39" width="8.77" height="8.64" fill="#e9ebd2"/><rect x="1158.19" y="136.39" width="8.77" height="8.64" fill="#dca64d"/><rect x="1166.66" y="136.39" width="8.77" height="8.64" fill="#f0f4e9"/><rect x="1175.13" y="136.39" width="8.77" height="8.64" fill="#dcc987"/><rect x="1183.60" y="136.39" width="8.77" height="8.64" fill="#dcd195"/><rect x="1192.08" y="136.39" width="8.77" height="8.64" fill="#dcbd70"/><rect x="1200.55" y="136.39" width="8.77" height="8.64" fill="#f0f4ea"/><rect x="1209.02" y="136.39" width="8.77" height="8.64" fill="#dcce90"/><rect x="1217.49" y="136.39" width="8.77" height="8.64" fill="#dcce90"/><rect x="1225.97" y="136.39" width="8.77" height="8.64" fill="#ddd59d"/><rect x="1234.44" y="136.39" width="8.77" height="8.64" fill="#dcc279"/><rect x="1242.91" y="136.39" width="8.77" height="8.64" fill="#dcc47d"/><rect x="1251.38" y="136.39" width="8.77" height="8.64" fill="#dcc986"/><rect x="1259.86" y="136.39" width="8.77" height="8.64" fill="#f2f6f1"/><rect x="1268.33" y="136.39" width="8.77" height="8.64" fill="#dcd093"/><rect x="1031.10" y="144.73" width="8.77" height="8.64" fill="#dcb865"/><rect x="1039.57" y="144.73" width="8.77" height="8.64" fill="#ddd69e"/><rect x="1048.04" y="144.73" width="8.77" height="8.64" fill="#dcc47c"/><rect x="1056.52" y="144.73" width="8.77" height="8.64" fill="#e1deb2"/><rect x="1064.99" y="144.73" width="8.77" height="8.64" fill="#dccf91"/><rect x="1073.46" y="144.73" width="8.77" height="8.64" fill="#e4e2bc"/><rect x="1081.93" y="144.73" width="8.77" height="8.64" fill="#f1f5ed"/><rect x="1090.41" y="144.73" width="8.77" height="8.64" fill="#dedaa7"/><rect x="1098.88" y="144.73" width="8.77" height="8.64" fill="#f0f4e9"/><rect x="1107.35" y="144.73" width="8.77" height="8.64" fill="#dcc177"/><rect x="1115.82" y="144.73" width="8.77" height="8.64" fill="#f0f4ea"/><rect x="1124.30" y="144.73" width="8.77" height="8.64" fill="#ecf0dc"/><rect x="1132.77" y="144.73" width="8.77" height="8.64" fill="#ddd399"/><rect x="1141.24" y="144.73" width="8.77" height="8.64" fill="#e3e1b9"/><rect x="1149.71" y="144.73" width="8.77" height="8.64" fill="#e3e0b7"/><rect x="1158.19" y="144.73" width="8.77" height="8.64" fill="#e3e0b7"/><rect x="1166.66" y="144.73" width="8.77" height="8.64" fill="#dcc885"/><rect x="1175.13" y="144.73" width="8.77" height="8.64" fill="#dcc884"/><rect x="1183.60" y="144.73" width="8.77" height="8.64" fill="#f0f4ea"/><rect x="1192.08" y="144.73" width="8.77" height="8.64" fill="#dcd195"/><rect x="1200.55" y="144.73" width="8.77" height="8.64" fill="#e3e0b7"/><rect x="1209.02" y="144.73" width="8.77" height="8.64" fill="#dccf92"/><rect x="1217.49" y="144.73" width="8.77" height="8.64" fill="#dcbd70"/><rect x="1225.97" y="144.73" width="8.77" height="8.64" fill="#ddd49b"/><rect x="1234.44" y="144.73" width="8.77" height="8.64" fill="#ddd7a1"/><rect x="1242.91" y="144.73" width="8.77" height="8.64" fill="#dccd8d"/><rect x="1251.38" y="144.73" width="8.77" height="8.64" fill="#dca74e"/><rect x="1259.86" y="144.73" width="8.77" height="8.64" fill="#dcd195"/><rect x="1268.33" y="144.73" width="8.77" height="8.64" fill="#dcc885"/><rect x="1031.10" y="153.07" width="8.77" height="8.64" fill="#ded9a5"/><rect x="1039.57" y="153.07" width="8.77" height="8.64" fill="#dcd195"/><rect x="1048.04" y="153.07" width="8.77" height="8.64" fill="#dccb8a"/><rect x="1056.52" y="153.07" width="8.77" height="8.64" fill="#dcc680"/><rect x="1064.99" y="153.07" width="8.77" height="8.64" fill="#e3e1ba"/><rect x="1073.46" y="153.07" width="8.77" height="8.64" fill="#eef2e2"/><rect x="1081.93" y="153.07" width="8.77" height="8.64" fill="#ddd8a2"/><rect x="1090.41" y="153.07" width="8.77" height="8.64" fill="#ddd69e"/><rect x="1098.88" y="153.07" width="8.77" height="8.64" fill="#dcbf73"/><rect x="1107.35" y="153.07" width="8.77" height="8.64" fill="#dcc47d"/><rect x="1115.82" y="153.07" width="8.77" height="8.64" fill="#dcaa51"/><rect x="1124.30" y="153.07" width="8.77" height="8.64" fill="#dccb8a"/><rect x="1132.77" y="153.07" width="8.77" height="8.64" fill="#ddd69e"/><rect x="1141.24" y="153.07" width="8.77" height="8.64" fill="#dcc279"/><rect x="1149.71" y="153.07" width="8.77" height="8.64" fill="#ddd69e"/><rect x="1158.19" y="153.07" width="8.77" height="8.64" fill="#dcc37a"/><rect x="1166.66" y="153.07" width="8.77" height="8.64" fill="#ddd7a1"/><rect x="1175.13" y="153.07" width="8.77" height="8.64" fill="#f0f4e8"/><rect x="1183.60" y="153.07" width="8.77" height="8.64" fill="#dcc680"/><rect x="1192.08" y="153.07" width="8.77" height="8.64" fill="#dcb15b"/><rect x="1200.55" y="153.07" width="8.77" height="8.64" fill="#dcbe71"/><rect x="1209.02" y="153.07" width="8.77" height="8.64" fill="#e2dfb4"/><rect x="1217.49" y="153.07" width="8.77" height="8.64" fill="#e5e3be"/><rect x="1225.97" y="153.07" width="8.77" height="8.64" fill="#dedaa7"/><rect x="1234.44" y="153.07" width="8.77" height="8.64" fill="#dcbf72"/><rect x="1242.91" y="153.07" width="8.77" height="8.64" fill="#dcb45e"/><rect x="1251.38" y="153.07" width="8.77" height="8.64" fill="#e2dfb4"/><rect x="1259.86" y="153.07" width="8.77" height="8.64" fill="#edf1de"/><rect x="1268.33" y="153.07" width="8.77" height="8.64" fill="#dccd8d"/><rect x="1031.10" y="161.42" width="8.77" height="8.64" fill="#ddd8a2"/><rect x="1039.57" y="161.42" width="8.77" height="8.64" fill="#dcb763"/><rect x="1048.04" y="161.42" width="8.77" height="8.64" fill="#e9ebd0"/><rect x="1056.52" y="161.42" width="8.77" height="8.64" fill="#dccf91"/><rect x="1064.99" y="161.42" width="8.77" height="8.64" fill="#dcc681"/><rect x="1073.46" y="161.42" width="8.77" height="8.64" fill="#e4e3be"/><rect x="1081.93" y="161.42" width="8.77" height="8.64" fill="#dcc47d"/><rect x="1090.41" y="161.42" width="8.77" height="8.64" fill="#ddd8a3"/><rect x="1098.88" y="161.42" width="8.77" height="8.64" fill="#dcca88"/><rect x="1107.35" y="161.42" width="8.77" height="8.64" fill="#dcc987"/><rect x="1115.82" y="161.42" width="8.77" height="8.64" fill="#dcc987"/><rect x="1124.30" y="161.42" width="8.77" height="8.64" fill="#e4e2bb"/><rect x="1132.77" y="161.42" width="8.77" height="8.64" fill="#dcc37a"/><rect x="1141.24" y="161.42" width="8.77" height="8.64" fill="#dcc47d"/><rect x="1149.71" y="161.42" width="8.77" height="8.64" fill="#dcc681"/><rect x="1158.19" y="161.42" width="8.77" height="8.64" fill="#dcd297"/><rect x="1166.66" y="161.42" width="8.77" height="8.64" fill="#dca247"/><rect x="1175.13" y="161.42" width="8.77" height="8.64" fill="#dcc987"/><rect x="1183.60" y="161.42" width="8.77" height="8.64" fill="#ddd49b"/><rect x="1192.08" y="161.42" width="8.77" height="8.64" fill="#dcbb6b"/><rect x="1200.55" y="161.42" width="8.77" height="8.64" fill="#e5e4c1"/><rect x="1209.02" y="161.42" width="8.77" height="8.64" fill="#dcd195"/><rect x="1217.49" y="161.42" width="8.77" height="8.64" fill="#dcb45e"/><rect x="1225.97" y="161.42" width="8.77" height="8.64" fill="#dca248"/><rect x="1234.44" y="161.42" width="8.77" height="8.64" fill="#dcc075"/><rect x="1242.91" y="161.42" width="8.77" height="8.64" fill="#dcbd6f"/><rect x="1251.38" y="161.42" width="8.77" height="8.64" fill="#dcb45e"/><rect x="1259.86" y="161.42" width="8.77" height="8.64" fill="#e7e7c7"/><rect x="1268.33" y="161.42" width="8.77" height="8.64" fill="#ddd59c"/><rect x="1031.10" y="169.76" width="8.77" height="8.64" fill="#dcca89"/><rect x="1039.57" y="169.76" width="8.77" height="8.64" fill="#dccf92"/><rect x="1048.04" y="169.76" width="8.77" height="8.64" fill="#dcbf72"/><rect x="1056.52" y="169.76" width="8.77" height="8.64" fill="#dccb8b"/><rect x="1064.99" y="169.76" width="8.77" height="8.64" fill="#ecf0dc"/><rect x="1073.46" y="169.76" width="8.77" height="8.64" fill="#e4e1bb"/><rect x="1081.93" y="169.76" width="8.77" height="8.64" fill="#eef2e4"/><rect x="1090.41" y="169.76" width="8.77" height="8.64" fill="#ded9a6"/><rect x="1098.88" y="169.76" width="8.77" height="8.64" fill="#dc973c"/><rect x="1107.35" y="169.76" width="8.77" height="8.64" fill="#e4e1bb"/><rect x="1115.82" y="169.76" width="8.77" height="8.64" fill="#e1deb3"/><rect x="1124.30" y="169.76" width="8.77" height="8.64" fill="#e0ddaf"/><rect x="1132.77" y="169.76" width="8.77" height="8.64" fill="#e1deb1"/><rect x="1141.24" y="169.76" width="8.77" height="8.64" fill="#dcc57e"/><rect x="1149.71" y="169.76" width="8.77" height="8.64" fill="#dcc37b"/><rect x="1158.19" y="169.76" width="8.77" height="8.64" fill="#ddd49a"/><rect x="1166.66" y="169.76" width="8.77" height="8.64" fill="#dccc8c"/><rect x="1175.13" y="169.76" width="8.77" height="8.64" fill="#dcb45e"/><rect x="1183.60" y="169.76" width="8.77" height="8.64" fill="#f1f5ee"/><rect x="1192.08" y="169.76" width="8.77" height="8.64" fill="#dcd195"/><rect x="1200.55" y="169.76" width="8.77" height="8.64" fill="#dcbb6b"/><rect x="1209.02" y="169.76" width="8.77" height="8.64" fill="#dccd8e"/><rect x="1217.49" y="169.76" width="8.77" height="8.64" fill="#dcbf73"/><rect x="1225.97" y="169.76" width="8.77" height="8.64" fill="#dca348"/><rect x="1234.44" y="169.76" width="8.77" height="8.64" fill="#dcce90"/><rect x="1242.91" y="169.76" width="8.77" height="8.64" fill="#dcc279"/><rect x="1251.38" y="169.76" width="8.77" height="8.64" fill="#dcc987"/><rect x="1259.86" y="169.76" width="8.77" height="8.64" fill="#dcb35d"/><rect x="1268.33" y="169.76" width="8.77" height="8.64" fill="#dcb968"/><rect x="1031.10" y="178.11" width="8.77" height="8.64" fill="#ded9a5"/><rect x="1039.57" y="178.11" width="8.77" height="8.64" fill="#e8e9cb"/><rect x="1048.04" y="178.11" width="8.77" height="8.64" fill="#dcc681"/><rect x="1056.52" y="178.11" width="8.77" height="8.64" fill="#dcc681"/><rect x="1064.99" y="178.11" width="8.77" height="8.64" fill="#dcc987"/><rect x="1073.46" y="178.11" width="8.77" height="8.64" fill="#dcb764"/><rect x="1081.93" y="178.11" width="8.77" height="8.64" fill="#ecf0dd"/><rect x="1090.41" y="178.11" width="8.77" height="8.64" fill="#dccd8e"/><rect x="1098.88" y="178.11" width="8.77" height="8.64" fill="#dfdba9"/><rect x="1107.35" y="178.11" width="8.77" height="8.64" fill="#dfdbaa"/><rect x="1115.82" y="178.11" width="8.77" height="8.64" fill="#f0f4e9"/><rect x="1124.30" y="178.11" width="8.77" height="8.64" fill="#dcd296"/><rect x="1132.77" y="178.11" width="8.77" height="8.64" fill="#dcc782"/><rect x="1141.24" y="178.11" width="8.77" height="8.64" fill="#ddd8a3"/><rect x="1149.71" y="178.11" width="8.77" height="8.64" fill="#ded9a4"/><rect x="1158.19" y="178.11" width="8.77" height="8.64" fill="#ddd49b"/><rect x="1166.66" y="178.11" width="8.77" height="8.64" fill="#e2dfb4"/><rect x="1175.13" y="178.11" width="8.77" height="8.64" fill="#dcc57f"/><rect x="1183.60" y="178.11" width="8.77" height="8.64" fill="#dcc681"/><rect x="1192.08" y="178.11" width="8.77" height="8.64" fill="#f0f4e9"/><rect x="1200.55" y="178.11" width="8.77" height="8.64" fill="#dcbe72"/><rect x="1209.02" y="178.11" width="8.77" height="8.64" fill="#dcc885"/><rect x="1217.49" y="178.11" width="8.77" height="8.64" fill="#dcac54"/><rect x="1225.97" y="178.11" width="8.77" height="8.64" fill="#dccd8e"/><rect x="1234.44" y="178.11" width="8.77" height="8.64" fill="#dfdaa8"/><rect x="1242.91" y="178.11" width="8.77" height="8.64" fill="#dcc075"/><rect x="1251.38" y="178.11" width="8.77" height="8.64" fill="#eef2e2"/><rect x="1259.86" y="178.11" width="8.77" height="8.64" fill="#dcc47d"/><rect x="1268.33" y="178.11" width="8.77" height="8.64" fill="#dcbc6e"/><rect x="1031.10" y="186.45" width="8.77" height="8.64" fill="#dc963b"/><rect x="1039.57" y="186.45" width="8.77" height="8.64" fill="#dcca88"/><rect x="1048.04" y="186.45" width="8.77" height="8.64" fill="#ddd7a0"/><rect x="1056.52" y="186.45" width="8.77" height="8.64" fill="#eff3e7"/><rect x="1064.99" y="186.45" width="8.77" height="8.64" fill="#dcce90"/><rect x="1073.46" y="186.45" width="8.77" height="8.64" fill="#dcce91"/><rect x="1081.93" y="186.45" width="8.77" height="8.64" fill="#ddd49b"/><rect x="1090.41" y="186.45" width="8.77" height="8.64" fill="#ddd69f"/><rect x="1098.88" y="186.45" width="8.77" height="8.64" fill="#dccd8e"/><rect x="1107.35" y="186.45" width="8.77" height="8.64" fill="#dcc37a"/><rect x="1115.82" y="186.45" width="8.77" height="8.64" fill="#e8e9cd"/><rect x="1124.30" y="186.45" width="8.77" height="8.64" fill="#dcca88"/><rect x="1132.77" y="186.45" width="8.77" height="8.64" fill="#dc993e"/><rect x="1141.24" y="186.45" width="8.77" height="8.64" fill="#dcc885"/><rect x="1149.71" y="186.45" width="8.77" height="8.64" fill="#dcc885"/><rect x="1158.19" y="186.45" width="8.77" height="8.64" fill="#e0ddae"/><rect x="1166.66" y="186.45" width="8.77" height="8.64" fill="#e1deb2"/><rect x="1175.13" y="186.45" width="8.77" height="8.64" fill="#dccd8e"/><rect x="1183.60" y="186.45" width="8.77" height="8.64" fill="#ddd69e"/><rect x="1192.08" y="186.45" width="8.77" height="8.64" fill="#e1ddb0"/><rect x="1200.55" y="186.45" width="8.77" height="8.64" fill="#dcca87"/><rect x="1209.02" y="186.45" width="8.77" height="8.64" fill="#dcac54"/><rect x="1217.49" y="186.45" width="8.77" height="8.64" fill="#dccc8c"/><rect x="1225.97" y="186.45" width="8.77" height="8.64" fill="#dcc57e"/><rect x="1234.44" y="186.45" width="8.77" height="8.64" fill="#dcc27a"/><rect x="1242.91" y="186.45" width="8.77" height="8.64" fill="#dedaa7"/><rect x="1251.38" y="186.45" width="8.77" height="8.64" fill="#dcd093"/><rect x="1259.86" y="186.45" width="8.77" height="8.64" fill="#dc9e42"/><rect x="1268.33" y="186.45" width="8.77" height="8.64" fill="#ddd49b"/><rect x="1031.10" y="194.79" width="8.77" height="8.64" fill="#ddd7a0"/><rect x="1039.57" y="194.79" width="8.77" height="8.64" fill="#dcca88"/><rect x="1048.04" y="194.79" width="8.77" height="8.64" fill="#dca44a"/><rect x="1056.52" y="194.79" width="8.77" height="8.64" fill="#eef2e2"/><rect x="1064.99" y="194.79" width="8.77" height="8.64" fill="#e7e7c7"/><rect x="1073.46" y="194.79" width="8.77" height="8.64" fill="#dcd296"/><rect x="1081.93" y="194.79" width="8.77" height="8.64" fill="#dcd297"/><rect x="1090.41" y="194.79" width="8.77" height="8.64" fill="#dcc987"/><rect x="1098.88" y="194.79" width="8.77" height="8.64" fill="#dcca88"/><rect x="1107.35" y="194.79" width="8.77" height="8.64" fill="#dcc884"/><rect x="1115.82" y="194.79" width="8.77" height="8.64" fill="#e1deb0"/><rect x="1124.30" y="194.79" width="8.77" height="8.64" fill="#e5e3be"/><rect x="1132.77" y="194.79" width="8.77" height="8.64" fill="#dcac54"/><rect x="1141.24" y="194.79" width="8.77" height="8.64" fill="#eaedd4"/><rect x="1149.71" y="194.79" width="8.77" height="8.64" fill="#eaedd6"/><rect x="1158.19" y="194.79" width="8.77" height="8.64" fill="#dccb8a"/><rect x="1166.66" y="194.79" width="8.77" height="8.64" fill="#dcd094"/><rect x="1175.13" y="194.79" width="8.77" height="8.64" fill="#e0ddae"/><rect x="1183.60" y="194.79" width="8.77" height="8.64" fill="#ddd69f"/><rect x="1192.08" y="194.79" width="8.77" height="8.64" fill="#e2deb3"/><rect x="1200.55" y="194.79" width="8.77" height="8.64" fill="#dcca89"/><rect x="1209.02" y="194.79" width="8.77" height="8.64" fill="#dcc57f"/><rect x="1217.49" y="194.79" width="8.77" height="8.64" fill="#e7e8c9"/><rect x="1225.97" y="194.79" width="8.77" height="8.64" fill="#e2dfb4"/><rect x="1234.44" y="194.79" width="8.77" height="8.64" fill="#dcb865"/><rect x="1242.91" y="194.79" width="8.77" height="8.64" fill="#dcce90"/><rect x="1251.38" y="194.79" width="8.77" height="8.64" fill="#dcb968"/><rect x="1259.86" y="194.79" width="8.77" height="8.64" fill="#dccf91"/><rect x="1268.33" y="194.79" width="8.77" height="8.64" fill="#dfdbaa"/><rect x="1031.10" y="203.14" width="8.77" height="8.64" fill="#ddd49a"/><rect x="1039.57" y="203.14" width="8.77" height="8.64" fill="#dcbf74"/><rect x="1048.04" y="203.14" width="8.77" height="8.64" fill="#e1deb3"/><rect x="1056.52" y="203.14" width="8.77" height="8.64" fill="#e9eace"/><rect x="1064.99" y="203.14" width="8.77" height="8.64" fill="#e1deb1"/><rect x="1073.46" y="203.14" width="8.77" height="8.64" fill="#ded9a5"/><rect x="1081.93" y="203.14" width="8.77" height="8.64" fill="#dcbe71"/><rect x="1090.41" y="203.14" width="8.77" height="8.64" fill="#ddd298"/><rect x="1098.88" y="203.14" width="8.77" height="8.64" fill="#dcc782"/><rect x="1107.35" y="203.14" width="8.77" height="8.64" fill="#eef2e3"/><rect x="1115.82" y="203.14" width="8.77" height="8.64" fill="#dcc176"/><rect x="1124.30" y="203.14" width="8.77" height="8.64" fill="#f0f4ea"/><rect x="1132.77" y="203.14" width="8.77" height="8.64" fill="#dfdbaa"/><rect x="1141.24" y="203.14" width="8.77" height="8.64" fill="#eaedd5"/><rect x="1149.71" y="203.14" width="8.77" height="8.64" fill="#e5e4c2"/><rect x="1158.19" y="203.14" width="8.77" height="8.64" fill="#dca146"/><rect x="1166.66" y="203.14" width="8.77" height="8.64" fill="#dccb8a"/><rect x="1175.13" y="203.14" width="8.77" height="8.64" fill="#ddd9a3"/><rect x="1183.60" y="203.14" width="8.77" height="8.64" fill="#dedaa6"/><rect x="1192.08" y="203.14" width="8.77" height="8.64" fill="#dcc177"/><rect x="1200.55" y="203.14" width="8.77" height="8.64" fill="#dca248"/><rect x="1209.02" y="203.14" width="8.77" height="8.64" fill="#dccd8f"/><rect x="1217.49" y="203.14" width="8.77" height="8.64" fill="#dca951"/><rect x="1225.97" y="203.14" width="8.77" height="8.64" fill="#ddd59c"/><rect x="1234.44" y="203.14" width="8.77" height="8.64" fill="#dcbf73"/><rect x="1242.91" y="203.14" width="8.77" height="8.64" fill="#dcc781"/><rect x="1251.38" y="203.14" width="8.77" height="8.64" fill="#e6e6c5"/><rect x="1259.86" y="203.14" width="8.77" height="8.64" fill="#ded9a5"/><rect x="1268.33" y="203.14" width="8.77" height="8.64" fill="#dcce90"/><rect x="1031.10" y="211.48" width="8.77" height="8.64" fill="#ddd298"/><rect x="1039.57" y="211.48" width="8.77" height="8.64" fill="#e4e2bc"/><rect x="1048.04" y="211.48" width="8.77" height="8.64" fill="#dcbc6d"/><rect x="1056.52" y="211.48" width="8.77" height="8.64" fill="#dcc177"/><rect x="1064.99" y="211.48" width="8.77" height="8.64" fill="#e1ddb0"/><rect x="1073.46" y="211.48" width="8.77" height="8.64" fill="#dcc783"/><rect x="1081.93" y="211.48" width="8.77" height="8.64" fill="#dccf91"/><rect x="1090.41" y="211.48" width="8.77" height="8.64" fill="#dccf91"/><rect x="1098.88" y="211.48" width="8.77" height="8.64" fill="#dccc8c"/><rect x="1107.35" y="211.48" width="8.77" height="8.64" fill="#dcc47c"/><rect x="1115.82" y="211.48" width="8.77" height="8.64" fill="#dcce90"/><rect x="1124.30" y="211.48" width="8.77" height="8.64" fill="#dcd094"/><rect x="1132.77" y="211.48" width="8.77" height="8.64" fill="#ddd49a"/><rect x="1141.24" y="211.48" width="8.77" height="8.64" fill="#e4e1ba"/><rect x="1149.71" y="211.48" width="8.77" height="8.64" fill="#dcbb6b"/><rect x="1158.19" y="211.48" width="8.77" height="8.64" fill="#dcad56"/><rect x="1166.66" y="211.48" width="8.77" height="8.64" fill="#eef2e2"/><rect x="1175.13" y="211.48" width="8.77" height="8.64" fill="#dccd8e"/><rect x="1183.60" y="211.48" width="8.77" height="8.64" fill="#e3e0b7"/><rect x="1192.08" y="211.48" width="8.77" height="8.64" fill="#dcc176"/><rect x="1200.55" y="211.48" width="8.77" height="8.64" fill="#dcce8f"/><rect x="1209.02" y="211.48" width="8.77" height="8.64" fill="#dccf92"/><rect x="1217.49" y="211.48" width="8.77" height="8.64" fill="#f0f4eb"/><rect x="1225.97" y="211.48" width="8.77" height="8.64" fill="#dcc680"/><rect x="1234.44" y="211.48" width="8.77" height="8.64" fill="#dcc47d"/><rect x="1242.91" y="211.48" width="8.77" height="8.64" fill="#dfdaa8"/><rect x="1251.38" y="211.48" width="8.77" height="8.64" fill="#dcbe71"/><rect x="1259.86" y="211.48" width="8.77" height="8.64" fill="#dcd093"/><rect x="1268.33" y="211.48" width="8.77" height="8.64" fill="#dcca89"/><rect x="1031.10" y="219.82" width="8.77" height="8.64" fill="#dcc37b"/><rect x="1039.57" y="219.82" width="8.77" height="8.64" fill="#dcb968"/><rect x="1048.04" y="219.82" width="8.77" height="8.64" fill="#dedaa7"/><rect x="1056.52" y="219.82" width="8.77" height="8.64" fill="#ddd399"/><rect x="1064.99" y="219.82" width="8.77" height="8.64" fill="#dcc783"/><rect x="1073.46" y="219.82" width="8.77" height="8.64" fill="#e0dcad"/><rect x="1081.93" y="219.82" width="8.77" height="8.64" fill="#dcc37a"/><rect x="1090.41" y="219.82" width="8.77" height="8.64" fill="#dcc278"/><rect x="1098.88" y="219.82" width="8.77" height="8.64" fill="#dcbe72"/><rect x="1107.35" y="219.82" width="8.77" height="8.64" fill="#dcc783"/><rect x="1115.82" y="219.82" width="8.77" height="8.64" fill="#dccd8e"/><rect x="1124.30" y="219.82" width="8.77" height="8.64" fill="#dcd094"/><rect x="1132.77" y="219.82" width="8.77" height="8.64" fill="#dcce8f"/><rect x="1141.24" y="219.82" width="8.77" height="8.64" fill="#dcc47c"/><rect x="1149.71" y="219.82" width="8.77" height="8.64" fill="#dcc986"/><rect x="1158.19" y="219.82" width="8.77" height="8.64" fill="#dc9e42"/><rect x="1166.66" y="219.82" width="8.77" height="8.64" fill="#dcb059"/><rect x="1175.13" y="219.82" width="8.77" height="8.64" fill="#dccd8e"/><rect x="1183.60" y="219.82" width="8.77" height="8.64" fill="#eef2e4"/><rect x="1192.08" y="219.82" width="8.77" height="8.64" fill="#dcc57f"/><rect x="1200.55" y="219.82" width="8.77" height="8.64" fill="#dcc987"/><rect x="1209.02" y="219.82" width="8.77" height="8.64" fill="#ddd69e"/><rect x="1217.49" y="219.82" width="8.77" height="8.64" fill="#e5e3bf"/><rect x="1225.97" y="219.82" width="8.77" height="8.64" fill="#dca248"/><rect x="1234.44" y="219.82" width="8.77" height="8.64" fill="#dccd8d"/><rect x="1242.91" y="219.82" width="8.77" height="8.64" fill="#e3e0b7"/><rect x="1251.38" y="219.82" width="8.77" height="8.64" fill="#dccd8d"/><rect x="1259.86" y="219.82" width="8.77" height="8.64" fill="#ddd398"/><rect x="1268.33" y="219.82" width="8.77" height="8.64" fill="#dcc178"/><rect x="1031.10" y="228.17" width="8.77" height="8.64" fill="#ecf0db"/><rect x="1039.57" y="228.17" width="8.77" height="8.64" fill="#dcc47e"/><rect x="1048.04" y="228.17" width="8.77" height="8.64" fill="#dcbc6d"/><rect x="1056.52" y="228.17" width="8.77" height="8.64" fill="#e4e3be"/><rect x="1064.99" y="228.17" width="8.77" height="8.64" fill="#dcc681"/><rect x="1073.46" y="228.17" width="8.77" height="8.64" fill="#dcc074"/><rect x="1081.93" y="228.17" width="8.77" height="8.64" fill="#dcc781"/><rect x="1090.41" y="228.17" width="8.77" height="8.64" fill="#dcc075"/><rect x="1098.88" y="228.17" width="8.77" height="8.64" fill="#e0dcac"/><rect x="1107.35" y="228.17" width="8.77" height="8.64" fill="#dcbd6f"/><rect x="1115.82" y="228.17" width="8.77" height="8.64" fill="#dcc177"/><rect x="1124.30" y="228.17" width="8.77" height="8.64" fill="#dcc37a"/><rect x="1132.77" y="228.17" width="8.77" height="8.64" fill="#e5e3bf"/><rect x="1141.24" y="228.17" width="8.77" height="8.64" fill="#ddd8a2"/><rect x="1149.71" y="228.17" width="8.77" height="8.64" fill="#ddd398"/><rect x="1158.19" y="228.17" width="8.77" height="8.64" fill="#dcce90"/><rect x="1166.66" y="228.17" width="8.77" height="8.64" fill="#dcc37a"/><rect x="1175.13" y="228.17" width="8.77" height="8.64" fill="#dc9a3e"/><rect x="1183.60" y="228.17" width="8.77" height="8.64" fill="#ddd49c"/><rect x="1192.08" y="228.17" width="8.77" height="8.64" fill="#ddd399"/><rect x="1200.55" y="228.17" width="8.77" height="8.64" fill="#dcc177"/><rect x="1209.02" y="228.17" width="8.77" height="8.64" fill="#e4e2bb"/><rect x="1217.49" y="228.17" width="8.77" height="8.64" fill="#ddd398"/><rect x="1225.97" y="228.17" width="8.77" height="8.64" fill="#ddd69f"/><rect x="1234.44" y="228.17" width="8.77" height="8.64" fill="#eff3e6"/><rect x="1242.91" y="228.17" width="8.77" height="8.64" fill="#e3e0b7"/><rect x="1251.38" y="228.17" width="8.77" height="8.64" fill="#dcbc6d"/><rect x="1259.86" y="228.17" width="8.77" height="8.64" fill="#e0dcac"/><rect x="1268.33" y="228.17" width="8.77" height="8.64" fill="#dcc681"/><rect x="1031.10" y="236.51" width="8.77" height="8.64" fill="#ddd7a1"/><rect x="1039.57" y="236.51" width="8.77" height="8.64" fill="#ddd69f"/><rect x="1048.04" y="236.51" width="8.77" height="8.64" fill="#e3e0b8"/><rect x="1056.52" y="236.51" width="8.77" height="8.64" fill="#dcd194"/><rect x="1064.99" y="236.51" width="8.77" height="8.64" fill="#dfdaa8"/><rect x="1073.46" y="236.51" width="8.77" height="8.64" fill="#dcc278"/><rect x="1081.93" y="236.51" width="8.77" height="8.64" fill="#e3e1b9"/><rect x="1090.41" y="236.51" width="8.77" height="8.64" fill="#e2dfb4"/><rect x="1098.88" y="236.51" width="8.77" height="8.64" fill="#dcc176"/><rect x="1107.35" y="236.51" width="8.77" height="8.64" fill="#e2dfb3"/><rect x="1115.82" y="236.51" width="8.77" height="8.64" fill="#dccb8a"/><rect x="1124.30" y="236.51" width="8.77" height="8.64" fill="#dc9b3f"/><rect x="1132.77" y="236.51" width="8.77" height="8.64" fill="#e1ddb0"/><rect x="1141.24" y="236.51" width="8.77" height="8.64" fill="#e3e0b8"/><rect x="1149.71" y="236.51" width="8.77" height="8.64" fill="#dcbc6e"/><rect x="1158.19" y="236.51" width="8.77" height="8.64" fill="#dccd8e"/><rect x="1166.66" y="236.51" width="8.77" height="8.64" fill="#dcb866"/><rect x="1175.13" y="236.51" width="8.77" height="8.64" fill="#ddd298"/><rect x="1183.60" y="236.51" width="8.77" height="8.64" fill="#dcc986"/><rect x="1192.08" y="236.51" width="8.77" height="8.64" fill="#e0dcac"/><rect x="1200.55" y="236.51" width="8.77" height="8.64" fill="#ebeed7"/><rect x="1209.02" y="236.51" width="8.77" height="8.64" fill="#ddd8a2"/><rect x="1217.49" y="236.51" width="8.77" height="8.64" fill="#dcd296"/><rect x="1225.97" y="236.51" width="8.77" height="8.64" fill="#ddd69e"/><rect x="1234.44" y="236.51" width="8.77" height="8.64" fill="#eef2e3"/><rect x="1242.91" y="236.51" width="8.77" height="8.64" fill="#dcc783"/><rect x="1251.38" y="236.51" width="8.77" height="8.64" fill="#e3e0b8"/><rect x="1259.86" y="236.51" width="8.77" height="8.64" fill="#ddd7a0"/><rect x="1268.33" y="236.51" width="8.77" height="8.64" fill="#dcad55"/><rect x="1031.10" y="244.86" width="8.77" height="8.64" fill="#dcb867"/><rect x="1039.57" y="244.86" width="8.77" height="8.64" fill="#dccd8e"/><rect x="1048.04" y="244.86" width="8.77" height="8.64" fill="#dccb8a"/><rect x="1056.52" y="244.86" width="8.77" height="8.64" fill="#e4e3be"/><rect x="1064.99" y="244.86" width="8.77" height="8.64" fill="#dccc8c"/><rect x="1073.46" y="244.86" width="8.77" height="8.64" fill="#dedaa7"/><rect x="1081.93" y="244.86" width="8.77" height="8.64" fill="#f2f6f1"/><rect x="1090.41" y="244.86" width="8.77" height="8.64" fill="#e0dcad"/><rect x="1098.88" y="244.86" width="8.77" height="8.64" fill="#dca146"/><rect x="1107.35" y="244.86" width="8.77" height="8.64" fill="#dcc987"/><rect x="1115.82" y="244.86" width="8.77" height="8.64" fill="#e7e7c7"/><rect x="1124.30" y="244.86" width="8.77" height="8.64" fill="#dccc8b"/><rect x="1132.77" y="244.86" width="8.77" height="8.64" fill="#dccc8b"/><rect x="1141.24" y="244.86" width="8.77" height="8.64" fill="#dca64d"/><rect x="1149.71" y="244.86" width="8.77" height="8.64" fill="#dcc075"/><rect x="1158.19" y="244.86" width="8.77" height="8.64" fill="#dccf91"/><rect x="1166.66" y="244.86" width="8.77" height="8.64" fill="#e2e0b6"/><rect x="1175.13" y="244.86" width="8.77" height="8.64" fill="#dccf92"/><rect x="1183.60" y="244.86" width="8.77" height="8.64" fill="#dcc681"/><rect x="1192.08" y="244.86" width="8.77" height="8.64" fill="#dccc8d"/><rect x="1200.55" y="244.86" width="8.77" height="8.64" fill="#e4e2bd"/><rect x="1209.02" y="244.86" width="8.77" height="8.64" fill="#ded9a5"/><rect x="1217.49" y="244.86" width="8.77" height="8.64" fill="#dcba6a"/><rect x="1225.97" y="244.86" width="8.77" height="8.64" fill="#ddd8a2"/><rect x="1234.44" y="244.86" width="8.77" height="8.64" fill="#dccf91"/><rect x="1242.91" y="244.86" width="8.77" height="8.64" fill="#e8e8cb"/><rect x="1251.38" y="244.86" width="8.77" height="8.64" fill="#dcb45d"/><rect x="1259.86" y="244.86" width="8.77" height="8.64" fill="#dcc47c"/><rect x="1268.33" y="244.86" width="8.77" height="8.64" fill="#ddd69f"/><rect x="1031.1" y="119.7" width="245.7" height="133.5" fill="none" stroke="#000" stroke-width="2.6" stroke-dasharray="4.6,2.8"/><path d="M257.8,271.5 L278.8,259.5 L278.8,283.5Z" fill="#777" fill-opacity="0.8"/><path d="M315.8,271.5 L337.8,259.5 L337.8,283.5Z" fill="#777" fill-opacity="0.8"/><path d="M362.8,271.5 L340.8,259.5 L340.8,283.5Z" fill="#777" fill-opacity="0.8"/><path d="M384.6,271.5 L405.2,259.4 L405.2,283.6Z" fill="#6cc8de" fill-opacity="1.0"/><path d="M432.8,271.5 L411.4,259.5 L411.4,283.5Z" fill="#555" fill-opacity="0.9"/><path d="M453.8,271.5 L475.8,259.5 L475.8,283.5Z" fill="#777" fill-opacity="0.8"/><path d="M339.2,263.3 L345.3,271.5 L339.2,279.0 L333.0,271.5Z" fill="#fff" stroke="#000" stroke-width="2.6"/><path d="M260.4,263.0 L280.4,280.0 M260.4,280.0 L280.4,263.0" stroke="#000" stroke-width="3" fill="none"/><path d="M318.4,263.0 L338.4,280.0 M318.4,280.0 L338.4,263.0" stroke="#000" stroke-width="3" fill="none"/><path d="M341.8,263.0 L361.8,280.0 M341.8,280.0 L361.8,263.0" stroke="#000" stroke-width="3" fill="none"/><path d="M412.8,263.0 L432.8,280.0 M412.8,280.0 L432.8,263.0" stroke="#000" stroke-width="3" fill="none"/><path d="M455.9,263.0 L475.9,280.0 M455.9,280.0 L475.9,263.0" stroke="#000" stroke-width="3" fill="none"/><path d="M1037.1,270.8 L1058.1,258.8 L1058.1,282.8Z" fill="#777" fill-opacity="0.8"/><path d="M1095.1,270.8 L1117.1,258.8 L1117.1,282.8Z" fill="#777" fill-opacity="0.8"/><path d="M1142.1,270.8 L1120.1,258.8 L1120.1,282.8Z" fill="#777" fill-opacity="0.8"/><path d="M1163.9,270.8 L1184.5,258.7 L1184.5,282.9Z" fill="#6cc8de" fill-opacity="1.0"/><path d="M1212.1,270.8 L1190.7,258.8 L1190.7,282.8Z" fill="#555" fill-opacity="0.9"/><path d="M1233.1,270.8 L1255.1,258.8 L1255.1,282.8Z" fill="#777" fill-opacity="0.8"/><path d="M1118.5,262.6 L1124.6,270.8 L1118.5,278.3 L1112.3,270.8Z" fill="#fff" stroke="#000" stroke-width="2.6"/><path d="M1039.7,262.3 L1059.7,279.3 M1039.7,279.3 L1059.7,262.3" stroke="#000" stroke-width="3" fill="none"/><path d="M1097.7,262.3 L1117.7,279.3 M1097.7,279.3 L1117.7,262.3" stroke="#000" stroke-width="3" fill="none"/><path d="M1121.1,262.3 L1141.1,279.3 M1121.1,279.3 L1141.1,262.3" stroke="#000" stroke-width="3" fill="none"/><path d="M1192.1,262.3 L1212.1,279.3 M1192.1,279.3 L1212.1,262.3" stroke="#000" stroke-width="3" fill="none"/><path d="M1235.2,262.3 L1255.2,279.3 M1235.2,279.3 L1255.2,262.3" stroke="#000" stroke-width="3" fill="none"/><circle cx="267.3" cy="105.2" r="6.5" fill="none" stroke="#000" stroke-width="2.9"/><circle cx="337.8" cy="105.2" r="6.5" fill="none" stroke="#000" stroke-width="2.9"/><circle cx="1124.8" cy="105.8" r="6.5" fill="none" stroke="#000" stroke-width="2.9"/><circle cx="1204.5" cy="105.8" r="6.5" fill="none" stroke="#000" stroke-width="2.9"/><path d="M620.6,405.7 L613.7,399.7 L678.3,337.9 L688.3,346.4" fill="none" stroke="#000" stroke-width="2.3" stroke-dasharray="7.5,9.5"/><path d="M1040.5,420.5 L1033.8,427 L1094.5,496.5 L1101.3,490.2" fill="none" stroke="#000" stroke-width="2.3" stroke-dasharray="7.5,9.5"/>
<rect x="235" y="84.5" width="1058.5" height="1045" fill="none" stroke="#111" stroke-width="1.6"/>
<line x1="234" y1="606.3" x2="1294" y2="606.3" stroke="#000" stroke-width="3.6"/>
<line x1="353.4" y1="78" x2="353.4" y2="84.5" stroke="#000" stroke-width="1.6"/>
<text x="353.4" y="73.6" text-anchor="middle">4.5</text>
<line x1="631.4" y1="78" x2="631.4" y2="84.5" stroke="#000" stroke-width="1.6"/>
<text x="631.4" y="73.6" text-anchor="middle">5.0</text>
<line x1="909.4" y1="78" x2="909.4" y2="84.5" stroke="#000" stroke-width="1.6"/>
<text x="909.4" y="73.6" text-anchor="middle">5.5</text>
<line x1="1187.4" y1="78" x2="1187.4" y2="84.5" stroke="#000" stroke-width="1.6"/>
<text x="1187.4" y="73.6" text-anchor="middle">6.0</text>
<text x="208" y="72.7">cen</text>
<text x="1278" y="74.2">tel</text>
<rect x="1349.5" y="103.8" width="23.6" height="157.3" fill="url(#cbA)" stroke="#000" stroke-width="2.7"/>
<text x="1381" y="117">400</text><text x="1381" y="273.7">0</text>
<rect x="1349.5" y="617.5" width="24.6" height="157.5" fill="url(#cbZ)" stroke="#000" stroke-width="2.5"/>
<text x="1378" y="631.8">+15</text><text x="1381" y="784.7">-15</text>
<text transform="translate(1518,184) rotate(90)" text-anchor="middle" >KR normalized</text><text transform="translate(1488.5,184) rotate(90)" text-anchor="middle" >contact</text><text transform="translate(1458.4,184) rotate(90)" text-anchor="middle" >frequencies</text>
<text transform="translate(1519.5,696) rotate(90)" text-anchor="middle" >z-score of</text><text transform="translate(1489.4,696) rotate(90)" text-anchor="middle" >substracted</text><text transform="translate(1458.4,696) rotate(90)" text-anchor="middle" >contact frequencies</text>
<text transform="translate(141.4,337) rotate(-90)" text-anchor="middle" font-style="italic">cHi-C E11.5 d-limbs</text><text transform="translate(184.3,337) rotate(-90)" text-anchor="middle" font-style="italic">R3-only</text>
<text transform="translate(141,857.4) rotate(-90)" text-anchor="middle" font-style="italic">R3-only vs Delbs</text>
<rect x="514.3" y="617.8" width="37.8" height="11.2" fill="#000"/>
<text x="456.5" y="657.1" textLength="173.5" lengthAdjust="spacingAndGlyphs">Enhancers</text>
<line x1="1011.4" y1="622.6" x2="1052.8" y2="622.6" stroke="#000" stroke-width="1.6"/>
<line x1="1011.9" y1="616.3" x2="1011.9" y2="629.3" stroke="#000" stroke-width="1.5"/>
<line x1="1014.3" y1="616.3" x2="1014.3" y2="629.3" stroke="#000" stroke-width="1.5"/>
<line x1="1023" y1="616.3" x2="1023" y2="629.3" stroke="#000" stroke-width="1.5"/>
<line x1="1031.6" y1="616.3" x2="1031.6" y2="629.3" stroke="#000" stroke-width="1.5"/>
<line x1="1039.8" y1="616.3" x2="1039.8" y2="629.3" stroke="#000" stroke-width="1.5"/>
<line x1="1043.7" y1="616.3" x2="1043.7" y2="629.3" stroke="#000" stroke-width="1.5"/>
<line x1="1047" y1="616.3" x2="1047" y2="629.3" stroke="#000" stroke-width="1.5"/>
<line x1="1049.4" y1="616.3" x2="1049.4" y2="629.3" stroke="#000" stroke-width="1.5"/>
<line x1="1051.8" y1="616.3" x2="1051.8" y2="629.3" stroke="#000" stroke-width="1.5"/>
<text x="989.5" y="655.6" font-style="italic" textLength="84" lengthAdjust="spacingAndGlyphs">Pax3</text>
<g fill="none" stroke="#000" stroke-width="2.4"><line x1="234.7" y1="1146" x2="234.7" y2="1627"/><line x1="233.5" y1="1625.8" x2="1294.3" y2="1625.8"/></g>
<line x1="229" y1="1180.4" x2="234.7" y2="1180.4" stroke="#000" stroke-width="1.6"/>
<text x="224.5" y="1191.0" text-anchor="end">0.5</text>
<line x1="229" y1="1291.6" x2="234.7" y2="1291.6" stroke="#000" stroke-width="1.6"/>
<text x="224.5" y="1302.2" text-anchor="end">0</text>
<line x1="229" y1="1402.8" x2="234.7" y2="1402.8" stroke="#000" stroke-width="1.6"/>
<text x="224.5" y="1413.4" text-anchor="end">-0.5</text>
<line x1="229" y1="1514.0" x2="234.7" y2="1514.0" stroke="#000" stroke-width="1.6"/>
<text x="224.5" y="1524.6" text-anchor="end">-1</text>
<line x1="229" y1="1625.2" x2="234.7" y2="1625.2" stroke="#000" stroke-width="1.6"/>
<text x="224.5" y="1635.8" text-anchor="end">-1.5</text>
<line x1="353.4" y1="1625.8" x2="353.4" y2="1633" stroke="#000" stroke-width="1.6"/>
<text x="353.4" y="1657.5" text-anchor="middle">4.5</text>
<line x1="631.4" y1="1625.8" x2="631.4" y2="1633" stroke="#000" stroke-width="1.6"/>
<text x="631.4" y="1657.5" text-anchor="middle">5.0</text>
<line x1="909.4" y1="1625.8" x2="909.4" y2="1633" stroke="#000" stroke-width="1.6"/>
<text x="909.4" y="1657.5" text-anchor="middle">5.5</text>
<line x1="1187.4" y1="1625.8" x2="1187.4" y2="1633" stroke="#000" stroke-width="1.6"/>
<text x="1187.4" y="1657.5" text-anchor="middle">6.0</text>
<text transform="translate(141.8,1372.6) rotate(-90)" text-anchor="middle">Insulation score</text>
<polyline points="243.3,1314.5 251.5,1318.0 258.7,1305.0 267.0,1282.0 275.2,1255.0 283.5,1248.6 295.8,1244.5 302.0,1248.6 310.2,1261.0 322.6,1294.0 330.8,1335.2 337.0,1384.6 345.3,1386.7 353.5,1381.5 361.8,1388.7 370.0,1401.1 378.2,1420.0 390.6,1465.0 405.0,1530.0 411.2,1555.0 416.4,1575.0 427.7,1565.0 434.9,1540.0 440.0,1489.0 448.3,1425.0 456.5,1380.0 464.8,1335.0 481.3,1287.8 495.7,1267.2 512.2,1238.3 520.0,1231.1 532.4,1221.8 548.8,1212.5 559.2,1213.6 567.4,1223.9 577.7,1236.2 590.1,1255.8 608.6,1258.9 616.8,1268.2 623.0,1268.2 639.5,1258.9 653.9,1255.8 660.1,1250.7 668.4,1250.7 684.8,1240.4 701.3,1227.0 715.8,1215.6 726.1,1209.5 742.5,1209.5 757.0,1217.7 767.3,1223.9 777.6,1238.3 792.0,1263.0 800.0,1270.7 810.3,1289.2 822.7,1316.0 833.0,1344.8 845.3,1386.1 855.6,1427.3 868.0,1460.2 882.4,1487.0 888.6,1491.1 896.8,1482.9 905.1,1472.6 915.4,1427.3 923.6,1392.2 933.9,1344.8 942.2,1307.8 952.5,1281.0 964.8,1258.3 975.2,1245.9 985.5,1235.6 997.8,1221.2 1012.2,1203.7 1022.5,1204.7 1030.8,1204.7 1041.1,1217.1 1051.4,1210.9 1067.9,1215.0 1080.0,1221.5 1093.2,1232.5 1113.0,1258.9 1124.0,1270.0 1137.1,1295.0 1145.9,1328.0 1156.9,1375.0 1170.1,1420.0 1183.3,1462.0 1189.9,1478.0 1203.0,1465.0 1216.3,1432.0 1231.6,1383.0 1242.6,1370.0 1253.6,1365.5 1262.4,1368.8 1271.2,1378.0 1277.8,1390.0 1291.0,1423.7" fill="none" stroke="#b0b0b0" stroke-width="5" stroke-linejoin="round"/>
<polyline points="243.3,1338.2 253.6,1339.3 260.8,1329.0 269.0,1294.0 275.2,1275.4 283.5,1261.0 297.9,1256.8 304.0,1261.0 312.3,1271.3 322.6,1298.0 328.8,1324.8 335.0,1364.0 339.1,1374.3 353.5,1362.0 359.7,1368.1 370.0,1382.5 378.2,1407.3 390.6,1458.8 405.0,1528.9 411.2,1559.8 416.4,1586.5 419.5,1580.4 427.7,1570.0 434.9,1541.2 440.0,1489.7 448.3,1427.9 456.5,1386.7 464.8,1341.3 477.1,1304.2 493.6,1281.6 510.1,1258.9 520.0,1246.5 528.2,1236.2 540.6,1225.9 548.8,1220.8 557.1,1221.8 563.3,1230.1 571.5,1242.4 581.8,1263.0 592.1,1269.2 606.5,1279.5 614.8,1294.0 621.0,1299.1 637.5,1285.7 653.9,1295.0 660.1,1281.6 666.3,1289.8 680.7,1274.4 701.3,1264.1 717.8,1254.8 734.3,1252.7 752.8,1244.5 759.0,1248.6 765.2,1241.4 779.6,1237.3 796.1,1235.2 802.3,1227.0 812.6,1226.5 824.7,1222.2 841.2,1223.3 857.7,1229.5 865.9,1233.6 876.2,1245.9 886.5,1252.1 894.8,1262.4 903.0,1278.9 915.4,1287.1 927.8,1301.6 942.2,1305.7 952.5,1316.0 960.7,1338.7 969.0,1346.9 979.3,1365.5 989.6,1371.6 1001.9,1373.7 1008.1,1367.5 1016.4,1368.5 1026.7,1371.6 1039.0,1340.7 1045.2,1309.8 1051.4,1276.8 1057.6,1258.3 1067.9,1235.6 1080.2,1231.5 1095.4,1229.2 1106.4,1238.0 1113.0,1239.1 1124.0,1263.3 1137.1,1291.9 1145.9,1324.8 1156.9,1373.2 1170.1,1419.3 1183.3,1461.1 1189.9,1481.0 1203.0,1461.1 1216.3,1428.1 1231.6,1377.6 1242.6,1362.2 1253.6,1354.5 1266.8,1360.0 1271.2,1371.0 1277.8,1384.2 1291.0,1419.3" fill="none" stroke="#e3b5b5" stroke-width="5" stroke-linejoin="round"/>
<polyline points="243.3,1319.7 251.5,1322.8 258.7,1308.4 267.0,1283.6 275.2,1252.7 283.5,1244.5 295.8,1236.2 302.0,1236.2 314.4,1250.7 324.7,1275.4 330.8,1300.1 337.0,1339.3 341.2,1346.5 357.6,1349.6 370.0,1368.1 376.2,1382.5 382.4,1407.3 396.8,1469.1 411.2,1539.1 416.4,1561.8 428.7,1552.5 432.8,1539.1 440.0,1469.1 448.3,1407.3 460.7,1366.0 471.0,1335.2 483.3,1308.4 495.7,1293.9 501.9,1291.9 520.0,1269.2 528.2,1256.8 540.6,1250.7 550.9,1241.4 559.2,1242.4 567.4,1256.8 577.7,1271.3 585.9,1284.7 602.4,1296.0 610.7,1308.4 616.8,1318.7 623.0,1320.7 637.5,1313.5 653.9,1312.5 664.2,1308.4 682.8,1297.0 699.3,1285.7 715.8,1276.4 730.2,1272.3 746.7,1263.0 763.1,1254.8 769.3,1248.6 783.8,1242.4 802.3,1238.3 812.4,1240.8 830.9,1244.9 847.4,1256.2 861.8,1270.7 874.2,1287.2 886.5,1301.6 892.7,1311.9 903.0,1328.4 915.4,1333.5 925.7,1335.6 936.0,1332.5 946.3,1328.4 952.5,1333.5 962.8,1344.8 977.2,1354.1 987.5,1357.2 997.8,1356.2 1008.1,1349.0 1018.4,1348.0 1026.7,1346.9 1039.0,1324.2 1047.3,1299.5 1055.5,1274.8 1065.8,1256.2 1078.2,1248.0 1091.0,1249.0 1097.6,1250.1 1113.0,1261.1 1124.0,1280.9 1132.7,1302.9 1143.7,1340.2 1154.7,1393.0 1167.9,1434.7 1178.9,1472.1 1185.5,1487.5 1190.7,1492.0 1203.0,1476.5 1216.3,1439.1 1233.8,1390.8 1242.6,1382.0 1255.8,1374.3 1264.6,1377.6 1273.4,1393.0 1282.2,1412.7 1291.0,1433.6" fill="none" stroke="#2f79e6" stroke-width="5" stroke-linejoin="round"/>
<line x1="902" y1="1262.6" x2="1135" y2="1262.6" stroke="#dcb2ba" stroke-width="1.5" stroke-dasharray="7.2,2.7"/>
<line x1="892" y1="1301.6" x2="1156" y2="1301.6" stroke="#4a5ea8" stroke-width="1.5" stroke-dasharray="7.2,2.7"/>
<line x1="896" y1="1492.2" x2="953" y2="1492.2" stroke="#bcbcbc" stroke-width="1.4" stroke-dasharray="7.2,2.7"/>
<circle cx="886.5" cy="1301.6" r="6" fill="#2f79e6"/>
<circle cx="888.6" cy="1491.6" r="6.2" fill="#5a5a5a"/>
<text x="1136.5" y="1269.9" fill="#e2b3b3">BS = 0.1781</text>
<text x="1160" y="1309.5" fill="#2f74d8">BS = 0.293953</text>
<text x="955.5" y="1499.2" fill="#aaaaaa">BS = 0.9895</text>
<text x="802" y="1560.7">EP Boundary</text>
<g fill="none" stroke="#000" stroke-width="2.4"><line x1="234.7" y1="1698" x2="234.7" y2="2045"/><line x1="233.5" y1="2043.5" x2="1295" y2="2043.5"/></g>
<line x1="229" y1="1704.7" x2="234.7" y2="1704.7" stroke="#000" stroke-width="1.6"/>
<text x="224" y="1715" text-anchor="end">0.025</text>
<text x="210.5" y="2053.5" text-anchor="end">0</text>
<line x1="353.4" y1="2043.5" x2="353.4" y2="2050.5" stroke="#000" stroke-width="1.6"/>
<text x="353.4" y="2075" text-anchor="middle">4.5</text>
<line x1="631.4" y1="2043.5" x2="631.4" y2="2050.5" stroke="#000" stroke-width="1.6"/>
<text x="631.4" y="2075" text-anchor="middle">5.0</text>
<line x1="909.4" y1="2043.5" x2="909.4" y2="2050.5" stroke="#000" stroke-width="1.6"/>
<text x="909.4" y="2075" text-anchor="middle">5.5</text>
<line x1="1187.4" y1="2043.5" x2="1187.4" y2="2050.5" stroke="#000" stroke-width="1.6"/>
<text x="1187.4" y="2075" text-anchor="middle">6.0</text>
<text transform="translate(142.7,1864.3) rotate(-90)" text-anchor="middle">Virtual 4C</text>
<rect x="509" y="1698.3" width="42.4" height="344" fill="#e4e4e4"/>
<g clip-path="url(#clipC)">
<path d="M235.5,2042.3 L235.5,2041.0 242.2,2029.8 250.5,2026.1 257.7,2030.2 263.9,2023.2 274.2,2029.8 285.5,2020.5 291.7,2024.0 297.9,2028.8 303.0,2020.5 310.2,2023.2 318.5,2027.8 324.7,2017.0 328.8,2024.7 336.0,2011.3 346.3,2013.3 352.5,2019.5 357.6,2012.9 365.9,2015.4 369.0,2022.6 375.2,2009.2 384.4,2015.4 390.6,2011.3 398.8,2007.1 405.0,2012.9 409.2,2013.3 415.3,1994.8 420.5,1999.9 425.6,1978.3 430.8,1974.6 437.0,2001.0 442.1,2008.2 448.3,2002.0 453.5,2000.0 458.6,2019.5 463.8,2001.0 469.9,2012.3 475.1,2023.6 481.3,2011.3 486.4,2009.2 491.6,2018.5 497.8,2006.1 502.9,2005.5 510.1,2008.2 519.4,2006.1 525.2,2011.3 531.3,1999.3 536.5,2003.0 542.7,2018.5 547.8,2011.3 553.0,2019.5 559.2,2009.2 564.3,2014.4 570.5,2003.0 575.6,2020.5 587.0,1988.6 592.1,2005.1 597.9,2026.1 603.5,2005.1 609.0,2028.2 614.8,1995.2 625.1,2015.8 631.3,2020.5 636.4,2010.2 642.6,2006.1 651.9,2014.4 659.1,2025.7 664.2,2017.5 670.4,2019.5 680.7,2015.0 686.9,2008.2 692.7,2030.8 698.2,1994.4 703.4,2017.5 709.6,2009.2 714.7,2013.3 720.9,2020.5 736.4,2014.4 744.6,2015.4 752.8,2009.2 759.0,2003.0 765.2,2013.3 770.4,2015.4 775.5,2021.6 786.8,2020.5 793.0,2007.1 799.2,2015.4 804.4,2021.6 809.5,2011.3 815.2,2023.1 822.4,2014.8 830.6,2015.9 837.8,2024.1 844.0,2023.1 848.1,1993.2 854.3,1998.4 860.5,2012.8 869.8,1997.3 875.9,1974.7 881.1,1966.4 892.4,1902.5 898.6,1918.0 904.8,1903.6 909.9,1821.2 920.2,1869.6 926.4,1866.5 932.6,1855.1 937.8,1864.4 943.5,1852.1 949.1,1913.9 955.3,1854.1 960.4,1895.3 970.7,1840.7 976.9,1842.8 983.1,1833.5 989.3,1772.7 995.5,1721.2 999.0,1640.0 1011.0,1640.0 1016.0,2042.7 1038.3,2042.7 1042.0,1640.0 1046.0,1660.0 1055.2,1849.0 1060.4,1872.7 1066.5,1873.7 1071.7,1933.5 1077.9,1923.1 1083.0,1928.3 1089.2,1922.1 1094.1,1895.3 1099.3,1932.4 1104.4,1927.3 1109.6,1940.7 1116.8,1963.3 1123.0,1933.5 1127.1,1929.3 1133.3,1937.6 1144.6,1926.2 1149.8,1902.5 1155.5,1875.8 1161.1,1896.4 1165.2,1897.4 1171.4,1930.4 1177.6,1919.0 1188.9,1976.7 1195.1,1957.2 1199.2,1977.8 1209.5,1991.1 1215.7,1995.3 1226.0,2007.6 1232.2,2003.5 1238.4,2001.4 1243.5,1991.1 1248.7,2009.7 1254.8,2002.5 1261.0,2011.8 1267.2,2022.1 1276.5,2013.8 1283.7,2008.7 1288.8,1992.2 1294.0,2023.1 L1294.0,2042.3 Z" fill="#dedede"/>
<polyline points="235.5,2041.0 242.2,2029.8 250.5,2026.1 257.7,2030.2 263.9,2023.2 274.2,2029.8 285.5,2020.5 291.7,2024.0 297.9,2028.8 303.0,2020.5 310.2,2023.2 318.5,2027.8 324.7,2017.0 328.8,2024.7 336.0,2011.3 346.3,2013.3 352.5,2019.5 357.6,2012.9 365.9,2015.4 369.0,2022.6 375.2,2009.2 384.4,2015.4 390.6,2011.3 398.8,2007.1 405.0,2012.9 409.2,2013.3 415.3,1994.8 420.5,1999.9 425.6,1978.3 430.8,1974.6 437.0,2001.0 442.1,2008.2 448.3,2002.0 453.5,2000.0 458.6,2019.5 463.8,2001.0 469.9,2012.3 475.1,2023.6 481.3,2011.3 486.4,2009.2 491.6,2018.5 497.8,2006.1 502.9,2005.5 510.1,2008.2 519.4,2006.1 525.2,2011.3 531.3,1999.3 536.5,2003.0 542.7,2018.5 547.8,2011.3 553.0,2019.5 559.2,2009.2 564.3,2014.4 570.5,2003.0 575.6,2020.5 587.0,1988.6 592.1,2005.1 597.9,2026.1 603.5,2005.1 609.0,2028.2 614.8,1995.2 625.1,2015.8 631.3,2020.5 636.4,2010.2 642.6,2006.1 651.9,2014.4 659.1,2025.7 664.2,2017.5 670.4,2019.5 680.7,2015.0 686.9,2008.2 692.7,2030.8 698.2,1994.4 703.4,2017.5 709.6,2009.2 714.7,2013.3 720.9,2020.5 736.4,2014.4 744.6,2015.4 752.8,2009.2 759.0,2003.0 765.2,2013.3 770.4,2015.4 775.5,2021.6 786.8,2020.5 793.0,2007.1 799.2,2015.4 804.4,2021.6 809.5,2011.3 815.2,2023.1 822.4,2014.8 830.6,2015.9 837.8,2024.1 844.0,2023.1 848.1,1993.2 854.3,1998.4 860.5,2012.8 869.8,1997.3 875.9,1974.7 881.1,1966.4 892.4,1902.5 898.6,1918.0 904.8,1903.6 909.9,1821.2 920.2,1869.6 926.4,1866.5 932.6,1855.1 937.8,1864.4 943.5,1852.1 949.1,1913.9 955.3,1854.1 960.4,1895.3 970.7,1840.7 976.9,1842.8 983.1,1833.5 989.3,1772.7 995.5,1721.2 999.0,1640.0 1011.0,1640.0 1016.0,2042.7 1038.3,2042.7 1042.0,1640.0 1046.0,1660.0 1055.2,1849.0 1060.4,1872.7 1066.5,1873.7 1071.7,1933.5 1077.9,1923.1 1083.0,1928.3 1089.2,1922.1 1094.1,1895.3 1099.3,1932.4 1104.4,1927.3 1109.6,1940.7 1116.8,1963.3 1123.0,1933.5 1127.1,1929.3 1133.3,1937.6 1144.6,1926.2 1149.8,1902.5 1155.5,1875.8 1161.1,1896.4 1165.2,1897.4 1171.4,1930.4 1177.6,1919.0 1188.9,1976.7 1195.1,1957.2 1199.2,1977.8 1209.5,1991.1 1215.7,1995.3 1226.0,2007.6 1232.2,2003.5 1238.4,2001.4 1243.5,1991.1 1248.7,2009.7 1254.8,2002.5 1261.0,2011.8 1267.2,2022.1 1276.5,2013.8 1283.7,2008.7 1288.8,1992.2 1294.0,2023.1" fill="none" stroke="#9a9a9a" stroke-width="2"/>
<path d="M235.5,2042.3 L235.5,2034.0 240.2,2032.9 246.4,2021.6 252.5,2023.2 258.7,2020.5 264.9,2024.7 274.2,2028.8 280.4,2021.6 287.6,2024.7 295.8,2029.4 303.0,2030.2 308.2,2027.8 319.5,2014.4 324.7,2026.7 330.8,2024.7 337.0,2017.5 346.3,2018.5 352.5,2014.4 358.7,2013.3 369.0,2023.6 374.1,2012.9 386.5,2016.4 392.7,2003.0 396.8,1999.9 403.0,1997.9 409.2,2001.0 415.3,1986.5 420.5,1981.4 424.6,1968.0 430.8,1921.6 437.0,1919.6 442.1,1971.1 447.3,1971.7 453.5,1993.8 458.6,1993.8 463.8,1995.8 468.9,1995.2 475.1,1997.3 481.3,1993.8 487.4,1991.7 492.6,1986.1 497.8,1968.0 502.9,1956.7 508.1,1961.8 514.2,1970.1 519.4,1967.4 525.2,1971.1 536.5,1949.5 547.8,1992.7 554.0,1979.3 559.2,1974.2 564.3,1961.8 570.5,1979.3 576.7,1972.1 581.8,1968.0 587.0,1951.5 592.1,1961.8 598.3,1975.2 603.5,1977.3 608.6,1972.1 614.8,1946.4 620.6,1937.1 626.1,1943.3 631.3,1966.4 637.0,1955.6 642.6,1965.9 647.8,1966.4 653.5,1954.0 660.1,1968.0 665.3,1975.2 670.4,1972.1 675.6,1976.2 681.8,1992.7 686.9,1993.8 693.1,2005.1 699.3,1998.9 704.4,1996.8 709.6,1997.9 714.7,1995.8 720.9,2002.0 726.1,2001.0 731.2,1992.7 737.4,1996.8 742.5,1992.7 753.9,1993.8 759.4,1988.2 765.2,1995.2 770.4,1988.6 776.5,1988.2 781.7,1996.8 787.9,1999.3 798.2,2001.4 804.4,2010.9 809.5,2004.1 820.3,1997.3 826.5,2006.6 831.6,1996.3 841.9,2002.5 854.3,1995.3 860.5,2005.6 869.8,1996.3 875.9,1977.8 881.1,1979.8 887.3,1995.3 893.5,1972.6 898.6,1979.8 904.8,1967.4 911.0,1961.3 915.1,1960.6 925.4,1944.8 932.6,1925.2 937.8,1929.3 943.9,1949.9 949.1,1951.0 955.3,1959.2 961.5,1929.3 965.6,1912.8 971.8,1923.1 976.9,1912.8 985.1,1857.2 993.4,1797.5 999.6,1721.2 1004.0,1640.0 1011.0,1640.0 1016.0,2042.7 1038.3,2042.7 1042.5,1640.0 1046.6,1685.0 1050.0,1849.0 1055.2,1904.6 1061.4,1923.1 1071.7,1960.2 1077.9,1946.8 1083.0,1957.2 1088.2,1957.2 1094.4,1942.7 1098.2,1936.5 1104.4,1949.9 1109.6,1952.0 1116.8,1966.4 1120.9,1965.4 1131.2,1945.8 1138.4,1938.6 1144.0,1944.8 1149.8,1906.7 1155.5,1869.6 1160.7,1854.1 1166.2,1898.4 1172.4,1906.7 1177.6,1900.5 1183.8,1953.0 1188.9,1953.0 1194.1,1942.7 1199.2,1976.7 1208.5,1995.3 1215.7,2007.6 1221.9,2009.7 1227.0,2008.7 1232.2,2016.9 1237.3,2016.9 1246.6,2012.8 1259.0,2012.8 1266.2,2016.9 1271.3,2023.1 1277.5,2015.9 1283.7,2022.1 1288.8,2013.8 1294.0,2017.9 L1294.0,2042.3 Z" fill="rgb(32,60,237)" fill-opacity="0.28"/>
</g>
<g clip-path="url(#clipEnh)">
<path d="M235.5,2042.3 L235.5,2034.0 240.2,2032.9 246.4,2021.6 252.5,2023.2 258.7,2020.5 264.9,2024.7 274.2,2028.8 280.4,2021.6 287.6,2024.7 295.8,2029.4 303.0,2030.2 308.2,2027.8 319.5,2014.4 324.7,2026.7 330.8,2024.7 337.0,2017.5 346.3,2018.5 352.5,2014.4 358.7,2013.3 369.0,2023.6 374.1,2012.9 386.5,2016.4 392.7,2003.0 396.8,1999.9 403.0,1997.9 409.2,2001.0 415.3,1986.5 420.5,1981.4 424.6,1968.0 430.8,1921.6 437.0,1919.6 442.1,1971.1 447.3,1971.7 453.5,1993.8 458.6,1993.8 463.8,1995.8 468.9,1995.2 475.1,1997.3 481.3,1993.8 487.4,1991.7 492.6,1986.1 497.8,1968.0 502.9,1956.7 508.1,1961.8 514.2,1970.1 519.4,1967.4 525.2,1971.1 536.5,1949.5 547.8,1992.7 554.0,1979.3 559.2,1974.2 564.3,1961.8 570.5,1979.3 576.7,1972.1 581.8,1968.0 587.0,1951.5 592.1,1961.8 598.3,1975.2 603.5,1977.3 608.6,1972.1 614.8,1946.4 620.6,1937.1 626.1,1943.3 631.3,1966.4 637.0,1955.6 642.6,1965.9 647.8,1966.4 653.5,1954.0 660.1,1968.0 665.3,1975.2 670.4,1972.1 675.6,1976.2 681.8,1992.7 686.9,1993.8 693.1,2005.1 699.3,1998.9 704.4,1996.8 709.6,1997.9 714.7,1995.8 720.9,2002.0 726.1,2001.0 731.2,1992.7 737.4,1996.8 742.5,1992.7 753.9,1993.8 759.4,1988.2 765.2,1995.2 770.4,1988.6 776.5,1988.2 781.7,1996.8 787.9,1999.3 798.2,2001.4 804.4,2010.9 809.5,2004.1 820.3,1997.3 826.5,2006.6 831.6,1996.3 841.9,2002.5 854.3,1995.3 860.5,2005.6 869.8,1996.3 875.9,1977.8 881.1,1979.8 887.3,1995.3 893.5,1972.6 898.6,1979.8 904.8,1967.4 911.0,1961.3 915.1,1960.6 925.4,1944.8 932.6,1925.2 937.8,1929.3 943.9,1949.9 949.1,1951.0 955.3,1959.2 961.5,1929.3 965.6,1912.8 971.8,1923.1 976.9,1912.8 985.1,1857.2 993.4,1797.5 999.6,1721.2 1004.0,1640.0 1011.0,1640.0 1016.0,2042.7 1038.3,2042.7 1042.5,1640.0 1046.6,1685.0 1050.0,1849.0 1055.2,1904.6 1061.4,1923.1 1071.7,1960.2 1077.9,1946.8 1083.0,1957.2 1088.2,1957.2 1094.4,1942.7 1098.2,1936.5 1104.4,1949.9 1109.6,1952.0 1116.8,1966.4 1120.9,1965.4 1131.2,1945.8 1138.4,1938.6 1144.0,1944.8 1149.8,1906.7 1155.5,1869.6 1160.7,1854.1 1166.2,1898.4 1172.4,1906.7 1177.6,1900.5 1183.8,1953.0 1188.9,1953.0 1194.1,1942.7 1199.2,1976.7 1208.5,1995.3 1215.7,2007.6 1221.9,2009.7 1227.0,2008.7 1232.2,2016.9 1237.3,2016.9 1246.6,2012.8 1259.0,2012.8 1266.2,2016.9 1271.3,2023.1 1277.5,2015.9 1283.7,2022.1 1288.8,2013.8 1294.0,2017.9 L1294.0,2042.3 Z" fill="#80aef0"/>
<path d="M235.5,2042.3 L235.5,2041.0 242.2,2029.8 250.5,2026.1 257.7,2030.2 263.9,2023.2 274.2,2029.8 285.5,2020.5 291.7,2024.0 297.9,2028.8 303.0,2020.5 310.2,2023.2 318.5,2027.8 324.7,2017.0 328.8,2024.7 336.0,2011.3 346.3,2013.3 352.5,2019.5 357.6,2012.9 365.9,2015.4 369.0,2022.6 375.2,2009.2 384.4,2015.4 390.6,2011.3 398.8,2007.1 405.0,2012.9 409.2,2013.3 415.3,1994.8 420.5,1999.9 425.6,1978.3 430.8,1974.6 437.0,2001.0 442.1,2008.2 448.3,2002.0 453.5,2000.0 458.6,2019.5 463.8,2001.0 469.9,2012.3 475.1,2023.6 481.3,2011.3 486.4,2009.2 491.6,2018.5 497.8,2006.1 502.9,2005.5 510.1,2008.2 519.4,2006.1 525.2,2011.3 531.3,1999.3 536.5,2003.0 542.7,2018.5 547.8,2011.3 553.0,2019.5 559.2,2009.2 564.3,2014.4 570.5,2003.0 575.6,2020.5 587.0,1988.6 592.1,2005.1 597.9,2026.1 603.5,2005.1 609.0,2028.2 614.8,1995.2 625.1,2015.8 631.3,2020.5 636.4,2010.2 642.6,2006.1 651.9,2014.4 659.1,2025.7 664.2,2017.5 670.4,2019.5 680.7,2015.0 686.9,2008.2 692.7,2030.8 698.2,1994.4 703.4,2017.5 709.6,2009.2 714.7,2013.3 720.9,2020.5 736.4,2014.4 744.6,2015.4 752.8,2009.2 759.0,2003.0 765.2,2013.3 770.4,2015.4 775.5,2021.6 786.8,2020.5 793.0,2007.1 799.2,2015.4 804.4,2021.6 809.5,2011.3 815.2,2023.1 822.4,2014.8 830.6,2015.9 837.8,2024.1 844.0,2023.1 848.1,1993.2 854.3,1998.4 860.5,2012.8 869.8,1997.3 875.9,1974.7 881.1,1966.4 892.4,1902.5 898.6,1918.0 904.8,1903.6 909.9,1821.2 920.2,1869.6 926.4,1866.5 932.6,1855.1 937.8,1864.4 943.5,1852.1 949.1,1913.9 955.3,1854.1 960.4,1895.3 970.7,1840.7 976.9,1842.8 983.1,1833.5 989.3,1772.7 995.5,1721.2 999.0,1640.0 1011.0,1640.0 1016.0,2042.7 1038.3,2042.7 1042.0,1640.0 1046.0,1660.0 1055.2,1849.0 1060.4,1872.7 1066.5,1873.7 1071.7,1933.5 1077.9,1923.1 1083.0,1928.3 1089.2,1922.1 1094.1,1895.3 1099.3,1932.4 1104.4,1927.3 1109.6,1940.7 1116.8,1963.3 1123.0,1933.5 1127.1,1929.3 1133.3,1937.6 1144.6,1926.2 1149.8,1902.5 1155.5,1875.8 1161.1,1896.4 1165.2,1897.4 1171.4,1930.4 1177.6,1919.0 1188.9,1976.7 1195.1,1957.2 1199.2,1977.8 1209.5,1991.1 1215.7,1995.3 1226.0,2007.6 1232.2,2003.5 1238.4,2001.4 1243.5,1991.1 1248.7,2009.7 1254.8,2002.5 1261.0,2011.8 1267.2,2022.1 1276.5,2013.8 1283.7,2008.7 1288.8,1992.2 1294.0,2023.1 L1294.0,2042.3 Z" fill="#6494d8"/>
<polyline points="235.5,2041.0 242.2,2029.8 250.5,2026.1 257.7,2030.2 263.9,2023.2 274.2,2029.8 285.5,2020.5 291.7,2024.0 297.9,2028.8 303.0,2020.5 310.2,2023.2 318.5,2027.8 324.7,2017.0 328.8,2024.7 336.0,2011.3 346.3,2013.3 352.5,2019.5 357.6,2012.9 365.9,2015.4 369.0,2022.6 375.2,2009.2 384.4,2015.4 390.6,2011.3 398.8,2007.1 405.0,2012.9 409.2,2013.3 415.3,1994.8 420.5,1999.9 425.6,1978.3 430.8,1974.6 437.0,2001.0 442.1,2008.2 448.3,2002.0 453.5,2000.0 458.6,2019.5 463.8,2001.0 469.9,2012.3 475.1,2023.6 481.3,2011.3 486.4,2009.2 491.6,2018.5 497.8,2006.1 502.9,2005.5 510.1,2008.2 519.4,2006.1 525.2,2011.3 531.3,1999.3 536.5,2003.0 542.7,2018.5 547.8,2011.3 553.0,2019.5 559.2,2009.2 564.3,2014.4 570.5,2003.0 575.6,2020.5 587.0,1988.6 592.1,2005.1 597.9,2026.1 603.5,2005.1 609.0,2028.2 614.8,1995.2 625.1,2015.8 631.3,2020.5 636.4,2010.2 642.6,2006.1 651.9,2014.4 659.1,2025.7 664.2,2017.5 670.4,2019.5 680.7,2015.0 686.9,2008.2 692.7,2030.8 698.2,1994.4 703.4,2017.5 709.6,2009.2 714.7,2013.3 720.9,2020.5 736.4,2014.4 744.6,2015.4 752.8,2009.2 759.0,2003.0 765.2,2013.3 770.4,2015.4 775.5,2021.6 786.8,2020.5 793.0,2007.1 799.2,2015.4 804.4,2021.6 809.5,2011.3 815.2,2023.1 822.4,2014.8 830.6,2015.9 837.8,2024.1 844.0,2023.1 848.1,1993.2 854.3,1998.4 860.5,2012.8 869.8,1997.3 875.9,1974.7 881.1,1966.4 892.4,1902.5 898.6,1918.0 904.8,1903.6 909.9,1821.2 920.2,1869.6 926.4,1866.5 932.6,1855.1 937.8,1864.4 943.5,1852.1 949.1,1913.9 955.3,1854.1 960.4,1895.3 970.7,1840.7 976.9,1842.8 983.1,1833.5 989.3,1772.7 995.5,1721.2 999.0,1640.0 1011.0,1640.0 1016.0,2042.7 1038.3,2042.7 1042.0,1640.0 1046.0,1660.0 1055.2,1849.0 1060.4,1872.7 1066.5,1873.7 1071.7,1933.5 1077.9,1923.1 1083.0,1928.3 1089.2,1922.1 1094.1,1895.3 1099.3,1932.4 1104.4,1927.3 1109.6,1940.7 1116.8,1963.3 1123.0,1933.5 1127.1,1929.3 1133.3,1937.6 1144.6,1926.2 1149.8,1902.5 1155.5,1875.8 1161.1,1896.4 1165.2,1897.4 1171.4,1930.4 1177.6,1919.0 1188.9,1976.7 1195.1,1957.2 1199.2,1977.8 1209.5,1991.1 1215.7,1995.3 1226.0,2007.6 1232.2,2003.5 1238.4,2001.4 1243.5,1991.1 1248.7,2009.7 1254.8,2002.5 1261.0,2011.8 1267.2,2022.1 1276.5,2013.8 1283.7,2008.7 1288.8,1992.2 1294.0,2023.1" fill="none" stroke="#3a6ac0" stroke-width="2"/>
</g>
<g clip-path="url(#clipC)"><polyline points="235.5,2034.0 240.2,2032.9 246.4,2021.6 252.5,2023.2 258.7,2020.5 264.9,2024.7 274.2,2028.8 280.4,2021.6 287.6,2024.7 295.8,2029.4 303.0,2030.2 308.2,2027.8 319.5,2014.4 324.7,2026.7 330.8,2024.7 337.0,2017.5 346.3,2018.5 352.5,2014.4 358.7,2013.3 369.0,2023.6 374.1,2012.9 386.5,2016.4 392.7,2003.0 396.8,1999.9 403.0,1997.9 409.2,2001.0 415.3,1986.5 420.5,1981.4 424.6,1968.0 430.8,1921.6 437.0,1919.6 442.1,1971.1 447.3,1971.7 453.5,1993.8 458.6,1993.8 463.8,1995.8 468.9,1995.2 475.1,1997.3 481.3,1993.8 487.4,1991.7 492.6,1986.1 497.8,1968.0 502.9,1956.7 508.1,1961.8 514.2,1970.1 519.4,1967.4 525.2,1971.1 536.5,1949.5 547.8,1992.7 554.0,1979.3 559.2,1974.2 564.3,1961.8 570.5,1979.3 576.7,1972.1 581.8,1968.0 587.0,1951.5 592.1,1961.8 598.3,1975.2 603.5,1977.3 608.6,1972.1 614.8,1946.4 620.6,1937.1 626.1,1943.3 631.3,1966.4 637.0,1955.6 642.6,1965.9 647.8,1966.4 653.5,1954.0 660.1,1968.0 665.3,1975.2 670.4,1972.1 675.6,1976.2 681.8,1992.7 686.9,1993.8 693.1,2005.1 699.3,1998.9 704.4,1996.8 709.6,1997.9 714.7,1995.8 720.9,2002.0 726.1,2001.0 731.2,1992.7 737.4,1996.8 742.5,1992.7 753.9,1993.8 759.4,1988.2 765.2,1995.2 770.4,1988.6 776.5,1988.2 781.7,1996.8 787.9,1999.3 798.2,2001.4 804.4,2010.9 809.5,2004.1 820.3,1997.3 826.5,2006.6 831.6,1996.3 841.9,2002.5 854.3,1995.3 860.5,2005.6 869.8,1996.3 875.9,1977.8 881.1,1979.8 887.3,1995.3 893.5,1972.6 898.6,1979.8 904.8,1967.4 911.0,1961.3 915.1,1960.6 925.4,1944.8 932.6,1925.2 937.8,1929.3 943.9,1949.9 949.1,1951.0 955.3,1959.2 961.5,1929.3 965.6,1912.8 971.8,1923.1 976.9,1912.8 985.1,1857.2 993.4,1797.5 999.6,1721.2 1004.0,1640.0 1011.0,1640.0 1016.0,2042.7 1038.3,2042.7 1042.5,1640.0 1046.6,1685.0 1050.0,1849.0 1055.2,1904.6 1061.4,1923.1 1071.7,1960.2 1077.9,1946.8 1083.0,1957.2 1088.2,1957.2 1094.4,1942.7 1098.2,1936.5 1104.4,1949.9 1109.6,1952.0 1116.8,1966.4 1120.9,1965.4 1131.2,1945.8 1138.4,1938.6 1144.0,1944.8 1149.8,1906.7 1155.5,1869.6 1160.7,1854.1 1166.2,1898.4 1172.4,1906.7 1177.6,1900.5 1183.8,1953.0 1188.9,1953.0 1194.1,1942.7 1199.2,1976.7 1208.5,1995.3 1215.7,2007.6 1221.9,2009.7 1227.0,2008.7 1232.2,2016.9 1237.3,2016.9 1246.6,2012.8 1259.0,2012.8 1266.2,2016.9 1271.3,2023.1 1277.5,2015.9 1283.7,2022.1 1288.8,2013.8 1294.0,2017.9" fill="none" stroke="#2f6fd6" stroke-width="2.2" stroke-linejoin="round"/></g>
<g clip-path="url(#clipC)"><path d="M1011.3,1640 L1016,2042.5 M1038.3,2042.5 L1042.3,1640" stroke="#1c2c64" stroke-width="2.2" fill="none"/></g>
<text x="1269" y="1739.8" fill="#2f6fd6" font-style="italic">R3-only</text>
<text x="1267" y="1778.5" fill="#aaaaaa" font-style="italic">DelBs</text>
<g fill="none" stroke="#000" stroke-width="2.4"><line x1="234.7" y1="2134.5" x2="234.7" y2="2630"/><line x1="233.5" y1="2628.8" x2="1078.8" y2="2628.8"/></g>
<line x1="214.7" y1="2628.7" x2="234.7" y2="2628.7" stroke="#000" stroke-width="2.2"/>
<text x="205.5" y="2641.0" text-anchor="end" font-size="34.3">0</text>
<line x1="214.7" y1="2505.8" x2="234.7" y2="2505.8" stroke="#000" stroke-width="2.2"/>
<text x="205.5" y="2518.1" text-anchor="end" font-size="34.3">10</text>
<line x1="214.7" y1="2382.9" x2="234.7" y2="2382.9" stroke="#000" stroke-width="2.2"/>
<text x="205.5" y="2395.2" text-anchor="end" font-size="34.3">20</text>
<line x1="214.7" y1="2260.0" x2="234.7" y2="2260.0" stroke="#000" stroke-width="2.2"/>
<text x="205.5" y="2272.3" text-anchor="end" font-size="34.3">30</text>
<line x1="214.7" y1="2137.1" x2="234.7" y2="2137.1" stroke="#000" stroke-width="2.2"/>
<text x="205.5" y="2149.4" text-anchor="end" font-size="34.3">40</text>
<text transform="translate(143,2357.5) rotate(-90)" text-anchor="middle"><tspan font-style="italic">Pax3</tspan> expression fold change</text>
<rect x="290.6" y="2620.8" width="101.8" height="8.0" fill="#a6a6a6" stroke="#1a1a1a" stroke-width="1.6"/>
<line x1="342" y1="2628.8" x2="342" y2="2637" stroke="#000" stroke-width="2"/>
<rect x="450.7" y="2598.6" width="106.0" height="30.2" fill="#b3c6cc" stroke="#1a1a1a" stroke-width="1.6"/>
<line x1="503.7" y1="2628.8" x2="503.7" y2="2637" stroke="#000" stroke-width="2"/>
<rect x="606" y="2519.0" width="106.0" height="109.8" fill="#e4a090" stroke="#1a1a1a" stroke-width="1.6"/>
<line x1="660" y1="2628.8" x2="660" y2="2637" stroke="#000" stroke-width="2"/>
<rect x="776.2" y="2288.8" width="106.8" height="340.0" fill="#5b8ff9" stroke="#1a1a1a" stroke-width="1.6"/>
<line x1="829.8" y1="2628.8" x2="829.8" y2="2637" stroke="#000" stroke-width="2"/>
<rect x="936.3" y="2321.8" width="101.3" height="307.0" fill="#e4b6b6" stroke="#1a1a1a" stroke-width="1.6"/>
<line x1="986.7" y1="2628.8" x2="986.7" y2="2637" stroke="#000" stroke-width="2"/>
<circle cx="291.6" cy="2616.6" r="9.3" fill="#fff" stroke="#000" stroke-width="2.6"/>
<circle cx="342" cy="2616.6" r="9.3" fill="#fff" stroke="#000" stroke-width="2.6"/>
<circle cx="390.8" cy="2616.6" r="9.3" fill="#fff" stroke="#000" stroke-width="2.6"/>
<circle cx="473" cy="2593.3" r="9.3" fill="#fff" stroke="#000" stroke-width="2.6"/>
<circle cx="503.7" cy="2593.3" r="9.3" fill="#fff" stroke="#000" stroke-width="2.6"/>
<circle cx="535.5" cy="2598" r="9.3" fill="#fff" stroke="#000" stroke-width="2.6"/>
<circle cx="628.3" cy="2509.5" r="9.3" fill="#fff" stroke="#000" stroke-width="2.6"/>
<circle cx="659" cy="2510.5" r="9.3" fill="#fff" stroke="#000" stroke-width="2.6"/>
<circle cx="689.3" cy="2528" r="9.3" fill="#fff" stroke="#000" stroke-width="2.6"/>
<circle cx="829.8" cy="2248.3" r="9.3" fill="#fff" stroke="#000" stroke-width="2.6"/>
<circle cx="829.8" cy="2278.5" r="9.3" fill="#fff" stroke="#000" stroke-width="2.6"/>
<circle cx="829.8" cy="2330" r="9.3" fill="#fff" stroke="#000" stroke-width="2.6"/>
<circle cx="986.7" cy="2256.9" r="9.3" fill="#fff" stroke="#000" stroke-width="2.6"/>
<circle cx="986.7" cy="2289.5" r="9.3" fill="#fff" stroke="#000" stroke-width="2.6"/>
<circle cx="986.7" cy="2327.9" r="9.3" fill="#fff" stroke="#000" stroke-width="2.6"/>
<circle cx="974" cy="2352.3" r="9.3" fill="#fff" stroke="#000" stroke-width="2.6"/>
<circle cx="999.5" cy="2364" r="9.3" fill="#fff" stroke="#000" stroke-width="2.6"/>
<path d="M836.7,2202 V2181.3 H984.3 V2202" fill="none" stroke="#000" stroke-width="2.6"/>
<text x="911" y="2172.7" text-anchor="middle">ns</text>
<text transform="translate(294.8,2701.0) rotate(-30)" font-style="italic">DelBs</text>
<text transform="translate(427.1,2705.5) rotate(-30)" font-style="italic">&#916;R-all</text>
<text transform="translate(592.4,2702.8) rotate(-30)" font-style="italic">&#916;F-all</text>
<text transform="translate(746.0,2717.0) rotate(-30)" font-style="italic">R3-only</text>
<text transform="translate(952.1,2702.8) rotate(-30)" font-style="italic">&#916;ALL</text>
</svg></body></html>
